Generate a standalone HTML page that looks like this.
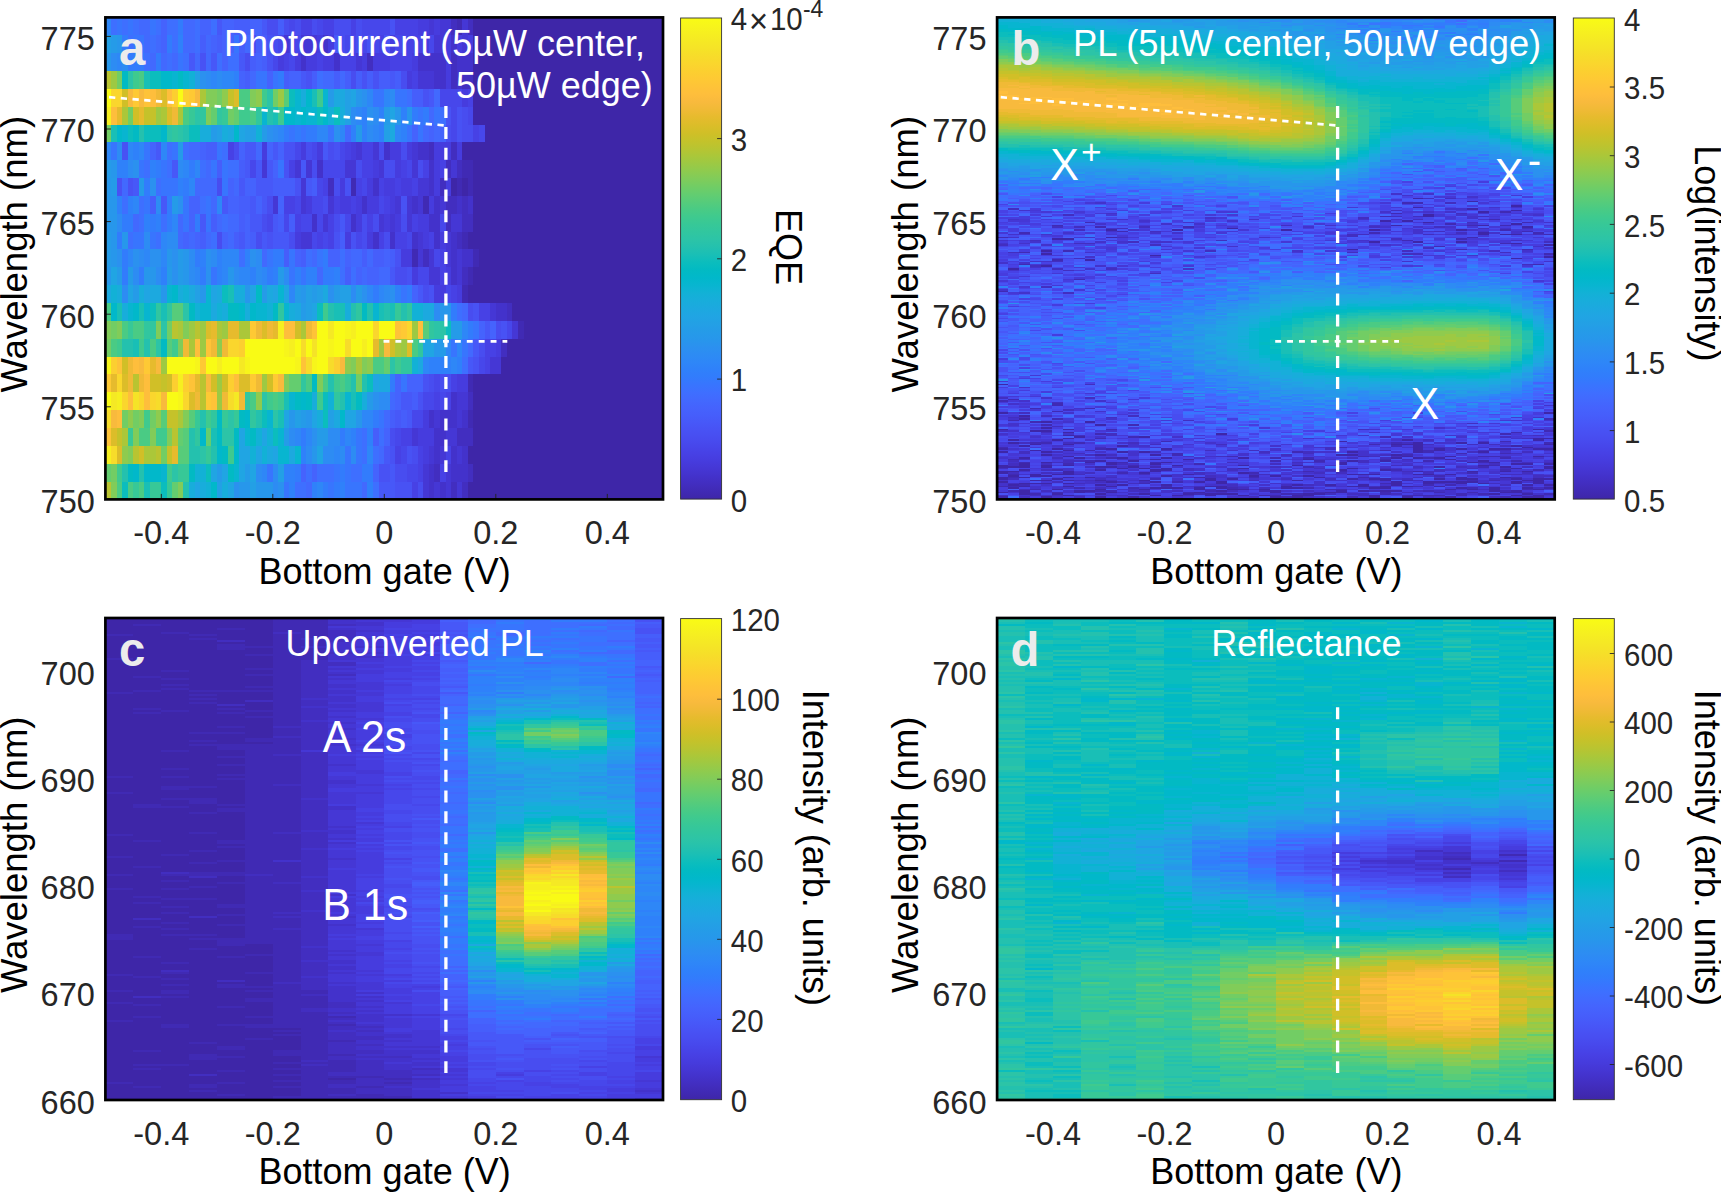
<!DOCTYPE html><html><head><meta charset="utf-8"><title>Figure</title><style>html,body{margin:0;padding:0;background:#fff}svg{display:block}text{font-family:"Liberation Sans", sans-serif}</style></head><body><svg width="1721" height="1192" viewBox="0 0 1721 1192"><rect width="1721" height="1192" fill="#fff"/><defs><linearGradient id="pg" x1="0" y1="1" x2="0" y2="0"><stop offset="0.0000" stop-color="#3e26a8"/><stop offset="0.0159" stop-color="#402ab4"/><stop offset="0.0317" stop-color="#422ec0"/><stop offset="0.0476" stop-color="#4332cb"/><stop offset="0.0635" stop-color="#4537d5"/><stop offset="0.0794" stop-color="#463cde"/><stop offset="0.0952" stop-color="#4741e5"/><stop offset="0.1111" stop-color="#4747eb"/><stop offset="0.1270" stop-color="#484df0"/><stop offset="0.1429" stop-color="#4852f4"/><stop offset="0.1587" stop-color="#4758f8"/><stop offset="0.1746" stop-color="#465efb"/><stop offset="0.1905" stop-color="#4563fd"/><stop offset="0.2063" stop-color="#4269fe"/><stop offset="0.2222" stop-color="#3e6fff"/><stop offset="0.2381" stop-color="#3875fe"/><stop offset="0.2540" stop-color="#327cfc"/><stop offset="0.2698" stop-color="#2f81fa"/><stop offset="0.2857" stop-color="#2e87f7"/><stop offset="0.3016" stop-color="#2d8cf3"/><stop offset="0.3175" stop-color="#2b91ef"/><stop offset="0.3333" stop-color="#2797eb"/><stop offset="0.3492" stop-color="#259be8"/><stop offset="0.3651" stop-color="#23a0e5"/><stop offset="0.3810" stop-color="#20a5e3"/><stop offset="0.3968" stop-color="#1ca9df"/><stop offset="0.4127" stop-color="#18addb"/><stop offset="0.4286" stop-color="#12b1d6"/><stop offset="0.4444" stop-color="#08b5d0"/><stop offset="0.4603" stop-color="#01b8ca"/><stop offset="0.4762" stop-color="#02bac3"/><stop offset="0.4921" stop-color="#0bbdbd"/><stop offset="0.5079" stop-color="#19bfb6"/><stop offset="0.5238" stop-color="#24c1ae"/><stop offset="0.5397" stop-color="#2cc4a7"/><stop offset="0.5556" stop-color="#31c69f"/><stop offset="0.5714" stop-color="#37c897"/><stop offset="0.5873" stop-color="#3fca8e"/><stop offset="0.6032" stop-color="#4acb84"/><stop offset="0.6190" stop-color="#57cc7a"/><stop offset="0.6349" stop-color="#64cd6f"/><stop offset="0.6508" stop-color="#72cd64"/><stop offset="0.6667" stop-color="#81cc59"/><stop offset="0.6825" stop-color="#8fcb4e"/><stop offset="0.6984" stop-color="#9dc943"/><stop offset="0.7143" stop-color="#abc739"/><stop offset="0.7302" stop-color="#b9c431"/><stop offset="0.7460" stop-color="#c5c22a"/><stop offset="0.7619" stop-color="#d1bf27"/><stop offset="0.7778" stop-color="#dcbd29"/><stop offset="0.7937" stop-color="#e6bb2d"/><stop offset="0.8095" stop-color="#f0ba36"/><stop offset="0.8254" stop-color="#f8ba3d"/><stop offset="0.8413" stop-color="#febe3c"/><stop offset="0.8571" stop-color="#fec338"/><stop offset="0.8730" stop-color="#fec934"/><stop offset="0.8889" stop-color="#fccf30"/><stop offset="0.9048" stop-color="#fad62d"/><stop offset="0.9206" stop-color="#f7dc2a"/><stop offset="0.9365" stop-color="#f5e327"/><stop offset="0.9524" stop-color="#f5e924"/><stop offset="0.9683" stop-color="#f6ef20"/><stop offset="0.9841" stop-color="#f7f51b"/><stop offset="1.0000" stop-color="#f9fb15"/></linearGradient></defs><svg x="105.40" y="17.40" width="557.60" height="482.00" viewBox="0 0 100 27" preserveAspectRatio="none" shape-rendering="crispEdges" fill="none" stroke-width="1"><rect width="100" height="27" fill="#3e26a8"/><path stroke="#402ab4" d="M63 .5h1M64 8.5h2M44 9.5h1M63 9.5h1M65 9.5h1M57 10.5h1M64 12.5h1M55 13.5h1M66 13.5h1M65 14.5h1M64 15.5h1M74 17.5h1M65 20.5h1M65 22.5h1"/><path stroke="#422ec0" d="M62 .5h1M65 .5h1M47 2.5h1M62 2.5h1M62 3.5h1M64 3.5h2M58 7.5h1M62 7.5h1M61 8.5h1M63 8.5h1M40 9.5h1M60 9.5h1M61 10.5h2M64 10.5h1M61 11.5h1M64 11.5h2M63 12.5h1M57 13.5h1M64 14.5h1M72 16.5h1M71 18.5h1M65 21.5h1M63 23.5h3M59 25.5h1M65 25.5h1M62 26.5h1M64 26.5h1"/><path stroke="#4332cb" d="M39 1.5h1M62 1.5h1M35 2.5h1M41 2.5h1M56 2.5h5M63 2.5h3M59 3.5h2M63 3.5h1M50 7.5h1M56 7.5h2M38 8.5h1M58 8.5h1M48 9.5h1M58 9.5h1M46 10.5h1M55 10.5h1M59 10.5h1M63 10.5h1M65 10.5h1M37 11.5h1M44 11.5h1M58 11.5h2M48 12.5h1M51 12.5h1M55 12.5h1M59 12.5h1M62 12.5h1M62 13.5h1M64 13.5h2M62 14.5h1M70 16.5h2M62 21.5h1M58 22.5h1M60 22.5h3M64 22.5h1M59 23.5h2M59 24.5h1M62 24.5h1M64 24.5h1M58 25.5h1M62 25.5h3M58 26.5h1M60 26.5h1"/><path stroke="#4537d5" d="M58 .5h1M60 .5h2M64 .5h1M32 1.5h1M35 1.5h3M59 1.5h2M64 1.5h1M45 2.5h1M56 3.5h3M45 7.5h1M48 7.5h1M55 7.5h1M28 8.5h1M34 8.5h1M36 8.5h1M43 8.5h2M49 8.5h1M55 8.5h1M62 8.5h1M35 9.5h1M56 9.5h2M30 10.5h1M35 10.5h1M40 10.5h1M52 10.5h1M54 10.5h1M56 10.5h1M60 10.5h1M39 11.5h1M49 11.5h1M51 11.5h1M54 11.5h1M62 11.5h2M35 12.5h2M56 12.5h1M61 12.5h1M56 13.5h1M58 13.5h1M61 13.5h1M63 13.5h1M58 14.5h2M63 14.5h1M69 16.5h1M73 17.5h1M69 19.5h2M63 21.5h2M59 22.5h1M63 22.5h1M55 23.5h1M61 23.5h2M58 24.5h1M60 24.5h1M63 24.5h1M57 25.5h1M61 25.5h1M57 26.5h1M59 26.5h1M61 26.5h1M63 26.5h1"/><path stroke="#463cde" d="M56 .5h2M59 .5h1M33 1.5h1M38 1.5h1M40 1.5h1M51 1.5h1M57 1.5h1M61 1.5h1M63 1.5h1M65 1.5h1M31 2.5h1M34 2.5h1M36 2.5h2M39 2.5h2M46 2.5h1M48 2.5h3M55 2.5h1M61 2.5h1M54 3.5h1M61 3.5h1M64 4.5h1M28 7.5h1M35 7.5h1M38 7.5h1M44 7.5h1M51 7.5h2M54 7.5h1M59 7.5h3M63 7.5h1M48 8.5h1M52 8.5h1M59 8.5h1M42 9.5h1M47 9.5h1M50 9.5h2M53 9.5h2M59 9.5h1M61 9.5h1M36 10.5h1M42 10.5h2M45 10.5h1M47 10.5h2M51 10.5h1M58 10.5h1M45 11.5h1M50 11.5h1M52 11.5h1M56 11.5h2M34 12.5h1M43 12.5h1M47 12.5h1M57 12.5h1M60 12.5h1M53 13.5h2M55 14.5h1M61 14.5h1M59 15.5h2M63 15.5h1M70 18.5h1M63 20.5h2M57 22.5h1M56 23.5h3M57 24.5h1"/><path stroke="#4741e5" d="M35 .5h2M39 .5h2M44 .5h1M52 .5h4M49 1.5h1M54 1.5h3M32 2.5h1M38 2.5h1M42 2.5h3M51 2.5h4M55 3.5h1M65 4.5h1M66 6.5h1M22 7.5h1M43 7.5h1M46 7.5h2M33 8.5h1M46 8.5h2M53 8.5h1M57 8.5h1M60 8.5h1M39 9.5h1M45 9.5h1M49 9.5h1M52 9.5h1M55 9.5h1M32 10.5h2M41 10.5h1M44 10.5h1M50 10.5h1M34 11.5h1M40 11.5h1M47 11.5h1M55 11.5h1M38 12.5h1M40 12.5h1M49 12.5h1M52 12.5h2M58 12.5h1M60 13.5h1M60 14.5h1M62 15.5h1M67 16.5h2M68 18.5h2M68 19.5h1M62 20.5h1M59 21.5h1M61 21.5h1M53 23.5h2M52 24.5h1M56 24.5h1M61 24.5h1M56 25.5h1M60 25.5h1M55 26.5h1"/><path stroke="#4747eb" d="M33 .5h1M38 .5h1M46 .5h5M31 1.5h1M34 1.5h1M43 1.5h2M46 1.5h1M48 1.5h1M52 1.5h2M58 1.5h1M30 2.5h1M33 2.5h1M60 4.5h4M62 5.5h1M65 5.5h1M62 6.5h1M67 6.5h1M34 7.5h1M37 7.5h1M42 7.5h1M26 8.5h1M39 8.5h4M54 8.5h1M38 9.5h1M46 9.5h1M34 10.5h1M37 10.5h2M49 10.5h1M29 11.5h1M32 11.5h1M35 11.5h2M38 11.5h1M43 11.5h1M60 11.5h1M37 12.5h1M39 12.5h1M45 12.5h1M54 12.5h1M59 13.5h1M56 14.5h2M61 15.5h1M72 17.5h1M67 19.5h1M59 20.5h1M57 21.5h2M60 21.5h1M55 22.5h2M52 23.5h1M53 24.5h1M54 25.5h2"/><path stroke="#484df0" d="M29 .5h2M32 .5h1M34 .5h1M37 .5h1M41 .5h3M45 .5h1M26 1.5h1M30 1.5h1M42 1.5h1M45 1.5h1M25 2.5h1M44 3.5h1M53 3.5h1M64 5.5h1M61 6.5h1M64 6.5h2M23 7.5h1M36 7.5h1M40 7.5h1M49 7.5h1M53 7.5h1M37 8.5h1M45 8.5h1M50 8.5h2M56 8.5h1M20 9.5h1M41 9.5h1M29 10.5h1M39 10.5h1M28 11.5h1M41 11.5h1M46 11.5h1M48 11.5h1M53 11.5h1M20 12.5h1M27 12.5h1M33 12.5h1M46 12.5h1M50 12.5h1M52 14.5h2M57 15.5h1M65 16.5h1M70 17.5h1M67 18.5h1M58 20.5h1M60 20.5h2M51 23.5h1M55 24.5h1M52 25.5h2M56 26.5h1"/><path stroke="#4852f4" d="M51 .5h1M29 1.5h1M47 1.5h1M50 1.5h1M17 2.5h1M29 2.5h1M36 3.5h1M46 3.5h1M48 3.5h1M57 4.5h1M61 5.5h1M63 5.5h1M63 6.5h1M3 7.5h1M32 7.5h2M41 7.5h1M32 8.5h1M2 9.5h1M4 9.5h1M34 9.5h1M43 9.5h1M53 10.5h1M29 12.5h1M41 12.5h1M44 12.5h1M52 13.5h1M54 14.5h1M58 15.5h1M66 16.5h1M71 17.5h1M66 19.5h1M57 20.5h1M56 21.5h1M51 24.5h1M54 24.5h1M49 25.5h2M52 26.5h3"/><path stroke="#4758f8" d="M20 .5h1M28 .5h1M41 1.5h1M15 2.5h1M19 2.5h1M24 2.5h1M35 3.5h1M51 3.5h1M58 4.5h1M9 7.5h1M25 7.5h2M30 7.5h1M39 7.5h1M12 8.5h1M25 8.5h1M27 8.5h1M29 8.5h1M35 8.5h1M5 9.5h1M24 9.5h1M27 9.5h3M36 9.5h1M10 10.5h1M21 10.5h1M26 10.5h1M28 10.5h1M17 11.5h1M26 11.5h2M30 11.5h1M42 11.5h1M24 12.5h1M28 12.5h1M30 12.5h3M51 14.5h1M56 15.5h1M68 17.5h1M66 18.5h1M65 19.5h1M53 21.5h2M52 22.5h1M54 22.5h1M50 24.5h1M51 25.5h1M49 26.5h3"/><path stroke="#465efb" d="M23 .5h3M31 .5h1M17 1.5h1M20 1.5h1M24 1.5h1M27 1.5h2M26 2.5h1M28 2.5h1M25 3.5h1M32 3.5h1M37 3.5h1M41 3.5h1M43 3.5h1M45 3.5h1M47 3.5h1M49 3.5h2M52 3.5h1M55 4.5h2M18 7.5h2M20 8.5h1M24 8.5h1M30 9.5h4M37 9.5h1M8 10.5h1M24 10.5h2M19 11.5h1M24 11.5h1M31 11.5h1M33 11.5h1M17 12.5h1M23 12.5h1M26 12.5h1M42 12.5h1M32 13.5h1M35 13.5h1M46 13.5h1M48 13.5h2M51 13.5h1M43 14.5h1M55 21.5h1M51 22.5h1M53 22.5h1M48 23.5h1"/><path stroke="#4563fd" d="M10 .5h1M17 .5h2M21 .5h2M26 .5h2M10 1.5h1M19 1.5h1M21 1.5h2M21 2.5h1M27 2.5h1M24 3.5h1M29 3.5h1M33 3.5h2M55 6.5h1M58 6.5h1M60 6.5h1M8 7.5h1M17 7.5h1M24 7.5h1M29 7.5h1M31 7.5h1M30 8.5h1M22 9.5h1M25 9.5h2M15 10.5h2M22 10.5h2M27 10.5h1M31 10.5h1M15 11.5h1M25 11.5h1M14 12.5h1M16 12.5h1M21 12.5h1M25 12.5h1M34 13.5h1M40 13.5h2M43 13.5h1M50 13.5h1M45 14.5h1M47 14.5h2M55 15.5h1M67 17.5h1M69 17.5h1M52 20.5h1M54 20.5h3M52 21.5h1M50 23.5h1M35 25.5h1M37 25.5h1M48 25.5h1"/><path stroke="#4269fe" d="M6 .5h2M14 .5h2M7 1.5h1M9 1.5h1M14 1.5h2M18 1.5h1M25 1.5h1M8 2.5h1M10 2.5h1M12 2.5h1M16 2.5h1M18 2.5h1M26 3.5h1M39 3.5h2M42 3.5h1M59 4.5h1M58 5.5h1M43 6.5h1M57 6.5h1M59 6.5h1M15 7.5h2M27 7.5h1M18 8.5h1M3 9.5h1M16 9.5h4M23 9.5h1M19 10.5h1M5 11.5h1M13 11.5h1M20 11.5h1M22 11.5h2M13 12.5h1M15 12.5h1M18 12.5h1M22 12.5h1M28 13.5h1M37 13.5h1M44 13.5h2M47 13.5h1M38 14.5h1M46 14.5h1M49 14.5h2M64 16.5h1M65 18.5h1M51 21.5h1M50 22.5h1M49 24.5h1M36 26.5h1M46 26.5h1"/><path stroke="#3e6fff" d="M1 .5h1M3 .5h1M5 .5h1M9 .5h1M11 .5h2M16 .5h1M19 .5h1M4 1.5h1M8 1.5h1M12 1.5h1M16 1.5h1M7 2.5h1M11 2.5h1M14 2.5h1M20 2.5h1M22 2.5h2M38 3.5h1M54 4.5h1M60 5.5h1M11 7.5h1M14 7.5h1M21 7.5h1M7 8.5h1M11 8.5h1M17 8.5h1M22 8.5h2M9 9.5h1M3 10.5h1M6 10.5h1M17 10.5h1M6 11.5h1M10 11.5h1M21 11.5h1M4 12.5h1M9 12.5h1M19 12.5h1M24 13.5h1M36 13.5h1M42 13.5h1M42 14.5h1M44 14.5h1M63 16.5h1M64 19.5h1M46 23.5h1M49 23.5h1M46 24.5h1M48 24.5h1M36 25.5h1M38 25.5h3M44 25.5h2M34 26.5h2M48 26.5h1"/><path stroke="#3875fe" d="M2 .5h1M4 .5h1M8 .5h1M5 1.5h2M23 1.5h1M13 2.5h1M27 3.5h2M30 3.5h1M48 4.5h2M52 4.5h2M56 5.5h1M59 5.5h1M33 6.5h1M35 6.5h1M40 6.5h1M54 6.5h1M56 6.5h1M1 7.5h1M7 7.5h1M12 7.5h1M20 7.5h1M6 8.5h1M10 8.5h1M19 8.5h1M21 8.5h1M31 8.5h1M10 9.5h3M21 9.5h1M7 10.5h1M14 10.5h1M18 10.5h1M14 11.5h1M18 11.5h1M5 12.5h2M8 12.5h1M29 13.5h1M33 13.5h1M38 13.5h1M19 14.5h1M33 14.5h1M35 14.5h1M53 15.5h1M66 17.5h1M62 18.5h1M64 18.5h1M53 20.5h1M49 22.5h1M45 23.5h1M43 24.5h1M45 24.5h1M29 25.5h1M41 25.5h1M43 25.5h1M32 26.5h1M40 26.5h1M43 26.5h3"/><path stroke="#327cfc" d="M13 .5h1M3 1.5h1M11 1.5h1M4 2.5h3M9 2.5h1M31 3.5h1M55 5.5h1M57 5.5h1M32 6.5h1M34 6.5h1M36 6.5h2M9 8.5h1M15 8.5h1M7 9.5h1M14 9.5h1M11 10.5h1M3 11.5h2M8 11.5h1M11 11.5h1M16 11.5h1M2 12.5h1M3 13.5h1M16 13.5h1M30 13.5h2M39 13.5h1M3 14.5h1M6 14.5h1M17 14.5h1M29 14.5h1M39 14.5h2M48 15.5h1M54 15.5h1M62 16.5h1M65 17.5h1M51 20.5h1M48 22.5h1M35 23.5h1M42 23.5h1M34 25.5h1M42 25.5h1M46 25.5h2M39 26.5h1M41 26.5h1"/><path stroke="#2f81fa" d="M13 1.5h1M23 3.5h1M46 5.5h1M49 5.5h1M53 5.5h1M44 6.5h1M46 6.5h1M49 6.5h1M53 6.5h1M5 7.5h1M2 8.5h2M8 8.5h1M13 9.5h1M2 10.5h1M4 10.5h1M7 11.5h1M9 11.5h1M17 13.5h1M20 13.5h1M25 13.5h1M10 14.5h1M20 14.5h1M26 14.5h1M30 14.5h1M34 14.5h1M36 14.5h2M41 14.5h1M52 15.5h1M58 19.5h4M63 19.5h1M44 23.5h1M47 23.5h1M35 24.5h1M32 25.5h2M33 26.5h1M37 26.5h1M42 26.5h1M47 26.5h1"/><path stroke="#2e87f7" d="M0 .5h1M2 2.5h1M19 3.5h1M21 3.5h2M47 4.5h1M50 4.5h1M45 5.5h1M31 6.5h1M38 6.5h2M42 6.5h1M48 6.5h1M52 6.5h1M0 7.5h1M4 7.5h1M6 7.5h1M10 7.5h1M14 8.5h1M16 8.5h1M15 9.5h1M5 10.5h1M20 10.5h1M12 11.5h1M10 12.5h1M4 13.5h1M7 13.5h1M10 13.5h1M21 13.5h3M16 14.5h1M21 14.5h1M24 14.5h2M28 14.5h1M33 15.5h1M47 15.5h1M49 15.5h1M64 17.5h1M61 18.5h1M63 18.5h1M57 19.5h1M62 19.5h1M46 22.5h2M34 23.5h1M36 23.5h1M43 23.5h1M41 24.5h1M47 24.5h1M28 25.5h1M38 26.5h1"/><path stroke="#2d8cf3" d="M1 2.5h1M3 2.5h1M18 3.5h1M20 3.5h1M51 4.5h1M44 5.5h1M48 5.5h1M30 6.5h1M47 6.5h1M2 7.5h1M4 8.5h1M13 8.5h1M9 10.5h1M2 11.5h1M7 12.5h1M11 12.5h2M6 13.5h1M15 13.5h1M19 13.5h1M27 13.5h1M5 14.5h1M9 14.5h1M15 14.5h1M23 14.5h1M27 14.5h1M32 14.5h1M3 15.5h1M44 15.5h1M50 15.5h1M59 16.5h1M49 21.5h2M33 23.5h1M40 23.5h2M36 24.5h1M39 24.5h2M42 24.5h1M44 24.5h1M27 25.5h1M30 25.5h1M30 26.5h1"/><path stroke="#2b91ef" d="M17 3.5h1M46 4.5h1M47 5.5h1M29 6.5h1M41 6.5h1M5 8.5h1M8 9.5h1M13 10.5h1M2 13.5h1M5 13.5h1M8 13.5h2M12 13.5h1M18 13.5h1M26 13.5h1M12 14.5h1M18 14.5h1M40 15.5h1M46 15.5h1M51 15.5h1M48 21.5h1M37 23.5h1M23 26.5h1M31 26.5h1"/><path stroke="#2797eb" d="M2 1.5h1M0 2.5h1M45 4.5h1M52 5.5h1M54 5.5h1M1 8.5h1M0 9.5h1M0 10.5h2M0 11.5h2M1 12.5h1M3 12.5h1M1 13.5h1M11 13.5h1M14 13.5h1M0 14.5h1M7 14.5h2M14 14.5h1M22 14.5h1M10 15.5h1M17 15.5h1M25 15.5h1M35 15.5h1M60 16.5h2M59 18.5h1M33 22.5h1M36 22.5h1M45 22.5h1M37 24.5h1M24 26.5h2M27 26.5h3"/><path stroke="#259be8" d="M1 1.5h1M40 4.5h1M50 5.5h1M19 6.5h1M28 6.5h1M45 6.5h1M13 7.5h1M0 8.5h1M1 9.5h1M6 9.5h1M12 10.5h1M0 12.5h1M0 13.5h1M13 13.5h1M2 14.5h1M4 14.5h1M11 14.5h1M13 14.5h1M31 14.5h1M5 15.5h1M28 15.5h1M34 15.5h1M37 15.5h1M41 15.5h1M45 15.5h1M35 16.5h1M62 17.5h2M60 18.5h1M47 21.5h1M35 22.5h1M32 23.5h1M38 23.5h2M20 25.5h1M25 25.5h1"/><path stroke="#23a0e5" d="M0 1.5h1M16 3.5h1M43 4.5h1M43 5.5h1M20 6.5h1M25 6.5h2M50 6.5h1M16 15.5h1M36 15.5h1M38 15.5h1M42 15.5h2M36 16.5h1M34 22.5h1M40 22.5h1M31 25.5h1M20 26.5h1M26 26.5h1"/><path stroke="#20a5e3" d="M44 4.5h1M51 5.5h1M24 6.5h1M1 14.5h1M4 15.5h1M7 15.5h1M19 15.5h1M26 15.5h1M30 15.5h1M32 15.5h1M37 16.5h1M57 18.5h2M48 20.5h1M32 22.5h1M37 22.5h1M43 22.5h2M24 23.5h1M28 23.5h1M24 24.5h2M27 24.5h1M30 24.5h1M38 24.5h1M19 25.5h1M21 25.5h1M24 25.5h1M26 25.5h1M16 26.5h1M22 26.5h1"/><path stroke="#1ca9df" d="M41 4.5h2M22 6.5h1M51 6.5h1M0 15.5h1M8 15.5h2M15 15.5h1M20 15.5h1M29 15.5h1M39 15.5h1M19 16.5h1M34 16.5h1M57 16.5h2M56 19.5h1M49 20.5h2M41 22.5h1M29 24.5h1M33 24.5h1"/><path stroke="#18addb" d="M35 4.5h1M42 5.5h1M17 6.5h2M21 6.5h1M2 15.5h1M6 15.5h1M13 15.5h1M23 15.5h2M3 16.5h1M21 16.5h1M25 16.5h1M33 16.5h1M43 16.5h1M37 21.5h1M46 21.5h1M38 22.5h1M15 26.5h1M17 26.5h1M21 26.5h1"/><path stroke="#12b1d6" d="M15 3.5h1M40 5.5h1M27 6.5h1M1 15.5h1M14 15.5h1M16 16.5h1M20 16.5h1M29 16.5h1M55 16.5h2M55 19.5h1M40 21.5h1M27 23.5h1M29 23.5h1M26 24.5h1M28 24.5h1M16 25.5h2M18 26.5h1"/><path stroke="#08b5d0" d="M12 3.5h1M14 3.5h1M34 4.5h1M39 4.5h1M28 5.5h1M34 5.5h1M36 5.5h2M3 6.5h1M11 15.5h1M18 15.5h1M31 15.5h1M4 16.5h1M7 16.5h1M17 16.5h2M27 16.5h2M32 16.5h1M48 16.5h1M33 21.5h1M43 21.5h1M29 22.5h1M25 23.5h1M31 23.5h1M31 24.5h2M34 24.5h1M10 25.5h1M23 25.5h1"/><path stroke="#01b8ca" d="M10 3.5h2M36 4.5h1M32 5.5h2M35 5.5h1M39 5.5h1M2 6.5h1M10 6.5h1M23 6.5h1M12 15.5h1M1 16.5h1M5 16.5h1M24 16.5h1M26 16.5h1M35 21.5h1M25 22.5h1M42 22.5h1M17 23.5h1M20 24.5h1M23 24.5h1M5 25.5h1M7 25.5h3M19 26.5h1"/><path stroke="#02bac3" d="M3 3.5h1M13 3.5h1M5 6.5h1M27 15.5h1M15 16.5h1M22 16.5h2M30 16.5h1M46 16.5h1M10 18.5h1M37 20.5h1M34 21.5h1M36 21.5h1M45 21.5h1M20 22.5h1M24 22.5h1M20 23.5h1M23 23.5h1M26 23.5h1M21 24.5h1M4 25.5h1M15 25.5h1M22 25.5h1"/><path stroke="#0bbdbd" d="M8 3.5h2M33 4.5h1M38 5.5h1M41 5.5h1M4 6.5h1M7 6.5h3M15 6.5h2M21 15.5h1M8 16.5h1M38 16.5h1M61 17.5h1M47 20.5h1M39 21.5h1M28 22.5h1M39 22.5h1M30 23.5h1M18 25.5h1M3 26.5h1M10 26.5h1"/><path stroke="#19bfb6" d="M7 3.5h1M37 4.5h1M30 5.5h1M1 6.5h1M22 15.5h1M2 16.5h1M6 16.5h1M10 16.5h1M41 16.5h2M49 16.5h1M51 16.5h1M5 18.5h1M32 21.5h1M44 21.5h1M31 22.5h1M19 23.5h1M7 26.5h1"/><path stroke="#24c1ae" d="M29 5.5h1M6 6.5h1M14 6.5h1M40 16.5h1M44 16.5h1M47 16.5h1M50 16.5h1M53 16.5h1M3 18.5h2M7 18.5h1M40 20.5h1M44 20.5h1M46 20.5h1M42 21.5h1M17 22.5h1M27 22.5h1M15 23.5h1M15 24.5h2M19 24.5h1M3 25.5h1M6 25.5h1M14 26.5h1"/><path stroke="#2cc4a7" d="M4 3.5h1M29 4.5h1M16 5.5h1M11 6.5h1M13 6.5h1M14 16.5h1M10 17.5h1M59 17.5h2M9 18.5h1M51 19.5h1M28 21.5h1M22 22.5h1M30 22.5h1M21 23.5h2M17 24.5h1M12 25.5h1"/><path stroke="#31c69f" d="M17 5.5h1M20 5.5h1M27 5.5h1M12 6.5h1M9 16.5h1M11 16.5h1M31 16.5h1M45 16.5h1M54 16.5h1M7 17.5h2M58 17.5h1M56 18.5h1M53 19.5h2M35 20.5h1M25 21.5h1M41 21.5h1M19 22.5h1M26 22.5h1M16 23.5h1"/><path stroke="#37c897" d="M15 5.5h1M21 5.5h1M52 16.5h1M4 17.5h1M43 20.5h1M16 22.5h1M21 22.5h1M23 22.5h1M4 23.5h1M18 24.5h1M13 25.5h2M5 26.5h1M8 26.5h2M11 26.5h1"/><path stroke="#3fca8e" d="M5 3.5h1M28 4.5h1M38 4.5h1M24 5.5h2M31 5.5h1M39 16.5h1M2 18.5h1M6 18.5h1M12 18.5h1M52 19.5h1M41 20.5h1M29 21.5h1M31 21.5h1M38 21.5h1M7 22.5h1M18 22.5h1M9 23.5h2M22 24.5h1M2 25.5h1M11 25.5h1"/><path stroke="#4acb84" d="M6 3.5h1M24 4.5h2M14 5.5h1M26 5.5h1M0 16.5h1M3 17.5h1M5 17.5h2M1 18.5h1M8 18.5h1M55 18.5h1M48 19.5h2M36 20.5h1M39 20.5h1M42 20.5h1M26 21.5h1M30 21.5h1M6 23.5h2M2 26.5h1M4 26.5h1M6 26.5h1"/><path stroke="#57cc7a" d="M32 4.5h1M12 16.5h2M57 17.5h1M11 18.5h1M10 22.5h1M15 22.5h1M14 23.5h1M13 24.5h2"/><path stroke="#64cd6f" d="M19 5.5h1M23 5.5h1M50 19.5h1M33 20.5h2M13 23.5h1M18 23.5h1M0 25.5h1M12 26.5h1"/><path stroke="#72cd64" d="M2 3.5h1M20 4.5h1M30 4.5h1M4 5.5h1M22 5.5h1M0 6.5h1M1 17.5h1M11 17.5h1M0 18.5h1M45 20.5h1M3 22.5h1M5 22.5h1M8 22.5h1M10 24.5h1M1 25.5h1"/><path stroke="#81cc59" d="M18 4.5h2M26 4.5h1M18 5.5h1M0 17.5h1M2 17.5h1M9 17.5h1M14 17.5h1M13 18.5h1M44 19.5h1M46 19.5h1M32 20.5h1M38 20.5h1M6 22.5h1M14 22.5h1M5 23.5h1M8 23.5h1M11 23.5h1M4 24.5h1M1 26.5h1M13 26.5h1"/><path stroke="#8fcb4e" d="M21 4.5h1M27 4.5h1M20 18.5h1M43 19.5h1M47 19.5h1M27 21.5h1M4 22.5h1M9 22.5h1M3 24.5h1"/><path stroke="#9dc943" d="M1 3.5h1M31 4.5h1M9 5.5h1M15 17.5h1M17 17.5h1M21 17.5h1M55 17.5h1M17 18.5h1M49 18.5h1M53 18.5h1M10 19.5h1M20 20.5h1M28 20.5h1M20 21.5h1"/><path stroke="#abc739" d="M17 4.5h1M3 5.5h1M10 5.5h1M13 5.5h1M13 17.5h1M20 17.5h1M24 17.5h2M35 17.5h1M15 18.5h1M52 18.5h1M45 19.5h1M13 22.5h1M3 23.5h1M7 24.5h2"/><path stroke="#b9c431" d="M0 3.5h1M12 17.5h1M16 17.5h1M5 20.5h1M17 20.5h1M17 21.5h1M12 23.5h1M5 24.5h1M9 24.5h1M0 26.5h1"/><path stroke="#c5c22a" d="M22 4.5h1M7 5.5h2M10 20.5h1M11 22.5h2M2 23.5h1M11 24.5h1"/><path stroke="#d1bf27" d="M3 4.5h1M5 5.5h1M34 17.5h1M51 18.5h1M3 19.5h1M8 20.5h2M11 20.5h1M19 20.5h1M21 20.5h1M29 20.5h1M6 24.5h1"/><path stroke="#dcbd29" d="M10 4.5h1M23 4.5h1M11 5.5h1M18 17.5h1M28 17.5h1M54 18.5h1M3 20.5h1M24 20.5h2M15 21.5h1M1 23.5h1M2 24.5h1"/><path stroke="#e6bb2d" d="M2 5.5h1M6 5.5h1M19 17.5h1M22 17.5h2M30 17.5h1M48 18.5h1M8 19.5h1M1 20.5h1M16 20.5h1M12 24.5h1"/><path stroke="#f0ba36" d="M9 4.5h1M12 5.5h1M27 17.5h1M29 17.5h1M36 17.5h1M14 18.5h1M19 18.5h1M21 18.5h1M4 19.5h1M4 20.5h1M6 20.5h1M27 20.5h1M16 21.5h1M21 21.5h1M24 21.5h1"/><path stroke="#f8ba3d" d="M4 4.5h1M6 4.5h1M16 4.5h1M50 18.5h1M6 19.5h1M9 19.5h1M42 19.5h1M18 20.5h1M31 20.5h1M10 21.5h1M1 22.5h1"/><path stroke="#febe3c" d="M8 4.5h1M11 4.5h1M1 5.5h1M32 17.5h2M56 17.5h1M16 18.5h1M5 19.5h1M7 20.5h1M23 20.5h1M4 21.5h1M7 21.5h1M2 22.5h1"/><path stroke="#fec338" d="M7 4.5h1M37 17.5h1M52 17.5h1M18 18.5h1M2 19.5h1M35 19.5h1M15 20.5h1M19 21.5h1M0 23.5h1"/><path stroke="#fec934" d="M5 4.5h1M15 4.5h1M26 17.5h1M53 17.5h1M7 19.5h1M17 19.5h1M0 20.5h1M26 20.5h1M30 20.5h1M18 21.5h1"/><path stroke="#fccf30" d="M12 4.5h1M14 4.5h1M24 18.5h1M1 19.5h1M41 19.5h1M12 20.5h1M14 20.5h1M22 20.5h1"/><path stroke="#fad62d" d="M1 4.5h2M48 17.5h1M54 17.5h1M22 18.5h2M2 20.5h1M3 21.5h1M6 21.5h1M8 21.5h1M14 21.5h1"/><path stroke="#f7dc2a" d="M35 18.5h1M43 18.5h1M36 19.5h1M40 19.5h1M9 21.5h1M22 21.5h1M0 22.5h1M1 24.5h1"/><path stroke="#f5e327" d="M37 18.5h1M5 21.5h1"/><path stroke="#f5e924" d="M40 17.5h1M24 19.5h1M1 21.5h1M23 21.5h1"/><path stroke="#f6ef20" d="M0 5.5h1M31 17.5h1M44 17.5h1M33 18.5h1M46 18.5h1M20 19.5h1M13 20.5h1M2 21.5h1M0 24.5h1"/><path stroke="#f7f51b" d="M43 17.5h1M32 18.5h1M40 18.5h1M0 19.5h1M16 19.5h1M25 19.5h1M34 19.5h1M37 19.5h1M13 21.5h1"/><path stroke="#f9fb15" d="M0 4.5h1M13 4.5h1M38 17.5h2M41 17.5h2M45 17.5h3M49 17.5h3M25 18.5h7M34 18.5h1M36 18.5h1M38 18.5h2M41 18.5h2M44 18.5h2M47 18.5h1M11 19.5h5M18 19.5h2M21 19.5h3M26 19.5h8M38 19.5h2M0 21.5h1M11 21.5h2"/></svg><path d="M161.3 499.4v-5.5" stroke="#262626" stroke-width="1"/><text x="161.3" y="544.0" font-size="32.50" fill="#262626" text-anchor="middle">-0.4</text><path d="M272.8 499.4v-5.5" stroke="#262626" stroke-width="1"/><text x="272.8" y="544.0" font-size="32.50" fill="#262626" text-anchor="middle">-0.2</text><path d="M384.3 499.4v-5.5" stroke="#262626" stroke-width="1"/><text x="384.3" y="544.0" font-size="32.50" fill="#262626" text-anchor="middle">0</text><path d="M495.8 499.4v-5.5" stroke="#262626" stroke-width="1"/><text x="495.8" y="544.0" font-size="32.50" fill="#262626" text-anchor="middle">0.2</text><path d="M607.3 499.4v-5.5" stroke="#262626" stroke-width="1"/><text x="607.3" y="544.0" font-size="32.50" fill="#262626" text-anchor="middle">0.4</text><path d="M105.4 499.4h5.5" stroke="#262626" stroke-width="1"/><text x="94.8" y="512.8" font-size="32.50" fill="#262626" text-anchor="end">750</text><path d="M105.4 406.8h5.5" stroke="#262626" stroke-width="1"/><text x="94.8" y="420.2" font-size="32.50" fill="#262626" text-anchor="end">755</text><path d="M105.4 314.2h5.5" stroke="#262626" stroke-width="1"/><text x="94.8" y="327.6" font-size="32.50" fill="#262626" text-anchor="end">760</text><path d="M105.4 221.6h5.5" stroke="#262626" stroke-width="1"/><text x="94.8" y="235.0" font-size="32.50" fill="#262626" text-anchor="end">765</text><path d="M105.4 129.0h5.5" stroke="#262626" stroke-width="1"/><text x="94.8" y="142.4" font-size="32.50" fill="#262626" text-anchor="end">770</text><path d="M105.4 36.4h5.5" stroke="#262626" stroke-width="1"/><text x="94.8" y="49.8" font-size="32.50" fill="#262626" text-anchor="end">775</text><rect x="105.40" y="17.40" width="557.60" height="482.00" fill="none" stroke="#000" stroke-width="2.7"/><text transform="translate(384.6 583.8) scale(0.987 1)" font-size="36.50" fill="#000" text-anchor="middle">Bottom gate (V)</text><text transform="translate(26.5 254.2) rotate(-90) scale(1.000 1)" font-size="36.50" fill="#000" text-anchor="middle">Wavelength (nm)</text><rect x="680.6" y="18.0" width="41.0" height="481.1" fill="url(#pg)" stroke="#333" stroke-width="0.9"/><text transform="translate(730.8 511.5) scale(0.935 1)" font-size="31.50" fill="#262626" text-anchor="start">0</text><text transform="translate(730.8 391.2) scale(0.935 1)" font-size="31.50" fill="#262626" text-anchor="start">1</text><path d="M721.6 379.1h-4.5" stroke="#262626" stroke-width="0.9"/><text transform="translate(730.8 271.0) scale(0.935 1)" font-size="31.50" fill="#262626" text-anchor="start">2</text><path d="M721.6 258.8h-4.5" stroke="#262626" stroke-width="0.9"/><text transform="translate(730.8 150.8) scale(0.935 1)" font-size="31.50" fill="#262626" text-anchor="start">3</text><path d="M721.6 138.6h-4.5" stroke="#262626" stroke-width="0.9"/><text transform="translate(775.5 247.0) rotate(90) scale(0.987 1)" font-size="36.50" fill="#000" text-anchor="middle">EQE</text><text transform="translate(730.8 30.2) scale(0.935 1)" font-size="31.50" fill="#262626">4<tspan x="19.47" dy="3.2" font-size="35">×</tspan><tspan x="41.93" dy="-3.2" font-size="31.50">10</tspan><tspan x="77.22" dy="-13.7" font-size="24.5">-4</tspan></text><path d="M445.9 106.1V472.0" stroke="#fff" stroke-width="3.3" stroke-dasharray="12 8.83" fill="none"/><path d="M443.7 125.3L106.4 97.0" stroke="#fff" stroke-width="2.7" stroke-dasharray="6.3 5.47" fill="none"/><path d="M383.5 341.3H507.3" stroke="#fff" stroke-width="2.7" stroke-dasharray="5.9 6" fill="none"/><text x="119.0" y="65.4" font-size="47.20" fill="#ececec" text-anchor="start" font-weight="bold">a</text><text transform="translate(224.0 55.6) scale(0.987 1)" font-size="36.50" fill="#fff" text-anchor="start">Photocurrent (5µW center,</text><text transform="translate(455.9 98.4) scale(0.987 1)" font-size="36.50" fill="#fff" text-anchor="start">50µW edge)</text><svg x="997.10" y="17.40" width="557.60" height="482.00" viewBox="0 0 51 321" preserveAspectRatio="none" shape-rendering="crispEdges" fill="none" stroke-width="1"><rect width="51" height="321" fill="#4563fd"/><path stroke="#3e26a8" d="M38 120.5h1M43 122.5h1M47 125.5h1M38 126.5h1M43 127.5h1M47 128.5h1M44 129.5h1M39 131.5h1M39 132.5h1M35 135.5h1M37 135.5h1M39 136.5h1M47 137.5h1M36 138.5h1M44 138.5h1M48 139.5h1M21 140.5h1M10 141.5h1M16 141.5h1M26 141.5h1M34 141.5h1M42 141.5h1M44 143.5h1M44 144.5h1M46 144.5h2M10 146.5h1M5 147.5h2M34 149.5h1M38 149.5h1M42 149.5h1M47 150.5h1M50 151.5h1M32 154.5h1M4 155.5h1M4 157.5h1M14 158.5h1M50 159.5h1M47 160.5h1M8 161.5h1M4 165.5h1M1 167.5h1M0 244.5h1M0 263.5h1M50 263.5h1M2 265.5h1M2 267.5h1M4 269.5h1M8 269.5h1M9 271.5h1M4 273.5h1M0 274.5h1M6 274.5h1M49 274.5h1M3 275.5h2M6 276.5h1M20 277.5h1M6 278.5h1M7 279.5h1M13 279.5h1M6 280.5h1M49 280.5h2M1 281.5h1M5 281.5h1M37 281.5h1M49 281.5h1M31 282.5h1M1 283.5h1M38 283.5h1M42 283.5h1M44 283.5h1M3 284.5h1M6 284.5h1M36 284.5h3M50 284.5h1M2 285.5h1M11 285.5h1M38 285.5h1M47 285.5h1M38 286.5h1M48 286.5h1M0 287.5h1M5 287.5h1M10 287.5h1M15 287.5h1M38 287.5h1M40 287.5h1M42 287.5h1M45 287.5h2M49 287.5h2M3 288.5h1M6 288.5h1M38 288.5h1M40 288.5h1M0 289.5h1M4 289.5h1M11 289.5h1M13 289.5h1M32 289.5h1M38 289.5h1M44 289.5h1M4 291.5h1M9 291.5h1M14 291.5h1M31 291.5h2M36 291.5h1M6 292.5h1M37 292.5h1M41 292.5h1M49 292.5h1M2 293.5h1M7 293.5h1M11 293.5h1M15 293.5h1M22 293.5h1M36 293.5h1M38 293.5h1M40 293.5h1M14 294.5h1M17 294.5h1M28 294.5h1M41 294.5h1M9 295.5h1M12 295.5h1M32 295.5h1M35 295.5h1M44 295.5h1M4 296.5h1M8 296.5h1M10 296.5h1M15 296.5h1M31 296.5h1M43 296.5h1M45 296.5h1M2 297.5h1M10 297.5h1M14 297.5h1M31 297.5h1M47 297.5h2M50 297.5h1M0 298.5h1M2 298.5h1M4 298.5h1M6 298.5h1M16 298.5h1M22 298.5h1M27 298.5h1M44 298.5h1M0 299.5h3M4 299.5h1M9 299.5h2M12 299.5h1M40 299.5h1M46 299.5h1M50 299.5h1M11 300.5h1M13 300.5h1M15 300.5h1M22 300.5h1M32 300.5h1M47 300.5h1M50 300.5h1M2 301.5h1M9 301.5h1M14 301.5h2M31 301.5h1M35 301.5h1M0 302.5h2M6 302.5h1M14 302.5h1M38 302.5h1M43 302.5h1M46 302.5h1M48 302.5h1M0 303.5h1M6 303.5h1M13 303.5h1M22 303.5h1M3 304.5h1M5 304.5h2M17 304.5h1M32 304.5h3M38 304.5h2M41 304.5h1M1 305.5h1M3 305.5h2M15 305.5h1M23 305.5h1M25 305.5h1M28 305.5h1M0 306.5h1M2 306.5h1M6 306.5h1M8 306.5h1M18 306.5h1M29 306.5h1M42 306.5h1M46 306.5h1M0 307.5h1M5 307.5h1M19 307.5h1M21 307.5h1M32 307.5h1M34 307.5h2M40 307.5h1M42 307.5h2M47 307.5h1M49 307.5h2M3 308.5h2M6 308.5h1M9 308.5h1M13 308.5h1M19 308.5h1M27 308.5h1M35 308.5h1M48 308.5h2M0 309.5h1M10 309.5h1M14 309.5h1M18 309.5h1M20 309.5h1M36 309.5h1M39 309.5h5M47 309.5h1M49 309.5h1M2 310.5h3M6 310.5h1M20 310.5h1M36 310.5h1M39 310.5h1M42 310.5h1M44 310.5h1M47 310.5h1M49 310.5h1M1 311.5h1M9 311.5h1M11 311.5h1M15 311.5h1M27 311.5h1M30 311.5h1M33 311.5h1M36 311.5h1M48 311.5h1M50 311.5h1M2 312.5h1M6 312.5h1M10 312.5h1M19 312.5h2M26 312.5h1M32 312.5h2M35 312.5h1M37 312.5h1M40 312.5h1M1 313.5h1M14 313.5h3M18 313.5h1M20 313.5h1M26 313.5h2M34 313.5h2M42 313.5h1M45 313.5h1M48 313.5h1M50 313.5h1M5 314.5h1M9 314.5h1M13 314.5h1M18 314.5h1M21 314.5h2M24 314.5h1M41 314.5h1M43 314.5h1M45 314.5h1M49 314.5h1M2 315.5h1M7 315.5h2M20 315.5h1M25 315.5h1M31 315.5h1M33 315.5h1M35 315.5h2M45 315.5h1M47 315.5h1M0 316.5h1M2 316.5h1M7 316.5h1M10 316.5h1M18 316.5h1M25 316.5h1M30 316.5h2M46 316.5h2M2 317.5h1M5 317.5h1M9 317.5h1M13 317.5h1M17 317.5h1M19 317.5h3M28 317.5h2M45 317.5h1M48 317.5h1M6 318.5h1M14 318.5h1M16 318.5h1M19 318.5h1M22 318.5h1M24 318.5h1M27 318.5h2M34 318.5h1M47 318.5h1M49 318.5h1M0 319.5h1M4 319.5h1M9 319.5h1M12 319.5h1M25 319.5h1M27 319.5h1M34 319.5h1M37 319.5h1M41 319.5h1M48 319.5h2M0 320.5h1M6 320.5h1M12 320.5h1M16 320.5h1M18 320.5h1M24 320.5h1M28 320.5h1M31 320.5h1M33 320.5h1M36 320.5h1M40 320.5h1M47 320.5h1M49 320.5h2"/><path stroke="#402ab4" d="M37 123.5h2M46 129.5h1M36 130.5h1M35 132.5h1M45 134.5h1M8 136.5h1M48 136.5h1M41 137.5h1M5 138.5h1M43 138.5h1M46 138.5h1M9 139.5h1M17 139.5h1M46 141.5h1M11 142.5h1M48 142.5h1M2 143.5h1M34 143.5h1M49 143.5h1M50 144.5h1M0 146.5h1M43 146.5h1M42 147.5h1M37 148.5h1M46 150.5h1M40 152.5h1M42 154.5h1M48 154.5h1M6 155.5h1M2 156.5h1M50 157.5h1M5 161.5h1M2 164.5h1M49 164.5h1M7 174.5h1M0 182.5h1M1 254.5h1M0 255.5h1M5 257.5h1M5 258.5h1M3 260.5h1M8 260.5h1M5 262.5h1M5 267.5h1M50 267.5h1M1 268.5h1M3 269.5h1M4 271.5h1M12 271.5h1M10 274.5h1M50 275.5h1M47 276.5h1M9 277.5h1M46 277.5h1M12 279.5h1M35 279.5h1M9 280.5h1M15 282.5h1M46 282.5h1M3 283.5h2M7 283.5h1M36 283.5h1M50 283.5h1M34 284.5h1M36 285.5h1M0 286.5h1M31 286.5h1M9 287.5h1M8 288.5h1M35 288.5h1M39 288.5h1M27 289.5h1M39 289.5h1M16 290.5h1M42 290.5h1M46 290.5h1M16 291.5h1M37 291.5h1M21 292.5h1M33 292.5h1M44 292.5h2M10 293.5h1M25 293.5h1M28 293.5h1M39 293.5h1M46 293.5h1M1 294.5h1M35 294.5h1M8 295.5h1M25 295.5h1M29 295.5h1M39 295.5h1M47 295.5h1M2 296.5h1M11 296.5h1M14 296.5h1M44 296.5h1M6 297.5h1M18 297.5h1M12 298.5h1M45 298.5h1M14 299.5h1M28 299.5h1M44 299.5h1M5 301.5h1M36 301.5h1M46 301.5h1M49 301.5h1M28 302.5h1M31 302.5h1M11 303.5h1M23 303.5h1M43 303.5h1M1 304.5h1M40 305.5h1M1 306.5h1M23 306.5h1M33 306.5h1M47 306.5h1M14 307.5h1M37 308.5h1M43 308.5h1M45 308.5h1M16 309.5h1M13 310.5h1M35 310.5h1M2 311.5h1M39 311.5h1M41 311.5h1M0 312.5h2M15 312.5h1M38 312.5h1M7 313.5h1M12 313.5h1M21 313.5h1M28 313.5h1M43 313.5h1M3 314.5h1M30 314.5h2M48 314.5h1M1 315.5h1M9 315.5h2M19 315.5h1M24 315.5h1M34 315.5h1M39 315.5h1M46 315.5h1M5 316.5h1M17 316.5h1M29 316.5h1M35 316.5h1M40 316.5h1M43 316.5h1M3 317.5h1M18 317.5h1M26 317.5h2M35 317.5h1M42 317.5h1M44 317.5h1M50 317.5h1M25 318.5h1M37 318.5h4M42 318.5h1M26 319.5h1M32 319.5h1M46 319.5h1M23 320.5h1M26 320.5h1"/><path stroke="#422ec0" d="M39 120.5h1M41 120.5h1M41 123.5h1M1 127.5h1M36 128.5h1M42 130.5h1M6 131.5h1M36 132.5h1M38 132.5h1M44 132.5h1M33 133.5h1M38 134.5h1M47 134.5h1M43 136.5h1M26 138.5h1M5 139.5h1M7 139.5h1M13 139.5h1M34 139.5h1M40 139.5h1M11 140.5h1M44 140.5h1M48 140.5h1M7 141.5h1M14 142.5h1M40 142.5h1M42 143.5h1M32 144.5h2M39 144.5h1M49 144.5h1M32 145.5h1M11 146.5h1M36 147.5h1M3 148.5h1M20 148.5h1M47 148.5h1M12 149.5h1M50 149.5h1M7 150.5h2M0 151.5h1M14 151.5h1M39 153.5h1M19 155.5h1M37 155.5h1M45 155.5h1M1 156.5h1M32 156.5h1M46 156.5h1M37 157.5h2M7 160.5h1M5 162.5h1M48 164.5h1M3 165.5h1M5 167.5h1M10 167.5h1M6 168.5h1M14 170.5h1M4 179.5h1M6 183.5h1M8 244.5h1M0 253.5h1M8 253.5h1M5 256.5h1M6 261.5h1M2 263.5h1M4 265.5h1M12 265.5h1M1 266.5h2M10 266.5h1M17 268.5h1M43 270.5h1M5 272.5h1M33 274.5h1M0 275.5h1M4 276.5h1M10 277.5h1M7 278.5h1M10 278.5h1M49 278.5h1M46 279.5h1M48 280.5h1M39 281.5h1M2 283.5h1M6 283.5h1M12 283.5h1M37 283.5h1M14 284.5h1M20 284.5h1M39 284.5h1M43 284.5h1M45 284.5h1M46 285.5h1M9 286.5h1M30 286.5h1M40 286.5h1M30 287.5h1M47 287.5h1M15 288.5h1M19 288.5h1M23 288.5h1M44 288.5h3M50 288.5h1M2 289.5h1M5 289.5h1M14 289.5h1M24 289.5h1M28 289.5h1M43 289.5h1M48 289.5h1M2 290.5h1M7 290.5h1M28 290.5h1M47 290.5h1M8 291.5h1M10 291.5h1M26 291.5h1M35 291.5h1M20 292.5h1M34 292.5h1M36 292.5h1M46 292.5h1M5 293.5h1M32 293.5h1M35 293.5h1M2 294.5h1M37 294.5h1M1 295.5h1M6 295.5h2M33 295.5h1M42 295.5h1M5 296.5h2M21 296.5h1M27 296.5h1M29 296.5h1M33 296.5h1M48 296.5h1M50 296.5h1M1 297.5h1M4 297.5h1M11 297.5h1M25 297.5h1M45 297.5h1M1 298.5h1M36 298.5h2M8 299.5h1M25 299.5h1M38 299.5h1M42 299.5h1M48 299.5h1M0 300.5h1M9 300.5h1M17 300.5h1M21 300.5h1M29 300.5h1M35 300.5h1M43 300.5h1M46 300.5h1M4 301.5h1M17 301.5h1M21 301.5h1M30 301.5h1M40 301.5h1M37 302.5h1M39 302.5h2M1 303.5h1M4 303.5h1M8 303.5h1M18 303.5h1M29 303.5h1M31 303.5h1M39 303.5h1M48 303.5h1M7 304.5h1M13 304.5h1M18 304.5h1M23 304.5h2M46 304.5h2M19 305.5h1M49 305.5h2M10 306.5h1M19 306.5h1M38 306.5h1M49 306.5h1M1 307.5h1M9 307.5h1M26 307.5h1M30 307.5h1M37 307.5h1M45 307.5h2M7 308.5h2M10 308.5h1M23 308.5h1M38 308.5h1M5 309.5h1M9 309.5h1M11 309.5h1M13 309.5h1M1 310.5h1M7 310.5h1M12 310.5h1M40 310.5h1M45 310.5h1M21 311.5h1M26 311.5h1M28 311.5h1M46 311.5h1M18 312.5h1M21 312.5h1M30 312.5h1M34 312.5h1M9 313.5h1M22 313.5h1M24 313.5h1M49 313.5h1M2 314.5h1M12 314.5h1M19 314.5h1M44 314.5h1M4 315.5h1M12 315.5h2M16 315.5h1M21 315.5h1M28 315.5h1M38 315.5h1M40 315.5h1M8 316.5h1M20 316.5h1M37 316.5h1M48 316.5h1M12 317.5h1M30 317.5h1M32 317.5h2M36 317.5h1M0 318.5h1M3 318.5h1M5 318.5h1M11 318.5h1M17 318.5h1M33 318.5h1M2 319.5h1M7 319.5h1M23 319.5h1M28 319.5h1M39 319.5h1M45 319.5h1M7 320.5h1M14 320.5h1M17 320.5h1M19 320.5h1M21 320.5h2M44 320.5h1"/><path stroke="#4332cb" d="M36 117.5h1M39 117.5h1M37 118.5h1M43 119.5h1M9 123.5h1M45 126.5h1M47 126.5h1M41 127.5h2M2 128.5h1M35 129.5h1M39 129.5h1M41 129.5h1M10 130.5h1M44 130.5h1M42 131.5h1M49 131.5h1M43 132.5h1M19 133.5h1M43 133.5h1M1 134.5h1M11 134.5h1M23 134.5h1M33 134.5h1M36 134.5h1M44 134.5h1M13 135.5h1M21 135.5h1M17 136.5h1M50 136.5h1M9 137.5h1M15 137.5h1M18 137.5h1M43 137.5h1M30 138.5h1M34 138.5h1M28 139.5h1M35 139.5h1M38 139.5h1M41 139.5h1M10 140.5h1M39 140.5h1M46 140.5h1M12 141.5h1M35 141.5h1M38 141.5h1M43 141.5h1M10 142.5h1M38 142.5h2M44 142.5h1M47 142.5h1M6 143.5h1M14 143.5h1M16 143.5h1M38 143.5h1M45 143.5h1M47 143.5h1M1 144.5h2M4 144.5h1M41 144.5h2M1 146.5h1M8 146.5h1M24 146.5h1M16 147.5h1M0 148.5h1M33 148.5h1M3 149.5h1M9 149.5h1M11 149.5h1M14 149.5h2M0 150.5h1M2 150.5h1M4 151.5h1M35 151.5h1M21 152.5h1M49 152.5h1M50 153.5h1M27 155.5h1M48 155.5h1M8 156.5h1M43 158.5h1M8 159.5h1M3 162.5h2M37 162.5h1M50 162.5h1M0 163.5h1M2 163.5h1M4 164.5h1M9 165.5h1M3 166.5h1M10 166.5h1M8 167.5h1M17 167.5h1M1 168.5h1M0 181.5h1M2 183.5h1M2 246.5h1M4 253.5h1M2 255.5h1M9 255.5h1M1 257.5h1M50 258.5h1M7 260.5h1M9 262.5h1M6 263.5h1M49 266.5h1M1 267.5h1M10 267.5h1M47 268.5h1M50 268.5h1M6 269.5h1M1 270.5h1M1 271.5h1M43 272.5h1M40 273.5h1M34 274.5h1M50 274.5h1M1 275.5h1M10 275.5h1M34 276.5h1M0 277.5h1M6 277.5h1M33 278.5h1M41 278.5h1M48 278.5h1M3 279.5h1M9 279.5h1M16 279.5h1M37 279.5h1M42 279.5h1M28 280.5h1M47 280.5h1M8 281.5h1M36 281.5h1M41 281.5h1M4 282.5h1M39 282.5h1M44 282.5h1M11 283.5h1M19 283.5h1M35 283.5h1M40 283.5h2M12 284.5h1M5 285.5h1M12 285.5h2M25 285.5h1M48 285.5h1M14 286.5h1M29 286.5h1M35 286.5h1M37 286.5h1M39 286.5h1M41 286.5h1M44 286.5h1M49 286.5h2M1 287.5h1M6 287.5h1M25 287.5h1M41 287.5h1M48 287.5h1M21 288.5h1M25 288.5h1M41 288.5h1M9 289.5h1M12 289.5h1M29 289.5h2M33 289.5h1M36 289.5h1M46 289.5h1M6 290.5h1M12 290.5h1M22 290.5h1M24 290.5h1M33 290.5h1M37 290.5h1M50 290.5h1M5 291.5h1M12 291.5h1M22 291.5h1M33 291.5h2M17 292.5h1M19 292.5h1M26 292.5h1M50 292.5h1M0 293.5h1M9 293.5h1M18 293.5h1M43 293.5h1M49 293.5h1M6 294.5h1M11 294.5h3M21 294.5h1M27 294.5h1M29 294.5h2M40 294.5h1M31 295.5h1M37 295.5h1M50 295.5h1M1 296.5h1M16 296.5h1M28 296.5h1M36 296.5h1M38 296.5h1M8 297.5h1M12 297.5h1M27 297.5h1M37 297.5h1M10 298.5h1M14 298.5h1M30 298.5h1M11 299.5h1M16 299.5h1M20 299.5h1M26 299.5h1M29 299.5h1M35 299.5h1M43 299.5h1M6 300.5h1M18 300.5h1M36 300.5h1M38 300.5h1M6 301.5h1M12 301.5h1M18 301.5h1M26 301.5h1M41 301.5h1M2 302.5h1M11 302.5h1M24 302.5h1M27 302.5h1M29 302.5h2M36 302.5h1M45 302.5h1M47 302.5h1M5 303.5h1M7 303.5h1M19 303.5h1M28 303.5h1M34 303.5h1M37 303.5h1M42 303.5h1M45 303.5h1M2 304.5h1M16 304.5h1M26 304.5h1M48 304.5h2M10 305.5h1M16 305.5h1M20 305.5h1M27 305.5h1M39 305.5h1M43 305.5h1M9 306.5h1M14 306.5h1M17 306.5h1M20 306.5h2M26 306.5h1M34 306.5h1M40 306.5h1M16 307.5h1M23 307.5h1M33 307.5h1M36 307.5h1M48 307.5h1M0 308.5h1M12 308.5h1M16 308.5h1M30 308.5h2M34 308.5h1M42 308.5h1M44 308.5h1M46 308.5h1M8 309.5h1M29 309.5h1M44 309.5h1M48 309.5h1M0 310.5h1M8 310.5h1M25 310.5h1M29 310.5h1M37 310.5h1M41 310.5h1M0 311.5h1M4 311.5h1M10 311.5h1M19 311.5h2M24 311.5h1M29 311.5h1M35 311.5h1M3 312.5h1M17 312.5h1M22 312.5h1M31 312.5h1M44 312.5h1M48 312.5h1M50 312.5h1M3 313.5h1M5 313.5h2M13 313.5h1M33 313.5h1M46 313.5h1M11 314.5h1M23 314.5h1M42 314.5h1M50 314.5h1M6 315.5h1M15 315.5h1M26 315.5h1M41 315.5h1M1 316.5h1M6 316.5h1M11 316.5h1M13 316.5h1M15 316.5h1M19 316.5h1M41 316.5h1M23 317.5h1M25 317.5h1M38 317.5h1M41 317.5h1M43 317.5h1M49 317.5h1M2 318.5h1M4 318.5h1M7 318.5h1M9 318.5h2M44 318.5h1M48 318.5h1M50 318.5h1M5 319.5h1M11 319.5h1M13 319.5h1M16 319.5h1M21 319.5h2M29 319.5h1M40 319.5h1M47 319.5h1M5 320.5h1M9 320.5h1M37 320.5h1M39 320.5h1M42 320.5h1"/><path stroke="#4537d5" d="M41 117.5h1M47 118.5h1M40 119.5h2M36 121.5h1M45 122.5h1M8 123.5h1M35 123.5h1M44 123.5h1M16 125.5h1M32 126.5h1M36 126.5h1M39 126.5h1M49 127.5h1M3 128.5h1M42 128.5h1M4 129.5h1M7 129.5h1M20 129.5h2M37 129.5h2M9 130.5h1M47 130.5h3M10 131.5h1M19 131.5h1M21 131.5h1M40 131.5h1M43 131.5h1M48 131.5h1M4 132.5h1M27 132.5h1M40 132.5h2M45 132.5h1M20 133.5h1M41 133.5h1M2 134.5h1M10 134.5h1M1 135.5h2M19 135.5h1M49 135.5h1M13 136.5h1M38 136.5h1M29 137.5h1M39 137.5h1M13 138.5h1M20 138.5h1M35 138.5h1M42 138.5h1M50 138.5h1M18 139.5h1M21 139.5h1M43 139.5h1M45 139.5h1M17 140.5h1M37 140.5h1M41 140.5h1M13 141.5h1M22 141.5h1M41 141.5h1M44 141.5h1M47 141.5h2M15 142.5h1M21 142.5h1M36 142.5h1M50 142.5h1M0 143.5h1M8 143.5h1M20 143.5h1M30 143.5h1M10 144.5h1M40 144.5h1M48 144.5h1M5 145.5h1M11 145.5h1M31 145.5h1M44 145.5h1M7 146.5h1M12 146.5h1M49 146.5h1M40 147.5h1M43 147.5h2M2 148.5h1M10 148.5h1M30 148.5h1M32 148.5h1M36 148.5h1M46 148.5h1M48 148.5h1M17 149.5h1M26 149.5h1M32 149.5h2M43 149.5h1M45 149.5h2M11 150.5h1M31 150.5h1M39 150.5h1M36 151.5h1M38 151.5h1M47 151.5h1M15 152.5h1M44 152.5h1M10 153.5h1M18 153.5h1M4 154.5h1M10 154.5h1M15 154.5h1M17 155.5h1M30 155.5h1M40 155.5h1M4 156.5h1M27 156.5h1M48 156.5h1M5 158.5h1M39 158.5h2M46 158.5h1M50 158.5h1M14 159.5h1M18 159.5h1M37 159.5h1M5 160.5h1M3 164.5h1M11 165.5h1M17 165.5h1M37 165.5h1M48 165.5h1M7 166.5h1M7 168.5h1M5 170.5h1M2 172.5h1M7 173.5h1M6 174.5h1M0 175.5h1M49 175.5h1M5 178.5h1M2 179.5h1M7 181.5h1M1 183.5h1M3 238.5h1M0 242.5h1M8 250.5h1M1 252.5h1M3 252.5h1M12 254.5h1M1 255.5h1M0 256.5h1M10 256.5h1M2 257.5h1M2 259.5h1M9 259.5h1M3 261.5h1M7 261.5h1M1 263.5h1M12 263.5h1M11 264.5h1M0 265.5h2M7 265.5h1M13 266.5h1M47 266.5h1M6 267.5h1M6 268.5h1M15 268.5h1M46 268.5h1M5 269.5h1M2 270.5h1M5 270.5h1M45 270.5h1M0 271.5h1M1 272.5h1M3 273.5h1M12 273.5h1M24 273.5h1M50 273.5h1M37 274.5h1M9 275.5h1M2 276.5h1M38 276.5h1M43 276.5h3M49 276.5h1M4 277.5h1M36 277.5h1M38 277.5h1M47 277.5h1M50 277.5h1M0 278.5h1M3 278.5h1M11 278.5h1M18 278.5h1M20 278.5h1M31 278.5h1M36 278.5h1M42 278.5h1M50 278.5h1M47 279.5h1M11 280.5h1M18 280.5h1M36 280.5h1M2 281.5h3M16 281.5h1M21 281.5h1M38 281.5h1M18 282.5h1M41 282.5h1M0 283.5h1M8 283.5h1M14 283.5h1M32 283.5h1M34 283.5h1M46 283.5h1M1 284.5h1M4 284.5h1M17 284.5h1M26 284.5h1M35 284.5h1M49 284.5h1M0 285.5h2M6 285.5h1M9 285.5h1M16 285.5h1M20 285.5h1M22 285.5h1M28 285.5h1M33 285.5h1M39 285.5h1M49 285.5h2M3 286.5h1M5 286.5h1M13 286.5h1M16 286.5h1M28 286.5h1M32 286.5h1M2 287.5h1M39 287.5h1M43 287.5h1M10 288.5h1M33 288.5h2M6 289.5h1M41 289.5h1M1 290.5h1M4 290.5h1M15 290.5h1M32 290.5h1M40 290.5h1M44 290.5h1M1 291.5h1M6 291.5h2M28 291.5h1M38 291.5h1M42 291.5h1M46 291.5h2M0 292.5h1M5 292.5h1M9 292.5h2M29 292.5h1M40 292.5h1M43 292.5h1M1 293.5h1M8 293.5h1M27 293.5h1M30 293.5h2M42 293.5h1M44 293.5h1M47 293.5h1M5 294.5h1M26 294.5h1M34 294.5h1M43 294.5h1M17 295.5h1M36 295.5h1M43 295.5h1M46 295.5h1M22 296.5h1M34 296.5h1M39 296.5h1M47 296.5h1M49 296.5h1M17 297.5h1M22 297.5h1M41 297.5h1M44 297.5h1M5 298.5h1M11 298.5h1M13 298.5h1M21 298.5h1M42 298.5h1M19 299.5h1M23 299.5h2M39 299.5h1M3 300.5h3M12 300.5h1M27 300.5h2M33 300.5h1M42 300.5h1M44 300.5h1M22 301.5h1M25 301.5h1M28 301.5h2M37 301.5h1M42 301.5h1M45 301.5h1M47 301.5h2M50 301.5h1M7 302.5h1M20 302.5h2M32 302.5h1M44 302.5h1M10 303.5h1M12 303.5h1M17 303.5h1M26 303.5h2M11 304.5h2M19 304.5h2M25 304.5h1M29 304.5h3M37 304.5h1M40 304.5h1M29 305.5h1M33 305.5h1M41 305.5h1M44 305.5h1M7 306.5h1M13 306.5h1M22 306.5h1M24 306.5h1M30 306.5h2M44 306.5h1M4 307.5h1M8 307.5h1M10 307.5h3M20 307.5h1M24 307.5h2M28 307.5h1M18 308.5h1M20 308.5h1M33 308.5h1M4 309.5h1M7 309.5h1M17 309.5h1M24 309.5h1M32 309.5h1M35 309.5h1M46 309.5h1M9 310.5h2M19 310.5h1M21 310.5h1M23 310.5h1M26 310.5h1M32 310.5h1M46 310.5h1M50 310.5h1M6 311.5h2M14 311.5h1M31 311.5h1M42 311.5h1M4 312.5h2M9 312.5h1M23 312.5h1M28 312.5h1M45 312.5h1M8 313.5h1M10 313.5h1M17 313.5h1M25 313.5h1M29 313.5h1M37 313.5h1M39 313.5h1M41 313.5h1M44 313.5h1M14 314.5h1M32 314.5h1M34 314.5h1M46 314.5h1M0 315.5h1M22 315.5h1M27 315.5h1M29 315.5h2M43 315.5h2M48 315.5h1M3 316.5h2M9 316.5h1M28 316.5h1M32 316.5h1M10 317.5h1M14 317.5h1M16 317.5h1M40 317.5h1M46 317.5h2M21 318.5h1M32 318.5h1M17 319.5h1M30 319.5h1M33 319.5h1M50 319.5h1M1 320.5h1M25 320.5h1M34 320.5h1M38 320.5h1M48 320.5h1"/><path stroke="#463cde" d="M44 109.5h1M41 112.5h1M48 119.5h1M42 120.5h2M40 121.5h1M40 122.5h1M13 123.5h1M37 124.5h1M39 124.5h1M47 124.5h1M40 125.5h1M43 125.5h1M9 126.5h1M3 127.5h1M10 127.5h1M45 127.5h1M11 128.5h1M17 128.5h1M3 129.5h1M14 129.5h2M40 129.5h1M45 129.5h1M47 129.5h1M7 130.5h1M14 130.5h1M30 130.5h1M35 130.5h1M37 130.5h1M39 130.5h1M46 130.5h1M3 131.5h1M8 131.5h1M13 131.5h1M45 131.5h2M2 132.5h1M8 132.5h1M12 132.5h1M0 133.5h3M7 133.5h1M37 133.5h2M45 133.5h1M4 134.5h1M13 134.5h1M19 134.5h1M41 134.5h1M48 134.5h1M16 135.5h1M32 135.5h1M36 135.5h1M40 135.5h1M45 135.5h1M0 136.5h1M2 136.5h1M5 136.5h1M32 136.5h1M35 136.5h2M46 136.5h1M49 136.5h1M2 137.5h2M35 137.5h1M8 138.5h1M11 138.5h1M16 138.5h1M18 138.5h1M32 138.5h1M47 138.5h1M0 139.5h1M39 139.5h1M46 139.5h1M1 140.5h1M13 140.5h1M24 140.5h1M28 140.5h1M30 140.5h1M1 141.5h1M18 141.5h1M31 141.5h2M37 141.5h1M45 141.5h1M49 141.5h2M1 142.5h1M18 142.5h1M20 142.5h1M27 142.5h1M30 142.5h1M37 142.5h1M10 143.5h1M12 143.5h1M35 143.5h1M41 143.5h1M6 144.5h2M30 144.5h1M37 144.5h1M4 145.5h1M15 145.5h1M19 146.5h1M25 146.5h1M35 146.5h1M41 146.5h1M9 147.5h1M11 147.5h1M31 147.5h1M50 147.5h1M1 148.5h1M5 148.5h1M11 148.5h1M18 148.5h1M40 148.5h1M42 148.5h2M45 148.5h1M50 148.5h1M0 149.5h1M2 149.5h1M5 149.5h1M37 149.5h1M6 150.5h1M17 150.5h1M34 150.5h1M37 150.5h1M43 150.5h1M8 151.5h1M34 151.5h1M43 151.5h1M45 151.5h1M48 151.5h2M9 152.5h2M33 152.5h1M3 153.5h1M7 153.5h1M9 153.5h1M16 153.5h1M24 153.5h1M30 153.5h1M33 153.5h1M2 154.5h1M8 154.5h1M25 154.5h1M41 154.5h1M2 155.5h1M10 155.5h1M32 155.5h1M44 155.5h1M9 156.5h1M41 156.5h1M1 157.5h1M11 157.5h1M1 158.5h1M4 158.5h1M34 158.5h1M42 158.5h1M31 159.5h1M34 159.5h1M38 159.5h1M40 159.5h1M40 160.5h1M48 160.5h1M0 161.5h1M1 162.5h1M13 162.5h1M14 163.5h1M1 164.5h1M13 165.5h1M38 165.5h1M46 165.5h1M1 166.5h1M14 166.5h1M35 166.5h1M11 167.5h1M9 168.5h1M14 169.5h1M0 170.5h1M0 171.5h1M7 171.5h1M9 171.5h1M8 172.5h1M1 173.5h1M8 173.5h1M6 175.5h1M9 176.5h1M4 177.5h1M1 184.5h1M8 190.5h1M5 191.5h1M1 192.5h1M5 211.5h1M0 227.5h1M2 240.5h1M4 242.5h1M0 246.5h1M2 248.5h1M4 249.5h1M1 250.5h1M0 252.5h1M13 253.5h1M50 256.5h1M3 257.5h1M2 258.5h1M0 259.5h1M4 259.5h1M10 260.5h1M49 260.5h1M2 261.5h1M12 261.5h1M50 261.5h1M4 263.5h1M38 263.5h1M49 263.5h1M49 264.5h1M8 265.5h1M0 266.5h1M7 266.5h2M15 266.5h1M0 267.5h1M21 267.5h1M48 267.5h1M9 268.5h1M35 268.5h1M48 268.5h1M10 269.5h1M7 270.5h1M42 270.5h1M48 270.5h1M50 270.5h1M3 271.5h1M23 271.5h1M50 271.5h1M0 272.5h1M35 272.5h1M38 272.5h1M44 272.5h1M5 273.5h1M7 273.5h1M41 273.5h1M48 273.5h1M4 274.5h1M7 274.5h1M20 274.5h1M48 274.5h1M7 275.5h1M29 275.5h1M50 276.5h1M1 277.5h2M15 277.5h1M14 278.5h2M21 278.5h1M47 278.5h1M1 279.5h1M4 279.5h1M8 279.5h1M45 279.5h1M48 279.5h2M3 280.5h1M12 280.5h1M17 280.5h1M22 280.5h1M29 280.5h1M37 280.5h1M44 280.5h1M12 281.5h1M15 281.5h1M42 281.5h1M3 282.5h1M5 282.5h2M30 282.5h1M36 282.5h1M38 282.5h1M48 282.5h1M20 283.5h1M23 283.5h1M0 284.5h1M4 285.5h1M10 285.5h1M34 285.5h1M37 285.5h1M40 285.5h1M44 285.5h2M7 286.5h1M11 286.5h2M17 286.5h1M21 286.5h1M43 286.5h1M4 287.5h1M22 287.5h1M28 287.5h1M35 287.5h1M0 288.5h2M4 288.5h1M32 288.5h1M48 288.5h1M7 289.5h1M31 289.5h1M40 289.5h1M50 289.5h1M10 290.5h1M14 290.5h1M19 290.5h1M35 290.5h1M45 290.5h1M48 290.5h1M2 291.5h1M40 291.5h1M49 291.5h1M1 292.5h2M12 292.5h1M28 292.5h1M32 292.5h1M38 292.5h2M48 292.5h1M12 293.5h1M16 293.5h1M19 293.5h1M29 293.5h1M45 293.5h1M48 293.5h1M0 294.5h1M7 294.5h1M47 294.5h1M0 295.5h1M5 295.5h1M19 295.5h1M27 295.5h1M34 295.5h1M45 295.5h1M48 295.5h1M37 296.5h1M41 296.5h1M7 297.5h1M15 297.5h1M20 297.5h1M36 297.5h1M39 297.5h2M42 297.5h1M7 298.5h1M38 298.5h1M43 298.5h1M49 298.5h1M13 299.5h1M32 299.5h1M25 300.5h1M41 300.5h1M3 301.5h1M8 301.5h1M32 301.5h1M38 301.5h1M44 301.5h1M13 302.5h1M15 302.5h2M25 302.5h1M33 302.5h1M49 302.5h1M3 303.5h1M14 303.5h1M36 303.5h1M46 303.5h2M15 304.5h1M22 304.5h1M28 304.5h1M50 304.5h1M8 305.5h2M12 305.5h2M24 305.5h1M31 305.5h1M37 305.5h2M45 305.5h1M47 305.5h2M5 306.5h1M16 306.5h1M36 306.5h2M43 306.5h1M48 306.5h1M50 306.5h1M6 307.5h2M18 307.5h1M41 307.5h1M44 307.5h1M17 308.5h1M22 308.5h1M26 308.5h1M32 308.5h1M41 308.5h1M47 308.5h1M2 309.5h1M12 309.5h1M19 309.5h1M34 309.5h1M38 309.5h1M45 309.5h1M50 309.5h1M18 310.5h1M27 310.5h1M31 310.5h1M3 311.5h1M16 311.5h1M22 311.5h1M38 311.5h1M40 311.5h1M49 311.5h1M27 312.5h1M36 312.5h1M39 312.5h1M43 312.5h1M0 313.5h1M4 313.5h1M31 313.5h1M38 313.5h1M0 314.5h1M7 314.5h1M16 314.5h1M35 314.5h1M39 314.5h2M37 315.5h1M42 315.5h1M12 316.5h1M14 316.5h1M21 316.5h3M38 316.5h2M42 316.5h1M44 316.5h1M11 317.5h1M24 317.5h1M31 317.5h1M8 318.5h1M23 318.5h1M36 318.5h1M43 318.5h1M45 318.5h1M3 319.5h1M6 319.5h1M10 319.5h1M15 319.5h1M42 319.5h1M2 320.5h1M8 320.5h1M29 320.5h1M41 320.5h1M43 320.5h1"/><path stroke="#4741e5" d="M37 109.5h1M41 111.5h1M40 113.5h1M42 116.5h1M38 117.5h1M43 117.5h1M45 117.5h1M44 118.5h2M5 119.5h1M37 119.5h1M44 119.5h1M7 121.5h1M43 121.5h2M6 122.5h1M34 123.5h1M0 124.5h1M10 124.5h1M15 124.5h1M12 125.5h1M20 125.5h1M35 125.5h1M38 125.5h1M50 125.5h1M35 126.5h1M41 126.5h1M44 126.5h1M49 126.5h1M15 127.5h2M35 127.5h1M37 127.5h1M39 127.5h1M44 127.5h1M47 127.5h1M0 128.5h1M6 128.5h1M37 128.5h1M39 128.5h1M43 128.5h1M46 128.5h1M0 129.5h1M5 129.5h1M49 129.5h1M27 130.5h1M40 130.5h1M43 130.5h1M0 131.5h1M5 131.5h1M17 131.5h1M36 131.5h2M23 132.5h1M37 132.5h1M6 133.5h1M12 133.5h1M48 133.5h1M31 134.5h1M46 134.5h1M49 134.5h1M6 135.5h1M14 135.5h1M47 135.5h1M10 136.5h1M16 136.5h1M18 136.5h1M41 136.5h1M0 137.5h2M6 137.5h1M10 137.5h1M20 137.5h1M26 137.5h1M40 137.5h1M42 137.5h1M44 137.5h1M46 137.5h1M3 138.5h2M14 138.5h1M28 138.5h1M37 138.5h1M6 139.5h1M20 139.5h1M33 139.5h1M50 139.5h1M0 140.5h1M6 140.5h1M18 140.5h1M20 140.5h1M32 140.5h1M35 140.5h1M40 140.5h1M9 141.5h1M6 142.5h1M33 142.5h1M42 142.5h1M7 143.5h1M28 143.5h2M32 143.5h1M37 143.5h1M11 144.5h2M19 144.5h1M26 144.5h2M34 144.5h1M43 144.5h1M16 145.5h1M29 145.5h1M5 146.5h1M18 146.5h1M36 146.5h1M38 146.5h1M40 146.5h1M42 146.5h1M23 147.5h1M27 147.5h1M38 147.5h1M45 147.5h1M47 147.5h1M13 148.5h1M34 148.5h2M44 148.5h1M7 149.5h1M16 149.5h1M22 149.5h1M31 149.5h1M48 149.5h2M9 150.5h1M14 150.5h1M29 150.5h1M42 150.5h1M1 151.5h2M6 151.5h2M10 151.5h1M18 151.5h1M20 151.5h1M41 151.5h1M0 152.5h1M35 152.5h1M37 152.5h1M39 152.5h1M29 153.5h1M49 153.5h1M7 154.5h1M12 154.5h1M36 154.5h1M43 154.5h2M47 154.5h1M49 154.5h2M12 155.5h1M39 155.5h1M0 156.5h1M15 156.5h2M0 157.5h1M44 157.5h2M49 157.5h1M9 158.5h1M17 158.5h1M19 158.5h1M32 158.5h1M0 159.5h2M19 159.5h1M35 159.5h1M41 159.5h1M48 159.5h2M3 160.5h1M6 160.5h1M2 161.5h1M35 161.5h1M0 162.5h1M4 163.5h1M12 164.5h1M1 165.5h1M6 165.5h1M4 166.5h1M3 167.5h1M50 167.5h1M2 168.5h1M10 168.5h1M12 168.5h1M0 169.5h2M48 169.5h1M13 170.5h1M46 170.5h1M6 171.5h1M1 172.5h1M10 172.5h1M11 175.5h1M50 175.5h1M2 176.5h1M15 176.5h1M1 177.5h1M50 177.5h1M8 178.5h1M2 180.5h1M5 181.5h1M50 182.5h1M11 184.5h1M2 187.5h1M5 187.5h1M0 197.5h1M2 233.5h1M3 240.5h1M8 243.5h1M1 245.5h1M5 246.5h1M12 248.5h1M9 249.5h1M10 250.5h1M3 251.5h1M2 252.5h1M9 252.5h1M7 255.5h1M49 255.5h1M2 256.5h1M49 257.5h1M1 259.5h1M6 259.5h1M10 259.5h1M49 259.5h1M4 260.5h1M0 262.5h1M11 263.5h1M32 263.5h1M1 264.5h1M4 264.5h1M14 264.5h1M5 265.5h1M48 265.5h1M48 266.5h1M9 267.5h1M2 268.5h1M18 269.5h1M49 269.5h1M8 270.5h1M15 270.5h2M41 270.5h1M5 271.5h1M7 271.5h1M14 271.5h1M46 271.5h1M49 271.5h1M2 272.5h1M4 272.5h1M6 272.5h3M42 272.5h1M45 272.5h1M48 272.5h1M13 273.5h2M43 273.5h1M49 273.5h1M1 274.5h1M3 274.5h1M8 274.5h1M17 274.5h1M36 274.5h1M42 274.5h1M45 274.5h1M15 275.5h1M28 275.5h1M40 275.5h1M43 275.5h1M48 275.5h1M1 276.5h1M9 276.5h1M26 276.5h1M30 276.5h1M8 277.5h1M16 277.5h1M23 277.5h1M32 277.5h1M44 277.5h1M1 278.5h2M5 278.5h1M8 278.5h2M16 278.5h1M39 279.5h1M2 280.5h1M4 280.5h1M8 280.5h1M10 280.5h1M20 280.5h1M40 280.5h3M6 281.5h1M14 281.5h1M17 281.5h1M35 281.5h1M50 281.5h1M12 282.5h1M14 282.5h1M19 282.5h2M25 282.5h1M33 282.5h1M35 282.5h1M37 282.5h1M49 282.5h1M13 283.5h1M18 283.5h1M21 283.5h1M24 283.5h1M48 283.5h1M7 284.5h2M19 284.5h1M30 284.5h1M44 284.5h1M46 284.5h1M8 285.5h1M17 285.5h1M32 285.5h1M1 286.5h1M4 286.5h1M8 286.5h1M10 286.5h1M36 286.5h1M8 287.5h1M16 287.5h1M18 287.5h2M21 287.5h1M31 287.5h1M33 287.5h1M36 287.5h2M2 288.5h1M16 288.5h2M26 288.5h2M31 288.5h1M43 288.5h1M49 288.5h1M8 289.5h1M19 289.5h1M47 289.5h1M5 290.5h1M9 290.5h1M20 290.5h1M23 290.5h1M3 291.5h1M19 291.5h1M21 291.5h1M24 291.5h1M41 291.5h1M43 291.5h3M48 291.5h1M50 291.5h1M4 292.5h1M16 292.5h1M30 292.5h1M6 293.5h1M14 293.5h1M17 293.5h1M21 293.5h1M24 293.5h1M4 294.5h1M9 294.5h1M16 294.5h1M39 294.5h1M42 294.5h1M44 294.5h2M48 294.5h3M3 295.5h1M10 295.5h1M15 295.5h2M21 295.5h2M41 295.5h1M49 295.5h1M3 296.5h1M17 296.5h1M23 296.5h1M25 296.5h1M30 296.5h1M21 297.5h1M23 297.5h1M29 297.5h2M33 297.5h1M3 298.5h1M8 298.5h1M18 298.5h3M50 298.5h1M31 299.5h1M33 299.5h1M45 299.5h1M47 299.5h1M49 299.5h1M2 300.5h1M10 300.5h1M14 300.5h1M24 300.5h1M31 300.5h1M37 300.5h1M39 300.5h1M45 300.5h1M0 301.5h1M11 301.5h1M8 302.5h1M22 302.5h2M2 303.5h1M9 303.5h1M21 303.5h1M32 303.5h1M41 303.5h1M4 304.5h1M9 304.5h1M35 304.5h2M42 304.5h2M0 305.5h1M11 305.5h1M14 305.5h1M17 305.5h1M22 305.5h1M26 305.5h1M36 305.5h1M11 306.5h2M25 306.5h1M28 306.5h1M45 306.5h1M13 307.5h1M29 307.5h1M1 308.5h2M5 308.5h1M11 308.5h1M21 308.5h1M28 308.5h1M40 308.5h1M1 309.5h1M33 310.5h1M8 311.5h1M12 311.5h1M18 311.5h1M23 311.5h1M45 311.5h1M42 312.5h1M46 312.5h1M49 312.5h1M2 313.5h1M32 313.5h1M4 314.5h1M8 314.5h1M29 314.5h1M11 315.5h1M17 315.5h2M23 315.5h1M49 315.5h1M24 316.5h1M26 316.5h1M33 316.5h1M36 316.5h1M1 317.5h1M6 317.5h1M15 317.5h1M22 317.5h1M34 317.5h1M37 317.5h1M39 317.5h1M12 318.5h1M15 318.5h1M46 318.5h1M14 319.5h1M31 319.5h1M38 319.5h1M4 320.5h1M11 320.5h1"/><path stroke="#4747eb" d="M43 111.5h1M39 113.5h1M46 113.5h1M38 114.5h1M41 115.5h1M37 116.5h1M42 117.5h1M10 118.5h1M41 118.5h1M43 118.5h1M38 119.5h1M8 121.5h1M12 121.5h1M35 121.5h1M45 121.5h1M47 121.5h1M9 122.5h1M7 123.5h1M10 123.5h1M33 123.5h1M45 123.5h1M47 123.5h1M44 124.5h2M5 125.5h1M7 126.5h1M16 126.5h1M46 126.5h1M34 127.5h1M35 128.5h1M41 128.5h1M44 128.5h2M49 128.5h1M6 129.5h1M8 129.5h1M12 129.5h1M48 129.5h1M1 131.5h1M7 131.5h1M20 131.5h1M24 131.5h2M41 131.5h1M47 132.5h1M49 132.5h1M3 133.5h1M10 133.5h1M13 133.5h1M15 133.5h1M24 133.5h1M26 133.5h1M39 133.5h1M42 133.5h1M46 133.5h1M5 134.5h1M12 134.5h1M20 134.5h1M25 134.5h1M28 134.5h1M32 134.5h1M37 134.5h1M39 134.5h2M42 134.5h1M3 135.5h1M7 135.5h2M11 135.5h2M20 135.5h1M31 135.5h1M33 135.5h1M42 135.5h2M4 136.5h1M9 136.5h1M11 136.5h1M21 136.5h1M37 136.5h1M40 136.5h1M12 137.5h2M22 137.5h1M25 137.5h1M30 137.5h1M48 137.5h2M9 138.5h2M19 138.5h1M21 138.5h1M31 138.5h1M41 138.5h1M2 139.5h2M16 139.5h1M23 139.5h1M5 140.5h1M7 140.5h1M14 140.5h2M33 140.5h1M38 140.5h1M45 140.5h1M49 140.5h1M19 142.5h1M28 142.5h1M31 142.5h1M34 142.5h2M41 142.5h1M49 142.5h1M5 143.5h1M11 143.5h1M13 143.5h1M18 143.5h1M33 143.5h1M39 143.5h1M43 143.5h1M3 144.5h1M16 144.5h1M18 144.5h1M35 144.5h2M1 145.5h1M12 145.5h2M18 145.5h2M41 145.5h2M47 145.5h2M15 146.5h2M27 146.5h1M31 146.5h1M34 146.5h1M48 146.5h1M12 147.5h1M30 147.5h1M37 147.5h1M46 147.5h1M49 147.5h1M6 148.5h1M14 148.5h1M29 148.5h1M38 148.5h1M23 149.5h1M36 149.5h1M44 149.5h1M13 150.5h1M23 150.5h1M32 150.5h1M44 150.5h1M12 151.5h1M19 151.5h1M40 151.5h1M1 152.5h1M5 152.5h2M11 152.5h1M13 152.5h1M23 152.5h1M43 152.5h1M47 152.5h1M26 153.5h2M31 153.5h2M34 153.5h1M41 153.5h2M46 153.5h1M19 154.5h1M24 154.5h1M40 154.5h1M8 155.5h2M21 155.5h1M31 155.5h1M41 155.5h1M5 156.5h1M11 156.5h1M18 156.5h1M42 156.5h1M9 157.5h1M12 157.5h3M16 157.5h1M24 157.5h1M29 157.5h1M34 157.5h1M46 157.5h1M48 157.5h1M0 158.5h1M3 158.5h1M6 158.5h1M20 158.5h1M36 158.5h1M10 159.5h1M43 159.5h1M0 160.5h1M8 160.5h1M13 160.5h1M17 161.5h1M23 161.5h1M42 161.5h1M48 161.5h1M49 162.5h1M1 163.5h1M11 163.5h2M49 163.5h1M17 164.5h1M19 164.5h1M40 164.5h1M12 165.5h1M33 165.5h1M5 166.5h2M8 166.5h1M2 167.5h1M12 167.5h1M15 167.5h1M19 167.5h1M5 168.5h1M5 169.5h1M50 169.5h1M3 170.5h2M7 170.5h1M49 170.5h1M1 171.5h1M12 171.5h2M50 171.5h1M50 172.5h1M0 173.5h1M6 173.5h1M11 173.5h1M1 175.5h1M16 175.5h1M0 176.5h2M3 176.5h1M5 176.5h1M49 176.5h1M3 177.5h1M11 177.5h1M0 178.5h1M0 180.5h1M5 180.5h1M8 180.5h1M11 180.5h1M9 181.5h1M2 182.5h1M8 182.5h1M5 183.5h1M0 184.5h1M10 185.5h1M3 187.5h1M9 187.5h1M0 189.5h1M7 190.5h1M9 193.5h1M0 200.5h1M3 208.5h1M0 221.5h1M2 226.5h1M2 227.5h1M5 230.5h1M0 238.5h1M2 239.5h1M5 241.5h1M11 241.5h1M5 243.5h1M10 248.5h1M1 249.5h1M7 250.5h1M9 250.5h1M1 253.5h1M7 253.5h1M0 254.5h1M5 254.5h1M8 254.5h1M3 256.5h2M1 258.5h1M3 258.5h2M8 259.5h1M19 259.5h1M6 260.5h1M13 260.5h1M0 261.5h1M5 261.5h1M17 261.5h1M6 262.5h1M11 262.5h1M50 262.5h1M9 263.5h1M10 264.5h1M20 264.5h1M45 264.5h1M48 264.5h1M49 265.5h1M4 266.5h1M37 266.5h2M11 267.5h1M4 268.5h2M11 268.5h1M14 268.5h1M21 268.5h1M1 269.5h1M9 269.5h1M14 269.5h1M6 270.5h1M19 270.5h1M34 270.5h1M40 270.5h1M10 271.5h2M17 271.5h1M42 271.5h1M47 271.5h1M36 272.5h1M10 273.5h1M18 273.5h1M15 274.5h1M6 275.5h1M12 275.5h2M33 275.5h1M37 275.5h1M39 275.5h1M41 275.5h2M8 276.5h1M40 276.5h1M37 277.5h1M4 278.5h1M32 278.5h1M38 278.5h1M45 278.5h1M2 279.5h1M11 279.5h1M19 279.5h3M26 279.5h1M31 279.5h1M34 279.5h1M44 279.5h1M50 279.5h1M0 280.5h1M5 280.5h1M7 280.5h1M13 280.5h1M15 280.5h2M30 280.5h1M38 280.5h1M45 280.5h1M0 281.5h1M9 281.5h1M11 281.5h1M19 281.5h2M22 281.5h1M44 281.5h1M46 281.5h1M7 282.5h1M9 282.5h1M42 282.5h1M5 283.5h1M30 283.5h1M33 283.5h1M47 283.5h1M10 284.5h1M23 284.5h1M29 284.5h1M32 284.5h1M40 284.5h1M48 284.5h1M7 285.5h1M31 285.5h1M42 285.5h2M18 286.5h1M22 286.5h1M33 286.5h1M45 286.5h2M27 287.5h1M29 287.5h1M12 288.5h1M18 288.5h1M20 288.5h1M28 288.5h1M37 288.5h1M42 288.5h1M3 289.5h1M10 289.5h1M17 289.5h1M20 289.5h1M25 289.5h1M37 289.5h1M0 290.5h1M3 290.5h1M13 290.5h1M27 290.5h1M30 290.5h1M34 290.5h1M38 290.5h2M49 290.5h1M11 291.5h1M15 291.5h1M18 291.5h1M25 291.5h1M30 291.5h1M3 292.5h1M11 292.5h1M47 292.5h1M4 293.5h1M20 293.5h1M23 293.5h1M33 293.5h1M41 293.5h1M50 293.5h1M3 294.5h1M15 294.5h1M18 294.5h2M22 294.5h1M33 294.5h1M38 294.5h1M46 294.5h1M4 295.5h1M11 295.5h1M14 295.5h1M20 295.5h1M30 295.5h1M40 295.5h1M9 296.5h1M0 297.5h1M3 297.5h1M5 297.5h1M16 297.5h1M24 297.5h1M26 297.5h1M35 297.5h1M38 297.5h1M46 297.5h1M17 298.5h1M23 298.5h2M28 298.5h2M34 298.5h1M47 298.5h2M3 299.5h1M17 299.5h2M27 299.5h1M34 299.5h1M36 299.5h1M8 300.5h1M20 300.5h1M49 300.5h1M20 301.5h1M39 301.5h1M3 302.5h2M9 302.5h2M17 302.5h1M41 302.5h2M35 303.5h1M44 303.5h1M8 304.5h1M14 304.5h1M27 304.5h1M5 305.5h3M30 305.5h1M35 305.5h1M46 305.5h1M32 306.5h1M22 307.5h1M24 308.5h1M50 308.5h1M6 309.5h1M26 309.5h1M28 309.5h1M33 309.5h1M37 309.5h1M11 310.5h1M14 310.5h1M17 310.5h1M34 310.5h1M38 310.5h1M25 311.5h1M37 311.5h1M7 312.5h2M14 312.5h1M16 312.5h1M25 312.5h1M29 312.5h1M47 312.5h1M23 313.5h1M20 314.5h1M28 314.5h1M36 314.5h2M3 315.5h1M16 316.5h1M45 316.5h1M49 316.5h1M4 317.5h1M13 318.5h1M26 318.5h1M31 318.5h1M35 318.5h1M41 318.5h1M8 319.5h1M19 319.5h1M43 319.5h1M13 320.5h1M30 320.5h1M35 320.5h1M45 320.5h1"/><path stroke="#484df0" d="M42 110.5h1M42 112.5h1M42 113.5h1M45 113.5h1M35 114.5h1M37 114.5h1M37 115.5h1M39 116.5h1M43 116.5h1M4 117.5h1M44 117.5h1M8 119.5h1M45 119.5h1M36 120.5h1M44 120.5h1M5 121.5h1M41 121.5h2M46 121.5h1M8 122.5h1M15 122.5h1M36 122.5h2M42 122.5h1M44 122.5h1M1 123.5h2M11 123.5h1M15 123.5h1M42 123.5h1M6 124.5h4M33 124.5h3M40 124.5h1M4 125.5h1M48 125.5h1M5 126.5h1M14 126.5h1M34 126.5h1M36 127.5h1M38 127.5h1M48 127.5h1M7 128.5h1M9 128.5h1M15 128.5h1M19 128.5h2M31 128.5h2M50 128.5h1M1 129.5h1M9 129.5h2M16 129.5h1M18 129.5h1M31 129.5h1M42 129.5h1M50 129.5h1M0 130.5h1M3 130.5h1M8 130.5h1M15 130.5h1M24 130.5h1M34 130.5h1M45 130.5h1M50 130.5h1M12 131.5h1M18 131.5h1M30 131.5h2M33 131.5h1M16 132.5h1M21 132.5h1M33 132.5h2M46 132.5h1M14 133.5h1M17 133.5h2M23 133.5h1M29 133.5h1M32 133.5h1M44 133.5h1M47 133.5h1M0 134.5h1M21 134.5h1M43 134.5h1M0 135.5h1M4 135.5h1M38 135.5h2M44 135.5h1M48 135.5h1M1 136.5h1M12 136.5h1M26 136.5h1M23 137.5h1M27 137.5h1M38 137.5h1M7 138.5h1M15 138.5h1M48 138.5h1M12 139.5h1M15 139.5h1M22 139.5h1M26 139.5h2M36 139.5h2M47 139.5h1M4 140.5h1M19 140.5h1M31 140.5h1M34 140.5h1M4 141.5h1M8 141.5h1M15 141.5h1M23 141.5h1M25 141.5h1M29 141.5h2M40 141.5h1M4 142.5h1M17 142.5h1M29 142.5h1M43 142.5h1M9 143.5h1M15 143.5h1M22 143.5h2M50 143.5h1M5 144.5h1M14 144.5h1M31 144.5h1M38 144.5h1M9 145.5h1M20 145.5h1M24 145.5h1M34 145.5h1M37 145.5h1M43 145.5h1M45 145.5h1M49 145.5h1M4 146.5h1M14 146.5h1M20 146.5h1M37 146.5h1M39 146.5h1M50 146.5h1M3 147.5h1M48 147.5h1M19 148.5h1M22 148.5h1M28 148.5h1M39 148.5h1M49 148.5h1M1 149.5h1M8 149.5h1M35 149.5h1M41 149.5h1M47 149.5h1M1 150.5h1M19 150.5h1M21 150.5h1M40 150.5h1M49 150.5h1M15 151.5h1M27 151.5h1M37 151.5h1M46 151.5h1M3 152.5h2M7 152.5h1M16 152.5h1M27 152.5h1M29 152.5h1M32 152.5h1M8 153.5h1M28 153.5h1M37 153.5h1M6 154.5h1M21 154.5h1M31 154.5h1M34 154.5h1M0 155.5h1M5 155.5h1M18 155.5h1M22 155.5h1M50 155.5h1M10 156.5h1M13 156.5h1M35 156.5h1M38 156.5h1M2 157.5h1M22 157.5h1M39 157.5h1M41 157.5h1M11 158.5h1M21 158.5h1M45 158.5h1M49 158.5h1M13 159.5h1M17 159.5h1M22 159.5h1M1 160.5h1M18 160.5h1M25 160.5h1M44 160.5h1M6 161.5h1M12 161.5h4M31 161.5h1M36 161.5h1M39 161.5h1M44 161.5h1M9 162.5h1M15 162.5h1M22 162.5h1M46 162.5h1M48 162.5h1M5 163.5h2M47 163.5h1M14 164.5h1M30 164.5h1M35 164.5h1M45 164.5h1M40 165.5h1M16 166.5h1M20 166.5h1M42 166.5h1M48 166.5h1M50 166.5h1M0 168.5h1M4 168.5h1M16 168.5h1M2 169.5h2M16 169.5h1M1 170.5h1M17 170.5h1M50 170.5h1M2 171.5h1M8 171.5h1M9 173.5h2M18 173.5h1M49 173.5h1M2 174.5h1M8 174.5h1M10 174.5h2M4 175.5h1M8 175.5h1M6 176.5h1M7 177.5h1M3 178.5h1M11 178.5h1M1 179.5h1M3 180.5h1M0 183.5h1M9 183.5h1M11 183.5h1M50 183.5h1M3 184.5h1M6 185.5h1M3 186.5h1M8 186.5h1M0 188.5h1M2 189.5h1M2 192.5h1M4 194.5h1M0 196.5h1M4 196.5h2M5 200.5h1M7 208.5h1M0 223.5h1M0 228.5h1M0 229.5h1M2 231.5h1M7 235.5h1M2 236.5h1M4 237.5h1M1 240.5h1M6 241.5h1M3 242.5h1M6 242.5h1M11 244.5h1M5 245.5h2M10 246.5h1M14 246.5h1M10 247.5h1M1 248.5h1M9 248.5h1M5 250.5h1M5 251.5h2M8 251.5h1M50 251.5h1M11 252.5h1M4 254.5h1M15 254.5h1M4 255.5h1M8 255.5h1M10 255.5h1M1 256.5h1M12 256.5h1M0 257.5h1M7 257.5h1M11 257.5h1M17 257.5h1M6 258.5h1M5 259.5h1M50 259.5h1M1 260.5h1M5 260.5h1M15 260.5h1M20 260.5h1M34 260.5h1M10 261.5h1M18 262.5h1M42 262.5h1M5 263.5h1M8 263.5h1M48 263.5h1M0 264.5h1M12 264.5h1M15 264.5h2M11 265.5h1M16 265.5h1M32 265.5h1M3 266.5h1M16 266.5h1M16 267.5h2M46 267.5h1M0 268.5h1M7 268.5h1M10 268.5h1M31 268.5h1M45 268.5h1M13 269.5h1M16 269.5h1M19 269.5h1M23 269.5h1M32 269.5h1M36 269.5h1M50 269.5h1M4 270.5h1M14 270.5h1M37 270.5h1M44 270.5h1M46 270.5h1M49 270.5h1M2 271.5h1M16 271.5h1M22 271.5h1M9 272.5h1M13 272.5h1M32 272.5h2M40 272.5h1M1 273.5h1M34 273.5h1M36 273.5h1M38 273.5h1M2 274.5h1M5 274.5h1M11 274.5h2M31 274.5h1M35 274.5h1M40 274.5h1M5 275.5h1M11 275.5h1M24 275.5h1M47 275.5h1M0 276.5h1M5 276.5h1M32 276.5h2M35 276.5h2M39 276.5h1M41 276.5h1M3 277.5h1M13 277.5h1M28 277.5h1M42 277.5h1M12 278.5h1M19 278.5h1M26 278.5h1M39 278.5h1M46 278.5h1M0 279.5h1M10 279.5h1M23 279.5h1M40 279.5h1M1 280.5h1M21 280.5h1M27 280.5h1M31 280.5h1M43 280.5h1M46 280.5h1M7 281.5h1M27 281.5h2M0 282.5h3M10 282.5h1M16 282.5h2M27 282.5h1M50 282.5h1M17 283.5h1M31 283.5h1M45 283.5h1M49 283.5h1M5 284.5h1M11 284.5h1M15 284.5h1M24 284.5h1M28 284.5h1M41 284.5h1M3 285.5h1M15 285.5h1M23 285.5h1M26 285.5h1M35 285.5h1M6 286.5h1M20 286.5h1M26 286.5h1M13 287.5h1M17 287.5h1M24 287.5h1M34 287.5h1M44 287.5h1M9 288.5h1M36 288.5h1M47 288.5h1M1 289.5h1M22 289.5h1M26 289.5h1M42 289.5h1M36 290.5h1M0 291.5h1M13 291.5h1M23 291.5h1M27 291.5h1M39 291.5h1M22 292.5h2M31 292.5h1M13 293.5h1M37 293.5h1M8 294.5h1M10 294.5h1M20 294.5h1M36 294.5h1M2 295.5h1M13 295.5h1M0 296.5h1M19 296.5h1M26 296.5h1M32 296.5h1M46 296.5h1M13 297.5h1M33 298.5h1M39 298.5h1M7 299.5h1M15 299.5h1M21 299.5h1M41 299.5h1M1 301.5h1M7 301.5h1M10 301.5h1M13 301.5h1M16 301.5h1M23 301.5h2M33 301.5h1M50 302.5h1M24 303.5h1M38 303.5h1M40 303.5h1M0 304.5h1M44 304.5h1M2 305.5h1M18 305.5h1M21 305.5h1M32 305.5h1M42 305.5h1M3 306.5h1M41 306.5h1M2 307.5h1M27 307.5h1M38 307.5h2M29 308.5h1M39 308.5h1M15 309.5h1M27 309.5h1M30 309.5h2M5 310.5h1M16 310.5h1M28 310.5h1M17 311.5h1M32 311.5h1M34 311.5h1M11 312.5h3M24 312.5h1M41 312.5h1M30 313.5h1M47 313.5h1M6 314.5h1M33 314.5h1M38 314.5h1M47 314.5h1M5 315.5h1M32 315.5h1M27 316.5h1M50 316.5h1M1 318.5h1M20 318.5h1M29 318.5h1M24 319.5h1M35 319.5h1M15 320.5h1M20 320.5h1M32 320.5h1"/><path stroke="#4852f4" d="M37 104.5h1M45 105.5h1M36 109.5h1M39 109.5h1M36 110.5h1M37 111.5h1M44 111.5h1M36 113.5h1M43 114.5h2M45 115.5h2M44 116.5h1M46 117.5h1M38 118.5h1M42 118.5h1M9 119.5h1M21 119.5h1M35 119.5h1M46 119.5h1M7 120.5h1M11 120.5h1M37 120.5h1M34 121.5h1M2 122.5h1M34 122.5h1M39 122.5h1M41 122.5h1M48 122.5h1M3 123.5h3M17 123.5h1M21 123.5h2M40 123.5h1M46 123.5h1M12 124.5h1M18 124.5h1M20 124.5h1M38 124.5h1M42 124.5h1M0 125.5h3M10 125.5h1M13 125.5h1M19 125.5h1M25 125.5h1M34 125.5h1M41 125.5h1M6 126.5h1M10 126.5h1M12 126.5h2M17 126.5h1M23 126.5h1M27 126.5h1M33 126.5h1M42 126.5h1M48 126.5h1M7 127.5h1M9 127.5h1M11 127.5h1M26 127.5h1M40 127.5h1M50 127.5h1M21 128.5h1M2 129.5h1M25 129.5h1M36 129.5h1M4 130.5h1M18 130.5h1M31 130.5h1M33 130.5h1M38 130.5h1M27 131.5h1M29 131.5h1M34 131.5h1M38 131.5h1M44 131.5h1M47 131.5h1M6 132.5h1M15 132.5h1M24 132.5h1M31 132.5h1M9 133.5h1M36 133.5h1M14 134.5h1M34 134.5h2M5 135.5h1M18 135.5h1M23 135.5h1M25 135.5h1M46 135.5h1M50 135.5h1M3 136.5h1M27 136.5h1M34 136.5h1M4 137.5h2M7 137.5h1M19 137.5h1M32 137.5h2M50 137.5h1M0 138.5h2M23 138.5h1M25 138.5h1M27 138.5h1M38 138.5h3M8 139.5h1M11 139.5h1M30 139.5h1M22 140.5h2M27 140.5h1M42 140.5h2M47 140.5h1M0 141.5h1M2 141.5h1M5 141.5h1M11 141.5h1M19 141.5h1M27 141.5h1M33 141.5h1M2 142.5h1M5 142.5h1M22 142.5h1M1 143.5h1M17 143.5h1M25 143.5h1M36 143.5h1M40 143.5h1M46 143.5h1M48 143.5h1M0 144.5h1M9 144.5h1M13 144.5h1M15 144.5h1M21 144.5h1M45 144.5h1M0 145.5h1M3 145.5h1M6 145.5h1M10 145.5h1M22 145.5h1M25 145.5h1M39 145.5h2M22 146.5h1M28 146.5h1M30 146.5h1M33 146.5h1M0 147.5h1M4 147.5h1M10 147.5h1M19 147.5h1M24 147.5h1M32 147.5h1M8 148.5h1M23 148.5h1M31 148.5h1M41 148.5h1M25 149.5h1M40 149.5h1M4 150.5h2M16 150.5h1M48 150.5h1M50 150.5h1M13 151.5h1M21 151.5h2M28 151.5h1M32 151.5h1M2 152.5h1M30 152.5h1M34 152.5h1M0 153.5h1M11 153.5h1M15 153.5h1M17 153.5h1M21 153.5h1M23 153.5h1M35 153.5h2M44 153.5h1M1 154.5h1M3 154.5h1M16 154.5h1M23 154.5h1M38 154.5h2M46 154.5h1M3 155.5h1M16 155.5h1M23 155.5h1M35 155.5h2M38 155.5h1M49 155.5h1M7 156.5h1M14 156.5h1M23 156.5h1M37 156.5h1M45 156.5h1M49 156.5h2M5 157.5h1M7 157.5h2M36 157.5h1M47 157.5h1M7 158.5h1M18 158.5h1M27 158.5h1M38 158.5h1M48 158.5h1M3 159.5h2M12 159.5h1M25 159.5h1M4 160.5h1M10 160.5h1M36 160.5h1M38 160.5h1M42 160.5h1M50 160.5h1M10 161.5h1M38 161.5h1M40 161.5h1M47 161.5h1M50 161.5h1M6 162.5h1M8 162.5h1M10 162.5h1M26 162.5h1M42 162.5h1M9 163.5h1M20 163.5h1M0 164.5h1M5 164.5h1M7 164.5h1M9 164.5h1M20 164.5h1M34 164.5h1M0 165.5h1M21 165.5h1M36 165.5h1M42 165.5h1M2 166.5h1M15 166.5h1M4 167.5h1M6 167.5h1M9 167.5h1M46 167.5h1M3 168.5h1M15 168.5h1M40 168.5h1M44 168.5h1M50 168.5h1M4 169.5h1M6 169.5h1M8 169.5h1M17 169.5h1M49 169.5h1M6 170.5h1M8 170.5h1M16 170.5h1M3 172.5h1M6 172.5h2M2 173.5h1M5 173.5h1M50 173.5h1M0 174.5h1M4 174.5h1M15 174.5h1M50 174.5h1M0 177.5h1M2 177.5h1M5 177.5h1M4 178.5h1M13 178.5h1M17 178.5h1M6 179.5h1M10 179.5h1M2 181.5h1M11 181.5h1M3 183.5h1M2 184.5h1M6 184.5h1M6 186.5h1M7 187.5h1M13 187.5h1M4 188.5h1M8 188.5h1M11 188.5h1M10 189.5h1M3 190.5h2M4 191.5h1M8 193.5h1M1 195.5h1M1 197.5h1M4 198.5h1M0 202.5h1M3 204.5h1M7 204.5h1M0 206.5h1M4 207.5h1M4 216.5h1M1 220.5h1M4 220.5h1M2 221.5h1M1 224.5h1M3 224.5h1M1 229.5h1M4 229.5h1M8 230.5h1M5 231.5h1M0 233.5h1M5 233.5h1M0 234.5h1M4 234.5h1M0 235.5h1M1 236.5h1M6 236.5h1M6 238.5h1M0 239.5h1M3 241.5h1M10 241.5h1M11 242.5h1M4 243.5h1M10 245.5h2M0 247.5h3M7 247.5h2M3 249.5h1M7 249.5h1M0 250.5h1M2 250.5h1M17 250.5h1M13 251.5h1M6 252.5h2M5 253.5h1M17 254.5h1M5 255.5h1M8 256.5h1M15 256.5h1M6 257.5h1M46 257.5h1M50 257.5h1M7 258.5h1M10 258.5h1M13 258.5h2M16 258.5h1M12 259.5h1M20 259.5h1M47 259.5h1M2 260.5h1M4 261.5h1M11 261.5h1M15 261.5h2M8 262.5h1M16 262.5h1M16 263.5h1M19 264.5h1M46 264.5h1M50 264.5h1M9 265.5h1M38 265.5h1M9 266.5h1M11 266.5h1M28 266.5h1M3 267.5h2M13 267.5h1M18 267.5h1M41 268.5h1M49 268.5h1M0 269.5h1M2 269.5h1M33 269.5h1M35 269.5h1M41 269.5h1M48 269.5h1M0 270.5h1M3 270.5h1M9 270.5h1M20 270.5h1M38 270.5h1M6 271.5h1M26 271.5h1M35 271.5h1M40 271.5h1M45 271.5h1M3 272.5h1M10 272.5h1M15 272.5h1M18 272.5h1M26 272.5h1M41 272.5h1M2 273.5h1M15 273.5h1M20 273.5h1M22 273.5h1M25 273.5h1M39 273.5h1M47 273.5h1M18 274.5h2M27 274.5h1M16 275.5h1M18 275.5h1M20 275.5h1M25 275.5h2M31 275.5h1M34 275.5h1M45 275.5h1M3 276.5h1M11 276.5h1M22 276.5h1M27 276.5h1M37 276.5h1M7 277.5h1M11 277.5h1M17 277.5h1M21 277.5h1M43 277.5h1M48 277.5h2M44 278.5h1M27 279.5h1M25 280.5h1M34 280.5h1M39 280.5h1M10 281.5h1M13 281.5h1M23 281.5h1M30 281.5h1M40 281.5h1M25 283.5h1M29 283.5h1M39 283.5h1M2 284.5h1M9 284.5h1M21 284.5h2M25 284.5h1M27 284.5h1M33 284.5h1M14 285.5h1M18 285.5h2M2 286.5h1M15 286.5h1M27 286.5h1M34 286.5h1M42 286.5h1M47 286.5h1M26 287.5h1M5 288.5h1M7 288.5h1M22 288.5h1M30 288.5h1M15 289.5h2M18 289.5h1M45 289.5h1M49 289.5h1M8 290.5h1M17 290.5h1M41 290.5h1M43 290.5h1M8 292.5h1M25 292.5h1M26 293.5h1M34 293.5h1M24 294.5h1M31 294.5h2M18 295.5h1M38 295.5h1M20 296.5h1M32 297.5h1M25 298.5h1M31 298.5h2M35 298.5h1M40 298.5h2M46 298.5h1M37 299.5h1M1 300.5h1M7 300.5h1M16 300.5h1M34 300.5h1M19 301.5h1M27 301.5h1M5 302.5h1M12 302.5h1M19 302.5h1M26 302.5h1M34 302.5h2M20 303.5h1M30 303.5h1M49 303.5h2M10 304.5h1M45 304.5h1M31 307.5h1M25 308.5h1M3 309.5h1M24 310.5h1M30 310.5h1M48 310.5h1M13 311.5h1M43 311.5h1M47 311.5h1M11 313.5h1M40 313.5h1M17 314.5h1M26 314.5h1M0 317.5h1M7 317.5h2M18 318.5h1M20 319.5h1"/><path stroke="#4758f8" d="M42 100.5h1M39 101.5h1M38 102.5h1M40 102.5h1M44 104.5h1M42 106.5h1M41 107.5h2M36 108.5h1M41 108.5h1M43 108.5h2M37 110.5h1M40 111.5h1M45 111.5h1M48 111.5h1M39 112.5h1M47 114.5h1M12 115.5h1M36 115.5h1M43 115.5h1M40 116.5h1M45 116.5h1M0 117.5h1M37 117.5h1M47 117.5h2M7 118.5h1M17 118.5h1M36 118.5h1M40 118.5h1M32 119.5h1M39 119.5h1M42 119.5h1M49 119.5h1M13 120.5h1M15 120.5h1M50 120.5h1M2 121.5h1M4 121.5h1M6 121.5h1M9 121.5h3M17 121.5h1M37 121.5h3M50 121.5h1M5 122.5h1M13 122.5h1M18 122.5h2M35 122.5h1M38 122.5h1M47 122.5h1M6 123.5h1M12 123.5h1M32 123.5h1M36 123.5h1M39 123.5h1M49 123.5h1M2 124.5h1M22 124.5h1M46 124.5h1M3 125.5h1M14 125.5h1M39 125.5h1M42 125.5h1M45 125.5h1M49 125.5h1M4 126.5h1M20 126.5h1M25 126.5h1M37 126.5h1M43 126.5h1M4 127.5h1M22 127.5h2M25 127.5h1M46 127.5h1M1 128.5h1M8 128.5h1M14 128.5h1M23 128.5h1M28 128.5h1M34 128.5h1M48 128.5h1M13 129.5h1M26 129.5h1M30 129.5h1M32 129.5h1M1 130.5h1M5 130.5h1M16 130.5h1M23 130.5h1M26 130.5h1M41 130.5h1M15 131.5h1M26 131.5h1M50 131.5h1M5 132.5h1M14 132.5h1M17 132.5h2M42 132.5h1M48 132.5h1M35 133.5h1M40 133.5h1M49 133.5h2M3 134.5h1M6 134.5h4M26 134.5h2M29 134.5h1M24 135.5h1M27 135.5h1M25 136.5h1M33 136.5h1M45 136.5h1M47 136.5h1M8 137.5h1M14 137.5h1M21 137.5h1M24 137.5h1M31 137.5h1M34 137.5h1M6 138.5h1M12 138.5h1M22 138.5h1M33 138.5h1M4 139.5h1M10 139.5h1M24 139.5h1M29 139.5h1M44 139.5h1M8 140.5h2M36 140.5h1M14 141.5h1M28 141.5h1M36 141.5h1M39 141.5h1M3 142.5h1M7 142.5h1M13 142.5h1M23 142.5h1M26 142.5h1M32 142.5h1M46 142.5h1M26 143.5h1M2 145.5h1M7 145.5h1M17 145.5h1M26 145.5h1M36 145.5h1M38 145.5h1M9 146.5h1M21 146.5h1M23 146.5h1M32 146.5h1M45 146.5h2M13 147.5h1M15 147.5h1M20 147.5h1M25 147.5h1M29 147.5h1M33 147.5h3M9 148.5h1M24 148.5h1M4 149.5h1M10 149.5h1M18 149.5h1M28 149.5h2M3 150.5h1M30 150.5h1M36 150.5h1M9 151.5h1M33 151.5h1M18 152.5h1M24 152.5h1M38 152.5h1M50 152.5h1M1 153.5h1M22 153.5h1M47 153.5h1M5 154.5h1M9 154.5h1M17 154.5h1M22 154.5h1M28 154.5h2M35 154.5h1M33 155.5h2M43 155.5h1M46 155.5h1M26 156.5h1M28 156.5h1M39 156.5h1M18 157.5h2M21 157.5h1M27 157.5h1M30 157.5h1M42 157.5h1M12 158.5h1M24 158.5h1M44 158.5h1M47 158.5h1M5 159.5h1M20 159.5h1M26 159.5h2M45 159.5h1M47 159.5h1M9 160.5h1M14 160.5h1M29 160.5h1M34 160.5h1M3 161.5h1M7 161.5h1M11 161.5h1M19 161.5h2M33 161.5h1M49 161.5h1M2 162.5h1M7 162.5h1M14 162.5h1M18 162.5h1M21 162.5h1M23 162.5h1M27 162.5h1M36 162.5h1M8 163.5h1M21 163.5h1M33 163.5h1M44 163.5h1M6 164.5h1M11 164.5h1M13 164.5h1M16 164.5h1M18 164.5h1M22 164.5h1M31 164.5h1M37 164.5h1M50 164.5h1M10 165.5h1M14 165.5h1M16 165.5h1M19 165.5h1M45 165.5h1M50 165.5h1M9 166.5h1M11 166.5h2M34 166.5h1M7 167.5h1M35 167.5h1M18 168.5h1M11 169.5h1M23 169.5h1M45 169.5h2M2 170.5h1M9 170.5h1M4 171.5h1M49 171.5h1M5 172.5h1M13 172.5h1M15 172.5h1M17 172.5h1M48 172.5h2M12 173.5h1M3 175.5h1M5 175.5h1M9 175.5h1M4 176.5h1M11 176.5h1M17 177.5h1M1 178.5h1M10 178.5h1M15 178.5h1M8 179.5h1M11 179.5h2M6 180.5h1M50 180.5h1M3 181.5h2M12 181.5h1M16 181.5h1M7 182.5h1M12 182.5h1M10 183.5h1M10 184.5h1M12 184.5h1M11 185.5h1M0 186.5h2M10 186.5h1M1 187.5h1M4 187.5h1M11 187.5h1M3 188.5h1M7 188.5h1M1 189.5h1M9 189.5h1M0 190.5h1M6 190.5h1M1 191.5h1M3 192.5h1M5 192.5h1M11 192.5h1M7 193.5h1M0 194.5h2M7 194.5h1M8 196.5h1M6 197.5h1M0 199.5h1M6 199.5h1M1 200.5h1M1 201.5h1M2 203.5h1M1 205.5h1M3 206.5h1M6 207.5h1M0 209.5h1M1 210.5h1M4 210.5h1M1 216.5h1M5 216.5h1M2 218.5h1M5 218.5h1M1 222.5h1M3 225.5h2M8 226.5h1M2 228.5h1M7 229.5h1M4 230.5h1M6 232.5h1M3 233.5h1M3 235.5h1M1 238.5h1M7 239.5h1M6 240.5h1M9 240.5h1M1 241.5h1M7 241.5h1M1 243.5h1M10 243.5h1M1 244.5h1M7 244.5h1M7 245.5h1M3 246.5h2M8 246.5h1M15 246.5h1M17 246.5h1M16 247.5h1M0 248.5h1M5 248.5h1M8 248.5h1M11 248.5h1M0 249.5h1M12 249.5h2M3 250.5h1M6 250.5h1M11 250.5h1M0 251.5h1M2 251.5h1M3 253.5h1M9 253.5h1M12 253.5h1M14 253.5h1M16 253.5h2M50 253.5h1M6 254.5h1M10 254.5h1M12 255.5h1M16 255.5h1M6 256.5h2M9 256.5h1M49 256.5h1M14 257.5h1M20 257.5h1M8 258.5h1M15 258.5h1M22 258.5h1M3 259.5h1M7 259.5h1M0 260.5h1M11 260.5h1M18 260.5h1M1 261.5h1M8 261.5h2M14 261.5h1M46 261.5h1M7 262.5h1M48 262.5h1M7 263.5h1M13 263.5h1M22 263.5h1M28 263.5h1M31 263.5h1M46 263.5h1M2 264.5h1M7 264.5h3M23 264.5h1M44 264.5h1M47 264.5h1M3 265.5h1M18 265.5h1M20 265.5h1M41 265.5h2M45 265.5h1M50 265.5h1M5 266.5h1M18 266.5h2M39 266.5h1M41 266.5h1M45 266.5h1M50 266.5h1M12 267.5h1M39 267.5h1M42 267.5h1M33 268.5h1M44 268.5h1M7 269.5h1M12 269.5h1M22 269.5h1M31 269.5h1M38 269.5h2M42 269.5h2M10 270.5h1M13 270.5h1M25 270.5h1M33 270.5h1M36 270.5h1M39 270.5h1M8 271.5h1M31 271.5h2M44 271.5h1M11 272.5h1M14 272.5h1M16 272.5h1M23 272.5h1M28 272.5h1M34 272.5h1M39 272.5h1M28 273.5h1M32 273.5h1M42 273.5h1M46 273.5h1M44 274.5h1M47 274.5h1M2 275.5h1M49 275.5h1M13 276.5h3M18 276.5h2M21 276.5h1M42 276.5h1M46 276.5h1M25 277.5h1M41 277.5h1M45 277.5h1M23 278.5h1M27 278.5h1M30 278.5h1M43 278.5h1M18 279.5h1M22 279.5h1M24 280.5h1M25 281.5h2M47 281.5h2M8 282.5h1M11 282.5h1M21 282.5h1M24 282.5h1M29 282.5h1M43 282.5h1M47 282.5h1M28 283.5h1M43 283.5h1M13 284.5h1M31 284.5h1M24 285.5h1M30 285.5h1M19 286.5h1M24 286.5h1M20 287.5h1M32 287.5h1M14 288.5h1M24 288.5h1M34 289.5h2M11 290.5h1M18 290.5h1M29 290.5h1M20 291.5h1M7 292.5h1M13 292.5h3M24 292.5h1M27 292.5h1M35 292.5h1M3 293.5h1M23 294.5h1M23 295.5h2M26 295.5h1M28 295.5h1M12 296.5h1M24 296.5h1M9 297.5h1M34 297.5h1M49 297.5h1M9 298.5h1M15 298.5h1M26 298.5h1M5 299.5h1M22 299.5h1M30 300.5h1M48 300.5h1M43 301.5h1M16 303.5h1M33 303.5h1M34 305.5h1M4 306.5h1M15 306.5h1M14 308.5h1M36 308.5h1M22 310.5h1M5 311.5h1M36 313.5h1M10 314.5h1M27 314.5h1M14 315.5h1M18 319.5h1M36 319.5h1M3 320.5h1M10 320.5h1"/><path stroke="#465efb" d="M40 98.5h1M40 99.5h1M44 100.5h1M42 101.5h1M43 103.5h1M39 105.5h1M37 106.5h1M43 106.5h1M40 107.5h1M42 108.5h1M45 108.5h1M35 109.5h1M42 109.5h1M45 112.5h1M35 113.5h1M49 113.5h1M40 114.5h1M45 114.5h2M40 115.5h1M42 115.5h1M44 115.5h1M33 116.5h2M36 116.5h1M46 116.5h1M5 117.5h1M9 117.5h1M35 117.5h1M3 118.5h1M11 118.5h2M35 118.5h1M39 118.5h1M50 118.5h1M4 119.5h1M10 119.5h1M13 119.5h1M33 119.5h1M36 119.5h1M1 120.5h1M6 120.5h1M10 120.5h1M16 120.5h1M21 120.5h1M47 120.5h1M19 121.5h1M26 121.5h1M31 121.5h2M48 121.5h2M0 122.5h1M7 122.5h1M12 122.5h1M22 122.5h1M24 122.5h1M49 122.5h1M16 123.5h1M20 123.5h1M25 123.5h1M28 123.5h1M3 124.5h1M11 124.5h1M30 124.5h1M33 125.5h1M37 125.5h1M44 125.5h1M46 125.5h1M18 126.5h1M22 126.5h1M24 126.5h1M26 126.5h1M29 126.5h1M5 127.5h1M13 127.5h1M27 127.5h1M30 127.5h1M10 128.5h1M12 128.5h1M18 128.5h1M33 128.5h1M29 129.5h1M34 129.5h1M43 129.5h1M6 130.5h1M17 130.5h1M4 131.5h1M16 131.5h1M32 131.5h1M3 132.5h1M7 132.5h1M13 132.5h1M19 132.5h1M22 132.5h1M8 133.5h1M11 133.5h1M27 133.5h2M16 134.5h1M24 134.5h1M30 134.5h1M50 134.5h1M9 135.5h1M14 136.5h1M22 136.5h1M28 136.5h2M16 137.5h2M36 137.5h2M45 137.5h1M24 138.5h1M45 138.5h1M49 138.5h1M1 139.5h1M14 139.5h1M32 139.5h1M2 140.5h1M26 140.5h1M29 140.5h1M3 141.5h1M12 142.5h1M16 142.5h1M24 142.5h1M3 143.5h1M21 143.5h1M24 143.5h1M24 144.5h1M14 145.5h1M21 145.5h1M23 145.5h1M33 145.5h1M35 145.5h1M46 145.5h1M50 145.5h1M6 146.5h1M17 146.5h1M29 146.5h1M44 146.5h1M47 146.5h1M1 147.5h2M14 147.5h1M17 147.5h1M21 147.5h2M7 148.5h1M15 148.5h1M17 148.5h1M26 148.5h2M13 149.5h1M27 149.5h1M39 149.5h1M12 150.5h1M15 150.5h1M25 150.5h1M33 150.5h1M35 150.5h1M11 151.5h1M16 151.5h2M30 151.5h1M12 152.5h1M20 152.5h1M22 152.5h1M41 152.5h1M4 153.5h1M12 153.5h2M19 153.5h1M45 153.5h1M0 154.5h1M45 154.5h1M1 155.5h1M13 155.5h3M25 155.5h1M17 156.5h1M36 156.5h1M43 156.5h1M10 157.5h1M32 157.5h1M8 158.5h1M13 158.5h1M15 158.5h1M22 158.5h1M26 158.5h1M31 158.5h1M2 159.5h1M6 159.5h2M16 159.5h1M21 159.5h1M29 159.5h1M36 159.5h1M39 159.5h1M11 160.5h1M16 160.5h1M19 160.5h1M28 160.5h1M39 160.5h1M43 160.5h1M1 161.5h1M4 161.5h1M9 161.5h1M21 161.5h1M34 161.5h1M41 161.5h1M46 161.5h1M19 162.5h1M39 162.5h3M44 162.5h1M36 163.5h1M40 163.5h1M46 163.5h1M48 163.5h1M50 163.5h1M8 164.5h1M10 164.5h1M15 164.5h1M21 164.5h1M36 164.5h1M44 164.5h1M5 165.5h1M8 165.5h1M15 165.5h1M13 166.5h1M18 166.5h1M33 166.5h1M49 166.5h1M14 167.5h1M16 167.5h1M47 167.5h1M49 167.5h1M8 168.5h1M13 168.5h1M41 168.5h1M49 168.5h1M7 169.5h1M10 169.5h1M18 169.5h1M27 169.5h1M15 170.5h1M48 170.5h1M3 171.5h1M11 171.5h1M19 171.5h1M48 171.5h1M0 172.5h1M4 172.5h1M9 172.5h1M11 172.5h1M19 172.5h1M47 172.5h1M14 173.5h1M16 173.5h1M48 173.5h1M3 174.5h1M5 174.5h1M9 174.5h1M2 175.5h1M10 175.5h1M12 175.5h1M20 175.5h1M8 177.5h2M15 177.5h1M2 178.5h1M6 178.5h1M10 180.5h1M1 181.5h1M10 181.5h1M9 182.5h1M13 182.5h1M49 182.5h1M7 183.5h1M16 183.5h1M4 184.5h2M9 184.5h1M1 185.5h1M5 185.5h1M7 185.5h3M13 185.5h1M15 185.5h2M18 185.5h1M50 186.5h1M0 187.5h1M6 187.5h1M10 187.5h1M9 188.5h1M3 189.5h2M2 190.5h1M5 190.5h1M9 190.5h1M8 191.5h1M0 192.5h1M8 192.5h1M3 193.5h1M5 193.5h1M6 194.5h1M11 194.5h1M0 195.5h1M3 195.5h2M7 195.5h1M2 197.5h1M4 197.5h1M2 198.5h1M4 199.5h1M2 200.5h1M4 200.5h1M0 201.5h1M3 201.5h2M8 201.5h1M3 202.5h1M9 202.5h1M4 203.5h1M8 204.5h1M1 206.5h1M5 206.5h1M1 207.5h1M1 208.5h1M3 210.5h1M0 213.5h1M1 214.5h1M5 215.5h1M0 222.5h1M2 223.5h1M5 223.5h1M0 225.5h2M10 227.5h1M1 228.5h1M3 231.5h1M10 231.5h1M9 232.5h1M12 233.5h1M1 234.5h1M5 234.5h1M0 236.5h1M3 236.5h1M8 236.5h1M7 237.5h1M9 237.5h1M7 238.5h1M5 240.5h1M7 240.5h1M10 240.5h1M9 241.5h1M12 241.5h1M1 242.5h1M12 242.5h1M5 244.5h2M3 245.5h1M8 245.5h2M12 245.5h1M6 246.5h1M3 248.5h1M2 249.5h1M11 249.5h1M14 250.5h1M1 251.5h1M7 251.5h1M5 252.5h1M2 253.5h1M15 253.5h1M7 254.5h1M15 255.5h1M17 255.5h1M50 255.5h1M13 256.5h1M16 256.5h1M47 256.5h2M10 257.5h1M12 257.5h2M38 258.5h1M42 258.5h1M47 258.5h3M13 259.5h1M15 259.5h1M12 260.5h1M17 260.5h1M36 260.5h1M50 260.5h1M20 261.5h1M22 261.5h1M34 261.5h1M44 261.5h1M47 261.5h1M2 262.5h1M4 262.5h1M12 262.5h1M36 262.5h1M40 262.5h1M49 262.5h1M15 263.5h1M36 263.5h1M43 263.5h1M5 264.5h1M13 264.5h1M31 264.5h1M43 264.5h1M15 265.5h1M33 265.5h1M6 266.5h1M14 266.5h1M21 266.5h1M26 266.5h1M34 266.5h1M40 266.5h1M7 267.5h1M24 267.5h1M29 267.5h1M32 267.5h2M36 267.5h1M8 268.5h1M16 268.5h1M18 268.5h2M27 268.5h1M29 268.5h1M39 268.5h1M11 269.5h1M17 269.5h1M28 269.5h1M47 269.5h1M11 270.5h1M18 270.5h1M47 270.5h1M21 271.5h1M28 271.5h1M43 271.5h1M48 271.5h1M30 272.5h1M37 272.5h1M46 272.5h1M49 272.5h1M6 273.5h1M8 273.5h2M21 273.5h1M37 273.5h1M44 273.5h2M9 274.5h1M14 274.5h1M25 274.5h1M32 274.5h1M41 274.5h1M43 274.5h1M46 274.5h1M8 275.5h1M32 275.5h1M35 275.5h1M10 276.5h1M17 276.5h1M24 276.5h2M29 276.5h1M48 276.5h1M12 277.5h1M14 277.5h1M31 277.5h1M13 278.5h1M35 278.5h1M40 278.5h1M5 279.5h1M14 279.5h1M25 279.5h1M29 279.5h1M32 279.5h2M14 280.5h1M35 280.5h1M29 281.5h1M31 281.5h1M34 281.5h1M43 281.5h1M13 282.5h1M40 282.5h1M45 282.5h1M15 283.5h2M26 283.5h1M18 284.5h1M47 284.5h1M21 285.5h1M29 285.5h1M41 285.5h1M23 286.5h1M25 286.5h1M7 287.5h1M23 287.5h1M29 288.5h1M21 289.5h1M23 289.5h1M21 290.5h1M29 291.5h1M42 292.5h1M25 294.5h1M13 296.5h1M40 296.5h1M42 296.5h1M28 297.5h1M43 297.5h1M6 299.5h1M23 300.5h1M34 301.5h1M15 303.5h1M21 304.5h1M27 306.5h1M35 306.5h1M39 306.5h1M15 307.5h1M23 309.5h1M25 309.5h1M15 310.5h1M43 310.5h1M19 313.5h1M1 314.5h1M25 314.5h1M50 315.5h1M34 316.5h1M30 318.5h1M44 319.5h1M27 320.5h1M46 320.5h1"/><path stroke="#4269fe" d="M42 2.5h1M43 96.5h1M45 97.5h1M39 99.5h1M43 99.5h1M37 100.5h2M40 101.5h1M41 102.5h2M44 102.5h1M40 103.5h1M39 104.5h2M42 104.5h1M46 104.5h1M38 105.5h1M43 105.5h2M35 106.5h2M40 106.5h1M44 106.5h2M38 108.5h1M46 108.5h1M43 109.5h1M40 110.5h1M43 110.5h2M42 111.5h1M43 112.5h1M46 112.5h1M0 113.5h1M2 113.5h2M10 113.5h1M37 113.5h2M41 113.5h1M4 114.5h1M6 114.5h1M9 114.5h1M17 114.5h1M50 114.5h1M8 115.5h1M50 115.5h1M0 116.5h1M9 116.5h1M11 116.5h1M15 116.5h1M48 116.5h1M10 117.5h2M13 117.5h1M15 117.5h1M18 117.5h1M24 117.5h1M1 118.5h1M6 118.5h1M8 118.5h1M32 118.5h1M1 119.5h1M12 119.5h1M17 119.5h2M25 119.5h1M5 120.5h1M17 120.5h1M48 120.5h1M18 121.5h1M20 121.5h1M1 122.5h1M3 122.5h1M10 122.5h1M23 122.5h1M26 123.5h1M43 123.5h1M17 124.5h1M23 124.5h1M27 124.5h1M31 124.5h1M36 124.5h1M43 124.5h1M49 124.5h1M6 125.5h3M11 125.5h1M17 125.5h1M22 125.5h1M1 126.5h2M11 126.5h1M40 126.5h1M2 127.5h1M6 127.5h1M19 127.5h1M4 128.5h1M16 128.5h1M27 128.5h1M38 128.5h1M17 129.5h1M11 130.5h1M22 130.5h1M2 131.5h1M11 131.5h1M14 131.5h1M0 132.5h1M4 133.5h1M30 133.5h1M15 134.5h1M28 135.5h1M34 135.5h1M41 135.5h1M7 136.5h1M20 136.5h1M23 136.5h1M30 136.5h2M42 136.5h1M17 138.5h1M31 139.5h1M49 139.5h1M6 141.5h1M17 141.5h1M8 142.5h1M25 142.5h1M19 143.5h1M27 143.5h1M22 144.5h1M28 144.5h1M30 145.5h1M3 146.5h1M7 147.5h2M26 147.5h1M41 147.5h1M12 148.5h1M25 148.5h1M19 149.5h1M30 149.5h1M20 150.5h1M27 150.5h2M45 150.5h1M26 151.5h1M42 151.5h1M26 152.5h1M36 152.5h1M42 152.5h1M45 152.5h1M48 152.5h1M5 153.5h1M38 153.5h1M48 153.5h1M30 154.5h1M11 155.5h1M47 155.5h1M3 156.5h1M20 156.5h1M22 156.5h1M30 156.5h1M6 157.5h1M25 157.5h2M33 157.5h1M35 157.5h1M23 158.5h1M28 158.5h1M33 158.5h1M35 158.5h1M44 159.5h1M12 160.5h1M20 160.5h1M31 160.5h1M18 161.5h1M26 161.5h1M17 162.5h1M45 162.5h1M15 163.5h1M18 163.5h1M26 163.5h1M30 163.5h1M34 163.5h1M41 163.5h1M43 163.5h1M45 163.5h1M27 164.5h1M32 164.5h1M41 164.5h1M47 164.5h1M18 165.5h1M20 165.5h1M24 165.5h3M28 165.5h2M47 165.5h1M19 166.5h1M24 166.5h1M32 166.5h1M37 166.5h1M47 166.5h1M26 167.5h1M34 167.5h1M38 167.5h1M41 167.5h1M22 168.5h1M46 168.5h3M21 169.5h2M25 169.5h1M30 169.5h1M37 169.5h1M39 169.5h1M12 170.5h1M23 170.5h1M39 170.5h1M47 170.5h1M14 171.5h1M17 171.5h1M43 171.5h1M46 171.5h1M33 172.5h1M37 172.5h1M44 172.5h1M1 174.5h1M13 174.5h1M20 174.5h1M24 174.5h1M49 174.5h1M13 175.5h1M15 175.5h1M18 175.5h1M7 176.5h2M13 176.5h1M16 176.5h1M6 177.5h1M13 177.5h1M20 177.5h1M9 178.5h1M13 179.5h1M48 179.5h1M14 180.5h1M16 180.5h1M8 181.5h1M14 181.5h1M19 181.5h1M11 182.5h1M16 182.5h2M4 183.5h1M0 185.5h1M3 185.5h2M12 185.5h1M14 185.5h1M13 186.5h1M12 187.5h1M17 187.5h1M2 188.5h1M15 191.5h1M9 192.5h1M1 193.5h1M4 193.5h1M10 193.5h2M5 195.5h1M10 195.5h1M7 196.5h1M11 196.5h1M12 197.5h1M0 198.5h1M3 200.5h1M10 200.5h1M2 201.5h1M6 201.5h1M1 202.5h1M10 202.5h1M12 202.5h1M7 203.5h1M0 204.5h1M4 204.5h1M6 204.5h1M9 204.5h1M5 205.5h1M12 205.5h1M9 206.5h2M12 206.5h1M2 208.5h1M4 208.5h1M9 208.5h1M1 209.5h1M3 209.5h2M5 210.5h1M2 212.5h1M7 213.5h1M3 214.5h1M0 215.5h1M0 216.5h1M3 216.5h1M8 216.5h1M3 217.5h1M9 218.5h1M2 219.5h1M5 219.5h2M3 220.5h1M7 220.5h1M9 220.5h1M5 221.5h1M3 222.5h3M9 222.5h1M6 223.5h1M8 223.5h1M10 223.5h1M2 224.5h1M7 224.5h1M9 224.5h1M5 225.5h1M7 225.5h1M3 226.5h1M11 226.5h1M6 227.5h1M4 228.5h1M6 228.5h1M8 228.5h2M15 229.5h1M1 230.5h2M0 231.5h1M12 231.5h1M1 232.5h1M3 232.5h1M5 232.5h1M10 232.5h1M13 232.5h1M4 233.5h1M6 233.5h1M6 234.5h3M10 234.5h1M5 235.5h1M8 235.5h1M15 235.5h1M12 236.5h1M1 237.5h2M6 237.5h1M15 237.5h1M9 238.5h1M8 239.5h1M10 239.5h1M12 239.5h1M0 240.5h1M4 240.5h1M14 241.5h2M10 242.5h1M13 242.5h1M2 244.5h1M9 244.5h1M15 244.5h2M7 246.5h1M5 247.5h1M11 247.5h1M13 247.5h1M4 248.5h1M6 248.5h2M15 248.5h1M20 248.5h1M49 249.5h1M18 250.5h1M14 251.5h1M19 252.5h1M20 253.5h1M9 254.5h1M14 254.5h1M47 254.5h1M18 255.5h1M22 255.5h1M34 255.5h1M11 256.5h1M21 256.5h1M41 256.5h1M43 256.5h1M18 257.5h1M22 257.5h1M35 257.5h1M42 257.5h1M19 258.5h1M33 258.5h1M16 259.5h1M34 259.5h2M9 260.5h1M14 260.5h1M25 260.5h1M42 260.5h1M46 260.5h1M48 260.5h1M13 261.5h1M43 261.5h1M15 262.5h1M17 262.5h1M27 262.5h1M44 262.5h1M46 262.5h1M3 263.5h1M21 263.5h1M47 263.5h1M27 264.5h1M32 264.5h1M40 264.5h1M17 265.5h1M21 265.5h1M25 265.5h1M44 265.5h1M17 266.5h1M20 266.5h1M29 266.5h1M32 266.5h1M43 266.5h1M19 267.5h1M31 267.5h1M34 267.5h1M43 267.5h1M20 268.5h1M30 268.5h1M37 268.5h1M40 268.5h1M21 269.5h1M25 269.5h1M12 270.5h1M21 270.5h1M27 270.5h1M33 271.5h1M36 271.5h2M17 272.5h1M19 272.5h1M27 272.5h1M29 272.5h1M31 273.5h1M21 274.5h2M30 274.5h1M38 274.5h1M14 275.5h1M19 275.5h1M38 275.5h1M24 277.5h1M33 277.5h1M22 278.5h1M24 278.5h1M37 278.5h1M38 279.5h1M32 282.5h1M12 287.5h1M11 288.5h1M25 290.5h1M18 292.5h1M35 296.5h1M26 300.5h1M15 314.5h1"/><path stroke="#3e6fff" d="M42 4.5h1M33 5.5h1M43 93.5h1M38 96.5h1M38 97.5h1M41 97.5h1M43 97.5h1M41 100.5h1M43 100.5h1M41 101.5h1M44 101.5h1M43 102.5h1M35 103.5h1M41 103.5h1M44 103.5h1M43 104.5h1M37 105.5h1M39 106.5h1M34 107.5h1M44 107.5h2M35 108.5h1M39 108.5h1M50 108.5h1M38 109.5h1M48 109.5h1M46 110.5h2M9 111.5h1M36 111.5h1M38 111.5h1M3 112.5h1M8 112.5h1M12 112.5h1M34 112.5h1M37 112.5h1M48 112.5h1M5 113.5h3M44 113.5h1M47 113.5h1M50 113.5h1M12 114.5h1M18 114.5h1M31 114.5h1M6 115.5h1M9 115.5h1M33 115.5h1M35 115.5h1M48 115.5h1M3 116.5h1M14 116.5h1M19 116.5h1M38 116.5h1M47 116.5h1M2 117.5h1M6 117.5h2M17 117.5h1M22 117.5h1M14 118.5h1M24 118.5h1M48 118.5h1M0 119.5h1M16 119.5h1M47 119.5h1M32 120.5h1M1 121.5h1M15 121.5h1M23 121.5h1M25 121.5h1M25 122.5h1M30 122.5h1M32 122.5h1M46 122.5h1M29 123.5h1M4 124.5h1M21 124.5h1M29 124.5h1M32 124.5h1M48 124.5h1M15 125.5h1M30 125.5h1M28 126.5h1M30 126.5h1M14 127.5h1M20 127.5h1M33 127.5h1M13 128.5h1M24 128.5h3M27 129.5h2M12 130.5h2M19 130.5h1M25 130.5h1M32 130.5h1M23 131.5h1M5 133.5h1M21 133.5h1M22 134.5h1M17 135.5h1M19 136.5h1M28 137.5h1M29 138.5h1M3 140.5h1M12 140.5h1M0 142.5h1M20 144.5h1M27 145.5h2M21 148.5h1M18 150.5h1M22 150.5h1M41 150.5h1M3 151.5h1M23 151.5h1M25 151.5h1M29 151.5h1M14 152.5h1M25 152.5h1M25 153.5h1M40 153.5h1M27 154.5h1M25 156.5h1M34 156.5h1M40 156.5h1M47 156.5h1M10 158.5h1M16 158.5h1M41 158.5h1M23 159.5h1M28 159.5h1M42 159.5h1M46 159.5h1M21 160.5h1M23 160.5h2M37 160.5h1M46 160.5h1M49 160.5h1M22 161.5h1M24 161.5h1M27 161.5h1M32 161.5h1M12 162.5h1M3 163.5h1M10 163.5h1M13 163.5h1M22 163.5h1M37 163.5h1M23 164.5h1M25 164.5h1M33 164.5h1M46 164.5h1M23 165.5h1M30 165.5h1M32 165.5h1M39 165.5h1M49 165.5h1M21 166.5h1M27 166.5h2M31 166.5h1M40 166.5h1M44 166.5h1M46 166.5h1M13 167.5h1M24 167.5h2M29 167.5h1M37 167.5h1M23 168.5h1M28 168.5h2M34 168.5h2M43 169.5h2M47 169.5h1M11 170.5h1M22 170.5h1M34 170.5h1M36 170.5h1M42 170.5h1M10 171.5h1M16 171.5h1M38 171.5h1M40 171.5h1M45 171.5h1M12 172.5h1M14 172.5h1M16 172.5h1M22 172.5h3M35 172.5h1M4 173.5h1M34 173.5h2M43 173.5h1M47 173.5h1M12 174.5h1M23 174.5h1M21 175.5h1M47 175.5h2M14 176.5h1M17 176.5h3M48 177.5h2M19 178.5h1M16 179.5h3M22 179.5h1M49 179.5h1M12 180.5h2M17 180.5h1M20 180.5h1M47 180.5h3M6 181.5h1M13 181.5h1M20 181.5h1M6 182.5h1M49 183.5h1M19 184.5h1M2 185.5h1M5 186.5h1M9 186.5h1M16 186.5h1M18 187.5h1M5 188.5h1M12 188.5h1M5 189.5h1M7 189.5h1M11 189.5h1M13 189.5h1M16 189.5h1M12 190.5h1M16 190.5h1M2 191.5h1M10 191.5h2M16 192.5h1M15 193.5h1M3 194.5h1M1 196.5h1M14 196.5h1M5 198.5h1M8 198.5h1M10 198.5h2M2 199.5h1M5 199.5h1M9 200.5h1M13 201.5h1M5 202.5h2M11 202.5h1M13 202.5h1M0 203.5h1M11 203.5h1M13 203.5h2M5 204.5h1M7 205.5h1M11 205.5h1M7 206.5h1M2 207.5h1M8 207.5h2M6 208.5h1M6 210.5h1M11 210.5h1M1 211.5h1M3 211.5h1M8 211.5h2M0 212.5h1M5 212.5h1M13 212.5h1M1 213.5h2M6 213.5h1M0 214.5h1M6 214.5h1M3 215.5h1M6 216.5h1M1 218.5h1M10 219.5h1M0 220.5h1M1 221.5h1M8 221.5h1M12 222.5h1M3 223.5h1M9 223.5h1M0 224.5h1M8 224.5h1M10 224.5h1M8 225.5h1M0 226.5h2M4 227.5h1M5 228.5h1M2 229.5h1M8 229.5h1M10 229.5h1M4 231.5h1M7 231.5h1M0 232.5h1M8 232.5h1M11 233.5h1M11 234.5h1M1 235.5h1M10 235.5h2M7 236.5h1M13 236.5h2M5 237.5h1M10 237.5h1M14 237.5h1M17 237.5h1M3 239.5h1M5 242.5h1M8 242.5h1M14 242.5h1M0 243.5h1M2 243.5h1M12 243.5h2M15 243.5h1M3 244.5h2M13 245.5h1M16 245.5h1M50 245.5h1M1 246.5h1M12 246.5h1M16 246.5h1M9 247.5h1M14 247.5h1M17 247.5h1M50 247.5h1M13 248.5h2M6 249.5h1M10 249.5h1M50 249.5h1M19 250.5h1M48 250.5h1M4 251.5h1M9 251.5h2M21 251.5h1M8 252.5h1M10 252.5h1M21 252.5h1M23 252.5h1M49 252.5h2M10 253.5h1M19 253.5h1M48 253.5h1M16 254.5h1M18 254.5h1M20 254.5h1M45 254.5h1M49 254.5h2M11 255.5h1M14 255.5h1M36 255.5h1M47 255.5h1M20 256.5h1M44 256.5h2M9 257.5h1M16 257.5h1M19 257.5h1M21 257.5h1M23 257.5h1M32 257.5h1M37 257.5h1M39 257.5h1M44 257.5h1M47 257.5h1M0 258.5h1M20 258.5h1M24 258.5h1M32 258.5h1M39 258.5h1M24 259.5h1M39 259.5h2M48 259.5h1M16 260.5h1M29 260.5h1M32 260.5h1M43 260.5h1M25 261.5h1M35 261.5h1M40 261.5h1M42 261.5h1M1 262.5h1M23 262.5h1M32 262.5h1M38 262.5h1M47 262.5h1M10 263.5h1M20 263.5h1M23 263.5h1M27 263.5h1M30 263.5h1M40 263.5h1M17 264.5h1M25 264.5h2M30 264.5h1M35 264.5h1M38 264.5h1M41 264.5h2M6 265.5h1M14 265.5h1M22 265.5h1M26 265.5h1M29 265.5h1M46 265.5h1M46 266.5h1M14 267.5h1M28 267.5h1M44 267.5h1M43 268.5h1M15 269.5h1M24 269.5h1M30 269.5h1M34 269.5h1M23 270.5h1M31 270.5h1M19 271.5h1M24 271.5h1M30 271.5h1M34 271.5h1M25 272.5h1M17 273.5h1M35 273.5h1M23 274.5h1M28 274.5h1M39 274.5h1M12 276.5h1M26 277.5h1M25 278.5h1M17 279.5h1M24 279.5h1M43 279.5h1M23 280.5h1M22 283.5h1M27 285.5h1M3 287.5h1M11 287.5h1M26 290.5h1M31 290.5h1M30 299.5h1M3 307.5h1M17 307.5h1M22 309.5h1M44 311.5h1M1 319.5h1"/><path stroke="#3875fe" d="M40 .5h2M35 1.5h1M37 1.5h2M40 1.5h1M42 1.5h2M41 2.5h1M35 3.5h1M41 3.5h1M34 4.5h2M37 5.5h2M40 6.5h1M40 89.5h1M44 91.5h1M40 92.5h1M42 94.5h1M40 95.5h1M43 95.5h1M39 96.5h1M44 96.5h1M39 97.5h1M40 100.5h1M35 101.5h1M45 101.5h1M39 102.5h1M47 102.5h1M42 103.5h1M47 103.5h1M36 104.5h1M38 104.5h1M41 104.5h1M36 105.5h1M46 105.5h1M2 107.5h1M36 107.5h2M43 107.5h1M49 108.5h1M0 109.5h1M40 109.5h1M47 109.5h1M1 110.5h3M5 110.5h1M41 110.5h1M45 110.5h1M4 111.5h2M33 111.5h2M39 111.5h1M1 112.5h2M4 112.5h1M11 112.5h1M18 112.5h2M49 112.5h1M1 113.5h1M11 113.5h1M20 113.5h1M34 113.5h1M2 114.5h1M7 114.5h2M11 114.5h1M15 114.5h2M33 114.5h1M41 114.5h1M49 114.5h1M2 115.5h1M4 115.5h2M7 115.5h1M14 115.5h2M17 115.5h1M32 115.5h1M6 116.5h2M35 116.5h1M1 117.5h1M14 117.5h1M16 117.5h1M19 117.5h1M21 117.5h1M26 117.5h1M32 117.5h2M40 117.5h1M0 118.5h1M4 118.5h1M20 118.5h1M26 118.5h1M34 118.5h1M14 119.5h1M31 119.5h1M0 120.5h1M4 120.5h1M9 120.5h1M18 120.5h1M20 120.5h1M23 120.5h1M27 120.5h1M30 120.5h1M34 120.5h1M49 120.5h1M0 121.5h1M13 121.5h2M16 121.5h1M22 121.5h1M24 121.5h1M27 121.5h1M33 121.5h1M4 122.5h1M11 122.5h1M16 122.5h1M20 122.5h2M27 122.5h1M29 122.5h1M33 122.5h1M50 122.5h1M14 123.5h1M23 123.5h1M30 123.5h2M50 123.5h1M28 124.5h1M9 125.5h1M31 125.5h1M15 126.5h1M19 126.5h1M28 127.5h1M32 127.5h1M11 129.5h1M19 129.5h1M22 129.5h1M24 129.5h1M28 132.5h1M15 135.5h1M26 135.5h1M30 135.5h1M24 136.5h1M50 140.5h1M24 141.5h1M4 143.5h1M8 145.5h1M20 149.5h1M24 149.5h1M10 150.5h1M26 150.5h1M24 151.5h1M39 151.5h1M11 154.5h1M26 155.5h1M19 156.5h1M31 156.5h1M17 157.5h1M23 157.5h1M2 158.5h1M30 158.5h1M24 159.5h1M33 159.5h1M22 160.5h1M30 161.5h1M43 161.5h1M25 162.5h1M29 162.5h1M35 162.5h1M38 162.5h1M38 164.5h1M43 164.5h1M7 165.5h1M23 166.5h1M29 166.5h1M36 166.5h1M39 166.5h1M27 167.5h2M39 167.5h1M43 167.5h2M19 168.5h1M21 168.5h1M25 168.5h1M31 168.5h2M38 168.5h1M42 168.5h2M45 168.5h1M9 169.5h1M33 169.5h1M41 169.5h1M20 170.5h1M24 170.5h1M31 170.5h1M37 170.5h2M20 171.5h1M31 171.5h1M36 171.5h1M20 172.5h1M27 172.5h1M31 172.5h1M41 172.5h1M46 172.5h1M19 173.5h1M23 173.5h1M38 173.5h1M41 173.5h2M44 173.5h1M17 174.5h1M19 174.5h1M21 174.5h2M33 174.5h1M42 174.5h3M33 175.5h1M36 175.5h1M23 176.5h1M7 178.5h1M20 178.5h1M5 179.5h1M14 179.5h1M19 179.5h1M1 180.5h1M9 180.5h1M18 181.5h1M22 181.5h1M10 182.5h1M14 182.5h2M8 183.5h1M16 184.5h1M18 184.5h1M49 184.5h1M17 185.5h1M20 185.5h1M4 186.5h1M11 186.5h2M15 186.5h1M17 186.5h1M49 186.5h1M16 187.5h1M1 188.5h1M13 188.5h2M19 188.5h1M21 188.5h1M15 189.5h1M50 189.5h1M11 190.5h1M19 190.5h1M0 191.5h1M13 191.5h1M18 191.5h1M4 192.5h1M10 192.5h1M12 193.5h1M14 193.5h1M5 194.5h1M10 194.5h1M15 194.5h1M19 194.5h1M11 195.5h1M6 196.5h1M10 196.5h1M12 196.5h1M15 196.5h1M6 198.5h1M14 198.5h1M1 199.5h1M9 199.5h1M11 199.5h1M13 199.5h1M15 199.5h1M5 201.5h1M7 201.5h1M12 201.5h1M2 202.5h1M4 202.5h1M8 203.5h1M13 204.5h1M2 205.5h1M4 205.5h1M6 206.5h1M11 206.5h1M13 206.5h1M10 207.5h1M5 208.5h1M13 208.5h1M5 209.5h6M13 209.5h1M10 210.5h1M2 211.5h1M6 211.5h1M1 212.5h1M3 212.5h1M12 213.5h1M5 214.5h1M1 215.5h1M4 215.5h1M10 215.5h1M2 216.5h1M7 216.5h1M10 216.5h1M4 217.5h1M7 217.5h1M13 217.5h1M0 218.5h1M3 218.5h1M10 218.5h1M3 219.5h1M2 220.5h1M3 221.5h1M2 222.5h1M10 222.5h1M1 223.5h1M6 224.5h1M11 224.5h2M6 225.5h1M11 225.5h1M9 226.5h1M5 227.5h1M10 228.5h2M14 228.5h1M11 229.5h1M9 230.5h1M12 230.5h1M8 231.5h1M11 231.5h1M3 234.5h1M2 235.5h1M13 235.5h1M4 236.5h1M10 236.5h1M11 237.5h2M2 238.5h1M13 238.5h2M16 238.5h1M14 239.5h1M2 241.5h1M18 241.5h1M11 243.5h1M16 243.5h1M18 243.5h1M49 244.5h1M2 245.5h1M18 245.5h2M21 246.5h1M49 246.5h2M19 247.5h1M16 248.5h1M18 248.5h1M48 248.5h2M16 250.5h1M23 250.5h1M11 251.5h1M48 251.5h1M14 252.5h1M48 252.5h1M47 253.5h1M2 254.5h1M21 254.5h1M37 254.5h1M13 255.5h1M20 255.5h1M24 255.5h1M14 256.5h1M17 256.5h1M8 257.5h1M12 258.5h1M21 258.5h1M30 258.5h1M36 258.5h1M44 258.5h3M11 259.5h1M14 259.5h1M17 259.5h1M21 259.5h1M23 259.5h1M28 259.5h1M32 259.5h1M45 259.5h1M24 260.5h1M26 260.5h1M28 261.5h3M37 261.5h1M41 261.5h1M48 261.5h1M22 262.5h1M26 262.5h1M30 262.5h1M33 262.5h3M39 262.5h1M14 263.5h1M17 263.5h2M29 263.5h1M34 264.5h1M37 264.5h1M30 265.5h1M37 265.5h1M23 266.5h2M27 266.5h1M35 266.5h1M22 267.5h1M27 267.5h1M38 267.5h1M12 268.5h1M22 268.5h1M24 268.5h1M26 268.5h1M42 268.5h1M37 269.5h1M40 269.5h1M28 270.5h2M18 271.5h1M25 271.5h1M23 273.5h1M29 273.5h1M24 274.5h1M36 275.5h1M29 277.5h1M17 278.5h1M28 279.5h1M41 279.5h1M26 280.5h1M32 280.5h1M9 283.5h1M17 291.5h1M19 297.5h1"/><path stroke="#327cfc" d="M34 .5h1M36 .5h1M38 .5h1M42 .5h1M36 1.5h1M41 1.5h1M36 3.5h1M32 4.5h1M36 4.5h1M39 4.5h3M44 4.5h1M35 5.5h2M40 5.5h1M35 6.5h1M37 6.5h1M34 7.5h1M37 7.5h1M36 9.5h1M41 10.5h1M43 11.5h1M39 13.5h1M42 90.5h1M38 92.5h2M37 95.5h1M41 96.5h1M40 97.5h1M38 98.5h1M41 98.5h1M44 98.5h1M36 99.5h1M44 99.5h1M47 99.5h1M36 100.5h1M45 100.5h1M36 102.5h2M45 103.5h1M48 103.5h1M35 104.5h1M35 105.5h1M40 105.5h1M42 105.5h1M48 105.5h1M4 106.5h1M38 106.5h1M41 106.5h1M12 107.5h1M35 107.5h1M48 107.5h1M50 107.5h1M34 108.5h1M1 109.5h1M5 109.5h3M14 109.5h1M33 109.5h1M49 109.5h1M6 110.5h1M16 110.5h1M11 111.5h1M15 111.5h2M32 111.5h1M0 112.5h1M5 112.5h1M9 112.5h2M16 112.5h1M33 112.5h1M40 112.5h1M47 112.5h1M50 112.5h1M14 113.5h1M48 113.5h1M1 114.5h1M34 114.5h1M1 115.5h1M3 115.5h1M11 115.5h1M19 115.5h1M23 115.5h1M39 115.5h1M1 116.5h2M5 116.5h1M12 116.5h2M16 116.5h1M26 116.5h1M29 116.5h1M49 116.5h1M27 117.5h1M29 117.5h1M34 117.5h1M5 118.5h1M13 118.5h1M16 118.5h1M19 118.5h1M30 118.5h2M49 118.5h1M7 119.5h1M11 119.5h1M3 120.5h1M31 120.5h1M33 120.5h1M21 121.5h1M29 121.5h2M31 122.5h1M27 123.5h1M48 123.5h1M18 125.5h1M26 125.5h1M29 125.5h1M31 126.5h1M12 127.5h1M29 127.5h1M33 129.5h1M21 130.5h1M8 152.5h1M14 153.5h1M13 154.5h1M26 154.5h1M29 155.5h1M33 156.5h1M28 157.5h1M31 157.5h1M37 158.5h1M30 162.5h2M28 163.5h1M31 163.5h1M2 165.5h1M43 165.5h1M30 166.5h1M23 167.5h1M32 167.5h1M40 167.5h1M19 169.5h1M28 169.5h1M32 169.5h1M34 169.5h1M19 170.5h1M27 170.5h1M35 170.5h1M44 170.5h1M18 171.5h1M22 171.5h2M25 171.5h1M29 171.5h1M32 171.5h2M42 171.5h1M47 171.5h1M18 172.5h1M21 172.5h1M29 172.5h1M34 172.5h1M38 172.5h3M42 172.5h2M25 173.5h2M28 173.5h1M37 173.5h1M40 173.5h1M18 174.5h1M28 174.5h2M34 174.5h1M39 174.5h2M17 175.5h1M24 175.5h1M34 175.5h1M38 175.5h2M41 175.5h2M45 175.5h1M12 176.5h1M20 176.5h1M37 176.5h2M40 176.5h2M46 176.5h1M21 177.5h2M39 177.5h1M46 177.5h1M12 178.5h1M21 178.5h1M49 178.5h1M3 179.5h1M7 179.5h1M15 179.5h1M21 179.5h1M23 180.5h1M4 182.5h1M18 182.5h1M12 183.5h2M17 183.5h2M20 183.5h2M14 184.5h2M17 184.5h1M20 184.5h2M2 186.5h1M7 186.5h1M14 186.5h1M22 187.5h1M18 188.5h1M18 189.5h2M18 190.5h1M49 190.5h2M6 191.5h1M14 191.5h1M17 192.5h1M50 192.5h1M13 193.5h1M16 193.5h1M8 194.5h1M13 194.5h2M17 194.5h1M6 195.5h1M16 196.5h1M10 197.5h1M12 198.5h1M3 199.5h1M7 199.5h1M6 200.5h1M11 200.5h1M13 200.5h1M9 201.5h1M11 201.5h1M14 202.5h2M3 203.5h1M9 203.5h1M12 203.5h1M15 203.5h1M2 204.5h1M10 204.5h1M14 204.5h2M9 205.5h1M8 206.5h1M10 208.5h2M14 209.5h1M7 210.5h1M9 210.5h1M12 210.5h1M15 211.5h1M8 212.5h1M14 212.5h2M11 213.5h1M4 214.5h1M9 214.5h2M12 214.5h1M11 215.5h1M1 217.5h2M6 217.5h1M8 218.5h1M13 218.5h1M7 219.5h1M6 221.5h1M6 222.5h1M7 223.5h1M12 223.5h1M9 225.5h1M12 226.5h2M3 227.5h1M7 227.5h3M14 227.5h2M12 228.5h2M5 229.5h1M0 230.5h1M10 230.5h2M2 232.5h1M7 232.5h1M16 232.5h1M9 233.5h1M13 233.5h1M12 234.5h1M4 235.5h1M14 235.5h1M16 235.5h1M9 236.5h1M17 236.5h1M50 237.5h1M4 238.5h1M11 238.5h1M15 238.5h1M9 239.5h1M50 239.5h1M14 240.5h1M17 241.5h1M15 242.5h2M18 242.5h1M14 243.5h1M19 243.5h1M13 244.5h1M17 244.5h1M50 244.5h1M17 245.5h1M48 245.5h1M11 246.5h1M18 246.5h1M22 246.5h1M18 247.5h1M19 248.5h1M21 248.5h1M14 249.5h1M19 249.5h2M22 249.5h1M21 250.5h1M46 250.5h1M17 251.5h1M20 251.5h1M22 251.5h1M47 251.5h1M47 252.5h1M21 253.5h1M45 253.5h2M26 254.5h1M39 254.5h1M48 254.5h1M21 255.5h1M31 255.5h1M35 255.5h1M32 256.5h1M40 256.5h1M46 256.5h1M4 257.5h1M29 257.5h1M34 257.5h1M36 257.5h1M41 257.5h1M25 258.5h1M31 258.5h1M40 258.5h1M22 259.5h1M27 259.5h1M36 259.5h3M42 259.5h1M21 260.5h1M23 260.5h1M35 260.5h1M38 260.5h1M41 260.5h1M44 260.5h2M18 261.5h1M27 261.5h1M45 261.5h1M19 262.5h1M21 262.5h1M24 262.5h2M24 263.5h1M26 263.5h1M39 264.5h1M19 265.5h1M24 265.5h1M27 265.5h2M40 265.5h1M43 265.5h1M22 266.5h1M25 266.5h1M31 266.5h1M36 266.5h1M25 267.5h1M35 267.5h1M3 268.5h1M26 269.5h1M29 269.5h1M46 269.5h1M20 271.5h1M29 271.5h1M27 273.5h1M13 274.5h1M29 278.5h1M34 278.5h1M22 282.5h1M40 300.5h1"/><path stroke="#2f81fa" d="M31 .5h1M33 .5h1M35 .5h1M43 .5h2M45 1.5h2M44 2.5h1M46 2.5h2M34 3.5h1M37 3.5h1M40 3.5h1M43 3.5h2M37 4.5h2M43 4.5h1M42 5.5h1M44 5.5h1M33 6.5h1M38 6.5h2M42 6.5h1M44 6.5h1M40 7.5h1M43 7.5h1M33 8.5h1M38 8.5h1M43 8.5h1M32 9.5h1M34 9.5h1M33 10.5h1M40 10.5h1M42 11.5h1M38 12.5h1M41 12.5h1M37 13.5h1M37 14.5h1M34 15.5h1M37 90.5h1M40 90.5h1M38 93.5h1M40 93.5h2M44 93.5h1M36 94.5h1M40 94.5h2M41 95.5h1M45 95.5h1M36 97.5h1M44 97.5h1M37 98.5h1M38 99.5h1M42 99.5h1M45 99.5h1M35 100.5h1M39 100.5h1M46 100.5h1M36 101.5h1M43 101.5h1M47 101.5h1M35 102.5h1M45 102.5h1M37 103.5h3M3 106.5h1M34 106.5h1M46 106.5h2M33 107.5h1M49 107.5h1M0 108.5h4M6 108.5h1M47 108.5h1M17 109.5h1M34 109.5h1M45 109.5h1M19 110.5h1M35 110.5h1M49 110.5h2M1 111.5h1M12 111.5h1M14 111.5h1M35 111.5h1M46 111.5h1M13 112.5h1M20 112.5h1M24 112.5h1M32 112.5h1M8 113.5h2M12 113.5h2M15 113.5h3M21 113.5h2M5 114.5h1M21 114.5h1M29 114.5h1M10 115.5h1M13 115.5h1M16 115.5h1M20 115.5h1M22 115.5h1M24 115.5h1M28 115.5h1M38 115.5h1M24 116.5h2M30 116.5h2M8 117.5h1M20 117.5h1M25 117.5h1M50 117.5h1M21 118.5h1M28 118.5h1M46 118.5h1M6 119.5h1M22 119.5h3M28 119.5h2M22 120.5h1M25 120.5h2M28 120.5h1M35 120.5h1M28 121.5h1M16 124.5h1M26 124.5h1M50 124.5h1M27 125.5h1M5 128.5h1M29 130.5h1M29 135.5h1M26 146.5h1M5 151.5h1M31 151.5h1M19 152.5h1M20 154.5h1M37 154.5h1M43 157.5h1M29 158.5h1M45 160.5h1M17 163.5h1M24 164.5h1M29 164.5h1M17 166.5h1M25 166.5h2M33 167.5h1M48 167.5h1M17 168.5h1M24 168.5h1M26 168.5h2M30 168.5h1M36 169.5h1M25 170.5h1M28 170.5h3M40 170.5h1M45 170.5h1M21 171.5h1M24 171.5h1M27 171.5h2M34 171.5h1M37 171.5h1M25 172.5h2M29 173.5h1M36 173.5h1M25 174.5h1M31 174.5h1M35 174.5h2M38 174.5h1M41 174.5h1M45 174.5h4M22 175.5h1M30 175.5h1M35 175.5h1M43 175.5h1M46 175.5h1M25 176.5h1M36 176.5h1M44 176.5h1M14 177.5h1M16 177.5h1M23 177.5h1M32 177.5h1M34 177.5h1M45 177.5h1M26 178.5h1M34 178.5h1M39 178.5h1M44 178.5h1M0 179.5h1M33 179.5h1M19 180.5h1M22 180.5h1M46 180.5h1M47 181.5h3M19 182.5h2M14 183.5h1M19 183.5h1M22 183.5h2M48 183.5h1M7 184.5h1M48 184.5h1M19 185.5h1M48 185.5h1M19 186.5h1M22 186.5h1M8 187.5h1M20 187.5h1M10 188.5h1M16 188.5h1M49 189.5h1M14 190.5h1M17 190.5h1M12 191.5h1M16 191.5h1M50 191.5h1M14 192.5h1M19 192.5h1M0 193.5h1M17 193.5h1M12 194.5h1M16 194.5h1M12 195.5h1M15 195.5h1M17 195.5h2M18 196.5h1M11 197.5h1M15 197.5h2M7 198.5h1M9 198.5h1M13 198.5h1M10 199.5h1M7 200.5h1M8 202.5h1M12 204.5h1M3 205.5h1M10 205.5h1M14 205.5h1M4 206.5h1M7 207.5h1M13 207.5h1M8 208.5h1M15 208.5h1M2 209.5h1M12 209.5h1M8 210.5h1M7 211.5h1M12 211.5h1M7 212.5h1M11 212.5h1M4 213.5h1M9 213.5h1M13 213.5h1M8 214.5h1M13 214.5h1M7 215.5h3M14 215.5h1M11 216.5h1M5 217.5h1M9 217.5h2M12 217.5h1M6 218.5h2M11 218.5h1M14 218.5h1M1 219.5h1M8 219.5h2M12 219.5h2M15 219.5h1M11 220.5h4M15 221.5h1M11 222.5h1M15 222.5h1M11 223.5h1M13 223.5h1M2 225.5h1M12 225.5h2M15 226.5h1M3 228.5h1M7 228.5h1M13 229.5h1M7 230.5h1M14 230.5h1M16 230.5h1M6 231.5h1M13 231.5h1M15 231.5h1M14 232.5h1M16 233.5h1M9 234.5h1M13 234.5h5M15 236.5h1M18 236.5h1M13 237.5h1M18 237.5h1M49 237.5h1M8 238.5h1M19 238.5h2M18 239.5h1M8 240.5h1M12 240.5h1M15 240.5h1M19 240.5h1M50 240.5h1M16 241.5h1M20 241.5h1M50 241.5h1M2 242.5h1M49 242.5h2M6 243.5h1M20 245.5h1M48 246.5h1M15 247.5h1M48 247.5h1M23 249.5h1M48 249.5h1M4 250.5h1M40 251.5h1M46 251.5h1M26 252.5h1M36 252.5h2M45 252.5h1M23 253.5h1M25 253.5h1M37 253.5h1M22 254.5h2M31 254.5h1M38 254.5h1M42 254.5h1M44 254.5h1M28 255.5h1M30 255.5h1M33 255.5h1M37 255.5h1M39 255.5h1M41 255.5h2M24 256.5h2M27 256.5h1M34 256.5h2M39 256.5h1M25 257.5h1M28 257.5h1M33 257.5h1M23 258.5h1M26 258.5h1M34 258.5h1M41 258.5h1M43 258.5h1M26 259.5h1M43 259.5h1M19 260.5h1M22 260.5h1M27 260.5h2M33 260.5h1M39 260.5h2M36 261.5h1M43 262.5h1M25 263.5h1M39 263.5h1M42 263.5h1M45 263.5h1M22 264.5h1M23 265.5h1M47 265.5h1M15 267.5h1M20 267.5h1M45 267.5h1M49 267.5h1M32 268.5h1M44 269.5h1M26 270.5h1M27 271.5h1"/><path stroke="#2e87f7" d="M32 .5h1M39 1.5h1M44 1.5h1M31 2.5h1M35 2.5h2M43 2.5h1M45 2.5h1M31 3.5h3M39 3.5h1M48 3.5h1M43 5.5h1M32 6.5h1M36 6.5h1M31 7.5h1M36 7.5h1M38 7.5h1M39 8.5h1M33 9.5h1M37 9.5h1M39 10.5h1M43 10.5h1M31 11.5h1M35 11.5h3M39 11.5h1M44 11.5h1M34 12.5h1M39 12.5h1M43 13.5h1M40 14.5h1M43 14.5h1M38 19.5h1M43 88.5h1M41 89.5h1M39 90.5h1M41 90.5h1M39 91.5h2M42 91.5h1M41 92.5h1M43 92.5h1M39 93.5h1M42 93.5h1M44 94.5h1M38 95.5h1M42 95.5h1M36 96.5h2M45 96.5h1M47 97.5h1M42 98.5h2M35 99.5h1M41 99.5h1M47 100.5h1M34 101.5h1M37 101.5h2M46 101.5h1M34 102.5h1M46 102.5h1M7 104.5h1M0 105.5h1M5 105.5h1M34 105.5h1M47 105.5h1M50 105.5h1M6 106.5h1M48 106.5h1M50 106.5h1M1 107.5h1M6 107.5h1M9 107.5h1M15 107.5h1M47 107.5h1M14 108.5h1M37 108.5h1M3 109.5h1M8 109.5h1M11 109.5h3M31 109.5h1M46 109.5h1M50 109.5h1M11 110.5h1M15 110.5h1M17 110.5h1M33 110.5h2M3 111.5h1M6 111.5h2M10 111.5h1M13 111.5h1M18 111.5h1M20 111.5h1M31 111.5h1M49 111.5h1M14 112.5h2M17 112.5h1M30 112.5h1M19 113.5h1M23 113.5h1M30 113.5h2M33 113.5h1M19 114.5h2M22 114.5h1M25 114.5h1M32 114.5h1M0 115.5h1M21 115.5h1M27 115.5h1M29 115.5h1M31 115.5h1M20 116.5h3M27 116.5h1M30 117.5h1M2 118.5h1M15 118.5h1M18 118.5h1M22 118.5h1M25 118.5h1M27 119.5h1M34 119.5h1M14 120.5h1M29 120.5h1M1 124.5h1M23 125.5h1M50 132.5h1M25 139.5h1M15 159.5h1M28 162.5h1M28 164.5h1M38 166.5h1M43 166.5h1M21 167.5h1M37 168.5h1M26 169.5h1M31 169.5h1M26 170.5h1M26 171.5h1M30 171.5h1M35 171.5h1M39 171.5h1M44 171.5h1M28 172.5h1M32 172.5h1M21 173.5h1M27 173.5h1M32 173.5h2M39 173.5h1M32 174.5h1M25 175.5h1M31 175.5h1M40 175.5h1M44 175.5h1M24 176.5h1M32 176.5h4M42 176.5h1M25 177.5h1M31 177.5h1M35 177.5h1M42 177.5h1M44 177.5h1M47 177.5h1M14 178.5h1M36 178.5h1M46 178.5h1M37 179.5h1M42 179.5h2M21 180.5h1M50 181.5h1M21 182.5h2M47 182.5h2M19 187.5h1M48 187.5h1M50 187.5h1M17 188.5h1M12 189.5h1M20 189.5h1M13 190.5h1M7 191.5h1M9 191.5h1M17 191.5h1M13 192.5h1M18 192.5h1M18 193.5h1M50 193.5h1M50 194.5h1M8 195.5h1M13 195.5h1M16 195.5h1M50 195.5h1M17 196.5h1M8 197.5h1M18 197.5h1M50 197.5h1M12 199.5h1M50 199.5h1M14 200.5h2M17 200.5h1M10 201.5h1M14 201.5h1M16 201.5h1M16 202.5h1M5 203.5h1M10 203.5h1M17 204.5h1M6 205.5h1M14 206.5h1M11 207.5h1M12 208.5h1M14 208.5h1M17 208.5h1M15 209.5h1M2 210.5h1M15 210.5h1M14 211.5h1M4 212.5h1M9 212.5h2M12 212.5h1M16 212.5h1M11 214.5h1M2 215.5h1M6 215.5h1M12 215.5h2M13 216.5h1M8 217.5h1M14 217.5h2M12 218.5h1M4 219.5h1M5 220.5h1M8 220.5h1M14 221.5h1M8 222.5h1M13 222.5h2M16 222.5h1M4 223.5h1M13 224.5h1M16 224.5h1M14 225.5h1M16 225.5h2M10 226.5h1M14 226.5h1M1 227.5h1M15 228.5h3M12 229.5h1M16 229.5h2M13 230.5h1M17 231.5h1M11 232.5h1M15 232.5h1M17 232.5h1M14 233.5h1M50 233.5h1M9 235.5h1M17 235.5h1M50 235.5h1M5 236.5h1M16 236.5h1M12 238.5h1M17 238.5h2M21 238.5h1M50 238.5h1M13 239.5h1M16 239.5h1M18 240.5h1M20 240.5h1M49 240.5h1M19 241.5h1M49 241.5h1M17 242.5h1M20 242.5h1M20 243.5h1M22 243.5h1M48 243.5h1M10 244.5h1M14 244.5h1M18 244.5h2M23 244.5h1M48 244.5h1M15 245.5h1M49 245.5h1M12 247.5h1M20 247.5h1M22 247.5h1M17 248.5h1M23 248.5h1M15 249.5h1M18 249.5h1M47 249.5h1M22 250.5h1M36 250.5h1M47 250.5h1M23 251.5h1M27 251.5h1M32 251.5h1M45 251.5h1M40 252.5h1M44 252.5h1M46 252.5h1M18 253.5h1M27 253.5h1M33 253.5h1M35 253.5h1M40 253.5h1M43 253.5h2M25 254.5h1M27 254.5h1M33 254.5h1M41 254.5h1M43 254.5h1M46 254.5h1M23 255.5h1M26 255.5h1M32 255.5h1M43 255.5h1M45 255.5h1M31 256.5h1M37 256.5h1M24 257.5h1M26 257.5h2M45 257.5h1M35 258.5h1M30 259.5h1M33 259.5h1M47 260.5h1M26 261.5h1M31 261.5h1M38 261.5h1M20 262.5h1M29 262.5h1M41 262.5h1M30 266.5h1M37 267.5h1M30 279.5h1"/><path stroke="#2d8cf3" d="M29 .5h1M37 .5h1M39 .5h1M47 .5h2M32 1.5h3M25 2.5h2M29 2.5h2M37 2.5h1M39 2.5h2M50 2.5h1M24 3.5h1M30 3.5h1M38 3.5h1M42 3.5h1M45 3.5h1M50 3.5h1M31 4.5h1M45 4.5h2M26 5.5h1M29 5.5h1M31 5.5h2M39 5.5h1M41 5.5h1M45 5.5h1M32 7.5h1M41 7.5h1M44 7.5h1M34 8.5h1M36 8.5h2M40 8.5h2M45 8.5h1M38 9.5h2M42 9.5h1M44 9.5h1M46 9.5h1M36 10.5h1M42 10.5h1M32 11.5h3M40 11.5h1M36 12.5h1M42 12.5h3M31 13.5h1M38 13.5h1M40 13.5h1M42 13.5h1M36 14.5h1M35 15.5h1M39 15.5h1M37 16.5h2M42 16.5h1M33 17.5h2M36 17.5h1M38 17.5h1M42 19.5h2M38 21.5h1M39 22.5h1M37 88.5h1M40 88.5h1M37 89.5h1M39 89.5h1M38 90.5h1M41 91.5h1M37 92.5h1M42 92.5h1M39 94.5h1M43 94.5h1M45 94.5h1M35 95.5h2M39 95.5h1M40 96.5h1M42 96.5h1M46 96.5h1M42 97.5h1M36 98.5h1M45 98.5h3M46 99.5h1M48 99.5h1M34 100.5h1M48 101.5h1M1 102.5h1M48 102.5h1M34 103.5h1M50 103.5h1M2 104.5h1M34 104.5h1M8 105.5h1M1 106.5h2M5 106.5h1M8 106.5h1M12 106.5h1M17 106.5h1M49 106.5h1M3 107.5h1M5 107.5h1M8 107.5h1M10 107.5h2M14 107.5h1M17 107.5h1M19 107.5h1M8 108.5h1M10 108.5h1M32 108.5h2M2 109.5h1M9 109.5h1M19 109.5h2M32 109.5h1M0 110.5h1M7 110.5h4M12 110.5h1M14 110.5h1M22 110.5h1M31 110.5h2M2 111.5h1M8 111.5h1M19 111.5h1M22 111.5h1M6 112.5h1M21 112.5h1M28 112.5h1M31 112.5h1M18 113.5h1M24 113.5h1M29 113.5h1M32 113.5h1M3 114.5h1M10 114.5h1M24 114.5h1M28 114.5h1M30 114.5h1M25 115.5h1M30 115.5h1M10 116.5h1M17 116.5h1M23 116.5h1M28 116.5h1M32 116.5h1M12 117.5h1M28 117.5h1M31 117.5h1M49 117.5h1M29 118.5h1M30 119.5h1M19 120.5h1M24 120.5h1M26 122.5h1M29 132.5h1M32 159.5h1M17 160.5h1M25 163.5h1M36 168.5h1M40 169.5h1M32 170.5h1M30 172.5h1M36 172.5h1M22 173.5h1M45 173.5h1M14 174.5h1M26 174.5h2M37 174.5h1M23 175.5h1M29 175.5h1M32 175.5h1M21 176.5h1M26 176.5h1M30 176.5h1M39 176.5h1M47 176.5h1M19 177.5h1M24 177.5h1M27 177.5h2M33 177.5h1M36 177.5h1M38 177.5h1M41 177.5h1M43 177.5h1M24 178.5h1M29 178.5h1M35 178.5h1M38 178.5h1M41 178.5h2M45 178.5h1M47 178.5h2M20 179.5h1M23 179.5h1M25 179.5h1M30 179.5h1M34 179.5h1M41 179.5h1M45 179.5h1M47 179.5h1M18 180.5h1M38 180.5h1M45 180.5h1M17 181.5h1M25 182.5h1M28 182.5h1M46 182.5h1M46 183.5h2M22 184.5h1M47 184.5h1M22 185.5h1M18 186.5h1M20 186.5h2M23 186.5h1M48 186.5h1M21 187.5h1M23 187.5h1M49 187.5h1M22 188.5h1M17 189.5h1M21 189.5h1M15 190.5h1M19 191.5h1M21 191.5h1M15 192.5h1M20 192.5h1M19 193.5h1M49 193.5h1M18 194.5h1M9 195.5h1M19 195.5h1M50 196.5h1M14 197.5h1M20 197.5h1M15 198.5h1M17 198.5h3M14 199.5h1M16 200.5h1M15 201.5h1M18 201.5h1M17 202.5h1M16 203.5h1M13 205.5h1M16 205.5h2M15 206.5h1M17 206.5h1M15 207.5h1M11 209.5h1M16 209.5h1M13 210.5h1M10 211.5h2M17 212.5h1M17 213.5h1M16 215.5h1M12 216.5h1M15 216.5h1M11 217.5h1M11 219.5h1M10 220.5h1M15 220.5h1M11 221.5h1M17 221.5h1M17 222.5h1M15 223.5h2M5 224.5h1M15 224.5h1M10 225.5h1M13 227.5h1M14 229.5h1M18 229.5h1M16 231.5h1M10 233.5h1M15 233.5h1M17 233.5h1M2 234.5h1M20 234.5h1M50 234.5h1M18 235.5h1M20 235.5h1M49 236.5h2M19 239.5h1M49 239.5h1M16 240.5h1M21 240.5h1M21 242.5h1M48 242.5h1M21 243.5h1M20 244.5h1M21 245.5h2M20 246.5h1M47 247.5h1M22 248.5h1M24 248.5h2M47 248.5h1M24 249.5h1M33 249.5h1M35 249.5h1M46 249.5h1M20 250.5h1M25 250.5h1M18 251.5h1M24 251.5h1M28 251.5h2M33 251.5h1M36 251.5h1M41 251.5h1M17 252.5h1M22 252.5h1M29 252.5h1M33 252.5h2M39 252.5h1M43 252.5h1M24 253.5h1M34 253.5h1M36 253.5h1M38 253.5h1M42 253.5h1M24 254.5h1M29 254.5h1M32 254.5h1M34 254.5h2M25 255.5h1M29 255.5h1M38 255.5h1M40 255.5h1M46 255.5h1M28 256.5h1M33 256.5h1M36 256.5h1M42 256.5h1M30 257.5h1M38 257.5h1M27 258.5h1M29 258.5h1M37 258.5h1M25 259.5h1M31 259.5h1M30 260.5h1M28 262.5h1M34 263.5h1M23 267.5h1M22 272.5h1M27 277.5h1"/><path stroke="#2b91ef" d="M18 .5h1M22 .5h1M26 .5h3M30 .5h1M45 .5h2M49 .5h1M17 1.5h1M19 1.5h1M23 1.5h2M26 1.5h3M30 1.5h2M47 1.5h2M22 2.5h1M28 2.5h1M32 2.5h2M38 2.5h1M26 3.5h1M28 3.5h2M46 3.5h2M49 3.5h1M27 4.5h2M30 4.5h1M33 4.5h1M34 5.5h1M30 6.5h2M34 6.5h1M41 6.5h1M43 6.5h1M45 6.5h1M48 6.5h1M30 7.5h1M35 7.5h1M42 7.5h1M45 7.5h2M28 8.5h1M30 8.5h3M42 8.5h1M46 8.5h2M30 9.5h1M40 9.5h2M43 9.5h1M45 9.5h1M32 10.5h1M35 10.5h1M44 10.5h3M29 11.5h1M45 11.5h2M33 12.5h1M35 12.5h1M40 12.5h1M45 12.5h2M32 13.5h1M41 13.5h1M33 14.5h1M41 14.5h2M44 14.5h1M38 15.5h1M40 15.5h1M44 15.5h1M35 16.5h2M35 17.5h1M37 17.5h1M39 17.5h2M44 17.5h1M39 18.5h1M36 20.5h1M40 20.5h1M41 21.5h1M43 21.5h1M35 22.5h1M37 23.5h2M38 24.5h2M39 26.5h1M41 26.5h1M38 86.5h2M41 88.5h1M43 89.5h2M43 91.5h1M45 91.5h1M36 92.5h1M44 92.5h3M37 93.5h1M45 93.5h1M35 94.5h1M37 94.5h2M46 94.5h1M46 95.5h2M35 97.5h1M46 97.5h1M35 98.5h1M48 98.5h1M37 99.5h1M0 101.5h1M3 101.5h1M49 101.5h2M9 102.5h1M49 102.5h1M2 103.5h1M8 103.5h1M10 103.5h1M13 103.5h1M33 103.5h1M49 103.5h1M0 104.5h2M5 104.5h1M33 104.5h1M45 104.5h1M49 104.5h2M1 105.5h1M4 105.5h1M6 105.5h2M9 105.5h1M12 105.5h1M33 105.5h1M49 105.5h1M7 106.5h1M14 106.5h1M0 107.5h1M4 107.5h1M13 107.5h1M32 107.5h1M5 108.5h1M9 108.5h1M11 108.5h3M15 108.5h1M17 108.5h1M19 108.5h1M4 109.5h1M10 109.5h1M15 109.5h1M18 109.5h1M21 109.5h2M4 110.5h1M18 110.5h1M23 110.5h1M30 110.5h1M17 111.5h1M23 111.5h1M7 112.5h1M23 112.5h1M27 112.5h1M29 112.5h1M23 114.5h1M26 114.5h1M26 115.5h1M18 116.5h1M23 118.5h1M27 118.5h1M28 122.5h1M24 163.5h1M24 169.5h1M35 169.5h1M20 173.5h1M30 173.5h2M30 174.5h1M26 175.5h3M22 176.5h1M27 176.5h3M45 176.5h1M26 177.5h1M29 177.5h2M37 177.5h1M22 178.5h2M25 178.5h1M31 178.5h2M37 178.5h1M40 178.5h1M43 178.5h1M27 179.5h3M36 179.5h1M32 180.5h1M34 180.5h1M39 180.5h1M41 180.5h2M44 180.5h1M23 181.5h5M42 181.5h3M23 182.5h1M26 182.5h2M36 182.5h1M24 183.5h2M23 184.5h2M46 184.5h1M21 185.5h1M20 188.5h1M23 188.5h1M48 188.5h1M50 188.5h1M22 189.5h2M1 190.5h1M22 190.5h1M20 191.5h1M49 191.5h1M21 192.5h1M21 193.5h1M20 194.5h1M20 195.5h1M16 198.5h1M50 198.5h1M16 199.5h3M20 199.5h1M12 200.5h1M17 201.5h1M19 201.5h1M18 202.5h1M18 203.5h2M16 204.5h1M16 206.5h1M17 207.5h1M16 208.5h1M14 210.5h1M16 210.5h1M13 211.5h1M18 211.5h1M5 213.5h1M8 213.5h1M14 213.5h2M14 214.5h2M17 214.5h1M16 216.5h1M17 217.5h1M15 218.5h1M16 220.5h1M12 221.5h1M16 221.5h1M14 223.5h1M17 223.5h1M19 223.5h1M14 224.5h1M16 226.5h1M11 227.5h1M16 227.5h2M18 228.5h2M50 229.5h1M17 230.5h2M14 231.5h1M19 231.5h1M18 232.5h1M50 232.5h1M18 233.5h2M18 234.5h1M12 235.5h1M49 235.5h1M21 236.5h1M16 237.5h1M19 237.5h1M21 237.5h1M20 239.5h3M23 240.5h1M0 241.5h1M21 241.5h1M19 242.5h1M22 242.5h1M24 243.5h1M21 244.5h1M24 244.5h1M23 245.5h2M23 246.5h1M47 246.5h1M23 247.5h1M25 247.5h1M26 248.5h1M21 249.5h1M36 249.5h1M41 249.5h1M43 249.5h1M32 250.5h2M26 251.5h1M34 251.5h2M44 251.5h1M24 252.5h1M28 252.5h1M35 252.5h1M38 252.5h1M22 253.5h1M26 253.5h1M28 253.5h1M30 253.5h1M28 254.5h1M30 254.5h1M27 255.5h1M44 255.5h1M22 256.5h2M26 256.5h1M29 256.5h2M31 257.5h1M40 257.5h1M43 257.5h1M29 259.5h1M41 259.5h1M29 264.5h1M36 268.5h1"/><path stroke="#2797eb" d="M10 .5h1M14 .5h2M20 .5h2M23 .5h1M25 .5h1M22 1.5h1M49 1.5h2M12 2.5h1M16 2.5h1M21 2.5h1M23 2.5h2M27 2.5h1M34 2.5h1M48 2.5h2M26 4.5h1M29 4.5h1M47 4.5h2M24 5.5h1M27 5.5h1M30 5.5h1M47 5.5h3M26 6.5h1M28 6.5h2M47 6.5h1M28 7.5h2M33 7.5h1M39 7.5h1M48 7.5h1M25 8.5h1M35 8.5h1M44 8.5h1M27 9.5h2M31 9.5h1M35 9.5h1M27 10.5h1M30 10.5h1M34 10.5h1M37 10.5h2M27 11.5h1M30 11.5h1M38 11.5h1M31 12.5h2M37 12.5h1M33 13.5h4M44 13.5h1M30 14.5h2M34 14.5h2M38 14.5h2M32 15.5h1M41 15.5h3M31 16.5h3M39 16.5h3M43 16.5h2M32 17.5h1M41 17.5h3M45 17.5h1M36 18.5h3M41 18.5h4M34 19.5h2M39 19.5h2M44 19.5h1M34 20.5h2M37 20.5h1M39 20.5h1M41 20.5h2M44 20.5h1M34 21.5h3M39 21.5h2M42 21.5h1M33 22.5h1M38 22.5h1M40 22.5h2M43 22.5h1M34 23.5h1M36 23.5h1M36 24.5h2M41 24.5h1M39 25.5h1M42 25.5h1M42 26.5h1M44 26.5h1M35 27.5h2M39 27.5h1M42 27.5h1M37 29.5h3M42 29.5h1M41 84.5h1M41 85.5h1M44 85.5h1M37 86.5h1M38 87.5h1M40 87.5h5M36 88.5h1M38 88.5h2M44 88.5h1M36 89.5h1M38 89.5h1M42 89.5h1M45 89.5h1M36 90.5h1M43 90.5h1M46 90.5h1M35 91.5h4M46 91.5h1M35 92.5h1M35 93.5h2M46 93.5h2M47 94.5h2M44 95.5h1M48 95.5h1M34 96.5h2M47 96.5h2M34 97.5h1M49 98.5h1M34 99.5h1M50 99.5h1M0 100.5h1M33 100.5h1M48 100.5h2M2 101.5h1M7 101.5h1M9 101.5h1M0 102.5h1M2 102.5h2M5 102.5h1M7 102.5h2M10 102.5h1M1 103.5h1M4 103.5h1M12 103.5h1M3 104.5h2M6 104.5h1M8 104.5h1M10 104.5h2M13 104.5h1M32 104.5h1M48 104.5h1M2 105.5h1M10 105.5h2M13 105.5h3M20 105.5h1M31 105.5h1M0 106.5h1M9 106.5h2M15 106.5h2M20 106.5h1M30 106.5h1M32 106.5h2M7 107.5h1M16 107.5h1M22 107.5h1M31 107.5h1M4 108.5h1M7 108.5h1M18 108.5h1M20 108.5h1M22 108.5h1M30 108.5h2M16 109.5h1M24 109.5h3M30 109.5h1M13 110.5h1M21 110.5h1M24 110.5h6M21 111.5h1M24 111.5h7M22 112.5h1M25 113.5h2M27 114.5h1M18 115.5h1M23 117.5h1M26 119.5h1M31 176.5h1M43 176.5h1M40 177.5h1M27 178.5h1M30 178.5h1M33 178.5h1M24 179.5h1M31 179.5h2M38 179.5h2M44 179.5h1M46 179.5h1M24 180.5h1M29 180.5h1M33 180.5h1M36 180.5h2M40 180.5h1M43 180.5h1M21 181.5h1M36 181.5h2M40 181.5h1M45 181.5h1M24 182.5h1M42 182.5h2M45 182.5h1M26 183.5h1M32 183.5h2M36 183.5h1M38 183.5h1M23 185.5h2M24 186.5h1M47 186.5h1M47 187.5h1M25 188.5h1M47 188.5h1M49 188.5h1M20 190.5h2M48 190.5h1M22 191.5h1M48 191.5h1M48 192.5h2M20 193.5h1M22 193.5h1M21 195.5h1M19 196.5h1M21 196.5h1M49 196.5h1M17 197.5h1M19 197.5h1M19 199.5h1M18 200.5h1M20 200.5h1M50 200.5h1M50 201.5h1M19 202.5h1M50 203.5h1M18 204.5h1M15 205.5h1M12 207.5h1M14 207.5h1M16 207.5h1M18 208.5h1M18 209.5h1M17 211.5h1M16 213.5h1M15 215.5h1M17 215.5h1M9 216.5h1M14 216.5h1M16 217.5h1M18 217.5h1M16 218.5h1M14 219.5h1M17 220.5h1M13 221.5h1M18 221.5h1M17 224.5h2M18 225.5h1M17 226.5h1M20 227.5h1M19 229.5h1M50 231.5h1M19 232.5h1M21 232.5h1M21 233.5h1M49 233.5h1M49 234.5h1M19 236.5h2M20 237.5h1M23 239.5h1M22 240.5h1M48 240.5h1M13 241.5h1M22 241.5h1M48 241.5h1M23 242.5h2M47 242.5h1M23 243.5h1M22 244.5h1M25 245.5h1M47 245.5h1M25 246.5h1M46 246.5h1M24 247.5h1M27 247.5h1M27 248.5h4M33 248.5h1M36 248.5h1M41 248.5h1M45 248.5h1M17 249.5h1M25 249.5h4M30 249.5h1M32 249.5h1M34 249.5h1M38 249.5h3M44 249.5h1M24 250.5h1M29 250.5h3M37 250.5h2M25 251.5h1M30 251.5h2M37 251.5h1M42 251.5h1M25 252.5h1M27 252.5h1M31 252.5h2M41 252.5h2M31 253.5h2M41 253.5h1M36 254.5h1M40 254.5h1M38 256.5h1"/><path stroke="#259be8" d="M11 .5h2M19 .5h1M24 .5h1M50 .5h1M11 1.5h2M14 1.5h1M16 1.5h1M25 1.5h1M29 1.5h1M13 2.5h1M17 2.5h1M20 2.5h1M16 3.5h1M18 3.5h1M20 3.5h4M27 3.5h1M17 4.5h2M20 4.5h6M49 4.5h2M17 5.5h1M20 5.5h1M22 5.5h1M25 5.5h1M28 5.5h1M18 6.5h1M22 6.5h2M25 6.5h1M49 6.5h2M22 7.5h1M47 7.5h1M49 7.5h2M23 8.5h1M26 8.5h1M29 8.5h1M48 8.5h1M50 8.5h1M26 9.5h1M29 9.5h1M47 9.5h1M26 10.5h1M31 10.5h1M47 10.5h2M26 11.5h1M28 11.5h1M41 11.5h1M47 11.5h1M27 12.5h4M29 13.5h2M45 13.5h3M28 14.5h2M32 14.5h1M46 14.5h1M30 15.5h1M36 15.5h2M45 15.5h1M46 17.5h1M31 18.5h5M40 18.5h1M45 18.5h1M33 19.5h1M36 19.5h2M41 19.5h1M32 20.5h2M43 20.5h1M33 21.5h1M37 21.5h1M44 21.5h1M34 22.5h1M36 22.5h2M42 22.5h1M44 22.5h1M35 23.5h1M39 23.5h5M45 23.5h1M32 24.5h1M35 24.5h1M40 24.5h1M42 24.5h1M44 24.5h1M34 25.5h3M38 25.5h1M40 25.5h1M43 25.5h1M35 26.5h2M38 26.5h1M37 27.5h1M40 27.5h2M43 27.5h1M35 28.5h1M38 28.5h3M43 28.5h1M40 29.5h2M34 30.5h1M36 30.5h2M39 30.5h1M41 30.5h1M36 31.5h1M38 31.5h2M37 33.5h1M41 82.5h1M40 83.5h1M42 83.5h1M44 83.5h1M38 84.5h1M40 84.5h1M42 84.5h1M38 85.5h1M40 85.5h1M43 85.5h1M36 86.5h1M40 86.5h1M42 86.5h2M45 86.5h1M36 87.5h2M39 87.5h1M45 87.5h1M42 88.5h1M45 88.5h1M44 90.5h2M47 92.5h1M48 93.5h1M48 97.5h1M34 98.5h1M2 99.5h1M49 99.5h1M1 100.5h2M4 100.5h2M8 100.5h1M50 100.5h1M1 101.5h1M4 101.5h1M6 101.5h1M8 101.5h1M10 101.5h1M13 101.5h1M33 101.5h1M4 102.5h1M6 102.5h1M11 102.5h3M50 102.5h1M0 103.5h1M5 103.5h2M9 103.5h1M11 103.5h1M14 103.5h1M9 104.5h1M14 104.5h1M19 104.5h2M47 104.5h1M18 105.5h1M22 105.5h1M32 105.5h1M11 106.5h1M13 106.5h1M18 106.5h2M22 106.5h1M31 106.5h1M18 107.5h1M20 107.5h1M23 107.5h2M16 108.5h1M21 108.5h1M25 108.5h1M27 108.5h3M28 109.5h2M20 110.5h1M25 112.5h2M27 113.5h2M28 178.5h1M35 179.5h1M40 179.5h1M25 180.5h2M28 180.5h1M30 180.5h2M35 180.5h1M29 181.5h7M39 181.5h1M41 181.5h1M30 182.5h2M35 182.5h1M38 182.5h1M41 182.5h1M27 183.5h1M29 183.5h3M37 183.5h1M40 183.5h2M25 184.5h1M27 184.5h1M33 184.5h1M38 184.5h1M44 184.5h2M47 185.5h1M24 187.5h1M24 188.5h1M47 189.5h2M23 190.5h2M22 192.5h2M48 193.5h1M21 194.5h2M49 194.5h1M49 195.5h1M20 196.5h1M13 197.5h1M49 197.5h1M21 199.5h1M20 201.5h1M50 202.5h1M17 203.5h1M19 204.5h2M18 205.5h2M19 206.5h1M50 206.5h1M18 207.5h1M19 208.5h1M17 209.5h1M19 209.5h1M17 210.5h3M18 212.5h1M18 213.5h1M16 214.5h1M18 214.5h1M17 216.5h2M17 218.5h3M17 219.5h3M18 220.5h2M18 222.5h2M19 224.5h1M15 225.5h1M18 226.5h3M18 227.5h1M50 227.5h1M21 228.5h1M15 230.5h1M19 230.5h1M50 230.5h1M20 231.5h1M20 232.5h1M20 233.5h1M19 234.5h1M21 234.5h1M19 235.5h1M22 235.5h1M22 236.5h1M22 237.5h1M48 237.5h1M24 238.5h1M48 238.5h2M17 239.5h1M17 240.5h1M23 241.5h2M47 241.5h1M25 243.5h1M47 243.5h1M26 244.5h1M47 244.5h1M46 245.5h1M24 246.5h1M27 246.5h2M32 246.5h1M35 246.5h1M40 246.5h1M21 247.5h1M26 247.5h1M28 247.5h1M32 247.5h1M38 247.5h1M45 247.5h2M32 248.5h1M34 248.5h2M37 248.5h2M42 248.5h2M46 248.5h1M29 249.5h1M31 249.5h1M45 249.5h1M26 250.5h3M34 250.5h1M40 250.5h1M43 250.5h3M50 250.5h1M38 251.5h2M43 251.5h1M29 253.5h1M39 253.5h1M28 258.5h1"/><path stroke="#23a0e5" d="M7 .5h3M13 .5h1M16 .5h1M9 1.5h1M13 1.5h1M15 1.5h1M18 1.5h1M20 1.5h2M11 2.5h1M14 2.5h1M18 2.5h2M11 3.5h1M13 3.5h3M17 3.5h1M19 3.5h1M25 3.5h1M12 4.5h1M14 4.5h3M19 4.5h1M18 5.5h1M21 5.5h1M23 5.5h1M46 5.5h1M50 5.5h1M19 6.5h1M21 6.5h1M24 6.5h1M27 6.5h1M46 6.5h1M19 7.5h1M21 7.5h1M23 7.5h5M22 8.5h1M24 8.5h1M49 8.5h1M23 9.5h3M48 9.5h3M28 10.5h2M24 11.5h2M48 11.5h2M26 12.5h1M47 12.5h2M26 13.5h3M27 14.5h1M45 14.5h1M47 14.5h1M29 15.5h1M33 15.5h1M30 16.5h1M34 16.5h1M45 16.5h1M29 17.5h3M30 18.5h1M46 18.5h1M30 19.5h3M45 19.5h2M30 20.5h2M38 20.5h1M45 20.5h1M32 21.5h1M45 21.5h2M45 22.5h2M31 23.5h3M44 23.5h1M45 24.5h1M32 25.5h2M37 25.5h1M41 25.5h1M44 25.5h1M32 26.5h3M37 26.5h1M40 26.5h1M43 26.5h1M33 27.5h1M38 27.5h1M44 27.5h1M32 28.5h1M34 28.5h1M36 28.5h1M41 28.5h1M34 29.5h3M43 29.5h2M33 30.5h1M35 30.5h1M38 30.5h1M40 30.5h1M43 30.5h2M35 31.5h1M37 31.5h1M40 31.5h4M33 32.5h1M35 32.5h1M37 32.5h5M43 32.5h2M36 33.5h1M39 33.5h1M41 33.5h1M43 33.5h1M38 34.5h3M38 81.5h1M41 81.5h1M40 82.5h1M42 82.5h2M36 83.5h2M39 83.5h1M41 83.5h1M36 84.5h2M39 84.5h1M43 84.5h2M37 85.5h1M39 85.5h1M42 85.5h1M45 85.5h1M41 86.5h1M44 86.5h1M35 88.5h1M46 88.5h1M46 89.5h1M35 90.5h1M47 90.5h1M47 91.5h1M49 94.5h1M49 96.5h2M0 97.5h1M49 97.5h2M0 98.5h1M2 98.5h1M4 98.5h2M33 98.5h1M50 98.5h1M0 99.5h2M6 99.5h3M6 100.5h2M9 100.5h5M5 101.5h1M11 101.5h2M14 101.5h1M15 102.5h1M32 102.5h2M3 103.5h1M7 103.5h1M15 103.5h2M19 103.5h1M31 103.5h2M12 104.5h1M15 104.5h3M21 104.5h1M3 105.5h1M16 105.5h2M30 105.5h1M23 106.5h3M27 106.5h1M29 106.5h1M21 107.5h1M25 107.5h2M29 107.5h2M23 108.5h2M26 108.5h1M23 109.5h1M27 109.5h1M26 179.5h1M27 180.5h1M28 181.5h1M38 181.5h1M32 182.5h3M37 182.5h1M39 182.5h2M28 183.5h1M34 183.5h2M39 183.5h1M42 183.5h1M44 183.5h2M26 184.5h1M29 184.5h3M36 184.5h1M42 184.5h2M25 185.5h2M28 185.5h3M35 185.5h1M43 185.5h4M25 186.5h4M46 186.5h1M25 187.5h2M29 187.5h1M26 188.5h1M24 189.5h2M25 190.5h1M47 190.5h1M24 191.5h1M24 192.5h1M23 193.5h2M23 194.5h1M22 195.5h2M22 196.5h1M22 198.5h1M49 198.5h1M19 200.5h1M21 200.5h1M21 201.5h1M20 202.5h1M20 203.5h2M50 204.5h1M50 205.5h1M18 206.5h1M20 206.5h1M19 207.5h1M50 207.5h1M20 209.5h1M20 210.5h1M16 211.5h1M20 211.5h1M19 212.5h1M18 215.5h2M19 216.5h1M19 217.5h2M16 219.5h1M20 221.5h1M20 222.5h1M18 223.5h1M20 224.5h1M19 225.5h2M50 225.5h1M50 226.5h1M19 227.5h1M21 227.5h1M20 228.5h1M50 228.5h1M21 229.5h1M21 230.5h1M49 230.5h1M18 231.5h1M21 231.5h1M22 232.5h1M49 232.5h1M22 233.5h1M22 234.5h1M21 235.5h1M24 236.5h1M48 236.5h1M23 237.5h1M22 238.5h2M48 239.5h1M24 240.5h2M47 240.5h1M26 241.5h1M25 242.5h1M26 243.5h2M25 244.5h1M46 244.5h1M26 245.5h2M30 245.5h1M35 245.5h1M37 245.5h1M45 245.5h1M19 246.5h1M26 246.5h1M30 246.5h1M34 246.5h1M38 246.5h2M41 246.5h2M44 246.5h2M29 247.5h3M33 247.5h5M40 247.5h1M43 247.5h2M31 248.5h1M39 248.5h2M44 248.5h1M37 249.5h1M42 249.5h1M35 250.5h1M39 250.5h1M42 250.5h1M30 252.5h1"/><path stroke="#20a5e3" d="M6 .5h1M17 .5h1M7 1.5h2M10 1.5h1M8 2.5h3M15 2.5h1M10 3.5h1M12 3.5h1M10 4.5h2M13 5.5h4M19 5.5h1M15 6.5h3M20 6.5h1M16 7.5h1M18 7.5h1M21 8.5h1M27 8.5h1M19 9.5h1M21 9.5h2M23 10.5h3M49 10.5h2M50 11.5h1M24 12.5h2M24 13.5h2M48 13.5h1M25 14.5h2M27 15.5h1M31 15.5h1M46 15.5h1M27 16.5h2M46 16.5h2M27 17.5h2M47 17.5h1M29 18.5h1M29 19.5h1M29 20.5h1M46 20.5h1M30 21.5h2M30 22.5h1M32 22.5h1M30 23.5h1M46 23.5h1M31 24.5h1M33 24.5h2M43 24.5h1M46 24.5h1M31 25.5h1M45 25.5h2M45 26.5h1M32 27.5h1M34 27.5h1M45 27.5h1M33 28.5h1M37 28.5h1M42 28.5h1M44 28.5h2M32 29.5h2M42 30.5h1M32 31.5h3M44 31.5h1M34 32.5h1M36 32.5h1M42 32.5h1M33 33.5h1M35 33.5h1M40 33.5h1M42 33.5h1M44 33.5h1M33 34.5h1M35 34.5h3M41 34.5h2M35 35.5h5M42 35.5h1M39 80.5h2M39 81.5h2M42 81.5h2M37 82.5h3M44 82.5h1M38 83.5h1M43 83.5h1M45 84.5h1M35 86.5h1M46 86.5h1M35 87.5h1M46 87.5h1M35 89.5h1M47 89.5h1M48 92.5h1M34 93.5h1M34 94.5h1M34 95.5h1M49 95.5h2M0 96.5h1M1 97.5h3M5 97.5h1M7 97.5h1M9 97.5h1M33 97.5h1M1 98.5h1M3 98.5h1M6 98.5h3M10 98.5h2M3 99.5h3M9 99.5h2M12 99.5h2M33 99.5h1M3 100.5h1M14 100.5h1M16 100.5h2M17 101.5h1M32 101.5h1M14 102.5h1M16 102.5h5M17 103.5h2M20 103.5h3M18 104.5h1M22 104.5h3M30 104.5h2M19 105.5h1M21 105.5h1M23 105.5h7M21 106.5h1M26 106.5h1M28 106.5h1M27 107.5h2M46 181.5h1M29 182.5h1M44 182.5h1M43 183.5h1M28 184.5h1M32 184.5h1M34 184.5h2M40 184.5h2M27 185.5h1M31 185.5h4M36 185.5h3M41 185.5h1M29 186.5h6M37 186.5h1M44 186.5h1M27 187.5h2M46 187.5h1M27 188.5h2M46 188.5h1M26 189.5h1M23 191.5h1M47 191.5h1M25 192.5h1M24 195.5h1M48 195.5h1M23 196.5h1M48 196.5h1M21 197.5h3M20 198.5h2M49 199.5h1M22 200.5h1M49 200.5h1M22 201.5h1M49 201.5h1M21 202.5h1M21 204.5h1M20 205.5h2M20 207.5h2M20 208.5h1M50 208.5h1M50 209.5h1M19 211.5h1M20 212.5h1M19 213.5h1M19 214.5h2M20 215.5h1M20 216.5h1M20 219.5h1M19 221.5h1M50 222.5h1M20 223.5h1M50 223.5h1M50 224.5h1M21 225.5h1M21 226.5h1M20 229.5h1M22 229.5h1M20 230.5h1M22 230.5h1M22 231.5h2M49 231.5h1M23 233.5h1M48 234.5h1M23 235.5h1M23 236.5h1M24 237.5h1M24 239.5h1M47 239.5h1M25 241.5h1M27 242.5h1M29 243.5h1M32 243.5h1M46 243.5h1M27 244.5h5M34 244.5h1M36 244.5h2M42 244.5h1M45 244.5h1M28 245.5h2M31 245.5h2M34 245.5h1M36 245.5h1M38 245.5h6M29 246.5h1M31 246.5h1M33 246.5h1M36 246.5h2M43 246.5h1M39 247.5h1M41 247.5h2M41 250.5h1"/><path stroke="#1ca9df" d="M3 .5h3M5 1.5h2M6 2.5h2M7 3.5h3M7 4.5h3M13 4.5h1M9 5.5h4M11 6.5h4M13 7.5h3M17 7.5h1M20 7.5h1M16 8.5h5M17 9.5h1M20 9.5h1M18 10.5h1M20 10.5h3M21 11.5h3M22 12.5h2M49 12.5h2M22 13.5h2M49 13.5h2M24 14.5h1M48 14.5h3M25 15.5h2M28 15.5h1M47 15.5h2M26 16.5h1M29 16.5h1M48 16.5h1M26 17.5h1M48 17.5h1M27 18.5h2M47 18.5h2M28 19.5h1M47 19.5h1M28 20.5h1M47 20.5h1M29 21.5h1M47 21.5h1M31 22.5h1M47 22.5h1M29 23.5h1M47 23.5h1M29 24.5h2M29 25.5h2M30 26.5h2M30 27.5h2M46 27.5h1M30 28.5h2M31 29.5h1M45 29.5h2M31 30.5h2M45 30.5h1M45 31.5h1M32 32.5h1M45 32.5h1M31 33.5h2M34 33.5h1M38 33.5h1M32 34.5h1M34 34.5h1M43 34.5h2M33 35.5h2M40 35.5h2M43 35.5h2M34 36.5h10M36 37.5h6M43 37.5h1M41 38.5h1M38 78.5h2M37 79.5h2M40 79.5h2M43 79.5h1M36 80.5h3M41 80.5h3M36 81.5h2M44 81.5h1M36 82.5h1M45 83.5h1M35 84.5h1M36 85.5h1M46 85.5h1M47 88.5h1M34 91.5h1M48 91.5h1M34 92.5h1M49 93.5h2M0 94.5h1M50 94.5h1M0 95.5h3M4 95.5h1M33 95.5h1M1 96.5h10M33 96.5h1M4 97.5h1M6 97.5h1M8 97.5h1M10 97.5h2M13 97.5h1M9 98.5h1M12 98.5h4M11 99.5h1M14 99.5h5M15 100.5h1M18 100.5h3M32 100.5h1M15 101.5h2M18 101.5h4M31 101.5h1M21 102.5h2M24 102.5h1M31 102.5h1M23 103.5h3M28 103.5h1M30 103.5h1M25 104.5h5M37 184.5h1M39 184.5h1M39 185.5h2M42 185.5h1M35 186.5h2M38 186.5h6M45 186.5h1M30 187.5h9M40 187.5h1M45 187.5h1M29 188.5h3M33 188.5h1M45 188.5h1M27 189.5h3M46 189.5h1M26 190.5h2M46 190.5h1M25 191.5h2M26 192.5h1M47 192.5h1M25 193.5h1M47 193.5h1M24 194.5h1M48 194.5h1M24 196.5h1M24 197.5h1M48 197.5h1M23 198.5h2M22 199.5h2M23 200.5h1M22 202.5h1M49 202.5h1M22 203.5h1M49 203.5h1M22 204.5h1M22 205.5h1M21 206.5h1M21 208.5h1M21 209.5h1M21 210.5h1M21 211.5h1M50 211.5h1M21 212.5h1M50 212.5h1M20 213.5h2M21 214.5h1M50 214.5h1M50 215.5h1M50 216.5h1M21 217.5h1M50 217.5h1M20 218.5h2M50 218.5h1M21 219.5h1M50 219.5h1M20 220.5h2M50 220.5h1M50 221.5h1M21 222.5h1M21 223.5h1M21 224.5h1M22 226.5h1M49 227.5h1M22 228.5h1M49 228.5h1M49 229.5h1M23 232.5h1M24 233.5h1M48 233.5h1M23 234.5h2M24 235.5h1M48 235.5h1M25 236.5h1M25 237.5h1M47 237.5h1M25 238.5h2M47 238.5h1M25 239.5h2M26 240.5h2M27 241.5h3M46 241.5h1M26 242.5h1M28 242.5h4M45 242.5h2M28 243.5h1M31 243.5h1M33 243.5h6M41 243.5h1M43 243.5h1M45 243.5h1M32 244.5h2M35 244.5h1M38 244.5h4M43 244.5h2M33 245.5h1M44 245.5h1"/><path stroke="#18addb" d="M1 .5h2M1 1.5h4M4 2.5h2M4 3.5h3M6 4.5h1M7 5.5h2M9 6.5h2M9 7.5h4M11 8.5h1M13 8.5h3M12 9.5h1M14 9.5h3M18 9.5h1M15 10.5h3M19 10.5h1M17 11.5h4M19 12.5h3M21 13.5h1M21 14.5h3M22 15.5h3M49 15.5h2M23 16.5h3M49 16.5h2M25 17.5h1M49 17.5h1M25 18.5h2M49 18.5h1M26 19.5h2M48 19.5h1M26 20.5h2M48 20.5h1M27 21.5h2M48 21.5h1M27 22.5h3M27 23.5h2M48 23.5h1M28 24.5h1M47 24.5h1M47 25.5h1M28 26.5h2M46 26.5h2M29 27.5h1M46 28.5h1M30 29.5h1M47 29.5h1M30 30.5h1M46 30.5h1M30 31.5h2M31 32.5h1M45 33.5h1M31 34.5h1M45 34.5h1M31 35.5h2M31 36.5h3M44 36.5h1M31 37.5h5M42 37.5h1M44 37.5h1M31 38.5h4M36 38.5h5M42 38.5h2M33 39.5h1M35 39.5h10M36 40.5h2M39 40.5h2M33 41.5h1M38 77.5h4M37 78.5h1M40 78.5h5M36 79.5h1M39 79.5h1M42 79.5h1M44 79.5h1M44 80.5h1M45 81.5h1M35 82.5h1M45 82.5h1M35 83.5h1M46 84.5h1M35 85.5h1M47 87.5h1M48 89.5h1M34 90.5h1M48 90.5h1M49 91.5h1M49 92.5h2M0 93.5h1M1 94.5h4M8 94.5h1M10 94.5h1M33 94.5h1M3 95.5h1M5 95.5h7M11 96.5h4M12 97.5h1M14 97.5h1M16 97.5h2M32 97.5h1M16 98.5h4M32 98.5h1M19 99.5h3M32 99.5h1M21 100.5h2M31 100.5h1M22 101.5h2M30 101.5h1M23 102.5h1M25 102.5h1M27 102.5h4M26 103.5h2M29 103.5h1M39 187.5h1M41 187.5h4M32 188.5h1M34 188.5h11M30 189.5h4M35 189.5h2M45 189.5h1M28 190.5h4M27 191.5h4M27 192.5h1M26 193.5h1M25 194.5h2M47 194.5h1M25 195.5h1M25 196.5h1M25 197.5h1M48 198.5h1M24 199.5h1M48 199.5h1M23 201.5h1M23 202.5h1M23 203.5h1M49 204.5h1M49 205.5h1M22 206.5h1M22 207.5h1M22 208.5h1M22 209.5h1M22 210.5h1M50 210.5h1M22 211.5h1M22 213.5h1M50 213.5h1M21 215.5h1M21 216.5h1M22 217.5h1M22 219.5h1M22 220.5h1M21 221.5h2M22 223.5h1M22 224.5h1M22 225.5h1M49 225.5h1M49 226.5h1M22 227.5h1M23 228.5h1M23 229.5h1M23 230.5h2M24 231.5h1M24 232.5h1M48 232.5h1M25 235.5h2M26 236.5h1M26 237.5h2M27 238.5h1M46 238.5h1M27 239.5h3M46 239.5h1M28 240.5h4M33 240.5h1M46 240.5h1M30 241.5h4M45 241.5h1M32 242.5h13M30 243.5h1M39 243.5h2M42 243.5h1M44 243.5h1"/><path stroke="#12b1d6" d="M0 .5h1M0 1.5h1M0 2.5h4M2 3.5h2M3 4.5h3M3 5.5h4M5 6.5h4M7 7.5h1M7 8.5h1M9 8.5h2M12 8.5h1M8 9.5h4M13 9.5h1M11 10.5h4M13 11.5h4M14 12.5h1M16 12.5h3M16 13.5h1M18 13.5h3M18 14.5h3M19 15.5h3M22 16.5h1M23 17.5h2M50 17.5h1M23 18.5h2M23 19.5h3M49 19.5h2M49 20.5h2M26 21.5h1M49 21.5h2M26 22.5h1M48 22.5h2M27 24.5h1M48 24.5h1M27 25.5h2M48 25.5h1M27 26.5h1M48 26.5h1M28 27.5h1M47 27.5h1M29 28.5h1M47 28.5h1M29 29.5h1M29 30.5h1M29 31.5h1M46 31.5h1M30 32.5h1M46 32.5h1M30 33.5h1M46 33.5h1M30 34.5h1M30 35.5h1M45 35.5h1M45 36.5h1M45 37.5h1M35 38.5h1M44 38.5h1M31 39.5h2M34 39.5h1M32 40.5h4M38 40.5h1M41 40.5h3M32 41.5h1M34 41.5h11M33 42.5h1M35 42.5h8M42 43.5h1M40 44.5h1M38 75.5h2M41 75.5h1M37 76.5h6M44 76.5h1M36 77.5h2M42 77.5h3M36 78.5h1M35 80.5h1M45 80.5h1M35 81.5h1M46 83.5h1M47 85.5h1M47 86.5h1M34 88.5h1M48 88.5h1M34 89.5h1M49 90.5h1M0 91.5h2M50 91.5h1M0 92.5h6M1 93.5h7M9 93.5h1M33 93.5h1M5 94.5h3M9 94.5h1M11 94.5h2M12 95.5h2M17 95.5h1M15 96.5h3M32 96.5h1M15 97.5h1M18 97.5h2M20 98.5h2M31 98.5h1M22 99.5h2M31 99.5h1M23 100.5h3M30 100.5h1M24 101.5h6M26 102.5h1M34 189.5h1M37 189.5h8M32 190.5h6M43 190.5h1M45 190.5h1M31 191.5h1M33 191.5h2M46 191.5h1M28 192.5h2M46 192.5h1M27 193.5h1M27 194.5h1M26 195.5h1M47 195.5h1M26 196.5h1M47 196.5h1M25 198.5h1M24 200.5h1M48 200.5h1M24 201.5h1M24 202.5h1M23 204.5h1M23 205.5h1M23 206.5h1M49 206.5h1M49 207.5h1M23 208.5h1M22 212.5h1M22 214.5h1M22 215.5h1M22 216.5h1M22 218.5h1M23 221.5h1M22 222.5h2M49 222.5h1M23 223.5h1M49 223.5h1M23 224.5h1M49 224.5h1M23 225.5h1M23 226.5h1M23 227.5h2M24 228.5h1M24 229.5h2M25 230.5h1M25 231.5h1M48 231.5h1M25 232.5h1M25 233.5h2M25 234.5h2M47 235.5h1M27 236.5h1M47 236.5h1M28 237.5h1M46 237.5h1M28 238.5h3M30 239.5h4M32 240.5h1M34 240.5h3M40 240.5h2M45 240.5h1M34 241.5h11"/><path stroke="#08b5d0" d="M0 3.5h2M0 4.5h3M1 5.5h2M1 6.5h2M4 6.5h1M4 7.5h3M8 7.5h1M4 8.5h3M8 8.5h1M6 9.5h2M7 10.5h4M9 11.5h4M9 12.5h1M12 12.5h2M15 12.5h1M12 13.5h4M17 13.5h1M15 14.5h3M17 15.5h2M18 16.5h4M20 17.5h3M21 18.5h2M50 18.5h1M22 19.5h1M24 20.5h2M24 21.5h2M24 22.5h2M50 22.5h1M25 23.5h2M49 23.5h2M26 24.5h1M49 24.5h1M25 25.5h2M26 27.5h2M48 27.5h1M27 28.5h2M48 28.5h1M27 29.5h2M28 30.5h1M47 30.5h1M28 31.5h1M47 31.5h1M29 32.5h1M47 32.5h1M29 33.5h1M29 34.5h1M46 34.5h1M30 36.5h1M46 36.5h1M30 37.5h1M30 38.5h1M45 38.5h1M45 39.5h1M31 40.5h1M44 40.5h1M31 41.5h1M32 42.5h1M34 42.5h1M43 42.5h2M32 43.5h10M43 43.5h2M33 44.5h7M41 44.5h4M33 45.5h1M35 45.5h8M36 46.5h1M38 46.5h4M38 47.5h2M41 47.5h1M39 72.5h1M37 73.5h1M39 73.5h4M36 74.5h8M36 75.5h2M40 75.5h1M42 75.5h3M36 76.5h1M43 76.5h1M35 77.5h1M35 78.5h1M45 78.5h1M35 79.5h1M45 79.5h1M46 81.5h1M46 82.5h1M47 83.5h1M47 84.5h1M34 86.5h1M34 87.5h1M48 87.5h1M0 89.5h1M49 89.5h1M0 90.5h3M50 90.5h1M2 91.5h5M8 91.5h1M33 91.5h1M7 92.5h3M11 92.5h1M33 92.5h1M8 93.5h1M10 93.5h3M13 94.5h4M32 94.5h1M14 95.5h3M19 95.5h1M32 95.5h1M18 96.5h4M20 97.5h2M31 97.5h1M22 98.5h1M24 99.5h1M30 99.5h1M26 100.5h4M38 190.5h5M44 190.5h1M32 191.5h1M35 191.5h3M39 191.5h1M41 191.5h1M43 191.5h3M30 192.5h6M45 192.5h1M28 193.5h4M46 193.5h1M28 194.5h2M46 194.5h1M27 195.5h2M27 196.5h1M26 197.5h1M47 197.5h1M26 198.5h1M25 199.5h2M25 200.5h1M25 201.5h1M48 201.5h1M24 203.5h1M24 204.5h1M24 205.5h1M24 206.5h1M23 207.5h1M49 208.5h1M23 209.5h1M49 209.5h1M23 210.5h1M23 211.5h1M49 211.5h1M23 212.5h1M23 213.5h1M23 214.5h1M23 215.5h1M23 216.5h1M23 217.5h1M23 218.5h1M23 219.5h1M49 219.5h1M23 220.5h1M49 220.5h1M49 221.5h1M24 225.5h1M24 226.5h1M25 228.5h1M48 228.5h1M48 229.5h1M48 230.5h1M26 231.5h1M26 232.5h1M47 233.5h1M27 234.5h1M47 234.5h1M27 235.5h1M29 236.5h1M46 236.5h1M29 237.5h2M31 238.5h3M35 238.5h2M45 238.5h1M34 239.5h5M40 239.5h3M45 239.5h1M37 240.5h3M42 240.5h3"/><path stroke="#01b8ca" d="M0 5.5h1M0 6.5h1M3 6.5h1M0 7.5h4M1 8.5h3M4 9.5h2M3 10.5h1M5 10.5h2M5 11.5h1M7 11.5h2M7 12.5h2M10 12.5h2M8 13.5h4M10 14.5h5M10 15.5h1M12 15.5h5M12 16.5h1M14 16.5h4M15 17.5h5M18 18.5h3M17 19.5h1M19 19.5h3M20 20.5h4M21 21.5h3M21 22.5h3M22 23.5h3M23 24.5h3M50 24.5h1M49 25.5h2M24 26.5h3M49 26.5h2M25 27.5h1M49 27.5h1M26 28.5h1M26 29.5h1M48 29.5h1M26 30.5h2M48 30.5h1M27 31.5h1M27 32.5h2M28 33.5h1M47 33.5h1M28 34.5h1M28 35.5h2M46 35.5h1M29 36.5h1M46 37.5h1M30 39.5h1M30 40.5h1M45 40.5h1M30 41.5h1M45 41.5h1M30 42.5h2M31 43.5h1M32 44.5h1M32 45.5h1M34 45.5h1M43 45.5h2M32 46.5h4M37 46.5h1M42 46.5h3M33 47.5h5M40 47.5h1M42 47.5h3M35 48.5h9M36 49.5h6M37 50.5h1M39 50.5h1M36 70.5h1M38 70.5h3M43 70.5h1M37 71.5h4M42 71.5h2M36 72.5h3M40 72.5h5M36 73.5h1M38 73.5h1M43 73.5h2M44 74.5h1M35 76.5h1M45 77.5h1M46 80.5h1M34 84.5h1M34 85.5h1M48 85.5h1M48 86.5h1M49 88.5h2M1 89.5h1M3 89.5h2M33 89.5h1M50 89.5h1M3 90.5h6M33 90.5h1M7 91.5h1M9 91.5h2M6 92.5h1M10 92.5h1M12 92.5h4M13 93.5h4M32 93.5h1M17 94.5h2M20 94.5h1M18 95.5h1M20 95.5h2M31 96.5h1M22 97.5h2M23 98.5h3M30 98.5h1M25 99.5h5M38 191.5h1M40 191.5h1M42 191.5h1M36 192.5h9M32 193.5h6M44 193.5h2M30 194.5h2M29 195.5h2M46 195.5h1M28 196.5h1M27 197.5h1M27 198.5h1M47 198.5h1M26 200.5h1M26 201.5h1M25 202.5h1M48 202.5h1M25 203.5h1M48 203.5h1M25 204.5h1M25 205.5h1M24 207.5h1M24 208.5h1M24 209.5h1M24 210.5h1M49 210.5h1M24 211.5h1M24 212.5h1M49 212.5h1M24 213.5h1M49 213.5h1M24 214.5h1M49 214.5h1M24 215.5h1M49 215.5h1M49 216.5h1M49 217.5h1M24 218.5h1M49 218.5h1M24 219.5h1M24 220.5h1M24 221.5h1M24 222.5h1M24 223.5h1M24 224.5h2M25 225.5h1M25 226.5h1M25 227.5h1M48 227.5h1M26 229.5h1M26 230.5h1M27 231.5h1M27 232.5h1M47 232.5h1M27 233.5h1M28 234.5h1M28 235.5h2M31 235.5h1M28 236.5h1M30 236.5h3M31 237.5h3M35 237.5h2M45 237.5h1M34 238.5h1M37 238.5h3M41 238.5h4M39 239.5h1M43 239.5h2"/><path stroke="#02bac3" d="M0 8.5h1M0 9.5h4M2 10.5h1M4 10.5h1M1 11.5h4M6 11.5h1M4 12.5h3M2 13.5h1M5 13.5h3M6 14.5h4M9 15.5h1M11 15.5h1M10 16.5h2M13 16.5h1M11 17.5h4M11 18.5h7M16 19.5h1M18 19.5h1M17 20.5h3M18 21.5h1M20 21.5h1M18 22.5h3M19 23.5h3M21 24.5h2M21 25.5h4M23 26.5h1M23 27.5h2M50 27.5h1M24 28.5h2M49 28.5h1M25 29.5h1M49 29.5h1M25 30.5h1M26 31.5h1M48 31.5h1M48 32.5h1M27 33.5h1M47 34.5h1M27 35.5h1M47 35.5h1M28 36.5h1M29 37.5h1M29 38.5h1M46 38.5h1M29 39.5h1M45 42.5h1M30 43.5h1M45 43.5h1M31 44.5h1M31 45.5h1M31 46.5h1M32 47.5h1M33 48.5h2M44 48.5h1M33 49.5h3M42 49.5h3M33 50.5h1M35 50.5h2M38 50.5h1M40 50.5h5M34 51.5h10M35 52.5h9M37 53.5h2M40 53.5h3M37 54.5h1M39 54.5h1M37 55.5h1M39 55.5h2M38 56.5h1M40 56.5h1M41 57.5h2M41 61.5h1M38 62.5h2M43 62.5h1M37 63.5h1M38 64.5h2M37 65.5h3M38 66.5h2M41 66.5h1M36 67.5h8M36 68.5h8M35 69.5h10M37 70.5h1M41 70.5h2M44 70.5h1M36 71.5h1M41 71.5h1M44 71.5h1M35 72.5h1M35 74.5h1M45 74.5h1M35 75.5h1M45 75.5h1M45 76.5h1M46 78.5h1M46 79.5h1M34 81.5h1M47 81.5h1M34 82.5h1M47 82.5h1M34 83.5h1M48 84.5h1M0 87.5h1M49 87.5h1M0 88.5h4M5 88.5h1M33 88.5h1M2 89.5h1M5 89.5h3M9 90.5h2M11 91.5h4M16 92.5h2M17 93.5h2M20 93.5h1M19 94.5h1M21 94.5h1M31 95.5h1M22 96.5h1M30 96.5h1M24 97.5h2M30 97.5h1M26 98.5h4M38 193.5h6M32 194.5h8M42 194.5h1M45 194.5h1M31 195.5h2M45 195.5h1M29 196.5h3M46 196.5h1M28 197.5h2M28 198.5h1M27 199.5h2M47 199.5h1M26 202.5h1M26 203.5h1M26 204.5h1M48 204.5h1M48 205.5h1M25 206.5h1M25 207.5h1M25 208.5h1M25 209.5h1M25 210.5h1M25 211.5h1M25 212.5h1M25 213.5h1M24 216.5h1M24 217.5h1M25 218.5h1M25 221.5h1M25 222.5h1M25 223.5h1M48 225.5h1M48 226.5h1M26 227.5h1M26 228.5h1M47 231.5h1M28 232.5h1M28 233.5h2M29 234.5h3M46 234.5h1M30 235.5h1M46 235.5h1M33 236.5h5M42 236.5h1M45 236.5h1M34 237.5h1M37 237.5h8M40 238.5h1"/><path stroke="#0bbdbd" d="M0 10.5h2M0 11.5h1M0 12.5h4M3 13.5h2M2 14.5h4M4 15.5h5M5 16.5h5M6 17.5h5M8 18.5h3M10 19.5h6M11 20.5h6M11 21.5h7M19 21.5h1M14 22.5h4M17 23.5h2M19 24.5h2M20 25.5h1M20 26.5h3M22 27.5h1M23 28.5h1M50 28.5h1M23 29.5h2M50 29.5h1M24 30.5h1M49 30.5h2M25 31.5h1M25 32.5h2M26 33.5h1M48 33.5h1M26 34.5h2M27 36.5h1M47 36.5h1M27 37.5h2M47 37.5h1M28 38.5h1M28 39.5h1M46 39.5h1M29 40.5h1M46 40.5h1M29 41.5h1M46 41.5h1M30 44.5h1M45 44.5h1M45 45.5h1M45 46.5h1M31 47.5h1M45 47.5h1M32 48.5h1M32 49.5h1M34 50.5h1M33 51.5h1M44 51.5h1M34 52.5h1M44 52.5h1M35 53.5h2M39 53.5h1M43 53.5h2M35 54.5h2M38 54.5h1M40 54.5h5M35 55.5h2M38 55.5h1M41 55.5h3M35 56.5h3M39 56.5h1M41 56.5h4M35 57.5h6M43 57.5h2M36 58.5h7M44 58.5h1M35 59.5h9M36 60.5h7M35 61.5h6M42 61.5h2M35 62.5h3M40 62.5h3M36 63.5h1M38 63.5h6M36 64.5h2M40 64.5h4M36 65.5h1M40 65.5h4M35 66.5h3M40 66.5h1M42 66.5h3M35 67.5h1M44 67.5h1M35 68.5h1M44 68.5h1M35 70.5h1M35 71.5h1M35 73.5h1M45 73.5h1M34 76.5h1M46 77.5h1M34 78.5h1M34 79.5h1M34 80.5h1M47 80.5h1M48 83.5h1M49 85.5h1M33 86.5h1M49 86.5h2M1 87.5h5M33 87.5h1M50 87.5h1M4 88.5h1M6 88.5h2M9 88.5h1M8 89.5h4M11 90.5h3M15 91.5h1M32 91.5h1M18 92.5h2M32 92.5h1M19 93.5h1M31 93.5h1M22 94.5h1M31 94.5h1M22 95.5h2M23 96.5h2M26 96.5h4M26 97.5h4M40 194.5h2M43 194.5h2M33 195.5h6M40 195.5h1M42 195.5h2M32 196.5h2M30 197.5h2M46 197.5h1M29 198.5h2M46 198.5h1M29 199.5h1M27 200.5h1M47 200.5h1M27 201.5h1M47 201.5h1M27 202.5h1M27 203.5h1M26 205.5h1M26 206.5h1M48 206.5h1M26 207.5h1M48 207.5h1M25 214.5h1M25 215.5h1M25 216.5h1M25 217.5h1M25 219.5h1M25 220.5h1M26 224.5h1M48 224.5h1M26 225.5h1M26 226.5h1M27 227.5h1M27 228.5h1M27 229.5h1M47 229.5h1M27 230.5h2M47 230.5h1M28 231.5h2M30 232.5h1M30 233.5h2M46 233.5h1M32 234.5h4M32 235.5h7M40 235.5h6M38 236.5h4M43 236.5h2"/><path stroke="#19bfb6" d="M0 13.5h2M0 14.5h2M1 15.5h3M1 16.5h1M4 16.5h1M5 17.5h1M5 18.5h3M6 19.5h4M9 20.5h2M10 21.5h1M11 22.5h3M13 23.5h4M14 24.5h5M15 25.5h5M17 26.5h3M19 27.5h3M21 28.5h2M21 29.5h2M22 30.5h2M24 31.5h1M49 31.5h2M24 32.5h1M49 32.5h1M25 33.5h1M25 34.5h1M48 34.5h1M26 35.5h1M48 35.5h1M26 36.5h1M27 38.5h1M47 38.5h1M27 39.5h1M47 39.5h1M28 40.5h1M29 42.5h1M46 42.5h1M29 43.5h1M46 43.5h1M30 45.5h1M30 46.5h1M31 48.5h1M45 48.5h1M45 49.5h1M32 50.5h1M32 51.5h1M33 52.5h1M33 53.5h2M33 54.5h2M33 55.5h2M44 55.5h1M34 56.5h1M34 57.5h1M35 58.5h1M43 58.5h1M34 59.5h1M44 59.5h1M35 60.5h1M43 60.5h2M34 61.5h1M44 61.5h1M34 62.5h1M44 62.5h1M35 63.5h1M44 63.5h1M35 64.5h1M44 64.5h1M35 65.5h1M44 65.5h1M45 69.5h1M45 70.5h1M45 71.5h1M34 72.5h1M45 72.5h1M34 74.5h1M46 74.5h1M34 75.5h1M46 75.5h1M46 76.5h1M34 77.5h1M47 79.5h1M48 81.5h1M48 82.5h1M33 84.5h1M49 84.5h2M2 85.5h1M33 85.5h1M50 85.5h1M0 86.5h7M6 87.5h4M8 88.5h1M10 88.5h3M12 89.5h3M32 89.5h1M14 90.5h3M32 90.5h1M16 91.5h4M20 92.5h1M31 92.5h1M21 93.5h2M23 94.5h1M25 94.5h1M30 94.5h1M24 95.5h3M28 95.5h3M25 96.5h1M39 195.5h1M41 195.5h1M44 195.5h1M34 196.5h6M41 196.5h5M32 197.5h2M35 197.5h1M45 197.5h1M31 198.5h2M30 199.5h2M46 199.5h1M28 200.5h2M28 201.5h2M28 202.5h1M47 202.5h1M27 204.5h1M27 205.5h1M26 208.5h1M48 208.5h1M26 209.5h1M26 210.5h1M26 211.5h1M26 212.5h1M26 216.5h1M26 217.5h1M26 218.5h1M26 219.5h1M26 220.5h1M26 221.5h1M48 221.5h1M26 222.5h1M48 222.5h1M26 223.5h1M48 223.5h1M27 224.5h1M27 225.5h1M27 226.5h1M28 228.5h1M28 229.5h2M29 230.5h2M30 231.5h2M46 231.5h1M29 232.5h1M31 232.5h2M46 232.5h1M32 233.5h5M45 233.5h1M36 234.5h3M40 234.5h3M44 234.5h2M39 235.5h1"/><path stroke="#24c1ae" d="M0 15.5h1M0 16.5h1M2 16.5h2M3 17.5h2M2 18.5h3M4 19.5h2M6 20.5h3M5 21.5h1M7 21.5h3M9 22.5h2M10 23.5h3M10 24.5h1M12 24.5h2M12 25.5h3M14 26.5h3M17 27.5h2M18 28.5h3M20 29.5h1M20 30.5h2M22 31.5h2M22 32.5h2M50 32.5h1M23 33.5h2M49 33.5h1M24 34.5h1M49 34.5h1M25 35.5h1M25 36.5h1M48 36.5h1M26 37.5h1M48 37.5h1M26 38.5h1M27 40.5h1M47 40.5h1M28 41.5h1M47 41.5h1M28 42.5h1M46 44.5h1M46 45.5h1M46 46.5h1M30 47.5h1M46 47.5h1M30 48.5h1M31 49.5h1M31 50.5h1M45 50.5h1M45 51.5h1M32 52.5h1M45 52.5h1M32 53.5h1M45 53.5h1M45 55.5h1M33 56.5h1M45 56.5h1M33 57.5h1M33 58.5h2M45 58.5h1M33 60.5h2M34 63.5h1M34 64.5h1M34 65.5h1M45 65.5h1M34 66.5h1M45 66.5h1M34 67.5h1M45 67.5h1M34 68.5h1M45 68.5h1M34 69.5h1M34 70.5h1M34 71.5h1M34 73.5h1M46 73.5h1M47 77.5h1M47 78.5h1M33 81.5h1M33 82.5h1M33 83.5h1M49 83.5h1M0 84.5h2M0 85.5h2M3 85.5h3M7 86.5h3M10 87.5h3M32 87.5h1M13 88.5h2M32 88.5h1M15 89.5h2M17 90.5h4M20 91.5h1M31 91.5h1M21 92.5h2M30 92.5h1M23 93.5h1M30 93.5h1M24 94.5h1M26 94.5h4M27 95.5h1M40 196.5h1M34 197.5h1M36 197.5h9M33 198.5h4M45 198.5h1M32 199.5h1M30 200.5h1M46 200.5h1M30 201.5h1M28 203.5h1M47 203.5h1M28 204.5h1M47 204.5h1M28 205.5h1M27 206.5h1M27 207.5h1M27 208.5h1M27 209.5h1M48 209.5h1M48 210.5h1M48 211.5h1M48 212.5h1M26 213.5h1M48 213.5h1M26 214.5h1M48 214.5h1M26 215.5h1M48 217.5h1M48 218.5h1M48 219.5h1M48 220.5h1M27 222.5h1M27 223.5h1M28 226.5h1M28 227.5h1M47 227.5h1M29 228.5h1M47 228.5h1M30 229.5h1M31 230.5h1M46 230.5h1M32 231.5h1M33 232.5h1M35 232.5h1M45 232.5h1M37 233.5h1M40 233.5h5M39 234.5h1M43 234.5h1"/><path stroke="#2cc4a7" d="M0 17.5h3M0 18.5h2M1 19.5h3M2 20.5h4M4 21.5h1M6 21.5h1M5 22.5h4M8 23.5h2M7 24.5h3M11 24.5h1M10 25.5h2M11 26.5h3M13 27.5h4M14 28.5h4M17 29.5h3M18 30.5h2M19 31.5h3M21 32.5h1M22 33.5h1M50 33.5h1M23 34.5h1M50 34.5h1M24 35.5h1M49 35.5h1M25 37.5h1M25 38.5h1M48 38.5h1M26 39.5h1M27 41.5h1M47 42.5h1M28 43.5h1M47 43.5h1M29 44.5h1M29 45.5h1M46 48.5h1M46 49.5h1M31 51.5h1M32 54.5h1M45 54.5h1M32 55.5h1M45 57.5h1M33 59.5h1M45 59.5h1M45 60.5h1M33 61.5h1M45 61.5h1M45 62.5h1M45 63.5h1M45 64.5h1M33 65.5h1M46 69.5h1M46 70.5h1M46 71.5h1M46 72.5h1M47 76.5h1M33 77.5h1M33 78.5h1M33 79.5h1M48 79.5h1M33 80.5h1M48 80.5h1M49 82.5h1M0 83.5h1M2 83.5h2M50 83.5h1M2 84.5h5M6 85.5h6M32 85.5h1M10 86.5h3M32 86.5h1M13 87.5h3M15 88.5h3M17 89.5h4M31 90.5h1M21 91.5h2M23 92.5h2M26 92.5h1M24 93.5h6M37 198.5h2M40 198.5h5M33 199.5h4M31 200.5h2M31 201.5h1M46 201.5h1M29 202.5h2M29 203.5h2M29 204.5h1M29 205.5h1M47 205.5h1M28 206.5h1M27 210.5h1M27 211.5h1M27 212.5h1M27 213.5h1M27 214.5h1M48 215.5h1M27 216.5h1M48 216.5h1M27 217.5h1M27 218.5h1M27 219.5h1M27 220.5h1M27 221.5h1M28 225.5h1M47 225.5h1M29 226.5h1M47 226.5h1M29 227.5h2M30 228.5h1M31 229.5h1M46 229.5h1M32 230.5h2M33 231.5h3M45 231.5h1M34 232.5h1M36 232.5h7M38 233.5h2"/><path stroke="#31c69f" d="M0 19.5h1M0 20.5h2M1 21.5h3M3 22.5h2M5 23.5h3M6 24.5h1M7 25.5h3M9 26.5h2M10 27.5h3M11 28.5h3M14 29.5h3M15 30.5h3M17 31.5h2M18 32.5h3M21 33.5h1M21 34.5h2M23 35.5h1M50 35.5h1M23 36.5h2M49 36.5h1M24 37.5h1M48 39.5h1M26 40.5h1M26 41.5h1M27 42.5h1M27 43.5h1M28 44.5h1M47 44.5h1M28 45.5h1M47 45.5h1M29 46.5h1M47 46.5h1M29 47.5h1M30 49.5h1M30 50.5h1M46 50.5h1M46 51.5h1M31 52.5h1M31 53.5h1M31 54.5h1M32 56.5h1M32 57.5h1M32 58.5h1M32 59.5h1M32 61.5h1M33 62.5h1M33 63.5h1M33 64.5h1M33 66.5h1M46 66.5h1M33 67.5h1M46 67.5h1M33 68.5h1M46 68.5h1M33 69.5h1M33 70.5h1M33 71.5h1M33 72.5h1M33 73.5h1M33 74.5h1M47 74.5h1M33 75.5h1M47 75.5h1M33 76.5h1M48 78.5h1M49 81.5h1M0 82.5h2M50 82.5h1M1 83.5h1M4 83.5h3M32 83.5h1M7 84.5h3M32 84.5h1M12 85.5h2M13 86.5h3M16 87.5h2M18 88.5h3M31 88.5h1M21 89.5h1M31 89.5h1M21 90.5h2M30 90.5h1M23 91.5h2M30 91.5h1M25 92.5h1M27 92.5h3M39 198.5h1M37 199.5h9M33 200.5h5M45 200.5h1M32 201.5h2M31 202.5h1M46 202.5h1M31 203.5h1M30 204.5h1M29 206.5h1M47 206.5h1M28 207.5h2M47 207.5h1M28 208.5h1M28 209.5h1M28 210.5h1M28 211.5h1M28 214.5h1M27 215.5h1M28 216.5h1M28 217.5h1M28 218.5h1M28 219.5h1M28 220.5h1M28 221.5h1M28 222.5h1M28 223.5h2M47 223.5h1M28 224.5h2M47 224.5h1M29 225.5h1M30 226.5h1M31 228.5h2M46 228.5h1M32 229.5h2M34 230.5h3M45 230.5h1M36 231.5h9M43 232.5h2"/><path stroke="#37c897" d="M0 21.5h1M1 22.5h2M2 23.5h3M4 24.5h2M6 25.5h1M7 26.5h2M7 27.5h3M10 28.5h1M12 29.5h2M13 30.5h2M15 31.5h2M17 32.5h1M20 33.5h1M20 34.5h1M22 35.5h1M22 36.5h1M50 36.5h1M23 37.5h1M49 37.5h1M24 38.5h1M49 38.5h1M24 39.5h2M25 40.5h1M48 40.5h1M48 41.5h1M26 42.5h1M48 42.5h1M27 44.5h1M28 46.5h1M47 47.5h1M29 48.5h1M30 51.5h1M30 52.5h1M46 52.5h1M46 53.5h1M46 54.5h1M31 55.5h1M46 55.5h1M31 56.5h1M46 56.5h1M31 57.5h1M46 57.5h1M46 58.5h1M46 59.5h1M32 60.5h1M46 60.5h1M46 61.5h1M32 62.5h1M46 62.5h1M46 63.5h1M46 64.5h1M46 65.5h1M47 72.5h1M47 73.5h1M48 77.5h1M49 79.5h1M49 80.5h1M0 81.5h4M32 81.5h1M50 81.5h1M2 82.5h6M32 82.5h1M7 83.5h3M10 84.5h3M16 86.5h2M31 86.5h1M18 87.5h2M31 87.5h1M21 88.5h1M22 89.5h1M30 89.5h1M23 90.5h2M25 91.5h5M38 200.5h7M34 201.5h3M39 201.5h1M45 201.5h1M32 202.5h3M45 202.5h1M32 203.5h1M46 203.5h1M31 204.5h1M46 204.5h1M30 205.5h2M30 206.5h1M29 208.5h1M47 208.5h1M29 209.5h1M47 209.5h1M29 210.5h1M47 210.5h1M29 211.5h1M28 212.5h1M28 213.5h1M28 215.5h1M29 219.5h1M29 220.5h1M29 221.5h1M29 222.5h1M47 222.5h1M30 223.5h1M30 224.5h1M30 225.5h2M31 226.5h2M31 227.5h2M46 227.5h1M33 228.5h1M35 228.5h1M34 229.5h4M45 229.5h1M37 230.5h8"/><path stroke="#3fca8e" d="M0 22.5h1M0 23.5h2M3 24.5h1M4 25.5h2M5 26.5h2M6 27.5h1M8 28.5h2M10 29.5h2M10 30.5h3M13 31.5h2M14 32.5h1M16 32.5h1M17 33.5h3M17 34.5h3M20 35.5h2M21 36.5h1M22 37.5h1M50 37.5h1M23 38.5h1M50 38.5h1M49 39.5h1M24 40.5h1M25 41.5h1M26 43.5h1M48 43.5h1M27 45.5h1M28 47.5h1M47 48.5h1M29 49.5h1M47 49.5h1M47 50.5h1M47 51.5h1M30 53.5h1M31 58.5h1M31 59.5h1M32 63.5h1M32 64.5h1M32 66.5h1M32 67.5h1M47 68.5h1M47 69.5h1M47 70.5h1M32 71.5h1M47 71.5h1M32 73.5h1M48 75.5h1M32 76.5h1M48 76.5h1M32 77.5h1M32 78.5h1M49 78.5h1M32 79.5h1M0 80.5h3M4 80.5h1M32 80.5h1M50 80.5h1M4 81.5h4M8 82.5h3M10 83.5h3M13 84.5h2M31 84.5h1M14 85.5h4M31 85.5h1M18 86.5h1M20 87.5h2M30 87.5h1M22 88.5h1M30 88.5h1M23 89.5h2M25 90.5h5M37 201.5h2M40 201.5h5M35 202.5h2M41 202.5h1M33 203.5h1M45 203.5h1M32 204.5h1M32 205.5h1M46 205.5h1M31 206.5h1M30 207.5h1M30 208.5h1M30 209.5h1M30 210.5h1M47 211.5h1M29 212.5h1M47 212.5h1M29 213.5h1M47 213.5h1M29 214.5h1M29 215.5h1M29 216.5h1M29 217.5h1M29 218.5h1M30 219.5h1M47 219.5h1M30 220.5h1M47 220.5h1M47 221.5h1M30 222.5h1M31 224.5h1M32 225.5h1M46 225.5h1M33 226.5h1M46 226.5h1M33 227.5h3M34 228.5h1M36 228.5h2M42 228.5h1M45 228.5h1M38 229.5h7"/><path stroke="#4acb84" d="M0 24.5h3M1 25.5h3M3 26.5h2M5 27.5h1M6 28.5h2M7 29.5h3M9 30.5h1M11 31.5h2M11 32.5h1M13 32.5h1M15 32.5h1M13 33.5h1M15 33.5h2M16 34.5h1M17 35.5h3M19 36.5h2M21 37.5h1M22 38.5h1M23 39.5h1M50 39.5h1M23 40.5h1M49 40.5h1M24 41.5h1M49 41.5h1M25 42.5h1M26 44.5h1M48 44.5h1M48 45.5h1M27 46.5h1M48 46.5h1M48 47.5h1M28 48.5h1M29 50.5h1M29 51.5h1M47 52.5h1M47 53.5h1M30 54.5h1M30 55.5h1M30 56.5h1M31 60.5h1M31 61.5h1M47 64.5h1M32 65.5h1M47 66.5h1M47 67.5h1M32 68.5h1M32 69.5h1M32 70.5h1M32 72.5h1M48 73.5h1M32 74.5h1M48 74.5h1M32 75.5h1M49 77.5h1M50 78.5h1M0 79.5h4M50 79.5h1M3 80.5h1M5 80.5h2M8 81.5h3M11 82.5h2M31 82.5h1M13 83.5h2M31 83.5h1M15 84.5h3M18 85.5h3M19 86.5h2M30 86.5h1M22 87.5h1M23 88.5h2M29 88.5h1M25 89.5h5M37 202.5h4M42 202.5h3M34 203.5h4M39 203.5h1M44 203.5h1M33 204.5h4M45 204.5h1M33 205.5h2M32 206.5h1M46 206.5h1M31 207.5h2M46 207.5h1M31 208.5h1M30 211.5h1M30 212.5h1M30 213.5h1M30 214.5h1M47 214.5h1M47 215.5h1M30 216.5h1M47 216.5h1M30 217.5h1M47 217.5h1M30 218.5h1M47 218.5h1M31 220.5h1M30 221.5h2M31 222.5h1M31 223.5h2M46 223.5h1M32 224.5h1M46 224.5h1M33 225.5h1M45 225.5h1M34 226.5h2M37 226.5h1M45 226.5h1M36 227.5h3M40 227.5h1M42 227.5h2M45 227.5h1M38 228.5h4M43 228.5h2"/><path stroke="#57cc7a" d="M0 25.5h1M1 26.5h2M2 27.5h3M4 28.5h2M5 29.5h2M7 30.5h2M9 31.5h2M10 32.5h1M12 32.5h1M11 33.5h2M14 33.5h1M13 34.5h3M15 35.5h2M18 36.5h1M19 37.5h2M20 38.5h2M21 39.5h2M22 40.5h1M50 40.5h1M23 41.5h1M50 41.5h1M24 42.5h1M49 42.5h1M25 43.5h1M49 43.5h1M26 45.5h1M26 46.5h1M27 47.5h1M28 49.5h1M28 50.5h1M29 53.5h1M47 54.5h1M47 55.5h1M47 56.5h1M30 57.5h1M47 57.5h1M30 58.5h1M47 58.5h1M30 59.5h1M47 59.5h1M47 60.5h1M47 61.5h1M31 62.5h1M47 62.5h1M31 63.5h1M47 63.5h1M31 64.5h1M31 65.5h1M47 65.5h1M48 71.5h1M48 72.5h1M50 77.5h1M0 78.5h3M4 79.5h3M31 79.5h1M7 80.5h4M31 80.5h1M11 81.5h2M31 81.5h1M13 82.5h1M15 83.5h3M18 84.5h2M21 85.5h1M30 85.5h1M21 86.5h2M23 87.5h2M28 87.5h2M25 88.5h4M38 203.5h1M40 203.5h4M37 204.5h4M42 204.5h3M35 205.5h2M45 205.5h1M33 206.5h3M33 207.5h1M32 208.5h1M46 208.5h1M31 209.5h1M31 210.5h2M31 211.5h1M31 212.5h1M31 213.5h1M31 214.5h1M30 215.5h2M31 216.5h1M31 218.5h1M31 219.5h1M32 222.5h1M46 222.5h1M33 223.5h1M33 224.5h1M45 224.5h1M34 225.5h4M36 226.5h1M38 226.5h1M40 226.5h2M43 226.5h2M39 227.5h1M41 227.5h1M44 227.5h1"/><path stroke="#64cd6f" d="M0 26.5h1M0 27.5h2M3 28.5h1M4 29.5h1M5 30.5h2M7 31.5h2M9 32.5h1M10 33.5h1M12 34.5h1M13 35.5h2M16 36.5h2M17 37.5h2M19 38.5h1M22 41.5h1M23 42.5h1M50 42.5h1M24 43.5h1M50 43.5h1M24 44.5h2M49 44.5h1M25 45.5h1M49 45.5h1M26 47.5h1M27 48.5h1M48 48.5h1M48 49.5h1M48 50.5h1M28 51.5h1M48 51.5h1M29 52.5h1M29 54.5h1M31 66.5h1M31 67.5h1M31 68.5h1M31 69.5h1M48 69.5h1M31 70.5h1M48 70.5h1M31 71.5h1M31 73.5h1M31 74.5h1M31 75.5h1M49 75.5h1M31 76.5h1M49 76.5h2M0 77.5h3M31 77.5h1M3 78.5h4M31 78.5h1M7 79.5h2M11 80.5h1M13 81.5h2M14 82.5h3M18 83.5h3M30 83.5h1M20 84.5h1M30 84.5h1M22 85.5h1M29 85.5h1M23 86.5h1M29 86.5h1M25 87.5h3M41 204.5h1M37 205.5h8M36 206.5h2M42 206.5h1M45 206.5h1M34 207.5h1M36 207.5h1M45 207.5h1M33 208.5h1M32 209.5h1M46 209.5h1M46 210.5h1M32 211.5h1M46 211.5h1M32 212.5h1M46 213.5h1M32 214.5h1M32 215.5h1M32 216.5h1M31 217.5h2M32 218.5h1M32 219.5h1M46 219.5h1M32 220.5h1M46 220.5h1M32 221.5h1M46 221.5h1M33 222.5h1M35 222.5h1M34 223.5h2M45 223.5h1M34 224.5h3M42 224.5h1M44 224.5h1M38 225.5h7M39 226.5h1M42 226.5h1"/><path stroke="#72cd64" d="M1 28.5h2M1 29.5h3M3 30.5h2M5 31.5h2M7 32.5h2M8 33.5h2M9 34.5h3M13 36.5h3M16 37.5h1M17 38.5h2M19 39.5h2M20 40.5h2M21 41.5h1M23 43.5h1M50 44.5h1M24 45.5h1M50 45.5h1M25 46.5h1M49 46.5h1M27 49.5h1M27 50.5h1M27 51.5h1M28 52.5h1M48 52.5h1M28 53.5h1M48 53.5h1M28 54.5h1M29 55.5h1M29 56.5h1M29 57.5h1M29 58.5h1M30 60.5h1M30 61.5h1M30 62.5h1M48 64.5h1M48 65.5h1M48 66.5h1M48 67.5h1M48 68.5h1M31 72.5h1M49 72.5h1M49 73.5h1M49 74.5h2M50 75.5h1M0 76.5h2M3 77.5h5M7 78.5h4M9 79.5h4M30 79.5h1M12 80.5h2M30 80.5h1M15 81.5h2M30 81.5h1M17 82.5h3M30 82.5h1M21 83.5h1M21 84.5h2M29 84.5h1M23 85.5h3M28 85.5h1M24 86.5h5M38 206.5h4M43 206.5h2M35 207.5h1M37 207.5h1M40 207.5h1M44 207.5h1M34 208.5h2M45 208.5h1M33 209.5h2M33 210.5h2M33 211.5h1M33 212.5h1M46 212.5h1M32 213.5h2M33 214.5h1M46 214.5h1M33 215.5h1M46 215.5h1M46 216.5h1M46 217.5h1M33 218.5h1M46 218.5h1M33 219.5h1M33 220.5h1M33 221.5h1M35 221.5h1M34 222.5h1M36 222.5h1M45 222.5h1M36 223.5h1M38 223.5h2M41 223.5h4M37 224.5h1M39 224.5h3M43 224.5h1"/><path stroke="#81cc59" d="M0 28.5h1M0 29.5h1M4 31.5h1M5 32.5h2M6 33.5h2M8 34.5h1M10 35.5h3M11 36.5h2M13 37.5h3M15 38.5h2M16 39.5h1M18 39.5h1M19 40.5h1M20 41.5h1M21 42.5h2M22 43.5h1M23 44.5h1M24 46.5h1M50 46.5h1M25 47.5h1M49 47.5h2M26 48.5h1M49 48.5h1M26 49.5h1M49 49.5h1M26 50.5h1M48 54.5h1M28 55.5h1M48 55.5h1M48 56.5h1M48 57.5h1M48 58.5h1M29 59.5h1M48 59.5h1M48 60.5h1M48 61.5h1M48 62.5h1M30 63.5h1M48 63.5h1M30 64.5h1M30 65.5h1M30 66.5h1M30 67.5h1M30 68.5h1M30 71.5h1M49 71.5h1M0 74.5h1M0 75.5h4M2 76.5h4M8 77.5h1M30 77.5h1M11 78.5h1M30 78.5h1M13 79.5h1M14 80.5h3M17 81.5h3M20 82.5h2M22 83.5h1M28 83.5h2M23 84.5h2M27 84.5h2M26 85.5h2M38 207.5h2M41 207.5h3M36 208.5h9M35 209.5h3M45 209.5h1M35 210.5h1M45 210.5h1M34 211.5h2M45 211.5h1M34 212.5h2M34 213.5h1M33 216.5h1M33 217.5h2M34 218.5h1M45 218.5h1M34 219.5h2M45 219.5h1M34 220.5h3M45 220.5h1M34 221.5h1M36 221.5h1M45 221.5h1M37 222.5h2M40 222.5h5M37 223.5h1M40 223.5h1M38 224.5h1"/><path stroke="#8fcb4e" d="M0 30.5h3M2 31.5h2M4 32.5h1M5 33.5h1M6 34.5h2M8 35.5h2M10 36.5h1M11 37.5h2M13 38.5h2M15 39.5h1M17 39.5h1M17 40.5h2M18 41.5h2M20 42.5h1M21 43.5h1M22 44.5h1M23 45.5h1M23 46.5h1M24 47.5h1M24 48.5h2M50 48.5h1M25 49.5h1M49 50.5h1M26 51.5h1M49 51.5h1M27 52.5h1M49 52.5h1M27 53.5h1M27 54.5h1M28 56.5h1M28 57.5h1M29 60.5h1M49 68.5h1M30 69.5h1M49 69.5h1M30 70.5h1M49 70.5h1M50 71.5h1M30 72.5h1M50 72.5h1M30 73.5h1M50 73.5h1M1 74.5h2M30 74.5h1M4 75.5h3M30 75.5h1M6 76.5h4M30 76.5h1M9 77.5h3M12 78.5h2M14 79.5h4M17 80.5h4M29 80.5h1M20 81.5h2M29 81.5h1M22 82.5h2M28 82.5h2M23 83.5h5M25 84.5h2M38 209.5h7M36 210.5h9M36 211.5h5M42 211.5h1M36 212.5h2M42 212.5h1M44 212.5h2M35 213.5h2M45 213.5h1M34 214.5h2M45 214.5h1M34 215.5h2M45 215.5h1M34 216.5h3M45 216.5h1M35 217.5h3M45 217.5h1M35 218.5h2M38 218.5h1M36 219.5h2M41 219.5h1M43 219.5h1M37 220.5h6M37 221.5h3M41 221.5h4M39 222.5h1"/><path stroke="#9dc943" d="M0 31.5h2M2 32.5h2M2 33.5h1M4 33.5h1M4 34.5h2M6 35.5h2M8 36.5h2M8 37.5h3M10 38.5h3M10 39.5h1M13 39.5h2M15 40.5h2M15 41.5h2M16 42.5h1M18 42.5h2M19 43.5h2M21 44.5h1M21 45.5h2M22 46.5h1M23 47.5h1M23 48.5h1M24 49.5h1M50 49.5h1M25 50.5h1M50 50.5h1M50 51.5h1M26 52.5h1M50 52.5h1M26 53.5h1M49 53.5h1M26 54.5h1M49 54.5h1M27 55.5h1M49 55.5h1M27 56.5h1M49 56.5h1M27 57.5h1M28 58.5h1M29 61.5h1M29 62.5h1M49 62.5h1M29 63.5h1M29 64.5h1M49 65.5h1M49 66.5h1M49 67.5h1M50 68.5h1M50 69.5h1M50 70.5h1M0 72.5h1M0 73.5h4M3 74.5h4M7 75.5h3M10 76.5h4M12 77.5h4M14 78.5h4M29 78.5h1M18 79.5h3M29 79.5h1M21 80.5h1M28 80.5h1M22 81.5h1M26 81.5h3M24 82.5h1M26 82.5h2M41 211.5h1M43 211.5h2M38 212.5h4M43 212.5h1M37 213.5h8M36 214.5h9M36 215.5h5M42 215.5h1M37 216.5h8M38 217.5h2M41 217.5h4M37 218.5h1M39 218.5h6M38 219.5h3M42 219.5h1M44 219.5h1M43 220.5h2M40 221.5h1"/><path stroke="#abc739" d="M0 32.5h2M0 33.5h2M3 33.5h1M1 34.5h3M2 35.5h1M4 35.5h2M5 36.5h3M7 37.5h1M9 38.5h1M9 39.5h1M11 39.5h2M11 40.5h4M14 41.5h1M17 41.5h1M17 42.5h1M17 43.5h2M19 44.5h2M19 45.5h2M21 46.5h1M22 47.5h1M23 49.5h1M24 50.5h1M24 51.5h2M25 52.5h1M25 53.5h1M50 53.5h1M50 54.5h1M26 55.5h1M50 55.5h1M50 56.5h1M49 57.5h1M27 58.5h1M49 58.5h1M27 59.5h2M49 59.5h1M28 60.5h1M49 60.5h1M28 61.5h1M49 61.5h1M49 63.5h2M49 64.5h2M29 65.5h1M29 66.5h1M29 67.5h1M50 67.5h1M29 69.5h1M0 71.5h2M29 71.5h1M1 72.5h3M5 72.5h1M4 73.5h4M29 73.5h1M7 74.5h3M29 74.5h1M10 75.5h2M29 75.5h1M14 76.5h1M29 76.5h1M16 77.5h2M29 77.5h1M18 78.5h3M28 78.5h1M21 79.5h1M28 79.5h1M22 80.5h1M24 80.5h4M23 81.5h3M25 82.5h1M41 215.5h1M43 215.5h2M40 217.5h1"/><path stroke="#b9c431" d="M0 34.5h1M0 35.5h2M3 35.5h1M2 36.5h3M4 37.5h3M5 38.5h4M7 39.5h2M8 40.5h3M11 41.5h3M12 42.5h4M14 43.5h3M16 44.5h3M17 45.5h2M19 46.5h2M19 47.5h1M21 47.5h1M21 48.5h2M22 49.5h1M22 50.5h2M23 51.5h1M24 52.5h1M25 54.5h1M26 56.5h1M50 57.5h1M26 58.5h1M50 58.5h1M50 59.5h1M27 60.5h1M50 60.5h1M27 61.5h1M50 61.5h1M28 62.5h1M50 62.5h1M28 63.5h1M28 65.5h1M50 65.5h1M28 66.5h1M50 66.5h1M28 68.5h2M28 69.5h1M0 70.5h2M29 70.5h1M2 71.5h3M28 71.5h1M4 72.5h1M6 72.5h2M28 72.5h2M8 73.5h2M28 73.5h1M10 74.5h2M12 75.5h4M28 75.5h1M15 76.5h2M18 76.5h1M28 76.5h1M18 77.5h3M22 77.5h1M27 77.5h2M21 78.5h2M27 78.5h1M22 79.5h6M23 80.5h1"/><path stroke="#c5c22a" d="M0 36.5h2M0 37.5h4M2 38.5h3M4 39.5h3M5 40.5h3M8 41.5h3M10 42.5h2M10 43.5h1M12 43.5h2M13 44.5h3M14 45.5h3M16 46.5h3M18 47.5h1M20 47.5h1M19 48.5h2M20 49.5h2M21 50.5h1M22 51.5h1M23 52.5h1M23 53.5h2M24 54.5h1M25 55.5h1M25 56.5h1M26 57.5h1M26 59.5h1M26 60.5h1M27 62.5h1M28 64.5h1M27 65.5h1M28 67.5h1M0 69.5h4M2 70.5h2M5 70.5h2M28 70.5h1M5 71.5h4M8 72.5h3M10 73.5h4M27 73.5h1M12 74.5h4M27 74.5h2M16 75.5h6M27 75.5h1M17 76.5h1M19 76.5h3M26 76.5h2M21 77.5h1M23 77.5h1M25 77.5h2M23 78.5h4"/><path stroke="#d1bf27" d="M0 38.5h2M0 39.5h4M1 40.5h1M3 40.5h2M5 41.5h3M5 42.5h5M8 43.5h2M11 43.5h1M9 44.5h4M11 45.5h3M12 46.5h4M15 47.5h3M17 48.5h2M18 49.5h2M19 50.5h2M20 51.5h2M21 52.5h2M22 53.5h1M22 54.5h2M23 55.5h2M24 56.5h1M25 57.5h1M25 58.5h1M25 60.5h1M26 61.5h1M26 62.5h1M26 63.5h2M26 64.5h2M0 66.5h1M26 66.5h2M0 67.5h2M27 67.5h1M0 68.5h4M27 68.5h1M4 69.5h4M27 69.5h1M4 70.5h1M7 70.5h3M26 70.5h2M9 71.5h4M27 71.5h1M11 72.5h4M26 72.5h2M14 73.5h3M26 73.5h1M16 74.5h5M26 74.5h1M22 75.5h2M25 75.5h2M22 76.5h4M24 77.5h1"/><path stroke="#dcbd29" d="M0 40.5h1M2 40.5h1M1 41.5h4M2 42.5h3M5 43.5h3M5 44.5h4M7 45.5h4M8 46.5h4M12 47.5h3M14 48.5h3M15 49.5h3M17 50.5h2M18 51.5h2M20 52.5h1M20 53.5h2M22 55.5h1M23 56.5h1M23 57.5h2M24 58.5h1M24 59.5h2M24 60.5h1M25 61.5h1M25 63.5h1M0 65.5h2M26 65.5h1M1 66.5h3M2 67.5h5M26 67.5h1M4 68.5h6M26 68.5h1M8 69.5h2M11 69.5h1M26 69.5h1M10 70.5h4M24 70.5h1M13 71.5h5M26 71.5h1M15 72.5h3M19 72.5h3M24 72.5h1M17 73.5h6M25 73.5h1M21 74.5h3M25 74.5h1M24 75.5h1"/><path stroke="#e6bb2d" d="M0 41.5h1M0 42.5h2M2 43.5h3M3 44.5h2M4 45.5h3M6 46.5h2M9 47.5h3M11 48.5h3M9 49.5h1M13 49.5h2M15 50.5h2M13 51.5h1M16 51.5h2M17 52.5h1M19 52.5h1M17 53.5h3M19 54.5h3M20 55.5h2M21 56.5h2M22 57.5h1M23 58.5h1M23 59.5h1M23 61.5h2M24 62.5h2M0 63.5h1M24 63.5h1M0 64.5h3M23 64.5h3M2 65.5h4M25 65.5h1M4 66.5h5M25 66.5h1M7 67.5h6M24 67.5h2M10 68.5h3M24 68.5h2M10 69.5h1M12 69.5h5M24 69.5h2M14 70.5h6M23 70.5h1M25 70.5h1M18 71.5h8M18 72.5h1M22 72.5h2M25 72.5h1M23 73.5h2M24 74.5h1"/><path stroke="#f0ba36" d="M0 43.5h2M0 44.5h3M0 45.5h1M2 45.5h2M0 46.5h2M3 46.5h3M2 47.5h1M5 47.5h4M5 48.5h6M7 49.5h1M10 49.5h3M9 50.5h6M12 51.5h1M14 51.5h2M10 52.5h1M14 52.5h3M18 52.5h1M14 53.5h3M16 54.5h3M18 55.5h2M18 56.5h3M19 57.5h3M20 58.5h3M19 59.5h4M21 60.5h3M0 61.5h3M5 61.5h1M21 61.5h2M0 62.5h7M20 62.5h1M22 62.5h2M1 63.5h9M22 63.5h2M3 64.5h8M19 64.5h1M21 64.5h1M6 65.5h5M19 65.5h6M9 66.5h6M19 66.5h1M23 66.5h2M13 67.5h5M19 67.5h5M13 68.5h11M17 69.5h7M20 70.5h3"/><path stroke="#f8ba3d" d="M1 45.5h1M2 46.5h1M0 47.5h2M3 47.5h2M0 48.5h5M1 49.5h6M8 49.5h1M1 50.5h8M0 51.5h12M2 52.5h8M11 52.5h3M2 53.5h1M5 53.5h9M4 54.5h1M7 54.5h3M11 54.5h5M0 55.5h2M3 55.5h1M6 55.5h2M9 55.5h2M12 55.5h6M0 56.5h3M9 56.5h9M0 57.5h2M4 57.5h3M9 57.5h1M12 57.5h1M15 57.5h4M0 58.5h5M6 58.5h2M12 58.5h1M16 58.5h4M0 59.5h12M14 59.5h5M0 60.5h16M17 60.5h4M3 61.5h2M6 61.5h4M11 61.5h1M13 61.5h1M16 61.5h1M18 61.5h3M7 62.5h8M16 62.5h4M21 62.5h1M10 63.5h12M11 64.5h4M16 64.5h3M20 64.5h1M22 64.5h1M11 65.5h8M15 66.5h4M20 66.5h3M18 67.5h1"/><path stroke="#febe3c" d="M0 49.5h1M0 50.5h1M0 52.5h2M0 53.5h2M3 53.5h2M0 54.5h4M5 54.5h2M10 54.5h1M2 55.5h1M4 55.5h2M8 55.5h1M11 55.5h1M3 56.5h6M2 57.5h2M7 57.5h2M10 57.5h2M13 57.5h2M5 58.5h1M8 58.5h4M13 58.5h3M12 59.5h2M16 60.5h1M10 61.5h1M12 61.5h1M14 61.5h2M17 61.5h1M15 62.5h1M15 64.5h1"/></svg><text x="1053.0" y="544.0" font-size="32.50" fill="#262626" text-anchor="middle">-0.4</text><text x="1164.5" y="544.0" font-size="32.50" fill="#262626" text-anchor="middle">-0.2</text><text x="1276.0" y="544.0" font-size="32.50" fill="#262626" text-anchor="middle">0</text><text x="1387.5" y="544.0" font-size="32.50" fill="#262626" text-anchor="middle">0.2</text><text x="1499.0" y="544.0" font-size="32.50" fill="#262626" text-anchor="middle">0.4</text><text x="986.5" y="512.8" font-size="32.50" fill="#262626" text-anchor="end">750</text><text x="986.5" y="420.2" font-size="32.50" fill="#262626" text-anchor="end">755</text><text x="986.5" y="327.6" font-size="32.50" fill="#262626" text-anchor="end">760</text><text x="986.5" y="235.0" font-size="32.50" fill="#262626" text-anchor="end">765</text><text x="986.5" y="142.4" font-size="32.50" fill="#262626" text-anchor="end">770</text><text x="986.5" y="49.8" font-size="32.50" fill="#262626" text-anchor="end">775</text><rect x="997.10" y="17.40" width="557.60" height="482.00" fill="none" stroke="#000" stroke-width="2.7"/><text transform="translate(1276.3 583.8) scale(0.987 1)" font-size="36.50" fill="#000" text-anchor="middle">Bottom gate (V)</text><text transform="translate(918.2 254.2) rotate(-90) scale(1.000 1)" font-size="36.50" fill="#000" text-anchor="middle">Wavelength (nm)</text><rect x="1573.3" y="18.0" width="41.0" height="481.1" fill="url(#pg)" stroke="#333" stroke-width="0.9"/><text transform="translate(1624.1 511.5) scale(0.935 1)" font-size="31.50" fill="#262626" text-anchor="start">0.5</text><text transform="translate(1624.1 442.8) scale(0.935 1)" font-size="31.50" fill="#262626" text-anchor="start">1</text><path d="M1614.3 430.6h-4.5" stroke="#262626" stroke-width="0.9"/><text transform="translate(1624.1 374.1) scale(0.935 1)" font-size="31.50" fill="#262626" text-anchor="start">1.5</text><path d="M1614.3 361.9h-4.5" stroke="#262626" stroke-width="0.9"/><text transform="translate(1624.1 305.4) scale(0.935 1)" font-size="31.50" fill="#262626" text-anchor="start">2</text><path d="M1614.3 293.2h-4.5" stroke="#262626" stroke-width="0.9"/><text transform="translate(1624.1 236.6) scale(0.935 1)" font-size="31.50" fill="#262626" text-anchor="start">2.5</text><path d="M1614.3 224.4h-4.5" stroke="#262626" stroke-width="0.9"/><text transform="translate(1624.1 167.9) scale(0.935 1)" font-size="31.50" fill="#262626" text-anchor="start">3</text><path d="M1614.3 155.7h-4.5" stroke="#262626" stroke-width="0.9"/><text transform="translate(1624.1 99.2) scale(0.935 1)" font-size="31.50" fill="#262626" text-anchor="start">3.5</text><path d="M1614.3 87.0h-4.5" stroke="#262626" stroke-width="0.9"/><text transform="translate(1624.1 30.5) scale(0.935 1)" font-size="31.50" fill="#262626" text-anchor="start">4</text><text transform="translate(1694.8 253.4) rotate(90) scale(0.987 1)" font-size="36.50" fill="#000" text-anchor="middle">Log(intensity)</text><path d="M1337.6 106.1V472.0" stroke="#fff" stroke-width="3.3" stroke-dasharray="12 8.83" fill="none"/><path d="M1335.4 125.3L998.1 97.0" stroke="#fff" stroke-width="2.7" stroke-dasharray="6.3 5.47" fill="none"/><path d="M1275.2 341.3H1399.0" stroke="#fff" stroke-width="2.7" stroke-dasharray="5.9 6" fill="none"/><text x="1011.5" y="65.0" font-size="47.20" fill="#ececec" text-anchor="start" font-weight="bold">b</text><text transform="translate(1073.0 55.8) scale(0.995 1)" font-size="36.50" fill="#fff" text-anchor="start">PL (5µW center, 50µW edge)</text><text transform="translate(1050.3 179.7) scale(0.980 1)" font-size="43.80" fill="#fff">X<tspan x="31.33" dy="-15.3" font-size="36">+</tspan></text><text transform="translate(1494.8 190.4) scale(0.980 1)" font-size="43.80" fill="#fff">X<tspan x="33.67" dy="-16.1" font-size="41">-</tspan></text><text transform="translate(1410.6 419.3) scale(0.980 1)" font-size="43.80" fill="#fff" text-anchor="start">X</text><svg x="105.40" y="618.00" width="557.60" height="482.00" viewBox="0 0 20 241" preserveAspectRatio="none" shape-rendering="crispEdges" fill="none" stroke-width="1"><rect width="20" height="241" fill="#3e26a8"/><path stroke="#402ab4" d="M6 .5h2M6 1.5h2M6 2.5h2M1 3.5h1M6 3.5h2M6 4.5h2M4 5.5h1M6 5.5h2M6 6.5h2M2 7.5h1M7 7.5h1M0 8.5h1M3 8.5h1M6 8.5h2M6 9.5h2M3 10.5h1M6 10.5h1M6 11.5h2M6 12.5h2M4 13.5h1M6 13.5h2M4 14.5h3M4 15.5h1M6 15.5h2M6 16.5h2M6 17.5h2M5 18.5h3M6 19.5h2M0 20.5h1M6 20.5h2M6 21.5h1M6 22.5h1M6 23.5h1M6 24.5h1M5 25.5h2M2 26.5h1M6 26.5h1M6 27.5h1M5 28.5h2M1 29.5h1M6 29.5h1M2 30.5h1M6 30.5h1M6 31.5h1M6 32.5h1M2 33.5h1M6 33.5h1M5 34.5h2M2 35.5h1M6 35.5h1M1 36.5h1M3 36.5h4M0 37.5h1M6 37.5h1M3 38.5h1M6 38.5h1M6 39.5h1M3 40.5h1M6 40.5h1M6 41.5h1M3 42.5h1M6 42.5h1M6 43.5h1M6 44.5h1M1 45.5h1M4 45.5h1M6 45.5h1M2 46.5h1M5 46.5h2M1 47.5h1M4 47.5h1M6 47.5h1M6 48.5h1M5 49.5h2M6 50.5h1M6 51.5h1M6 52.5h1M6 53.5h1M4 54.5h1M6 55.5h1M6 56.5h1M3 57.5h2M6 57.5h1M6 58.5h1M5 60.5h2M3 61.5h1M5 61.5h2M6 62.5h1M3 63.5h4M4 64.5h3M4 65.5h3M2 66.5h1M5 66.5h2M5 67.5h2M5 68.5h1M4 69.5h3M5 70.5h2M5 71.5h2M5 72.5h2M4 73.5h3M5 74.5h2M2 75.5h1M5 75.5h2M5 76.5h2M5 77.5h2M4 78.5h3M0 79.5h1M2 79.5h1M5 79.5h2M4 80.5h3M5 81.5h2M5 82.5h2M5 83.5h1M2 84.5h2M5 84.5h2M2 85.5h1M5 85.5h2M5 86.5h2M0 87.5h1M5 87.5h2M5 88.5h2M5 89.5h2M2 90.5h2M5 90.5h2M3 91.5h1M5 91.5h2M3 92.5h1M5 92.5h2M1 93.5h1M4 93.5h3M1 94.5h2M5 94.5h2M4 95.5h3M4 96.5h3M3 97.5h1M5 97.5h2M5 98.5h2M5 99.5h2M5 100.5h2M5 101.5h2M5 102.5h2M5 103.5h2M5 104.5h2M5 105.5h2M5 106.5h2M3 107.5h1M5 107.5h1M0 108.5h1M5 108.5h2M5 109.5h2M5 110.5h2M1 111.5h1M4 111.5h3M4 112.5h3M5 113.5h2M4 114.5h3M5 115.5h2M3 116.5h1M5 116.5h2M5 117.5h2M2 118.5h1M5 118.5h2M0 119.5h1M5 119.5h2M5 120.5h2M4 121.5h2M3 122.5h1M5 122.5h2M5 123.5h2M1 124.5h1M5 124.5h2M5 125.5h2M5 126.5h2M3 127.5h4M0 128.5h1M2 128.5h3M6 128.5h1M5 129.5h2M5 130.5h2M2 131.5h1M5 131.5h2M4 132.5h2M5 133.5h2M3 134.5h1M5 134.5h2M0 135.5h1M2 135.5h1M5 135.5h2M5 136.5h2M5 137.5h2M5 138.5h2M1 139.5h1M5 139.5h2M2 140.5h2M5 140.5h2M5 141.5h2M1 142.5h1M5 142.5h2M4 143.5h3M2 144.5h1M4 144.5h3M5 145.5h2M5 146.5h2M2 147.5h1M5 147.5h1M4 148.5h3M5 149.5h1M5 150.5h2M5 151.5h2M2 152.5h1M5 152.5h2M4 153.5h3M1 154.5h1M5 154.5h2M2 155.5h1M5 155.5h1M5 156.5h2M5 157.5h2M0 158.5h1M2 158.5h2M5 158.5h2M0 159.5h1M5 159.5h2M0 160.5h1M3 160.5h4M4 161.5h3M4 162.5h3M4 163.5h1M6 163.5h1M6 164.5h1M3 165.5h1M6 165.5h1M6 166.5h1M6 167.5h1M5 168.5h2M1 169.5h1M4 169.5h1M6 169.5h1M6 170.5h1M6 171.5h1M2 172.5h1M6 172.5h1M6 173.5h1M6 174.5h1M6 175.5h1M6 176.5h1M2 177.5h1M5 177.5h2M0 178.5h1M6 178.5h1M1 179.5h1M6 179.5h1M2 180.5h1M6 180.5h1M6 181.5h1M2 183.5h1M4 183.5h1M6 183.5h1M4 184.5h3M6 185.5h1M0 186.5h1M2 186.5h1M5 186.5h3M2 187.5h1M6 187.5h2M6 188.5h1M2 189.5h1M6 189.5h2M5 190.5h3M5 191.5h3M0 192.5h1M6 192.5h2M1 193.5h1M6 193.5h2M4 194.5h1M6 194.5h2M6 195.5h1M6 196.5h1M6 197.5h2M6 198.5h2M1 199.5h1M5 199.5h4M6 200.5h2M0 201.5h1M6 201.5h2M6 202.5h2M2 203.5h1M4 203.5h5M2 204.5h1M5 204.5h3M7 205.5h1M6 206.5h2M7 207.5h1M6 208.5h2M7 209.5h1M5 210.5h1M7 210.5h1M7 211.5h2M3 212.5h1M7 212.5h1M7 213.5h1M4 214.5h1M7 214.5h1M4 215.5h1M7 215.5h1M1 216.5h1M6 216.5h2M6 217.5h2M3 218.5h1M6 218.5h3M3 219.5h2M7 219.5h1M3 220.5h1M7 220.5h1M8 221.5h1M6 222.5h3M1 223.5h2M8 223.5h1M7 224.5h2M1 225.5h1M6 225.5h3M4 226.5h1M7 226.5h2M7 227.5h1M6 228.5h2M7 229.5h3M7 230.5h1M10 230.5h1M6 231.5h3M0 232.5h1M4 232.5h1M7 232.5h2M10 232.5h1M3 233.5h1M7 233.5h1M1 234.5h1M3 234.5h1M6 234.5h2M9 234.5h1M7 235.5h2M3 236.5h1M7 236.5h2M7 237.5h2M4 238.5h1M7 238.5h1M9 238.5h1M6 239.5h5M6 240.5h4"/><path stroke="#422ec0" d="M8 3.5h1M8 6.5h1M6 7.5h1M8 7.5h1M8 8.5h1M8 9.5h1M7 10.5h2M4 11.5h1M8 11.5h1M7 14.5h1M8 17.5h1M7 21.5h1M7 22.5h2M7 23.5h2M7 24.5h1M7 25.5h1M7 26.5h1M7 27.5h1M7 28.5h2M7 29.5h1M7 30.5h1M7 31.5h1M7 32.5h1M7 33.5h1M7 34.5h1M7 35.5h1M7 36.5h1M7 37.5h1M7 38.5h1M7 39.5h1M5 41.5h1M7 41.5h1M7 42.5h1M4 43.5h1M7 43.5h1M7 45.5h1M7 46.5h1M7 47.5h1M7 48.5h1M7 49.5h1M7 50.5h1M7 52.5h1M7 53.5h1M6 54.5h2M7 55.5h1M7 56.5h1M7 57.5h1M7 58.5h1M6 59.5h2M7 60.5h1M7 61.5h1M7 62.5h1M7 63.5h1M7 64.5h1M7 65.5h1M7 67.5h1M6 68.5h2M7 69.5h1M7 70.5h1M7 71.5h1M7 72.5h1M7 73.5h1M7 74.5h1M7 75.5h1M7 76.5h1M7 77.5h1M7 78.5h1M7 79.5h1M7 80.5h1M7 81.5h1M7 82.5h1M6 83.5h2M7 84.5h1M7 85.5h1M7 86.5h1M7 87.5h1M7 88.5h1M7 89.5h1M7 91.5h1M7 92.5h1M7 93.5h1M7 94.5h1M7 95.5h1M7 96.5h1M7 97.5h1M7 98.5h1M7 99.5h1M7 100.5h1M7 101.5h1M7 102.5h1M7 103.5h1M7 104.5h1M7 105.5h1M6 107.5h2M7 108.5h1M7 109.5h1M7 110.5h1M7 111.5h1M7 112.5h1M7 113.5h1M7 114.5h1M7 116.5h1M7 117.5h1M7 118.5h1M7 119.5h1M7 120.5h1M7 121.5h1M7 122.5h1M7 123.5h1M7 124.5h1M7 125.5h1M7 126.5h1M2 127.5h1M7 127.5h1M5 128.5h1M7 128.5h1M3 129.5h1M7 130.5h1M7 131.5h1M6 132.5h2M7 133.5h1M7 134.5h1M7 135.5h1M7 137.5h1M7 138.5h1M7 139.5h1M7 140.5h1M7 141.5h1M7 142.5h1M7 143.5h1M7 144.5h1M7 145.5h1M6 147.5h2M7 148.5h1M3 149.5h1M6 149.5h2M1 150.5h1M7 150.5h1M7 151.5h1M7 152.5h1M7 153.5h1M7 154.5h1M6 155.5h2M7 156.5h1M7 157.5h1M7 158.5h1M7 159.5h1M7 160.5h1M7 161.5h1M7 162.5h1M7 163.5h1M7 165.5h1M7 166.5h1M7 167.5h1M7 168.5h1M7 169.5h1M7 170.5h1M7 172.5h1M7 173.5h1M7 174.5h1M7 175.5h1M2 176.5h1M7 176.5h1M7 177.5h1M7 178.5h1M7 180.5h1M4 181.5h1M7 181.5h1M6 182.5h2M7 183.5h1M7 184.5h1M7 185.5h1M7 188.5h1M1 189.5h1M8 192.5h1M8 193.5h1M8 194.5h1M7 195.5h1M7 196.5h1M8 197.5h1M8 200.5h1M8 202.5h1M8 204.5h2M8 205.5h1M9 206.5h1M8 207.5h1M8 208.5h1M8 209.5h2M8 210.5h2M8 212.5h1M8 213.5h2M8 214.5h1M8 215.5h1M8 216.5h2M8 217.5h2M8 219.5h3M8 220.5h1M7 221.5h1M9 221.5h1M9 222.5h1M7 223.5h1M9 223.5h1M9 224.5h1M9 225.5h1M11 225.5h1M9 226.5h2M8 227.5h3M3 228.5h1M8 228.5h4M10 229.5h1M9 230.5h1M11 230.5h1M9 231.5h2M9 232.5h1M8 233.5h3M8 234.5h1M9 235.5h2M9 236.5h2M9 237.5h2M8 238.5h1M10 238.5h1M10 240.5h2"/><path stroke="#4332cb" d="M8 .5h1M8 1.5h1M8 2.5h2M9 3.5h1M8 5.5h1M9 6.5h1M9 10.5h1M8 12.5h1M8 13.5h1M8 14.5h2M8 15.5h1M8 16.5h1M9 17.5h1M8 18.5h1M8 19.5h2M8 20.5h1M8 25.5h1M8 27.5h1M8 30.5h1M8 33.5h1M8 34.5h1M8 36.5h1M8 37.5h1M8 39.5h1M7 40.5h2M8 41.5h1M8 43.5h1M7 44.5h2M8 46.5h1M8 49.5h1M7 51.5h1M8 52.5h1M8 55.5h1M8 60.5h1M8 63.5h1M8 73.5h1M8 81.5h1M8 82.5h1M7 90.5h1M8 94.5h1M8 95.5h1M8 104.5h1M7 106.5h2M8 107.5h1M8 110.5h1M8 112.5h1M7 115.5h1M8 120.5h1M6 121.5h1M7 129.5h1M7 136.5h1M8 138.5h1M7 146.5h1M8 149.5h1M8 153.5h1M7 164.5h1M8 166.5h1M8 168.5h1M7 171.5h2M8 172.5h1M8 174.5h1M8 175.5h1M8 177.5h1M7 179.5h1M8 182.5h1M8 184.5h1M8 185.5h1M8 186.5h1M8 187.5h2M8 188.5h1M8 189.5h2M8 190.5h1M8 191.5h2M9 194.5h1M8 195.5h1M8 196.5h2M8 198.5h3M9 199.5h1M9 200.5h1M8 201.5h2M9 203.5h1M9 205.5h1M8 206.5h1M9 207.5h1M9 208.5h2M10 209.5h1M9 211.5h2M9 212.5h1M9 214.5h3M9 215.5h1M10 216.5h2M10 217.5h2M9 218.5h2M9 220.5h3M10 221.5h1M11 222.5h1M10 223.5h2M10 224.5h1M10 225.5h1M11 226.5h1M11 227.5h1M11 231.5h1M11 232.5h1M11 233.5h1M10 234.5h2M11 236.5h1M19 236.5h1M11 237.5h2M11 238.5h1M11 239.5h1"/><path stroke="#4537d5" d="M9 .5h1M9 1.5h2M8 4.5h2M9 5.5h1M9 7.5h1M9 8.5h1M9 9.5h1M9 11.5h1M9 12.5h1M9 13.5h1M9 16.5h1M9 18.5h1M9 20.5h1M8 21.5h2M9 23.5h1M8 24.5h2M8 26.5h2M9 27.5h1M8 29.5h1M8 31.5h1M8 32.5h2M9 33.5h1M9 34.5h1M8 35.5h2M9 37.5h1M8 38.5h2M8 42.5h2M9 43.5h1M9 44.5h1M8 45.5h2M9 46.5h1M8 47.5h1M8 48.5h1M8 50.5h2M8 51.5h1M8 53.5h1M8 54.5h1M8 56.5h1M8 57.5h1M8 58.5h1M8 59.5h1M8 61.5h1M8 62.5h1M9 63.5h1M8 64.5h1M8 65.5h1M7 66.5h3M8 67.5h1M8 69.5h1M8 70.5h1M8 71.5h1M8 72.5h1M8 74.5h1M8 75.5h1M8 76.5h2M9 77.5h1M8 79.5h1M8 80.5h1M8 83.5h2M8 84.5h1M8 87.5h2M8 88.5h1M8 89.5h1M8 90.5h1M8 91.5h1M8 92.5h1M8 96.5h1M8 97.5h1M8 98.5h1M8 99.5h1M8 100.5h1M8 101.5h1M8 102.5h2M8 103.5h1M8 105.5h1M8 108.5h1M8 109.5h1M8 113.5h1M8 114.5h1M8 116.5h1M8 117.5h1M8 118.5h1M8 119.5h1M8 121.5h1M8 122.5h1M8 123.5h1M8 124.5h1M8 126.5h1M8 127.5h1M8 128.5h1M8 129.5h1M8 130.5h1M8 131.5h1M8 132.5h1M8 133.5h1M8 134.5h1M8 135.5h1M8 136.5h1M8 140.5h1M8 141.5h1M8 142.5h1M8 143.5h1M8 144.5h1M8 145.5h1M8 146.5h1M8 148.5h1M8 150.5h1M8 151.5h1M8 152.5h1M8 154.5h1M8 155.5h2M8 156.5h1M8 157.5h1M8 159.5h1M8 161.5h1M8 162.5h1M8 163.5h2M8 164.5h1M8 165.5h1M8 167.5h2M9 168.5h1M8 169.5h1M8 170.5h1M8 173.5h1M8 176.5h2M8 178.5h2M8 179.5h1M8 180.5h1M8 181.5h1M9 182.5h1M8 183.5h2M9 184.5h1M9 185.5h1M9 190.5h1M9 192.5h2M9 193.5h1M9 195.5h1M9 197.5h1M11 198.5h1M10 200.5h1M10 201.5h1M9 202.5h2M10 203.5h1M10 204.5h1M11 206.5h1M10 207.5h2M11 208.5h1M11 209.5h1M10 210.5h2M11 211.5h1M10 212.5h2M10 213.5h2M10 215.5h2M11 218.5h1M11 219.5h1M19 219.5h1M11 221.5h1M10 222.5h1M11 224.5h1M12 225.5h1M12 226.5h1M12 228.5h1M11 229.5h1M12 230.5h1M19 231.5h1M12 233.5h1M11 235.5h1M19 235.5h1M19 237.5h1M12 239.5h1M12 240.5h1M19 240.5h1"/><path stroke="#463cde" d="M10 .5h1M11 1.5h1M10 2.5h2M10 3.5h1M10 4.5h1M10 6.5h2M10 7.5h1M11 8.5h1M10 9.5h2M10 11.5h1M10 12.5h2M10 13.5h2M10 14.5h1M9 15.5h2M10 16.5h2M10 17.5h1M11 18.5h1M10 19.5h1M10 20.5h1M10 21.5h1M9 22.5h2M10 23.5h1M9 25.5h2M10 26.5h1M9 28.5h1M9 29.5h1M9 30.5h2M9 31.5h1M10 33.5h1M9 36.5h1M9 39.5h1M9 40.5h1M9 41.5h1M9 47.5h1M9 48.5h1M9 49.5h1M9 51.5h1M9 53.5h1M9 54.5h1M9 56.5h1M9 57.5h1M9 58.5h1M9 59.5h1M9 60.5h1M9 62.5h1M9 64.5h1M9 67.5h1M8 68.5h1M9 69.5h1M9 71.5h1M9 72.5h1M9 73.5h1M9 74.5h1M9 75.5h1M8 77.5h1M8 78.5h2M9 79.5h1M9 80.5h1M9 81.5h1M9 82.5h1M9 84.5h1M8 85.5h2M8 86.5h2M9 88.5h1M9 89.5h1M9 90.5h1M9 91.5h1M9 92.5h1M8 93.5h2M9 94.5h1M9 97.5h1M9 98.5h1M9 100.5h1M9 103.5h1M9 105.5h1M9 108.5h1M9 110.5h1M8 111.5h2M9 113.5h1M8 115.5h2M9 117.5h1M9 118.5h1M9 119.5h1M9 120.5h1M9 121.5h1M9 122.5h1M9 123.5h1M9 124.5h1M8 125.5h2M9 126.5h1M9 127.5h1M9 129.5h1M9 136.5h1M8 137.5h1M8 139.5h2M9 141.5h1M9 144.5h1M9 145.5h1M9 146.5h1M8 147.5h2M9 152.5h1M9 156.5h1M9 157.5h1M8 158.5h2M8 160.5h1M9 161.5h1M9 162.5h1M9 164.5h1M9 165.5h1M9 166.5h1M9 169.5h1M9 170.5h1M9 171.5h1M9 172.5h1M9 173.5h1M9 174.5h1M9 175.5h1M9 177.5h1M10 178.5h1M9 179.5h1M9 180.5h1M9 181.5h2M11 184.5h1M10 185.5h1M9 186.5h2M10 187.5h1M9 188.5h1M10 189.5h1M10 190.5h1M10 193.5h1M10 194.5h1M10 195.5h1M10 196.5h1M10 197.5h1M10 199.5h1M11 200.5h1M11 201.5h1M11 202.5h1M11 203.5h1M11 204.5h1M10 205.5h2M10 206.5h1M12 213.5h1M19 214.5h1M19 215.5h1M12 219.5h1M12 220.5h1M19 220.5h1M12 221.5h1M19 221.5h1M12 223.5h1M19 223.5h1M12 227.5h1M19 227.5h1M14 228.5h1M19 228.5h1M12 229.5h1M19 229.5h1M19 230.5h1M12 231.5h1M12 232.5h1M19 232.5h1M19 233.5h1M12 234.5h1M19 234.5h1M12 235.5h1M18 235.5h1M12 236.5h1M18 236.5h1M12 238.5h1M18 238.5h2M13 239.5h1M18 239.5h2"/><path stroke="#4741e5" d="M11 .5h1M11 3.5h1M11 4.5h1M10 5.5h2M11 7.5h1M10 8.5h1M10 10.5h2M11 11.5h1M11 14.5h1M11 15.5h1M10 18.5h1M11 19.5h1M11 20.5h1M11 22.5h1M10 24.5h2M11 25.5h1M10 27.5h2M10 28.5h2M10 29.5h1M11 30.5h1M10 32.5h1M10 34.5h1M10 35.5h1M10 36.5h1M10 37.5h1M10 40.5h2M10 43.5h1M10 47.5h1M10 48.5h1M9 52.5h1M9 55.5h1M10 58.5h1M10 59.5h1M9 61.5h1M9 65.5h1M9 68.5h1M9 70.5h1M10 77.5h1M10 78.5h1M10 83.5h1M10 85.5h1M9 95.5h1M9 96.5h1M9 99.5h1M9 101.5h1M9 104.5h2M9 106.5h1M9 107.5h1M9 109.5h1M9 114.5h1M9 116.5h1M10 120.5h1M9 128.5h1M9 130.5h1M9 131.5h1M9 132.5h1M9 133.5h1M9 134.5h1M9 135.5h1M9 137.5h1M9 138.5h1M9 140.5h1M9 143.5h1M9 148.5h1M9 149.5h1M9 150.5h1M9 151.5h1M9 153.5h1M9 154.5h1M9 159.5h1M9 160.5h1M10 161.5h1M10 165.5h1M10 171.5h1M10 173.5h1M10 174.5h1M10 179.5h1M10 183.5h2M10 184.5h1M11 185.5h1M11 187.5h1M10 188.5h2M11 189.5h1M11 190.5h1M10 191.5h2M11 192.5h1M11 194.5h1M11 195.5h1M11 196.5h1M11 197.5h1M11 199.5h1M12 209.5h1M12 210.5h1M19 210.5h1M19 211.5h1M12 212.5h1M19 212.5h1M12 214.5h1M12 215.5h1M19 216.5h1M12 217.5h1M19 217.5h1M12 218.5h1M19 218.5h1M12 222.5h1M19 222.5h1M12 224.5h1M17 224.5h1M19 224.5h1M19 225.5h1M15 226.5h1M14 227.5h1M17 227.5h1M17 228.5h1M18 229.5h1M14 231.5h1M18 231.5h1M13 232.5h1M15 232.5h1M18 232.5h1M15 233.5h2M13 234.5h1M16 234.5h3M13 235.5h1M17 235.5h1M13 236.5h2M17 237.5h2M13 238.5h2M16 238.5h1M15 239.5h3M13 240.5h4M18 240.5h1"/><path stroke="#4747eb" d="M11 17.5h1M11 21.5h1M11 23.5h1M11 26.5h1M11 29.5h1M10 31.5h2M11 34.5h1M11 35.5h1M11 36.5h1M11 37.5h1M10 38.5h1M10 39.5h2M10 41.5h1M11 42.5h1M10 44.5h1M10 45.5h2M10 46.5h1M11 48.5h1M11 49.5h1M10 50.5h1M10 51.5h1M10 55.5h1M10 56.5h1M10 60.5h1M10 64.5h1M10 65.5h1M11 67.5h1M10 68.5h1M10 70.5h2M10 72.5h1M10 73.5h2M10 74.5h1M10 75.5h1M10 76.5h1M11 79.5h1M10 80.5h2M10 82.5h2M10 84.5h1M11 85.5h1M10 86.5h1M10 87.5h1M10 88.5h1M10 89.5h2M10 90.5h1M10 91.5h1M10 92.5h1M11 93.5h1M10 96.5h1M10 97.5h1M10 102.5h1M10 103.5h1M10 107.5h1M10 108.5h1M10 109.5h1M10 110.5h1M9 112.5h2M10 114.5h1M10 115.5h1M10 122.5h1M10 133.5h1M10 134.5h1M9 142.5h1M10 144.5h1M10 149.5h1M10 157.5h1M10 162.5h1M10 163.5h1M10 164.5h1M10 166.5h1M10 168.5h1M10 169.5h1M10 170.5h1M10 172.5h1M11 174.5h1M10 175.5h1M10 176.5h1M10 177.5h2M11 179.5h1M10 180.5h1M11 181.5h1M10 182.5h1M11 193.5h1M12 198.5h1M12 205.5h1M12 208.5h1M19 209.5h1M12 211.5h1M19 213.5h1M15 215.5h1M12 216.5h1M18 217.5h1M17 221.5h1M13 222.5h1M18 222.5h1M13 223.5h1M18 223.5h1M18 224.5h1M13 225.5h1M18 225.5h1M16 226.5h1M18 226.5h2M18 227.5h1M16 228.5h1M18 228.5h1M14 229.5h2M13 230.5h1M15 230.5h2M18 230.5h1M13 231.5h1M15 231.5h1M17 231.5h1M14 232.5h1M16 232.5h2M13 233.5h2M17 233.5h2M14 234.5h2M14 235.5h3M15 236.5h3M13 237.5h3M15 238.5h1M17 238.5h1M14 239.5h1M17 240.5h1"/><path stroke="#484df0" d="M11 32.5h1M11 33.5h1M11 38.5h1M11 41.5h1M10 42.5h1M11 43.5h1M11 44.5h1M11 46.5h1M10 49.5h1M11 50.5h1M11 51.5h1M10 52.5h1M10 53.5h1M10 54.5h1M11 56.5h1M10 57.5h2M10 61.5h1M10 62.5h1M10 63.5h2M11 64.5h1M11 65.5h1M10 66.5h1M10 69.5h1M10 71.5h2M11 74.5h1M11 75.5h1M11 77.5h1M11 78.5h1M10 79.5h1M10 81.5h2M11 83.5h1M11 84.5h1M11 86.5h1M11 87.5h1M11 88.5h1M11 90.5h1M11 91.5h1M11 92.5h1M10 93.5h1M10 94.5h2M10 95.5h2M11 96.5h1M11 97.5h1M10 98.5h1M10 99.5h2M10 100.5h1M10 101.5h2M11 102.5h1M11 104.5h1M10 105.5h1M10 106.5h1M11 107.5h1M11 108.5h1M11 109.5h1M11 114.5h1M11 115.5h1M10 116.5h1M10 118.5h1M10 119.5h2M10 121.5h1M10 123.5h1M10 125.5h1M10 126.5h1M10 127.5h1M10 128.5h1M10 129.5h2M11 130.5h1M10 131.5h1M10 132.5h1M10 135.5h1M10 136.5h1M10 137.5h1M10 140.5h1M10 141.5h1M10 142.5h1M10 143.5h1M10 145.5h2M10 146.5h1M10 148.5h1M10 151.5h1M10 152.5h1M10 153.5h1M10 154.5h1M10 155.5h1M10 156.5h1M10 158.5h1M10 159.5h1M10 160.5h1M11 163.5h1M11 164.5h1M11 166.5h1M10 167.5h1M11 168.5h1M11 169.5h1M11 170.5h1M11 171.5h1M11 173.5h1M11 175.5h1M11 176.5h1M11 178.5h1M11 180.5h1M11 182.5h1M11 186.5h1M12 199.5h1M19 199.5h1M12 201.5h1M19 201.5h1M12 202.5h1M12 203.5h1M19 203.5h1M12 204.5h1M19 204.5h1M19 205.5h1M12 206.5h1M19 206.5h1M12 207.5h1M19 207.5h1M19 208.5h1M18 209.5h1M18 213.5h1M13 215.5h1M18 215.5h1M17 216.5h2M13 218.5h2M18 218.5h1M13 219.5h1M17 219.5h2M13 220.5h1M15 220.5h2M18 220.5h1M15 221.5h2M18 221.5h1M14 222.5h4M14 223.5h2M17 223.5h1M13 224.5h4M15 225.5h1M17 225.5h1M13 226.5h2M17 226.5h1M13 227.5h1M15 227.5h2M13 228.5h1M15 228.5h1M13 229.5h1M16 229.5h2M17 230.5h1M16 231.5h1M16 237.5h1"/><path stroke="#4852f4" d="M19 1.5h1M19 5.5h1M12 6.5h1M19 6.5h1M19 7.5h1M12 8.5h1M12 11.5h1M12 12.5h1M11 47.5h1M11 53.5h1M11 54.5h1M11 55.5h1M11 58.5h1M11 59.5h1M11 60.5h1M11 61.5h1M11 62.5h1M11 66.5h1M10 67.5h1M11 68.5h1M11 69.5h1M11 72.5h1M11 76.5h1M11 98.5h1M11 103.5h1M11 105.5h1M11 106.5h1M11 110.5h1M10 111.5h2M10 113.5h2M11 116.5h1M10 117.5h2M11 118.5h1M11 120.5h1M11 121.5h1M11 123.5h1M10 124.5h2M11 127.5h1M11 128.5h1M10 130.5h1M11 135.5h1M11 137.5h1M10 138.5h1M10 139.5h2M11 146.5h1M10 147.5h1M10 150.5h1M11 152.5h1M11 153.5h1M11 155.5h1M11 157.5h1M11 159.5h1M11 160.5h1M11 161.5h1M11 162.5h1M11 165.5h1M11 167.5h1M11 172.5h1M12 194.5h1M19 195.5h1M12 196.5h1M19 196.5h1M12 197.5h1M19 198.5h1M12 200.5h1M19 202.5h1M16 208.5h1M17 209.5h1M15 210.5h1M18 210.5h1M13 211.5h1M18 211.5h1M18 212.5h1M15 213.5h2M13 214.5h1M15 214.5h1M18 214.5h1M13 216.5h1M15 216.5h1M13 217.5h1M15 217.5h1M17 217.5h1M15 218.5h3M14 219.5h3M17 220.5h1M13 221.5h2M16 223.5h1M14 225.5h1M16 225.5h1M14 230.5h1"/><path stroke="#4758f8" d="M12 .5h1M19 .5h1M12 2.5h1M12 3.5h1M19 3.5h1M12 4.5h1M19 4.5h1M12 5.5h1M12 7.5h1M12 9.5h1M12 10.5h1M19 10.5h1M19 11.5h1M19 13.5h1M19 14.5h1M19 16.5h1M12 21.5h1M19 24.5h1M19 28.5h1M12 34.5h1M12 37.5h1M11 52.5h1M11 100.5h1M11 112.5h1M11 122.5h1M11 125.5h1M11 126.5h1M11 131.5h1M11 134.5h1M11 136.5h1M11 138.5h1M11 140.5h1M11 143.5h1M11 144.5h1M11 148.5h1M11 149.5h1M11 150.5h1M11 156.5h1M11 158.5h1M12 184.5h1M12 189.5h1M19 190.5h1M12 191.5h1M12 193.5h1M19 193.5h1M19 194.5h1M12 195.5h1M19 197.5h1M19 200.5h1M18 202.5h1M18 204.5h1M17 205.5h1M18 206.5h1M13 207.5h1M16 207.5h1M18 207.5h1M13 208.5h2M17 208.5h2M13 209.5h2M16 209.5h1M13 210.5h2M14 211.5h1M13 212.5h5M13 213.5h2M17 213.5h1M14 214.5h1M17 214.5h1M14 215.5h1M16 215.5h2M14 216.5h1M16 216.5h1M14 217.5h1M16 217.5h1M14 220.5h1"/><path stroke="#465efb" d="M12 1.5h1M19 2.5h1M19 8.5h1M19 9.5h1M19 12.5h1M12 13.5h1M12 14.5h1M12 15.5h1M19 15.5h1M12 16.5h1M12 17.5h1M19 17.5h1M12 18.5h1M19 18.5h1M12 19.5h1M19 19.5h1M19 20.5h1M12 22.5h1M12 25.5h1M19 25.5h1M12 26.5h1M19 27.5h1M12 28.5h1M12 29.5h1M19 29.5h1M12 31.5h1M19 31.5h1M12 33.5h1M11 132.5h1M11 133.5h1M11 141.5h1M11 142.5h1M11 147.5h1M11 151.5h1M11 154.5h1M19 181.5h1M19 182.5h1M12 183.5h1M12 186.5h1M19 186.5h1M12 187.5h1M12 188.5h1M19 188.5h1M12 190.5h1M19 191.5h1M12 192.5h1M19 192.5h1M18 198.5h1M17 202.5h1M13 203.5h1M13 204.5h1M13 205.5h1M18 205.5h1M13 206.5h1M17 206.5h1M15 209.5h1M17 210.5h1M15 211.5h3M16 214.5h1"/><path stroke="#4563fd" d="M18 .5h1M18 11.5h1M12 20.5h1M19 21.5h1M19 22.5h1M12 23.5h1M19 23.5h1M12 24.5h1M19 26.5h1M12 27.5h1M12 30.5h1M19 30.5h1M12 32.5h1M19 32.5h1M19 33.5h1M19 34.5h1M12 35.5h1M19 35.5h1M19 36.5h1M19 37.5h1M12 38.5h1M19 42.5h1M12 43.5h1M19 44.5h1M12 47.5h1M19 75.5h1M12 76.5h1M12 77.5h1M12 174.5h1M12 176.5h1M19 176.5h1M19 177.5h1M12 178.5h1M19 178.5h1M12 179.5h1M12 180.5h1M19 180.5h1M12 182.5h1M19 183.5h1M19 184.5h1M12 185.5h1M19 185.5h1M19 187.5h1M19 189.5h1M13 196.5h1M18 197.5h1M18 199.5h1M13 200.5h1M13 201.5h1M16 201.5h3M13 202.5h1M17 203.5h2M14 204.5h1M16 204.5h2M15 205.5h2M14 206.5h3M14 207.5h2M17 207.5h1M15 208.5h1M16 210.5h1"/><path stroke="#4269fe" d="M13 1.5h1M13 2.5h1M18 2.5h1M17 3.5h1M18 4.5h1M18 5.5h1M17 6.5h1M14 7.5h1M14 8.5h1M13 10.5h1M18 16.5h1M17 17.5h2M15 22.5h1M18 29.5h1M12 36.5h1M19 38.5h1M12 39.5h1M12 40.5h1M19 40.5h1M12 41.5h1M19 41.5h1M12 42.5h1M19 43.5h1M19 68.5h1M12 71.5h1M19 73.5h1M12 78.5h1M19 78.5h1M12 79.5h1M19 79.5h1M12 81.5h1M19 85.5h1M19 86.5h1M12 87.5h1M12 92.5h1M19 92.5h1M12 99.5h1M12 103.5h1M12 108.5h1M19 168.5h1M19 170.5h1M19 172.5h1M19 173.5h1M19 175.5h1M19 179.5h1M12 181.5h1M18 193.5h1M16 198.5h1M18 200.5h1M14 201.5h1M15 202.5h2M14 203.5h3M15 204.5h1M14 205.5h1"/><path stroke="#3e6fff" d="M13 .5h1M16 .5h2M15 1.5h1M18 1.5h1M15 2.5h3M13 3.5h1M15 3.5h2M18 3.5h1M13 4.5h1M15 4.5h2M15 5.5h1M13 6.5h4M15 7.5h1M17 7.5h2M15 8.5h1M17 8.5h2M18 9.5h1M16 10.5h1M18 10.5h1M15 11.5h1M17 12.5h2M15 13.5h1M17 13.5h2M16 16.5h1M18 21.5h1M17 22.5h1M17 23.5h1M19 39.5h1M12 44.5h1M12 45.5h1M19 45.5h1M12 46.5h1M19 46.5h1M19 47.5h1M12 49.5h1M19 49.5h1M19 50.5h1M12 58.5h1M12 59.5h1M12 66.5h1M19 67.5h1M12 69.5h1M19 69.5h1M12 70.5h1M19 70.5h1M12 72.5h1M19 72.5h1M12 73.5h1M12 74.5h1M19 74.5h1M12 75.5h1M19 76.5h1M19 80.5h1M12 82.5h1M19 82.5h1M12 83.5h1M19 83.5h1M19 84.5h1M12 85.5h1M12 86.5h1M12 88.5h1M12 89.5h1M12 90.5h1M12 91.5h1M12 93.5h1M19 93.5h1M12 94.5h1M19 94.5h1M12 95.5h1M12 98.5h1M19 98.5h1M12 100.5h1M12 101.5h1M12 102.5h1M19 104.5h1M19 106.5h1M12 115.5h1M12 116.5h1M12 136.5h1M12 159.5h1M12 166.5h1M12 167.5h1M12 169.5h1M12 170.5h1M12 171.5h1M19 171.5h1M12 172.5h1M12 173.5h1M19 174.5h1M12 175.5h1M12 177.5h1M18 189.5h1M18 191.5h1M13 194.5h1M17 195.5h2M17 196.5h2M13 197.5h1M15 197.5h1M17 197.5h1M13 198.5h3M17 198.5h1M13 199.5h1M16 199.5h1M16 200.5h2M15 201.5h1M14 202.5h1"/><path stroke="#3875fe" d="M14 .5h1M14 1.5h1M14 3.5h1M14 4.5h1M13 5.5h2M17 5.5h1M18 6.5h1M13 7.5h1M13 8.5h1M16 8.5h1M14 9.5h1M17 9.5h1M15 10.5h1M17 10.5h1M13 11.5h2M16 11.5h2M13 12.5h3M13 13.5h1M16 13.5h1M13 14.5h2M16 14.5h2M15 15.5h1M17 15.5h2M13 16.5h2M14 17.5h1M16 17.5h1M13 18.5h3M17 18.5h2M13 19.5h1M18 19.5h1M13 20.5h1M16 21.5h1M16 22.5h1M18 23.5h1M13 24.5h1M18 25.5h1M18 26.5h1M18 27.5h1M13 28.5h1M12 48.5h1M19 48.5h1M12 50.5h1M19 52.5h1M12 53.5h1M19 55.5h1M12 56.5h1M19 56.5h1M12 62.5h1M12 64.5h1M19 65.5h1M19 66.5h1M12 68.5h1M19 71.5h1M19 77.5h1M12 80.5h1M19 81.5h1M12 84.5h1M19 87.5h1M19 88.5h1M19 89.5h1M19 90.5h1M19 91.5h1M12 96.5h1M19 96.5h1M12 97.5h1M19 97.5h1M19 99.5h1M19 100.5h1M19 102.5h1M12 104.5h1M12 105.5h1M12 106.5h1M12 107.5h1M19 107.5h1M12 109.5h1M12 110.5h1M19 110.5h1M12 112.5h1M12 119.5h1M12 122.5h1M12 123.5h1M12 130.5h1M12 138.5h1M12 141.5h1M12 149.5h1M12 153.5h1M19 160.5h1M19 162.5h1M12 163.5h1M12 164.5h1M19 166.5h1M12 168.5h1M19 169.5h1M17 190.5h1M13 191.5h1M13 192.5h1M17 192.5h2M13 193.5h2M16 194.5h3M13 195.5h1M15 195.5h1M14 196.5h2M16 197.5h1M14 199.5h2M14 200.5h1"/><path stroke="#327cfc" d="M15 .5h1M16 1.5h2M14 2.5h1M17 4.5h1M16 5.5h1M16 7.5h1M13 9.5h1M15 9.5h2M14 10.5h1M16 12.5h1M14 13.5h1M15 14.5h1M18 14.5h1M13 15.5h2M17 16.5h1M13 17.5h1M15 17.5h1M14 19.5h1M17 19.5h1M15 20.5h2M18 20.5h1M13 22.5h2M18 22.5h1M15 23.5h2M14 24.5h2M18 24.5h1M13 25.5h1M17 25.5h1M15 26.5h1M17 26.5h1M14 28.5h1M17 28.5h1M15 29.5h1M17 32.5h2M13 33.5h1M18 35.5h1M14 37.5h1M12 51.5h1M19 51.5h1M12 52.5h1M19 53.5h1M12 54.5h1M12 55.5h1M12 57.5h1M12 60.5h1M19 61.5h1M12 63.5h1M19 64.5h1M19 95.5h1M19 101.5h1M19 105.5h1M19 109.5h1M12 111.5h1M19 111.5h1M12 113.5h1M19 113.5h1M12 114.5h1M19 114.5h1M19 116.5h1M19 118.5h1M19 123.5h1M12 124.5h1M12 125.5h1M12 129.5h1M12 131.5h1M12 134.5h1M12 135.5h1M12 142.5h1M12 145.5h1M12 146.5h1M12 150.5h1M12 152.5h1M12 154.5h1M12 157.5h1M12 158.5h1M12 160.5h1M12 161.5h1M12 162.5h1M19 163.5h1M19 164.5h1M12 165.5h1M19 167.5h1M18 187.5h1M13 188.5h1M13 189.5h1M13 190.5h1M18 190.5h1M14 191.5h1M14 192.5h1M16 193.5h1M14 195.5h1M16 195.5h1M16 196.5h1M14 197.5h1M17 199.5h1M15 200.5h1"/><path stroke="#2f81fa" d="M16 15.5h1M15 16.5h1M16 18.5h1M15 19.5h1M17 20.5h1M13 21.5h1M15 21.5h1M17 21.5h1M13 23.5h2M16 24.5h2M14 25.5h1M14 26.5h1M13 27.5h1M15 27.5h1M15 28.5h2M18 28.5h1M13 29.5h1M13 30.5h3M17 30.5h2M13 31.5h2M17 31.5h2M13 32.5h1M14 33.5h1M17 33.5h2M13 34.5h1M18 34.5h1M13 35.5h1M13 36.5h1M18 36.5h1M13 38.5h1M18 39.5h1M19 54.5h1M19 58.5h1M19 59.5h1M19 60.5h1M12 61.5h1M19 63.5h1M12 65.5h1M12 67.5h1M19 103.5h1M19 108.5h1M12 117.5h1M12 118.5h1M19 119.5h1M12 120.5h1M12 121.5h1M19 121.5h1M19 122.5h1M12 127.5h1M19 127.5h1M12 128.5h1M19 132.5h1M19 141.5h1M12 143.5h1M19 146.5h1M12 147.5h1M19 149.5h1M19 150.5h1M12 151.5h1M19 151.5h1M19 152.5h1M19 153.5h1M12 155.5h1M19 155.5h1M12 156.5h1M19 156.5h1M19 157.5h1M19 158.5h1M19 161.5h1M19 165.5h1M13 181.5h1M18 182.5h1M13 184.5h1M18 185.5h1M18 186.5h1M17 188.5h2M14 189.5h1M16 192.5h1M15 193.5h1M17 193.5h1M14 194.5h2"/><path stroke="#2e87f7" d="M16 19.5h1M14 20.5h1M14 21.5h1M15 25.5h2M16 26.5h1M14 27.5h1M16 27.5h2M16 29.5h2M15 31.5h1M15 32.5h2M15 33.5h2M14 34.5h1M14 35.5h1M13 37.5h1M18 37.5h1M15 38.5h1M18 38.5h1M14 39.5h1M13 46.5h1M19 57.5h1M19 62.5h1M19 115.5h1M19 120.5h1M19 124.5h1M12 126.5h1M19 126.5h1M19 131.5h1M12 132.5h1M12 133.5h1M19 134.5h1M19 135.5h1M19 136.5h1M12 137.5h1M12 139.5h1M19 139.5h1M12 140.5h1M19 140.5h1M19 142.5h1M19 143.5h1M12 144.5h1M19 144.5h1M19 145.5h1M19 147.5h1M12 148.5h1M19 148.5h1M19 154.5h1M19 159.5h1M13 183.5h1M18 184.5h1M13 185.5h1M17 185.5h1M17 187.5h1M16 190.5h1M15 191.5h1M17 191.5h1"/><path stroke="#2d8cf3" d="M13 26.5h1M14 29.5h1M16 30.5h1M16 31.5h1M15 34.5h1M15 35.5h1M17 35.5h1M16 36.5h1M17 38.5h1M13 39.5h1M18 40.5h1M13 41.5h1M18 41.5h1M13 42.5h1M18 43.5h1M18 45.5h1M13 47.5h1M18 73.5h1M18 74.5h1M18 76.5h1M18 77.5h1M13 78.5h1M18 78.5h1M13 86.5h1M13 92.5h1M19 112.5h1M19 117.5h1M19 125.5h1M19 128.5h1M19 129.5h1M19 130.5h1M19 133.5h1M19 137.5h1M19 138.5h1M13 176.5h1M18 179.5h1M18 183.5h1M13 186.5h3M17 186.5h1M13 187.5h1M14 188.5h2M15 189.5h3M15 190.5h1M16 191.5h1M15 192.5h1"/><path stroke="#2b91ef" d="M14 32.5h1M16 34.5h2M14 36.5h2M17 36.5h1M15 37.5h3M14 38.5h1M15 39.5h1M13 40.5h1M17 41.5h1M18 42.5h1M13 43.5h2M13 44.5h1M18 46.5h1M18 47.5h1M13 48.5h1M13 74.5h1M14 78.5h1M14 79.5h1M17 79.5h1M13 80.5h1M18 80.5h1M13 81.5h1M18 82.5h1M13 83.5h1M14 84.5h1M14 85.5h1M13 87.5h1M17 87.5h1M13 88.5h1M13 89.5h1M18 89.5h1M18 177.5h1M18 178.5h1M13 180.5h1M18 180.5h1M18 181.5h1M17 184.5h1M14 185.5h1M16 186.5h1M15 187.5h2M16 188.5h1M14 190.5h1"/><path stroke="#2797eb" d="M16 35.5h1M16 38.5h1M17 39.5h1M15 40.5h1M17 40.5h1M15 42.5h1M17 42.5h1M16 43.5h2M16 44.5h1M18 44.5h1M13 70.5h1M18 71.5h1M18 72.5h1M13 73.5h1M13 75.5h1M18 75.5h1M13 76.5h1M14 81.5h1M17 81.5h2M13 84.5h1M15 84.5h1M18 84.5h1M13 85.5h1M18 88.5h1M13 91.5h1M13 94.5h1M13 97.5h1M13 107.5h1M18 175.5h1M18 176.5h1M17 177.5h1M13 178.5h1M17 178.5h1M17 180.5h1M17 181.5h1M13 182.5h1M14 183.5h1M14 184.5h1M16 184.5h1M14 187.5h1"/><path stroke="#259be8" d="M16 39.5h1M14 40.5h1M16 41.5h1M14 42.5h1M15 44.5h1M13 45.5h1M15 46.5h1M18 48.5h1M13 67.5h1M18 67.5h1M13 68.5h1M18 69.5h1M18 70.5h1M13 71.5h1M13 72.5h2M17 73.5h1M15 75.5h1M16 77.5h2M13 79.5h1M18 79.5h1M15 80.5h1M17 80.5h1M16 81.5h1M13 82.5h3M17 83.5h1M18 85.5h1M18 86.5h1M14 87.5h1M18 87.5h1M14 88.5h1M17 88.5h1M18 90.5h1M14 93.5h1M13 95.5h1M13 98.5h1M13 99.5h1M13 100.5h1M13 101.5h1M18 172.5h1M13 174.5h1M18 174.5h1M13 177.5h1M14 181.5h1M15 183.5h1M17 183.5h1M15 185.5h2"/><path stroke="#23a0e5" d="M16 40.5h1M14 41.5h2M14 44.5h1M17 44.5h1M17 45.5h1M14 46.5h1M14 47.5h1M13 49.5h1M18 49.5h1M13 51.5h1M18 51.5h1M13 65.5h1M18 66.5h1M18 68.5h1M13 69.5h1M14 73.5h1M15 74.5h1M17 74.5h1M17 75.5h1M14 76.5h2M13 77.5h3M16 78.5h2M14 80.5h1M16 80.5h1M15 81.5h1M17 82.5h1M14 83.5h1M16 83.5h1M18 83.5h1M17 85.5h1M14 86.5h4M15 88.5h1M15 89.5h1M13 90.5h2M17 90.5h1M14 91.5h1M16 91.5h1M18 92.5h1M13 93.5h1M13 96.5h1M18 96.5h1M13 102.5h1M13 105.5h1M13 175.5h1M13 179.5h1M17 179.5h1M14 182.5h1M15 184.5h1"/><path stroke="#20a5e3" d="M16 42.5h1M15 43.5h1M16 45.5h1M17 47.5h1M15 48.5h1M14 49.5h1M13 50.5h1M18 50.5h1M13 56.5h1M13 66.5h1M17 72.5h1M15 73.5h2M14 74.5h1M14 75.5h1M17 76.5h1M15 78.5h1M15 79.5h2M16 82.5h1M15 83.5h1M16 84.5h1M15 85.5h2M15 87.5h1M16 88.5h1M14 89.5h1M15 90.5h1M15 91.5h1M14 92.5h1M16 92.5h2M17 94.5h2M14 96.5h1M18 97.5h1M14 98.5h1M13 103.5h1M13 104.5h1M13 108.5h1M13 167.5h1M13 169.5h1M13 172.5h1M13 173.5h1M14 178.5h1M14 179.5h1M16 181.5h1M15 182.5h3M16 183.5h1"/><path stroke="#1ca9df" d="M14 45.5h1M17 46.5h1M15 47.5h2M17 48.5h1M17 49.5h1M13 52.5h1M13 53.5h1M18 53.5h1M18 55.5h1M13 64.5h1M18 64.5h1M18 65.5h1M14 67.5h1M14 69.5h1M17 69.5h1M14 71.5h4M15 72.5h2M16 74.5h1M16 75.5h1M16 76.5h1M17 84.5h1M16 87.5h1M16 89.5h2M17 91.5h2M16 93.5h3M14 95.5h1M18 95.5h1M15 96.5h1M18 98.5h1M14 99.5h1M14 100.5h1M18 100.5h1M18 101.5h1M13 106.5h1M13 109.5h1M13 110.5h1M13 112.5h1M13 163.5h1M13 170.5h1M18 170.5h1M13 171.5h1M18 173.5h1M14 177.5h1M14 180.5h1"/><path stroke="#18addb" d="M15 45.5h1M16 46.5h1M14 48.5h1M15 49.5h1M18 54.5h1M13 61.5h1M13 62.5h1M18 62.5h1M13 63.5h1M14 68.5h1M17 68.5h1M15 70.5h3M16 90.5h1M15 92.5h1M15 93.5h1M14 94.5h1M17 95.5h1M14 97.5h1M15 98.5h1M17 98.5h1M17 99.5h1M14 101.5h1M14 102.5h1M13 114.5h1M18 165.5h1M13 168.5h1M18 168.5h1M17 176.5h1M15 179.5h1M15 180.5h2M15 181.5h1"/><path stroke="#12b1d6" d="M16 48.5h1M14 50.5h1M18 52.5h1M13 54.5h1M13 59.5h1M13 60.5h1M18 60.5h1M18 61.5h1M18 63.5h1M14 65.5h1M14 66.5h1M16 66.5h1M15 67.5h1M15 68.5h2M15 69.5h1M14 70.5h1M15 94.5h2M15 95.5h2M16 96.5h2M16 97.5h1M16 98.5h1M15 99.5h1M18 99.5h1M18 102.5h1M18 103.5h1M13 111.5h1M13 113.5h1M13 115.5h1M13 116.5h1M13 117.5h1M13 120.5h1M13 124.5h1M13 166.5h1M18 166.5h1M18 167.5h1M18 169.5h1M17 171.5h2M17 174.5h1M17 175.5h1M16 177.5h1M15 178.5h1"/><path stroke="#08b5d0" d="M14 51.5h1M13 58.5h1M17 66.5h1M16 67.5h2M16 69.5h1M15 97.5h1M17 97.5h1M14 103.5h1M14 104.5h1M13 118.5h1M13 119.5h1M13 126.5h1M13 159.5h1M13 160.5h1M13 162.5h1M13 165.5h1M14 175.5h1M14 176.5h1M16 176.5h1M16 178.5h1M16 179.5h1"/><path stroke="#01b8ca" d="M16 49.5h1M15 50.5h1M14 52.5h1M13 55.5h1M18 58.5h1M18 59.5h1M14 63.5h1M15 66.5h1M15 100.5h1M17 100.5h1M15 101.5h1M17 101.5h1M17 103.5h1M18 104.5h1M14 105.5h1M18 106.5h1M13 122.5h1M13 123.5h1M13 152.5h1M13 161.5h1M18 163.5h1M18 164.5h1M17 169.5h1M17 172.5h1M14 173.5h1M17 173.5h1M14 174.5h1M16 175.5h1M15 177.5h1"/><path stroke="#02bac3" d="M17 50.5h1M18 56.5h1M13 57.5h1M18 57.5h1M14 61.5h1M14 64.5h1M17 64.5h1M15 65.5h1M17 65.5h1M16 99.5h1M16 100.5h1M15 102.5h1M14 106.5h1M18 110.5h1M13 121.5h1M13 125.5h1M13 128.5h1M13 131.5h1M13 145.5h1M13 151.5h1M13 155.5h1M13 156.5h1M15 175.5h1"/><path stroke="#0bbdbd" d="M16 50.5h1M17 53.5h1M14 54.5h1M14 55.5h1M16 101.5h1M17 102.5h1M15 104.5h1M18 105.5h1M14 107.5h1M14 108.5h1M18 108.5h1M18 109.5h1M14 110.5h1M14 111.5h1M13 129.5h1M13 130.5h1M13 133.5h1M13 153.5h1M13 154.5h1M18 162.5h1M13 164.5h1M17 167.5h1M14 170.5h1M17 170.5h1M14 172.5h1"/><path stroke="#19bfb6" d="M15 51.5h1M15 52.5h1M17 52.5h1M14 53.5h1M14 56.5h1M14 62.5h1M15 103.5h1M17 104.5h1M15 105.5h1M17 105.5h1M15 106.5h1M17 106.5h1M18 107.5h1M14 109.5h1M13 127.5h1M13 132.5h1M13 134.5h1M13 139.5h1M13 142.5h1M13 157.5h1M13 158.5h1M18 160.5h1M18 161.5h1M16 173.5h1M15 174.5h2M15 176.5h1"/><path stroke="#24c1ae" d="M16 51.5h2M14 57.5h1M16 64.5h1M16 102.5h1M16 103.5h1M17 107.5h1M14 113.5h1M13 138.5h1M13 144.5h1M13 146.5h1M13 150.5h1M17 168.5h1M16 171.5h1M15 173.5h1"/><path stroke="#2cc4a7" d="M14 58.5h1M14 59.5h1M14 60.5h1M17 62.5h1M15 63.5h1M17 63.5h1M15 64.5h1M16 65.5h1M16 105.5h1M18 111.5h1M14 112.5h1M18 116.5h1M13 135.5h1M13 136.5h1M13 140.5h1M13 148.5h1M13 149.5h1M18 158.5h1M18 159.5h1M17 165.5h1M14 169.5h1M15 170.5h1M14 171.5h1M16 172.5h1"/><path stroke="#31c69f" d="M16 52.5h1M15 53.5h1M15 54.5h1M17 55.5h1M16 104.5h1M15 108.5h1M18 112.5h1M18 113.5h1M18 114.5h1M18 115.5h1M13 137.5h1M13 141.5h1M13 143.5h1M13 147.5h1M18 155.5h1M18 156.5h1M18 157.5h1M17 166.5h1M14 168.5h1M16 169.5h1M16 170.5h1M15 171.5h1M15 172.5h1"/><path stroke="#37c897" d="M16 53.5h1M17 54.5h1M17 60.5h1M15 61.5h1M17 61.5h1M16 62.5h1M16 63.5h1M16 108.5h2M17 109.5h1M14 114.5h1M14 115.5h1M18 117.5h1M18 118.5h1M18 119.5h1M18 154.5h1M14 167.5h1M15 169.5h1"/><path stroke="#3fca8e" d="M16 54.5h1M15 56.5h1M15 59.5h1M17 59.5h1M15 62.5h1M16 106.5h1M16 107.5h1M15 109.5h1M17 110.5h1M17 111.5h1M14 116.5h1M18 152.5h1M17 164.5h1M14 166.5h1"/><path stroke="#4acb84" d="M17 56.5h1M17 57.5h1M17 58.5h1M15 60.5h1M16 61.5h1M15 107.5h1M16 109.5h1M15 110.5h1M17 112.5h1M14 117.5h1M18 120.5h1M18 153.5h1M17 159.5h1M17 162.5h1M14 163.5h1M17 163.5h1M16 168.5h1"/><path stroke="#57cc7a" d="M15 55.5h1M16 60.5h1M16 111.5h1M15 112.5h1M17 115.5h1M14 119.5h1M18 121.5h1M18 150.5h1M17 160.5h1M17 161.5h1M14 164.5h1M14 165.5h1M16 166.5h1M15 167.5h2M15 168.5h1"/><path stroke="#64cd6f" d="M16 55.5h1M16 57.5h1M15 111.5h1M15 113.5h1M17 114.5h1M17 116.5h1M14 118.5h1M18 147.5h1M18 151.5h1"/><path stroke="#72cd64" d="M16 56.5h1M15 57.5h1M15 58.5h1M16 59.5h1M16 112.5h1M17 113.5h1M15 114.5h1M14 120.5h1M18 122.5h1M18 124.5h1M18 141.5h1M18 149.5h1M14 160.5h1M14 161.5h1M16 165.5h1M15 166.5h1"/><path stroke="#81cc59" d="M16 58.5h1M16 110.5h1M16 113.5h1M15 115.5h1M15 116.5h1M17 117.5h1M18 123.5h1M18 125.5h1M18 126.5h1M18 127.5h1M18 129.5h1M18 145.5h1M18 148.5h1M17 158.5h1M14 159.5h1M14 162.5h1M16 164.5h1"/><path stroke="#8fcb4e" d="M15 117.5h1M17 118.5h1M17 120.5h1M14 121.5h1M14 122.5h1M18 128.5h1M18 131.5h1M18 132.5h1M18 133.5h1M18 138.5h1M18 139.5h1M18 140.5h1M18 142.5h1M18 143.5h1M18 144.5h1M18 146.5h1M14 158.5h1M15 162.5h1M16 163.5h1M15 165.5h1"/><path stroke="#9dc943" d="M16 114.5h1M14 123.5h1M14 124.5h1M18 130.5h1M18 135.5h1M18 136.5h1M18 137.5h1M17 154.5h1M17 156.5h1M14 157.5h1M17 157.5h1"/><path stroke="#abc739" d="M16 115.5h1M14 125.5h1M16 162.5h1M15 163.5h1M15 164.5h1"/><path stroke="#b9c431" d="M15 118.5h1M17 119.5h1M18 134.5h1M14 151.5h1M17 152.5h1M17 153.5h1M14 155.5h1M17 155.5h1M16 161.5h1"/><path stroke="#c5c22a" d="M16 117.5h1M15 119.5h1M17 121.5h1M14 127.5h1M14 128.5h1M14 130.5h1M14 153.5h1M14 156.5h1M16 159.5h1M15 161.5h1"/><path stroke="#d1bf27" d="M16 116.5h1M17 123.5h1M14 126.5h1M16 160.5h1"/><path stroke="#dcbd29" d="M16 118.5h1M16 119.5h1M16 120.5h1M15 121.5h1M17 122.5h1M17 125.5h1M14 129.5h1M14 131.5h1M17 150.5h1M17 151.5h1M14 152.5h1M14 154.5h1M16 157.5h1M16 158.5h1M15 160.5h1"/><path stroke="#e6bb2d" d="M15 120.5h1M15 122.5h1M17 124.5h1M17 126.5h1M17 127.5h1M14 132.5h1M14 133.5h1M14 137.5h1M14 146.5h1M14 149.5h1M17 149.5h1M14 150.5h1M15 159.5h1"/><path stroke="#f0ba36" d="M16 121.5h1M15 124.5h1M14 135.5h1M14 138.5h1M14 145.5h1M17 145.5h1M17 146.5h1M17 148.5h1M16 156.5h1M15 157.5h1"/><path stroke="#f8ba3d" d="M16 122.5h1M17 131.5h1M17 133.5h1M14 134.5h1M14 136.5h1M14 139.5h1M14 140.5h1M14 141.5h1M14 142.5h1M14 143.5h1M14 147.5h1M17 147.5h1M14 148.5h1M16 155.5h1M15 156.5h1M15 158.5h1"/><path stroke="#febe3c" d="M15 123.5h1M17 128.5h1M17 129.5h1M17 132.5h1M17 140.5h1M17 144.5h1M15 154.5h1M15 155.5h1"/><path stroke="#fec338" d="M16 123.5h1M15 126.5h1M17 130.5h1M17 134.5h1M17 137.5h1M17 138.5h1M17 139.5h1M17 142.5h1M14 144.5h1M16 150.5h1M15 153.5h1M16 154.5h1"/><path stroke="#fec934" d="M15 125.5h2M15 127.5h1M17 135.5h1M17 143.5h1"/><path stroke="#fccf30" d="M16 124.5h1M16 127.5h1M17 136.5h1M17 141.5h1M16 151.5h1M16 152.5h1M16 153.5h1"/><path stroke="#fad62d" d="M15 128.5h1M16 129.5h1M15 130.5h1M15 151.5h1M15 152.5h1"/><path stroke="#f7dc2a" d="M16 126.5h1M15 129.5h1M16 148.5h1M15 149.5h2M15 150.5h1"/><path stroke="#f5e327" d="M16 130.5h1M15 131.5h1M16 145.5h1M16 147.5h1"/><path stroke="#f5e924" d="M16 128.5h1M16 131.5h1M16 132.5h1M16 133.5h1M16 146.5h1M15 147.5h1M15 148.5h1"/><path stroke="#f6ef20" d="M15 133.5h1M15 134.5h1M15 135.5h2M16 137.5h1M15 141.5h1M16 143.5h1M15 144.5h1M15 145.5h1"/><path stroke="#f7f51b" d="M15 132.5h1M16 134.5h1M15 136.5h1M15 138.5h1M15 142.5h2M16 144.5h1"/><path stroke="#f9fb15" d="M16 136.5h1M15 137.5h1M16 138.5h1M15 139.5h2M15 140.5h2M16 141.5h1M15 143.5h1M15 146.5h1"/></svg><text x="161.3" y="1144.6" font-size="32.50" fill="#262626" text-anchor="middle">-0.4</text><text x="272.8" y="1144.6" font-size="32.50" fill="#262626" text-anchor="middle">-0.2</text><text x="384.3" y="1144.6" font-size="32.50" fill="#262626" text-anchor="middle">0</text><text x="495.8" y="1144.6" font-size="32.50" fill="#262626" text-anchor="middle">0.2</text><text x="607.3" y="1144.6" font-size="32.50" fill="#262626" text-anchor="middle">0.4</text><text x="94.8" y="1113.5" font-size="32.50" fill="#262626" text-anchor="end">660</text><text x="94.8" y="1006.4" font-size="32.50" fill="#262626" text-anchor="end">670</text><text x="94.8" y="899.3" font-size="32.50" fill="#262626" text-anchor="end">680</text><text x="94.8" y="792.2" font-size="32.50" fill="#262626" text-anchor="end">690</text><text x="94.8" y="685.1" font-size="32.50" fill="#262626" text-anchor="end">700</text><rect x="105.40" y="618.00" width="557.60" height="482.00" fill="none" stroke="#000" stroke-width="2.7"/><text transform="translate(384.6 1184.4) scale(0.987 1)" font-size="36.50" fill="#000" text-anchor="middle">Bottom gate (V)</text><text transform="translate(26.5 854.8) rotate(-90) scale(1.000 1)" font-size="36.50" fill="#000" text-anchor="middle">Wavelength (nm)</text><rect x="680.6" y="618.6" width="41.0" height="481.1" fill="url(#pg)" stroke="#333" stroke-width="0.9"/><text transform="translate(730.8 1111.6) scale(0.935 1)" font-size="31.50" fill="#262626" text-anchor="start">0</text><text transform="translate(730.8 1031.6) scale(0.935 1)" font-size="31.50" fill="#262626" text-anchor="start">20</text><path d="M721.6 1019.4h-4.5" stroke="#262626" stroke-width="0.9"/><text transform="translate(730.8 951.5) scale(0.935 1)" font-size="31.50" fill="#262626" text-anchor="start">40</text><path d="M721.6 939.3h-4.5" stroke="#262626" stroke-width="0.9"/><text transform="translate(730.8 871.5) scale(0.935 1)" font-size="31.50" fill="#262626" text-anchor="start">60</text><path d="M721.6 859.3h-4.5" stroke="#262626" stroke-width="0.9"/><text transform="translate(730.8 791.4) scale(0.935 1)" font-size="31.50" fill="#262626" text-anchor="start">80</text><path d="M721.6 779.2h-4.5" stroke="#262626" stroke-width="0.9"/><text transform="translate(730.8 711.4) scale(0.935 1)" font-size="31.50" fill="#262626" text-anchor="start">100</text><path d="M721.6 699.2h-4.5" stroke="#262626" stroke-width="0.9"/><text transform="translate(730.8 631.3) scale(0.935 1)" font-size="31.50" fill="#262626" text-anchor="start">120</text><text transform="translate(803.3 847.8) rotate(90) scale(0.987 1)" font-size="36.50" fill="#000" text-anchor="middle">Intensity (arb. units)</text><path d="M445.9 707.2V1073.1" stroke="#fff" stroke-width="3.3" stroke-dasharray="12 8.83" fill="none"/><text x="119.0" y="666.0" font-size="47.20" fill="#ececec" text-anchor="start" font-weight="bold">c</text><text transform="translate(285.6 656.4) scale(0.987 1)" font-size="36.50" fill="#fff" text-anchor="start">Upconverted PL</text><text transform="translate(322.7 751.5) scale(0.980 1)" font-size="43.80" fill="#fff" text-anchor="start">A 2s</text><text transform="translate(322.3 920.3) scale(0.980 1)" font-size="43.80" fill="#fff" text-anchor="start">B 1s</text><svg x="997.10" y="618.00" width="557.60" height="482.00" viewBox="0 0 20 241" preserveAspectRatio="none" shape-rendering="crispEdges" fill="none" stroke-width="1"><rect width="20" height="241" fill="#0bbdbd"/><path stroke="#402ab4" d="M18 118.5h1M16 120.5h1M18 121.5h1M16 125.5h1"/><path stroke="#422ec0" d="M15 116.5h1M16 117.5h1M16 119.5h1M17 122.5h1M18 126.5h1M16 127.5h1M16 129.5h1"/><path stroke="#4332cb" d="M18 116.5h1M16 118.5h1M15 119.5h1M15 120.5h1M13 121.5h2M16 121.5h1M14 122.5h1M16 122.5h1M15 123.5h1M18 123.5h1M16 124.5h1M18 124.5h1M15 125.5h1"/><path stroke="#4537d5" d="M16 114.5h1M16 115.5h1M16 116.5h1M15 117.5h1M18 117.5h1M15 118.5h1M18 119.5h1M14 120.5h1M17 121.5h1M13 122.5h1M15 122.5h1M18 122.5h1M17 123.5h1M13 124.5h3M18 125.5h1M16 126.5h1M18 127.5h1M16 128.5h1M18 128.5h1M18 130.5h1"/><path stroke="#463cde" d="M16 112.5h1M18 114.5h1M14 115.5h2M18 115.5h1M12 117.5h1M14 117.5h1M12 119.5h1M14 119.5h1M13 120.5h1M17 120.5h2M12 121.5h1M14 123.5h1M16 123.5h1M17 124.5h1M12 125.5h1M13 126.5h1M15 126.5h1M17 126.5h1M14 127.5h1M17 127.5h1M15 128.5h1M18 129.5h1"/><path stroke="#4741e5" d="M18 113.5h1M14 114.5h2M14 116.5h1M17 116.5h1M13 117.5h1M17 117.5h1M15 121.5h1M12 123.5h2M19 123.5h1M14 125.5h1M17 125.5h1M14 126.5h1M14 128.5h1M15 130.5h2M15 131.5h2M18 131.5h1M18 134.5h1"/><path stroke="#4747eb" d="M16 109.5h1M16 110.5h1M16 111.5h1M18 111.5h1M15 112.5h1M18 112.5h1M14 113.5h1M16 113.5h1M19 116.5h1M12 118.5h1M14 118.5h1M17 118.5h1M13 119.5h1M17 119.5h1M19 119.5h1M12 120.5h1M19 121.5h1M13 125.5h1M12 126.5h1M13 127.5h1M15 127.5h1M12 128.5h2M13 129.5h1M17 129.5h1M17 130.5h1M18 132.5h1M18 133.5h1"/><path stroke="#484df0" d="M16 108.5h1M14 110.5h1M15 111.5h1M17 112.5h1M12 113.5h1M15 113.5h1M17 113.5h1M13 114.5h1M19 114.5h1M17 115.5h1M12 116.5h1M13 118.5h1M19 118.5h1M11 119.5h1M19 120.5h1M11 122.5h2M19 122.5h1M11 124.5h2M19 126.5h1M12 127.5h1M17 128.5h1M12 129.5h1M14 129.5h2M14 130.5h1M13 131.5h1M17 131.5h1M14 132.5h2"/><path stroke="#4852f4" d="M14 108.5h1M15 110.5h1M18 110.5h1M14 111.5h1M13 112.5h2M12 114.5h1M17 114.5h1M12 115.5h2M13 116.5h1M11 118.5h1M10 119.5h1M11 120.5h1M10 122.5h1M19 124.5h1M11 125.5h1M19 125.5h1M11 127.5h1M19 127.5h1M12 130.5h2M14 131.5h1M16 132.5h1M15 133.5h2M16 134.5h1"/><path stroke="#4758f8" d="M18 107.5h1M15 108.5h1M14 109.5h1M18 109.5h1M13 111.5h1M17 111.5h1M12 112.5h1M13 113.5h1M11 115.5h1M19 115.5h1M11 116.5h1M10 117.5h2M19 117.5h1M10 120.5h1M11 121.5h1M11 123.5h1M10 127.5h1M19 128.5h1M12 131.5h1M13 132.5h1M17 132.5h1M19 132.5h1M12 133.5h3M17 133.5h1M14 134.5h1M18 135.5h1M18 136.5h1"/><path stroke="#465efb" d="M15 107.5h2M18 108.5h1M13 110.5h1M17 110.5h1M12 111.5h1M19 112.5h1M10 113.5h1M11 114.5h1M10 116.5h1M10 118.5h1M10 121.5h1M10 124.5h1M10 125.5h1M11 126.5h1M10 128.5h2M19 129.5h1M19 130.5h1M19 131.5h1M12 132.5h1M19 133.5h1M15 134.5h1M13 135.5h1M15 135.5h2M15 136.5h1M16 137.5h1M18 137.5h1"/><path stroke="#4563fd" d="M14 106.5h1M16 106.5h1M18 106.5h1M17 107.5h1M17 108.5h1M13 109.5h1M15 109.5h1M19 109.5h1M19 111.5h1M11 113.5h1M9 120.5h1M10 123.5h1M11 131.5h1M13 134.5h1M17 134.5h1M17 135.5h1M14 136.5h1M16 136.5h1M15 137.5h1M16 138.5h1M18 138.5h1M18 139.5h1"/><path stroke="#4269fe" d="M16 105.5h1M18 105.5h1M13 106.5h1M14 107.5h1M13 108.5h1M19 108.5h1M12 109.5h1M17 109.5h1M11 110.5h2M19 110.5h1M10 111.5h2M19 113.5h1M9 117.5h1M9 118.5h1M9 121.5h1M9 122.5h1M10 126.5h1M11 129.5h1M11 132.5h1M19 134.5h1M19 135.5h1M17 136.5h1M19 136.5h1M14 137.5h1M16 140.5h1"/><path stroke="#3e6fff" d="M14 103.5h1M16 104.5h1M14 105.5h2M15 106.5h1M17 106.5h1M13 107.5h1M19 107.5h1M10 110.5h1M11 112.5h1M10 114.5h1M9 115.5h1M8 119.5h2M9 123.5h1M9 124.5h1M10 129.5h1M10 130.5h2M10 131.5h1M12 134.5h1M12 135.5h1M14 135.5h1M12 136.5h1M17 137.5h1M13 138.5h3M13 139.5h2M16 139.5h2M18 140.5h1M16 141.5h1M18 141.5h1"/><path stroke="#3875fe" d="M14 102.5h1M15 103.5h2M13 104.5h1M18 104.5h1M13 105.5h1M17 105.5h1M19 106.5h1M10 108.5h3M9 114.5h1M10 115.5h1M9 116.5h1M8 117.5h1M8 121.5h1M9 126.5h1M9 127.5h1M10 132.5h1M11 136.5h1M13 136.5h1M19 137.5h1M17 138.5h1M15 139.5h1M15 140.5h1M19 140.5h1M18 142.5h1"/><path stroke="#327cfc" d="M18 100.5h1M16 102.5h1M18 102.5h1M17 103.5h3M12 104.5h1M14 104.5h1M17 104.5h1M19 104.5h1M12 105.5h1M12 107.5h1M10 109.5h2M9 111.5h1M9 112.5h2M7 121.5h1M7 122.5h1M9 125.5h1M8 126.5h1M9 128.5h1M9 129.5h1M10 133.5h2M10 134.5h2M11 135.5h1M12 137.5h2M12 138.5h1M13 140.5h2M12 141.5h1M14 141.5h2M18 143.5h1M18 147.5h1"/><path stroke="#2f81fa" d="M14 100.5h1M17 100.5h1M14 101.5h1M18 101.5h2M15 104.5h1M12 106.5h1M10 107.5h2M7 112.5h1M9 113.5h1M8 114.5h1M7 116.5h1M8 118.5h1M7 119.5h1M7 120.5h2M8 122.5h1M7 123.5h1M7 125.5h1M9 130.5h1M10 135.5h1M11 138.5h1M19 138.5h1M12 139.5h1M12 140.5h1M17 140.5h1M17 141.5h1M15 142.5h2M15 143.5h1"/><path stroke="#2e87f7" d="M14 98.5h1M12 100.5h1M15 100.5h2M13 101.5h1M16 101.5h2M13 102.5h1M15 102.5h1M19 102.5h1M12 103.5h2M11 104.5h1M11 105.5h1M19 105.5h1M10 106.5h2M9 107.5h1M9 110.5h1M7 111.5h2M8 113.5h1M7 115.5h2M8 116.5h1M7 117.5h1M7 118.5h1M7 124.5h2M8 125.5h1M8 128.5h1M9 131.5h1M10 136.5h1M11 137.5h1M19 139.5h1M13 141.5h1M19 141.5h1M14 142.5h1M17 142.5h1M19 142.5h1M16 143.5h1M16 144.5h1M18 144.5h1M18 146.5h1"/><path stroke="#2d8cf3" d="M16 98.5h1M17 99.5h2M12 101.5h1M17 102.5h1M11 103.5h1M9 108.5h1M8 112.5h1M7 113.5h1M8 123.5h1M7 127.5h1M7 128.5h1M8 130.5h1M9 132.5h1M11 139.5h1M13 142.5h1M14 143.5h1M17 143.5h1M14 144.5h1M17 144.5h1M15 146.5h1"/><path stroke="#2b91ef" d="M12 96.5h1M18 96.5h1M18 97.5h1M13 98.5h1M15 98.5h1M18 98.5h1M13 99.5h4M15 101.5h1M10 102.5h1M12 102.5h1M10 104.5h1M9 105.5h2M9 106.5h1M7 109.5h1M9 109.5h1M8 110.5h1M7 114.5h1M7 126.5h1M8 127.5h1M8 129.5h1M8 131.5h1M8 133.5h1M9 134.5h1M9 135.5h1M10 137.5h1M10 139.5h1M12 142.5h1M13 143.5h1M19 143.5h1M15 144.5h1M19 144.5h1M13 145.5h3M18 145.5h1M13 146.5h1M18 148.5h1M18 149.5h1"/><path stroke="#2797eb" d="M16 94.5h1M18 94.5h1M16 95.5h3M14 96.5h1M16 96.5h1M19 96.5h1M13 97.5h5M19 97.5h1M17 98.5h1M19 98.5h1M12 99.5h1M19 99.5h1M13 100.5h1M19 100.5h1M10 101.5h1M11 102.5h1M10 103.5h1M7 104.5h1M7 105.5h1M7 107.5h1M7 110.5h1M6 113.5h1M6 120.5h1M6 124.5h1M6 125.5h1M7 129.5h1M7 131.5h1M9 133.5h1M7 134.5h2M8 137.5h2M10 138.5h1M9 139.5h1M12 143.5h1M13 144.5h1M17 145.5h1M19 145.5h1M14 146.5h1M16 146.5h2M13 147.5h1M15 147.5h1M19 147.5h1M14 148.5h1M17 148.5h1M19 148.5h1M14 149.5h1M18 150.5h1"/><path stroke="#259be8" d="M15 93.5h1M14 94.5h1M11 95.5h1M13 95.5h1M15 95.5h1M19 95.5h1M13 96.5h1M15 96.5h1M17 96.5h1M12 97.5h1M12 98.5h1M9 102.5h1M9 103.5h1M7 106.5h1M8 107.5h1M8 108.5h1M6 110.5h1M5 114.5h1M6 115.5h1M6 117.5h1M6 118.5h1M6 123.5h1M7 132.5h1M8 135.5h1M9 136.5h1M11 140.5h1M11 141.5h1M11 143.5h1M12 144.5h1M12 145.5h1M16 145.5h1M19 146.5h1M12 147.5h1M14 147.5h1M13 148.5h1M13 149.5h1M15 149.5h1M19 149.5h1M18 151.5h1"/><path stroke="#23a0e5" d="M19 88.5h1M13 89.5h1M18 91.5h1M11 92.5h1M15 92.5h2M18 92.5h2M13 93.5h1M18 93.5h2M12 94.5h2M15 94.5h1M14 95.5h1M11 96.5h1M11 97.5h1M9 99.5h3M10 100.5h2M9 101.5h1M11 101.5h1M7 103.5h1M9 104.5h1M8 105.5h1M7 108.5h1M8 109.5h1M6 112.5h1M6 114.5h1M6 116.5h1M6 122.5h1M5 123.5h1M5 125.5h1M6 127.5h1M6 128.5h1M7 130.5h1M8 132.5h1M7 133.5h1M7 135.5h1M7 136.5h1M7 138.5h1M10 142.5h2M10 143.5h1M11 144.5h1M11 145.5h1M16 147.5h1M15 148.5h2M16 149.5h1M14 150.5h3M16 151.5h1"/><path stroke="#20a5e3" d="M14 88.5h1M18 89.5h1M16 90.5h1M18 90.5h2M12 91.5h2M14 93.5h1M17 93.5h1M19 94.5h1M12 95.5h1M9 96.5h1M10 98.5h2M9 100.5h1M6 102.5h2M8 103.5h1M8 104.5h1M6 106.5h1M8 106.5h1M6 108.5h1M5 109.5h2M5 111.5h2M5 112.5h1M5 113.5h1M5 116.5h1M5 117.5h1M5 119.5h2M6 121.5h1M6 126.5h1M6 132.5h1M6 133.5h1M8 136.5h1M9 140.5h2M9 142.5h1M10 144.5h1M12 146.5h1M11 147.5h1M17 147.5h1M11 148.5h2M17 149.5h1M17 150.5h1M13 151.5h1M17 151.5h1M19 151.5h1M18 152.5h1M18 153.5h1M18 154.5h1"/><path stroke="#1ca9df" d="M19 80.5h1M19 82.5h1M19 84.5h1M12 85.5h1M18 85.5h1M12 87.5h1M18 88.5h1M10 89.5h1M14 89.5h2M19 89.5h1M12 90.5h2M15 90.5h1M16 91.5h2M19 91.5h1M12 92.5h1M14 92.5h1M17 92.5h1M12 93.5h1M16 93.5h1M9 94.5h1M11 94.5h1M17 94.5h1M10 96.5h1M8 97.5h1M10 97.5h1M7 98.5h1M9 98.5h1M7 100.5h1M7 101.5h1M8 102.5h1M5 108.5h1M3 110.5h2M4 111.5h1M4 113.5h1M4 114.5h1M5 115.5h1M3 116.5h2M4 117.5h1M4 119.5h1M5 120.5h1M5 121.5h1M5 124.5h1M6 129.5h1M6 130.5h1M6 131.5h1M7 137.5h1M9 138.5h1M7 139.5h2M7 140.5h1M9 141.5h2M9 143.5h1M9 145.5h1M10 146.5h1M11 149.5h1M12 150.5h1M19 150.5h1M14 151.5h2M19 152.5h1M15 153.5h1M18 155.5h1"/><path stroke="#18addb" d="M18 81.5h2M12 83.5h1M11 85.5h1M13 85.5h1M19 85.5h1M11 86.5h1M13 86.5h2M11 87.5h1M13 87.5h2M18 87.5h2M12 88.5h2M12 89.5h1M11 90.5h1M14 90.5h1M17 90.5h1M11 91.5h1M15 91.5h1M13 92.5h1M10 93.5h2M7 94.5h1M7 95.5h1M9 95.5h1M6 96.5h1M9 97.5h1M7 99.5h2M6 100.5h1M8 100.5h1M6 104.5h1M3 105.5h1M6 105.5h1M4 106.5h2M2 107.5h1M4 107.5h3M2 108.5h1M5 110.5h1M3 112.5h1M2 114.5h1M3 115.5h1M2 118.5h1M4 118.5h2M3 119.5h1M4 120.5h1M3 121.5h2M3 122.5h1M5 122.5h1M4 123.5h1M5 126.5h1M5 128.5h1M6 135.5h1M6 136.5h1M8 138.5h1M8 140.5h1M7 141.5h1M7 142.5h1M7 144.5h1M7 145.5h1M10 145.5h1M11 146.5h1M10 148.5h1M12 149.5h1M13 150.5h1M11 151.5h1M12 152.5h1M15 152.5h3M11 153.5h2M14 153.5h1M16 153.5h1M12 154.5h2M13 155.5h1M18 156.5h1"/><path stroke="#12b1d6" d="M15 20.5h1M7 21.5h1M13 37.5h1M13 39.5h1M13 40.5h1M12 60.5h1M7 67.5h1M11 70.5h1M11 73.5h1M11 75.5h1M11 76.5h1M11 77.5h1M10 78.5h1M10 79.5h2M10 80.5h3M9 82.5h5M18 82.5h1M10 83.5h1M18 83.5h1M9 84.5h1M11 84.5h2M14 84.5h1M18 84.5h1M9 85.5h1M12 86.5h1M15 86.5h2M18 86.5h2M10 87.5h1M15 87.5h3M11 88.5h1M16 88.5h1M9 89.5h1M11 89.5h1M16 89.5h2M9 90.5h2M9 91.5h2M14 91.5h1M7 92.5h1M10 92.5h1M10 94.5h1M8 95.5h1M10 95.5h1M7 96.5h2M6 97.5h1M6 98.5h1M8 98.5h1M5 103.5h1M4 104.5h2M2 105.5h1M4 105.5h1M2 106.5h2M3 107.5h1M4 109.5h1M2 110.5h1M3 111.5h1M2 112.5h1M4 112.5h1M2 113.5h2M3 114.5h1M2 115.5h1M4 115.5h1M2 116.5h1M2 119.5h1M2 120.5h2M2 121.5h1M2 122.5h1M4 122.5h1M3 124.5h1M3 125.5h2M3 126.5h1M4 127.5h2M4 128.5h1M4 129.5h1M2 130.5h1M4 130.5h1M5 134.5h2M6 138.5h1M6 142.5h1M8 142.5h1M6 143.5h1M9 144.5h1M6 145.5h1M8 145.5h1M7 147.5h1M9 147.5h1M9 148.5h1M11 150.5h1M7 152.5h1M11 152.5h1M13 152.5h2M7 153.5h1M13 153.5h1M19 153.5h1M14 154.5h2M17 154.5h1M19 154.5h1M11 155.5h1M14 155.5h1M19 156.5h1M18 157.5h1"/><path stroke="#08b5d0" d="M14 2.5h1M18 2.5h1M18 4.5h1M6 5.5h1M12 5.5h1M14 8.5h1M15 14.5h1M17 15.5h1M13 16.5h1M12 22.5h1M14 29.5h1M13 30.5h1M15 32.5h1M15 33.5h1M6 35.5h1M13 35.5h1M18 37.5h1M14 38.5h1M14 39.5h2M5 40.5h1M13 41.5h1M13 43.5h1M17 44.5h1M18 45.5h1M13 48.5h1M11 50.5h1M13 50.5h1M12 51.5h1M10 55.5h2M7 56.5h1M7 57.5h1M11 58.5h2M7 59.5h1M11 60.5h1M18 61.5h1M9 62.5h1M10 63.5h1M11 64.5h1M7 65.5h1M18 65.5h1M11 66.5h1M11 68.5h1M7 69.5h1M12 69.5h1M19 69.5h1M11 71.5h1M19 71.5h1M10 72.5h1M10 74.5h1M12 74.5h1M7 75.5h1M12 76.5h1M9 77.5h1M18 77.5h2M18 78.5h2M6 79.5h1M18 79.5h1M7 80.5h1M9 80.5h1M18 80.5h1M7 81.5h1M11 81.5h2M7 82.5h1M15 82.5h1M17 82.5h1M8 83.5h1M11 83.5h1M14 83.5h1M17 83.5h1M10 84.5h1M13 84.5h1M16 84.5h2M6 85.5h1M15 85.5h2M9 86.5h1M17 86.5h1M7 87.5h1M1 88.5h1M8 88.5h3M15 88.5h1M17 88.5h1M6 89.5h1M8 91.5h1M2 92.5h1M8 92.5h1M6 93.5h2M9 93.5h1M6 94.5h1M7 97.5h1M5 98.5h1M6 99.5h1M4 100.5h2M4 101.5h3M8 101.5h1M2 102.5h1M4 102.5h1M2 103.5h1M6 103.5h1M3 108.5h2M1 112.5h1M1 115.5h1M2 117.5h2M3 118.5h1M1 120.5h1M2 123.5h2M2 124.5h1M4 124.5h1M2 125.5h1M2 126.5h1M2 127.5h1M2 129.5h1M1 130.5h1M5 130.5h1M4 131.5h1M4 132.5h2M3 133.5h1M4 135.5h1M5 137.5h1M3 138.5h1M6 139.5h1M6 141.5h1M7 143.5h2M7 146.5h3M4 147.5h1M8 147.5h1M10 147.5h1M7 149.5h2M10 149.5h1M10 150.5h1M12 151.5h1M2 152.5h1M17 153.5h1M10 154.5h2M16 154.5h1M16 155.5h1M11 156.5h1M13 156.5h1M17 156.5h1M18 158.5h1"/><path stroke="#01b8ca" d="M6 .5h1M9 .5h1M11 .5h2M15 1.5h1M7 2.5h1M12 2.5h1M9 3.5h1M12 4.5h1M14 4.5h1M9 5.5h1M15 5.5h1M19 5.5h1M13 6.5h1M9 7.5h1M11 7.5h1M13 7.5h1M8 10.5h1M11 10.5h1M15 10.5h1M12 12.5h1M13 13.5h1M11 14.5h1M6 16.5h1M11 18.5h2M14 18.5h1M14 19.5h1M18 19.5h1M6 20.5h1M17 20.5h1M13 21.5h1M9 22.5h1M15 22.5h1M7 23.5h1M10 23.5h1M13 23.5h1M17 23.5h1M19 23.5h1M2 24.5h1M11 24.5h2M11 25.5h1M15 25.5h1M11 26.5h1M11 27.5h1M15 27.5h1M11 29.5h2M2 30.5h1M18 30.5h1M9 31.5h1M11 31.5h1M13 31.5h2M17 31.5h2M9 32.5h2M12 32.5h1M16 32.5h1M14 33.5h1M17 33.5h2M12 34.5h1M15 34.5h1M18 34.5h1M10 36.5h1M12 36.5h4M12 37.5h1M19 37.5h1M13 38.5h1M10 39.5h1M3 40.5h2M10 40.5h1M18 40.5h1M3 41.5h1M6 41.5h1M15 41.5h1M19 41.5h1M11 42.5h2M15 42.5h1M2 43.5h1M18 43.5h2M11 44.5h2M6 45.5h1M10 45.5h2M4 46.5h1M11 46.5h2M15 46.5h1M14 47.5h2M18 47.5h1M12 48.5h1M13 49.5h1M6 50.5h1M10 50.5h1M18 50.5h1M6 51.5h1M18 51.5h2M4 52.5h1M10 52.5h2M4 53.5h1M19 53.5h1M1 54.5h1M11 54.5h2M19 54.5h1M9 55.5h1M6 56.5h1M19 56.5h1M11 57.5h1M18 57.5h1M6 58.5h2M19 58.5h1M11 59.5h2M6 60.5h1M7 62.5h1M11 62.5h1M11 63.5h2M19 63.5h1M8 64.5h1M10 64.5h1M12 64.5h1M6 65.5h1M10 65.5h1M6 67.5h1M11 67.5h1M18 67.5h1M6 68.5h1M9 68.5h1M19 68.5h1M11 69.5h1M18 69.5h1M10 70.5h1M19 70.5h1M1 71.5h1M5 71.5h1M7 71.5h1M9 71.5h2M11 72.5h1M18 72.5h2M3 73.5h1M7 73.5h1M12 73.5h1M18 73.5h2M11 74.5h1M18 74.5h1M4 75.5h1M9 75.5h2M12 75.5h1M18 75.5h1M6 76.5h1M10 76.5h1M18 76.5h1M7 77.5h2M10 77.5h1M3 78.5h1M6 78.5h1M8 78.5h1M11 78.5h2M1 79.5h1M19 79.5h1M6 80.5h1M14 80.5h2M9 81.5h2M13 81.5h2M4 82.5h1M8 82.5h1M16 82.5h1M7 83.5h1M9 83.5h1M13 83.5h1M19 83.5h1M6 84.5h3M15 84.5h1M7 85.5h2M10 85.5h1M17 85.5h1M6 86.5h3M10 86.5h1M6 87.5h1M8 87.5h2M2 88.5h1M6 88.5h2M2 89.5h1M7 89.5h2M7 90.5h1M5 91.5h2M5 92.5h2M2 93.5h1M8 93.5h1M8 94.5h1M2 95.5h1M6 95.5h1M4 96.5h1M2 97.5h1M1 98.5h1M4 98.5h1M2 99.5h1M5 99.5h1M1 100.5h3M3 101.5h1M5 102.5h1M1 103.5h1M3 103.5h2M1 104.5h3M5 105.5h1M1 107.5h1M2 109.5h2M0 111.5h1M2 111.5h1M0 112.5h1M1 113.5h1M1 116.5h1M1 126.5h1M4 126.5h1M2 128.5h2M1 129.5h1M3 129.5h1M5 129.5h1M3 130.5h1M2 131.5h1M5 131.5h1M4 133.5h1M2 134.5h3M3 135.5h1M5 135.5h1M5 136.5h1M4 137.5h1M6 137.5h1M5 140.5h1M3 141.5h2M8 141.5h1M1 143.5h1M8 144.5h1M3 148.5h1M6 148.5h3M4 149.5h1M6 150.5h4M2 151.5h1M7 151.5h3M9 152.5h2M6 153.5h1M8 153.5h3M3 154.5h1M9 154.5h1M7 155.5h1M10 155.5h1M12 155.5h1M19 155.5h1M10 156.5h1M16 156.5h1M7 157.5h1M18 160.5h1M1 175.5h1"/><path stroke="#02bac3" d="M13 .5h2M17 .5h3M6 1.5h1M9 1.5h1M11 1.5h1M13 1.5h1M17 1.5h1M1 2.5h1M4 2.5h3M9 2.5h2M15 2.5h3M19 2.5h1M0 3.5h1M15 3.5h1M17 3.5h1M11 4.5h1M13 4.5h1M7 5.5h1M13 5.5h1M17 5.5h2M6 6.5h1M10 6.5h1M14 6.5h1M19 7.5h1M6 8.5h1M9 8.5h1M11 8.5h2M16 8.5h2M19 8.5h1M4 9.5h1M6 9.5h1M9 9.5h4M18 9.5h1M9 10.5h1M13 10.5h2M18 10.5h2M4 11.5h1M8 11.5h1M11 11.5h2M14 11.5h1M17 11.5h1M5 12.5h1M10 12.5h2M15 12.5h1M17 12.5h1M19 12.5h1M2 13.5h2M7 13.5h1M12 13.5h1M14 13.5h1M18 13.5h2M8 14.5h1M13 14.5h2M19 14.5h1M6 15.5h1M9 15.5h5M19 15.5h1M4 16.5h1M10 16.5h2M14 16.5h3M18 16.5h1M6 17.5h1M11 17.5h1M15 17.5h1M6 18.5h1M8 18.5h1M10 18.5h1M15 18.5h1M19 18.5h1M2 19.5h2M6 19.5h1M8 19.5h2M12 19.5h2M5 20.5h1M7 20.5h1M11 20.5h3M18 20.5h1M6 21.5h1M10 21.5h1M14 21.5h2M6 22.5h2M10 22.5h1M18 22.5h2M11 23.5h1M15 23.5h1M3 24.5h1M13 24.5h2M16 24.5h1M4 25.5h1M6 25.5h2M12 25.5h2M18 25.5h2M10 26.5h1M12 26.5h1M14 26.5h4M4 27.5h1M9 27.5h2M12 27.5h1M14 27.5h1M16 27.5h1M18 27.5h1M2 28.5h1M10 28.5h2M13 28.5h2M16 28.5h1M7 29.5h1M13 29.5h1M15 29.5h1M17 29.5h1M19 29.5h1M5 30.5h1M9 30.5h1M11 30.5h1M14 30.5h1M19 30.5h1M1 31.5h1M10 31.5h1M12 31.5h1M11 32.5h1M13 32.5h2M19 32.5h1M6 33.5h2M11 33.5h1M13 33.5h1M16 33.5h1M1 34.5h1M4 34.5h1M6 34.5h1M9 34.5h2M13 34.5h1M19 34.5h1M2 35.5h1M5 35.5h1M9 35.5h2M12 35.5h1M15 35.5h1M17 35.5h1M19 35.5h1M6 36.5h1M9 36.5h1M16 36.5h1M18 36.5h2M1 37.5h1M4 37.5h1M7 37.5h2M11 37.5h1M14 37.5h1M16 37.5h1M6 38.5h1M8 38.5h1M11 38.5h1M15 38.5h1M3 39.5h1M6 39.5h1M9 39.5h1M11 39.5h2M18 39.5h1M6 40.5h1M11 40.5h2M14 40.5h2M10 41.5h2M18 41.5h1M7 42.5h1M10 42.5h1M13 42.5h2M16 42.5h1M18 42.5h2M6 43.5h1M9 43.5h1M11 43.5h1M15 43.5h1M5 44.5h1M9 44.5h2M13 44.5h4M8 45.5h2M12 45.5h1M19 45.5h1M5 46.5h3M13 46.5h2M16 46.5h1M18 46.5h2M6 47.5h2M12 47.5h2M16 47.5h1M19 47.5h1M3 48.5h1M6 48.5h1M10 48.5h2M14 48.5h1M18 48.5h2M3 49.5h1M9 49.5h1M12 49.5h1M15 49.5h1M18 49.5h2M1 50.5h1M7 50.5h1M9 50.5h1M12 50.5h1M7 51.5h1M10 51.5h2M14 51.5h1M17 51.5h1M7 52.5h1M12 52.5h1M15 52.5h1M2 53.5h2M6 53.5h1M10 53.5h3M14 53.5h2M17 53.5h1M6 54.5h2M9 54.5h1M7 55.5h2M12 55.5h1M1 56.5h2M9 56.5h3M13 56.5h1M18 56.5h1M1 57.5h1M3 57.5h2M6 57.5h1M9 57.5h1M19 57.5h1M4 58.5h1M9 58.5h2M18 58.5h1M4 59.5h1M6 59.5h1M8 59.5h1M18 59.5h1M3 60.5h1M7 60.5h1M9 60.5h2M18 60.5h1M3 61.5h3M7 61.5h1M9 61.5h1M11 61.5h2M1 62.5h1M8 62.5h1M10 62.5h1M19 62.5h1M7 63.5h1M18 63.5h1M1 64.5h2M7 64.5h1M9 64.5h1M4 65.5h1M9 65.5h1M11 65.5h1M5 66.5h2M9 66.5h1M12 66.5h1M19 66.5h1M2 67.5h1M9 67.5h1M19 67.5h1M4 68.5h1M8 68.5h1M2 69.5h1M8 69.5h3M2 70.5h1M7 70.5h3M6 71.5h1M8 71.5h1M12 71.5h1M1 72.5h1M5 72.5h3M9 72.5h1M12 72.5h1M1 73.5h1M5 73.5h2M8 73.5h3M1 74.5h1M5 74.5h3M9 74.5h1M19 74.5h1M2 75.5h2M5 75.5h2M8 75.5h1M2 76.5h3M7 76.5h1M9 76.5h1M13 76.5h1M19 76.5h1M4 77.5h1M6 77.5h1M12 77.5h1M5 78.5h1M7 78.5h1M9 78.5h1M13 78.5h2M17 78.5h1M2 79.5h1M7 79.5h3M12 79.5h1M15 79.5h3M2 80.5h2M13 80.5h1M16 80.5h1M1 81.5h1M3 81.5h2M6 81.5h1M8 81.5h1M16 81.5h2M3 82.5h1M6 82.5h1M14 82.5h1M2 83.5h1M6 83.5h1M15 83.5h2M2 84.5h1M4 84.5h2M5 85.5h1M14 85.5h1M5 86.5h1M4 87.5h1M3 88.5h1M5 88.5h1M1 89.5h1M3 89.5h2M1 90.5h2M4 90.5h1M6 90.5h1M8 90.5h1M1 91.5h1M4 91.5h1M7 91.5h1M1 92.5h1M3 92.5h1M9 92.5h1M5 93.5h1M4 94.5h2M4 95.5h2M1 96.5h2M5 96.5h1M3 97.5h3M2 98.5h1M3 99.5h2M2 101.5h1M0 102.5h1M3 102.5h1M1 105.5h1M1 106.5h1M1 109.5h1M1 111.5h1M1 117.5h1M1 119.5h1M0 120.5h1M1 122.5h1M1 123.5h1M0 124.5h2M1 125.5h1M1 127.5h1M3 127.5h1M3 131.5h1M2 132.5h2M2 133.5h1M5 133.5h1M1 135.5h2M2 136.5h3M3 137.5h1M4 138.5h1M2 139.5h1M1 140.5h1M6 140.5h1M1 141.5h2M5 141.5h1M4 142.5h2M5 143.5h1M6 144.5h1M5 145.5h1M2 146.5h1M6 146.5h1M1 147.5h1M3 147.5h1M6 147.5h1M2 148.5h1M4 148.5h2M3 149.5h1M5 149.5h2M9 149.5h1M4 150.5h1M4 151.5h1M10 151.5h1M6 152.5h1M8 152.5h1M2 154.5h1M6 154.5h1M8 154.5h1M6 155.5h1M15 155.5h1M17 155.5h1M2 156.5h1M5 156.5h2M8 156.5h1M12 156.5h1M14 156.5h1M6 157.5h1M8 157.5h2M11 157.5h3M6 158.5h1M13 158.5h2M16 158.5h1M19 158.5h1M4 159.5h1M6 159.5h1M18 159.5h1M5 160.5h1M6 161.5h1M1 212.5h1"/><path stroke="#19bfb6" d="M1 .5h1M7 .5h2M10 .5h1M2 1.5h2M10 1.5h1M16 1.5h1M19 1.5h1M0 2.5h1M2 2.5h1M13 2.5h1M8 3.5h1M5 4.5h1M15 4.5h1M17 4.5h1M1 5.5h1M4 5.5h2M8 5.5h1M14 5.5h1M0 6.5h1M2 6.5h1M7 6.5h1M9 6.5h1M17 6.5h1M19 6.5h1M1 7.5h2M5 7.5h1M7 7.5h1M1 8.5h1M15 8.5h1M0 9.5h1M2 9.5h2M5 9.5h1M8 9.5h1M19 9.5h1M0 10.5h1M3 10.5h1M5 10.5h1M10 10.5h1M12 10.5h1M16 10.5h1M0 11.5h1M2 11.5h1M5 11.5h1M15 11.5h1M2 12.5h2M7 12.5h1M9 12.5h1M13 12.5h2M16 12.5h1M9 13.5h1M17 13.5h1M0 14.5h1M6 14.5h2M0 15.5h1M3 15.5h1M7 15.5h2M14 15.5h2M8 16.5h2M17 16.5h1M9 17.5h2M12 17.5h1M1 18.5h1M4 18.5h2M0 19.5h1M10 19.5h1M16 19.5h1M19 19.5h1M8 20.5h1M14 20.5h1M3 21.5h3M9 21.5h1M16 21.5h1M3 22.5h3M17 22.5h1M3 23.5h1M6 23.5h1M9 23.5h1M16 23.5h1M1 24.5h1M7 24.5h1M15 24.5h1M17 24.5h1M5 25.5h1M16 25.5h1M1 26.5h3M8 26.5h2M19 26.5h1M0 27.5h1M5 27.5h1M7 27.5h2M17 27.5h1M4 28.5h1M7 28.5h1M0 29.5h3M5 29.5h1M8 29.5h2M3 30.5h1M10 30.5h1M16 30.5h1M0 31.5h1M2 31.5h1M4 31.5h1M7 31.5h2M15 31.5h1M19 31.5h1M2 32.5h1M5 32.5h1M0 33.5h4M8 33.5h2M5 34.5h1M11 34.5h1M4 35.5h1M8 35.5h1M3 36.5h1M7 36.5h1M17 36.5h1M5 37.5h2M1 38.5h2M10 38.5h1M16 38.5h1M4 39.5h1M7 39.5h2M2 40.5h1M9 40.5h1M0 41.5h3M14 41.5h1M17 41.5h1M8 42.5h1M17 42.5h1M1 43.5h1M5 43.5h1M7 43.5h1M16 43.5h1M1 44.5h1M3 44.5h1M0 45.5h1M2 45.5h1M4 45.5h1M14 45.5h1M2 46.5h2M17 46.5h1M5 47.5h1M11 47.5h1M4 48.5h1M7 48.5h2M0 49.5h1M7 49.5h1M4 50.5h2M8 50.5h1M16 50.5h2M1 51.5h1M5 51.5h1M8 51.5h1M16 51.5h1M1 52.5h1M8 52.5h2M14 52.5h1M18 52.5h2M5 53.5h1M7 53.5h1M9 53.5h1M13 53.5h1M5 54.5h1M8 54.5h1M14 54.5h2M4 55.5h1M15 55.5h1M3 56.5h2M8 56.5h1M15 56.5h1M0 57.5h1M2 57.5h1M8 57.5h1M13 57.5h2M8 58.5h1M13 59.5h1M1 60.5h1M8 60.5h1M10 61.5h1M13 61.5h1M0 62.5h1M3 62.5h1M18 62.5h1M1 63.5h1M3 63.5h2M6 63.5h1M9 63.5h1M13 63.5h1M6 64.5h1M13 64.5h1M19 64.5h1M0 65.5h2M13 65.5h1M0 66.5h2M3 66.5h2M8 66.5h1M1 67.5h1M3 67.5h1M5 67.5h1M8 67.5h1M12 67.5h1M0 68.5h1M2 68.5h2M7 68.5h1M13 68.5h1M0 69.5h1M3 69.5h1M5 69.5h1M13 69.5h1M3 70.5h3M3 71.5h1M13 71.5h1M13 72.5h1M2 73.5h1M4 73.5h1M13 73.5h1M2 74.5h1M4 74.5h1M15 74.5h1M17 74.5h1M15 75.5h1M14 76.5h1M0 77.5h1M3 77.5h1M14 77.5h2M0 78.5h1M15 78.5h2M3 79.5h2M14 79.5h1M4 80.5h2M1 82.5h1M5 82.5h1M1 84.5h1M3 84.5h1M0 85.5h1M4 85.5h1M0 86.5h2M3 86.5h1M0 88.5h1M0 89.5h1M0 90.5h1M0 91.5h1M1 93.5h1M3 93.5h1M0 94.5h1M0 95.5h2M3 96.5h1M1 97.5h1M3 98.5h1M0 99.5h1M0 101.5h1M1 102.5h1M0 104.5h1M0 113.5h1M0 115.5h1M0 116.5h1M0 118.5h1M1 121.5h1M1 128.5h1M0 129.5h1M0 131.5h1M0 134.5h2M0 137.5h1M0 138.5h3M0 139.5h2M3 142.5h1M2 143.5h1M1 144.5h1M0 145.5h1M0 148.5h1M2 150.5h1M5 150.5h1M0 151.5h2M0 152.5h1M3 152.5h1M0 153.5h3M4 153.5h1M0 154.5h1M4 154.5h1M7 154.5h1M2 155.5h4M8 155.5h2M1 156.5h1M1 157.5h2M14 157.5h1M0 158.5h1M3 158.5h2M15 158.5h1M0 159.5h3M5 159.5h1M9 159.5h2M12 159.5h3M16 159.5h1M1 160.5h1M4 160.5h1M6 160.5h1M8 160.5h1M12 160.5h2M3 161.5h1M7 161.5h1M9 161.5h1M11 161.5h1M1 162.5h1M6 162.5h1M9 162.5h1M0 163.5h1M5 163.5h2M9 163.5h1M2 164.5h2M6 164.5h1M1 165.5h1M1 167.5h1M2 169.5h1M3 170.5h1M1 171.5h1M1 172.5h2M1 174.5h2M2 175.5h1M1 177.5h1M0 180.5h2M1 182.5h2M0 185.5h1M0 186.5h1M1 187.5h1M1 188.5h1M1 189.5h1M0 192.5h2M0 193.5h2M1 195.5h1M1 200.5h1M1 201.5h1M0 202.5h1M0 205.5h2M1 206.5h1M0 207.5h1M0 208.5h2M0 209.5h1M1 210.5h1M3 211.5h1M0 214.5h1M1 215.5h1M2 217.5h1M1 218.5h1M0 219.5h1M4 219.5h1M2 220.5h1M0 221.5h1M2 221.5h1M1 224.5h1M4 224.5h1M7 224.5h1M1 226.5h1M1 227.5h2M1 230.5h2M7 231.5h1M1 232.5h2M2 233.5h1M4 233.5h1M2 234.5h1M1 235.5h1M1 237.5h2M1 238.5h1M1 239.5h1M6 239.5h1"/><path stroke="#24c1ae" d="M0 1.5h1M5 1.5h1M8 2.5h1M2 3.5h1M4 3.5h1M16 3.5h1M0 4.5h1M3 4.5h1M8 4.5h1M0 5.5h1M3 5.5h1M10 5.5h1M5 6.5h1M16 6.5h1M0 7.5h1M3 7.5h1M8 7.5h1M18 7.5h1M0 8.5h1M2 8.5h4M7 9.5h1M1 11.5h1M16 11.5h1M1 12.5h1M8 12.5h1M0 13.5h1M4 13.5h2M8 13.5h1M3 14.5h1M9 14.5h1M5 15.5h1M2 16.5h2M5 16.5h1M1 17.5h1M5 17.5h1M8 17.5h1M16 17.5h1M0 18.5h1M2 18.5h2M16 18.5h1M1 19.5h1M1 20.5h1M9 20.5h1M0 21.5h1M2 21.5h1M2 23.5h1M0 24.5h1M8 24.5h1M19 24.5h1M0 25.5h1M3 25.5h1M4 26.5h1M1 27.5h1M3 27.5h1M0 28.5h2M3 28.5h1M18 29.5h1M0 30.5h1M7 30.5h2M0 32.5h2M17 32.5h1M4 33.5h2M0 34.5h1M7 34.5h1M0 35.5h1M0 36.5h1M4 36.5h2M8 36.5h1M5 38.5h1M7 38.5h1M0 40.5h1M4 41.5h1M7 41.5h1M0 42.5h1M2 42.5h1M4 42.5h1M0 43.5h1M17 43.5h1M0 46.5h1M0 47.5h2M3 47.5h1M17 48.5h1M1 49.5h1M5 49.5h1M0 50.5h1M3 50.5h1M6 52.5h1M0 53.5h1M0 54.5h1M17 54.5h1M0 55.5h3M17 55.5h1M5 56.5h1M16 56.5h1M15 57.5h1M17 57.5h1M0 58.5h1M2 58.5h1M5 58.5h1M13 58.5h1M0 59.5h1M15 59.5h3M4 60.5h2M13 60.5h1M14 61.5h1M16 61.5h1M2 62.5h1M5 62.5h1M13 62.5h1M0 63.5h1M14 63.5h1M15 64.5h1M17 64.5h1M3 65.5h1M2 66.5h1M13 66.5h1M13 67.5h2M0 70.5h1M13 70.5h1M15 70.5h1M17 70.5h1M0 71.5h1M14 71.5h1M0 72.5h1M14 72.5h1M17 72.5h1M0 73.5h1M14 73.5h1M13 74.5h1M14 75.5h1M0 76.5h1M15 76.5h3M1 77.5h1M16 77.5h1M1 78.5h2M0 80.5h1M15 81.5h1M0 82.5h1M2 82.5h1M3 83.5h1M0 87.5h1M2 87.5h2M0 96.5h1M0 98.5h1M0 100.5h1M0 107.5h1M0 108.5h1M0 110.5h1M0 123.5h1M0 128.5h1M0 132.5h1M0 136.5h1M0 141.5h1M0 142.5h1M0 143.5h1M0 146.5h1M0 147.5h1M1 148.5h1M0 149.5h1M2 149.5h1M5 153.5h1M1 154.5h1M0 156.5h1M0 157.5h1M4 157.5h1M1 158.5h1M8 158.5h1M11 159.5h1M0 160.5h1M3 160.5h1M7 160.5h1M10 160.5h2M17 160.5h1M0 161.5h1M2 161.5h1M4 161.5h2M13 161.5h1M18 161.5h2M0 162.5h1M5 162.5h1M11 162.5h1M19 162.5h1M2 163.5h3M8 163.5h1M10 163.5h2M1 164.5h1M5 164.5h1M7 164.5h1M2 165.5h3M1 166.5h1M4 166.5h1M3 167.5h4M0 168.5h1M3 168.5h2M7 168.5h1M4 169.5h2M0 170.5h3M4 170.5h1M6 170.5h1M2 171.5h1M0 172.5h1M4 172.5h1M0 173.5h1M0 174.5h1M2 177.5h1M0 178.5h2M1 181.5h1M3 181.5h1M1 183.5h2M2 184.5h1M1 185.5h1M2 187.5h1M4 187.5h1M0 189.5h1M0 190.5h1M4 190.5h1M0 194.5h2M0 196.5h1M3 196.5h1M1 199.5h1M2 201.5h1M1 202.5h2M0 203.5h1M0 206.5h1M4 206.5h1M1 207.5h2M2 208.5h1M1 209.5h1M2 210.5h1M6 210.5h1M1 211.5h2M2 212.5h1M1 213.5h1M4 213.5h1M0 215.5h1M2 215.5h1M0 216.5h2M0 218.5h1M2 218.5h1M6 219.5h1M1 220.5h1M1 221.5h1M6 221.5h1M0 222.5h1M2 222.5h1M2 223.5h1M4 223.5h1M6 223.5h1M4 225.5h1M7 226.5h1M1 228.5h1M4 228.5h1M8 228.5h1M0 229.5h2M6 229.5h1M0 231.5h1M6 232.5h1M7 233.5h1M0 234.5h2M6 234.5h1M0 235.5h1M2 235.5h1M9 235.5h1M7 236.5h1M13 236.5h1M18 236.5h1M0 237.5h1M11 238.5h1M7 239.5h1M12 239.5h2M19 239.5h1M1 240.5h1M8 240.5h1M13 240.5h1"/><path stroke="#2cc4a7" d="M0 12.5h1M16 14.5h1M0 16.5h1M0 17.5h1M17 19.5h1M0 20.5h1M16 20.5h1M0 22.5h1M0 23.5h1M5 23.5h1M0 26.5h1M3 31.5h1M3 35.5h1M0 37.5h1M4 38.5h1M0 39.5h1M0 44.5h1M0 51.5h1M3 51.5h2M0 52.5h1M16 52.5h1M16 54.5h1M16 55.5h1M0 56.5h1M17 56.5h1M16 57.5h1M14 58.5h2M17 58.5h1M5 59.5h1M14 59.5h1M2 60.5h1M15 60.5h1M0 61.5h1M17 61.5h1M14 62.5h2M15 63.5h1M14 64.5h1M16 64.5h1M14 65.5h1M0 67.5h1M15 68.5h1M14 69.5h1M14 70.5h1M15 73.5h1M17 73.5h1M0 74.5h1M16 74.5h1M0 75.5h1M17 75.5h1M17 77.5h1M0 83.5h1M0 92.5h1M0 135.5h1M0 150.5h1M5 152.5h1M0 155.5h1M10 157.5h1M15 160.5h2M19 160.5h1M8 161.5h1M10 161.5h1M14 161.5h2M17 161.5h1M8 162.5h1M12 162.5h1M18 163.5h1M0 164.5h1M4 164.5h1M8 164.5h1M6 165.5h3M6 166.5h1M2 168.5h1M6 168.5h1M0 169.5h1M3 169.5h1M5 170.5h1M7 170.5h1M0 171.5h1M3 171.5h2M2 173.5h2M4 174.5h1M0 175.5h1M0 176.5h5M0 177.5h1M2 178.5h1M0 179.5h1M2 179.5h1M3 180.5h1M6 180.5h1M2 181.5h1M0 182.5h1M0 183.5h1M6 183.5h1M0 184.5h2M3 184.5h1M2 186.5h1M4 186.5h1M0 187.5h1M2 188.5h2M2 189.5h1M2 190.5h1M0 191.5h1M2 191.5h1M2 193.5h1M4 194.5h1M0 195.5h1M2 195.5h1M1 196.5h1M2 197.5h1M0 198.5h1M2 198.5h1M0 199.5h1M2 199.5h1M5 199.5h1M2 200.5h1M4 202.5h1M1 203.5h2M4 203.5h1M1 204.5h1M6 204.5h1M3 206.5h1M5 206.5h1M3 207.5h1M2 209.5h1M4 209.5h1M6 209.5h1M0 210.5h1M4 210.5h2M5 211.5h1M0 213.5h1M2 213.5h1M5 213.5h1M1 214.5h1M5 214.5h1M5 215.5h2M3 216.5h2M0 217.5h1M4 217.5h1M6 217.5h1M3 218.5h2M3 219.5h1M7 219.5h1M0 220.5h1M3 220.5h2M6 220.5h1M3 221.5h1M0 223.5h1M0 224.5h1M6 224.5h1M2 225.5h2M6 225.5h1M4 226.5h3M9 226.5h1M0 227.5h1M3 227.5h1M6 227.5h1M0 228.5h1M2 228.5h1M6 228.5h2M4 229.5h2M7 229.5h1M13 229.5h1M0 230.5h1M7 230.5h1M2 231.5h1M13 231.5h2M19 231.5h1M0 232.5h1M4 232.5h1M7 232.5h1M0 233.5h2M6 235.5h2M12 235.5h1M0 236.5h1M3 236.5h1M5 236.5h2M9 236.5h1M11 236.5h1M19 236.5h1M4 237.5h1M6 237.5h1M8 237.5h4M13 237.5h1M18 237.5h2M4 238.5h1M7 238.5h1M10 238.5h1M15 238.5h1M19 238.5h1M0 239.5h1M8 239.5h1M11 239.5h1M14 239.5h1M16 239.5h3M2 240.5h2M7 240.5h1M9 240.5h1M11 240.5h1M14 240.5h2M17 240.5h1M19 240.5h1"/><path stroke="#31c69f" d="M0 .5h1M16 58.5h1M17 60.5h1M15 61.5h1M16 62.5h2M16 63.5h1M0 64.5h1M16 65.5h2M14 66.5h4M15 67.5h3M14 68.5h1M16 68.5h2M16 69.5h1M15 71.5h3M15 72.5h2M16 73.5h1M14 74.5h1M16 75.5h1M14 160.5h1M16 161.5h1M3 162.5h1M10 162.5h1M13 162.5h3M19 163.5h1M11 164.5h1M19 164.5h1M0 165.5h1M5 165.5h1M9 165.5h1M11 165.5h1M18 165.5h1M0 166.5h1M8 166.5h1M0 167.5h1M6 169.5h2M5 171.5h2M6 172.5h1M4 173.5h1M7 173.5h1M3 174.5h1M3 175.5h1M6 175.5h1M6 176.5h1M3 177.5h2M6 177.5h1M3 179.5h1M2 180.5h1M4 180.5h2M0 181.5h1M4 181.5h2M4 182.5h1M4 183.5h1M4 184.5h1M6 184.5h1M2 185.5h1M5 187.5h1M0 188.5h1M4 188.5h1M6 190.5h1M3 191.5h1M2 192.5h1M4 192.5h1M3 193.5h1M2 194.5h2M6 194.5h1M4 195.5h1M2 196.5h1M0 197.5h1M4 199.5h1M0 200.5h1M4 200.5h1M6 200.5h1M0 201.5h1M0 204.5h1M3 204.5h2M2 205.5h1M5 205.5h1M6 206.5h1M4 207.5h3M3 208.5h4M3 209.5h1M7 210.5h1M0 211.5h1M4 211.5h1M6 211.5h2M0 212.5h1M3 212.5h2M6 212.5h1M3 213.5h1M6 213.5h1M2 214.5h2M4 215.5h1M3 217.5h1M6 218.5h1M9 220.5h1M4 221.5h1M3 222.5h7M3 223.5h1M7 223.5h1M3 224.5h1M0 225.5h2M7 225.5h1M10 225.5h1M8 226.5h1M14 226.5h1M5 227.5h1M19 227.5h1M3 228.5h1M5 228.5h1M15 228.5h1M3 229.5h1M10 229.5h1M3 230.5h4M13 230.5h2M19 230.5h1M4 231.5h1M6 231.5h1M11 231.5h1M3 232.5h1M8 232.5h1M10 232.5h2M5 233.5h2M11 233.5h1M4 234.5h1M7 234.5h1M11 234.5h1M13 234.5h2M18 234.5h1M4 235.5h1M8 235.5h1M11 235.5h1M13 235.5h1M15 235.5h1M4 236.5h1M8 236.5h1M10 236.5h1M14 236.5h4M16 237.5h1M0 238.5h1M6 238.5h1M8 238.5h2M13 238.5h2M16 238.5h2M9 239.5h1M15 239.5h1M0 240.5h1M4 240.5h1M6 240.5h1M12 240.5h1M18 240.5h1"/><path stroke="#37c897" d="M16 60.5h1M17 63.5h1M15 65.5h1M15 69.5h1M17 69.5h1M16 70.5h1M16 162.5h1M12 163.5h1M10 165.5h1M19 165.5h1M5 166.5h1M7 166.5h1M19 166.5h1M8 167.5h1M5 168.5h1M7 171.5h1M3 172.5h1M5 173.5h2M5 174.5h1M4 175.5h1M5 176.5h1M5 177.5h1M3 178.5h2M6 178.5h1M4 179.5h2M3 183.5h1M7 184.5h1M3 185.5h2M3 186.5h1M3 187.5h1M6 188.5h1M4 189.5h2M3 190.5h1M5 191.5h1M3 192.5h1M6 192.5h1M4 193.5h1M6 193.5h1M3 195.5h1M6 195.5h1M5 196.5h1M3 197.5h1M6 197.5h1M3 198.5h4M3 199.5h1M6 199.5h1M3 200.5h1M4 201.5h1M6 201.5h1M6 202.5h1M3 203.5h1M6 203.5h1M3 205.5h2M7 207.5h1M5 209.5h1M7 209.5h1M3 210.5h1M7 212.5h1M4 214.5h1M6 214.5h1M9 214.5h1M3 215.5h1M6 216.5h2M5 217.5h1M9 217.5h1M5 218.5h1M8 218.5h1M2 219.5h1M11 219.5h1M5 220.5h1M7 220.5h1M11 220.5h1M5 221.5h1M7 221.5h1M5 223.5h1M8 223.5h1M11 223.5h1M5 224.5h1M5 225.5h1M8 225.5h1M3 226.5h1M4 227.5h1M7 227.5h6M17 227.5h1M10 228.5h4M18 228.5h2M8 229.5h1M12 229.5h1M19 229.5h1M9 230.5h2M18 230.5h1M3 231.5h1M9 231.5h2M12 231.5h1M16 231.5h1M5 232.5h1M9 232.5h1M12 232.5h3M8 233.5h2M12 233.5h2M18 233.5h1M3 234.5h1M5 234.5h1M8 234.5h1M10 234.5h1M12 234.5h1M17 234.5h1M3 235.5h1M16 235.5h1M18 235.5h2M12 236.5h1M3 237.5h1M5 237.5h1M7 237.5h1M12 237.5h1M14 237.5h2M17 237.5h1M3 238.5h1M12 238.5h1M18 238.5h1M3 239.5h2M10 239.5h1M5 240.5h1M10 240.5h1M16 240.5h1"/><path stroke="#3fca8e" d="M17 162.5h1M14 163.5h1M9 164.5h2M13 164.5h1M18 164.5h1M12 165.5h1M10 166.5h2M7 167.5h1M9 167.5h1M11 167.5h2M8 168.5h1M9 169.5h1M5 172.5h1M7 172.5h1M7 176.5h1M7 177.5h1M6 179.5h1M7 180.5h1M5 182.5h1M5 184.5h1M5 185.5h3M6 186.5h1M5 188.5h1M3 189.5h1M7 189.5h1M4 191.5h1M6 191.5h1M7 192.5h1M5 193.5h1M5 194.5h1M5 195.5h1M7 195.5h1M4 196.5h1M4 197.5h1M3 201.5h1M7 201.5h1M3 202.5h1M5 202.5h1M5 203.5h1M7 203.5h1M5 204.5h1M6 205.5h1M7 206.5h1M7 208.5h1M8 211.5h1M5 212.5h1M7 214.5h1M7 215.5h2M5 216.5h1M7 217.5h1M7 218.5h1M10 218.5h1M12 218.5h1M5 219.5h1M8 219.5h2M10 220.5h1M19 220.5h1M8 221.5h2M11 222.5h1M19 223.5h1M8 224.5h2M11 224.5h3M19 224.5h1M12 225.5h2M18 225.5h2M10 226.5h2M19 226.5h1M14 227.5h1M18 227.5h1M9 228.5h1M9 229.5h1M11 229.5h1M14 229.5h1M8 230.5h1M11 230.5h2M15 230.5h1M17 230.5h1M5 231.5h1M8 231.5h1M15 231.5h1M18 231.5h1M15 232.5h1M17 232.5h3M3 233.5h1M10 233.5h1M15 233.5h1M19 233.5h1M9 234.5h1M15 234.5h1M19 234.5h1M5 235.5h1M10 235.5h1M14 235.5h1M17 235.5h1M5 238.5h1M5 239.5h1"/><path stroke="#4acb84" d="M13 163.5h1M15 163.5h2M14 164.5h2M9 166.5h1M12 166.5h1M18 166.5h1M18 167.5h2M9 168.5h1M12 168.5h1M18 168.5h1M8 169.5h1M10 169.5h1M19 169.5h1M8 171.5h1M6 174.5h3M5 175.5h1M7 175.5h1M5 178.5h1M7 179.5h1M6 181.5h2M3 182.5h1M6 182.5h1M5 186.5h1M7 186.5h1M6 187.5h1M6 189.5h1M5 190.5h1M5 192.5h1M7 193.5h1M7 194.5h1M6 196.5h2M5 197.5h1M7 197.5h1M7 198.5h1M5 200.5h1M5 201.5h1M7 202.5h2M8 206.5h1M8 209.5h1M7 213.5h3M9 215.5h1M8 216.5h1M10 216.5h1M11 217.5h1M11 218.5h1M19 218.5h1M10 219.5h1M13 219.5h1M8 220.5h1M11 221.5h1M18 221.5h2M12 222.5h1M18 222.5h1M9 223.5h2M12 223.5h2M15 223.5h1M18 224.5h1M9 225.5h1M12 226.5h2M15 226.5h1M17 226.5h2M13 227.5h1M15 227.5h1M14 228.5h1M15 229.5h1M17 229.5h2M17 231.5h1M16 232.5h1M14 233.5h1M16 233.5h2M16 234.5h1"/><path stroke="#57cc7a" d="M17 163.5h1M12 164.5h1M16 164.5h1M14 165.5h2M13 166.5h1M10 168.5h1M11 169.5h1M8 170.5h3M18 170.5h1M9 171.5h1M9 172.5h1M8 173.5h1M7 182.5h1M5 183.5h1M7 183.5h1M7 187.5h1M7 188.5h1M7 191.5h1M7 199.5h1M8 201.5h1M7 204.5h1M7 205.5h2M9 206.5h1M8 207.5h2M8 208.5h1M8 210.5h2M9 211.5h1M8 214.5h1M11 215.5h1M9 216.5h1M8 217.5h1M10 217.5h1M9 218.5h1M18 219.5h2M12 220.5h1M10 221.5h1M12 221.5h1M10 222.5h1M13 222.5h1M18 223.5h1M15 224.5h1M11 225.5h1M14 225.5h2M17 225.5h1M16 228.5h2M16 229.5h1M16 230.5h1"/><path stroke="#64cd6f" d="M17 164.5h1M13 165.5h1M10 167.5h1M11 168.5h1M19 168.5h1M12 169.5h1M8 172.5h1M8 175.5h1M8 176.5h1M9 177.5h1M7 178.5h1M8 180.5h1M7 190.5h2M8 195.5h1M8 198.5h1M7 200.5h2M19 208.5h1M8 212.5h2M11 212.5h1M10 215.5h1M11 216.5h1M18 216.5h2M12 217.5h2M18 217.5h2M18 218.5h1M12 219.5h1M13 220.5h1M18 220.5h1M13 221.5h1M17 221.5h1M15 222.5h1M17 222.5h1M19 222.5h1M14 223.5h1M10 224.5h1M14 224.5h1M16 224.5h1M16 225.5h1M16 226.5h1M16 227.5h1"/><path stroke="#72cd64" d="M14 166.5h1M16 166.5h2M13 167.5h1M18 169.5h1M11 170.5h1M19 170.5h1M10 171.5h2M19 171.5h1M10 172.5h1M9 173.5h1M11 173.5h1M10 174.5h1M8 177.5h1M8 178.5h1M8 179.5h1M9 180.5h1M8 181.5h2M8 182.5h1M8 188.5h1M8 189.5h1M8 191.5h1M8 193.5h2M9 195.5h1M8 196.5h1M8 197.5h1M9 202.5h1M8 203.5h3M8 204.5h2M10 206.5h1M10 207.5h1M9 208.5h2M9 209.5h2M10 210.5h1M18 210.5h1M10 211.5h2M10 212.5h1M12 212.5h1M18 212.5h1M11 213.5h1M19 213.5h1M10 214.5h2M18 214.5h1M12 215.5h1M19 215.5h1M13 216.5h1M13 218.5h1M14 220.5h2M15 221.5h1M14 222.5h1M17 223.5h1M17 224.5h1"/><path stroke="#81cc59" d="M17 165.5h1M16 167.5h2M13 168.5h3M18 171.5h1M18 172.5h1M10 173.5h1M19 173.5h1M9 174.5h1M9 175.5h1M9 176.5h1M9 182.5h1M8 183.5h2M8 184.5h1M8 185.5h2M8 186.5h1M9 189.5h1M8 192.5h2M9 196.5h1M8 199.5h2M9 200.5h1M10 204.5h1M9 205.5h1M11 206.5h1M11 207.5h1M11 208.5h1M11 209.5h1M12 210.5h1M19 212.5h1M12 213.5h1M18 213.5h1M12 214.5h2M19 214.5h1M13 215.5h1M18 215.5h1M12 216.5h1M14 216.5h2M14 218.5h2M14 219.5h2M16 220.5h1M14 221.5h1M16 222.5h1M16 223.5h1"/><path stroke="#8fcb4e" d="M16 165.5h1M15 166.5h1M14 167.5h2M12 170.5h2M12 171.5h1M19 172.5h1M10 175.5h1M10 176.5h1M10 177.5h1M9 179.5h1M9 184.5h1M9 186.5h1M8 187.5h2M9 188.5h1M9 190.5h1M9 191.5h1M8 194.5h2M9 197.5h1M19 198.5h1M9 201.5h1M10 202.5h1M19 202.5h1M10 205.5h2M19 205.5h1M12 206.5h1M12 207.5h1M19 207.5h1M18 208.5h1M19 209.5h1M11 210.5h1M19 210.5h1M12 211.5h1M18 211.5h2M13 212.5h1M10 213.5h1M15 215.5h1M14 217.5h2M17 217.5h1M16 218.5h1M16 219.5h1M17 220.5h1M16 221.5h1"/><path stroke="#9dc943" d="M15 169.5h1M11 172.5h3M12 173.5h1M18 173.5h1M11 174.5h1M19 175.5h1M11 176.5h1M19 176.5h1M19 177.5h1M10 180.5h1M11 182.5h1M10 183.5h1M10 193.5h1M9 198.5h1M11 198.5h1M10 199.5h1M19 199.5h1M10 200.5h2M11 203.5h1M19 203.5h1M11 204.5h1M19 204.5h1M18 205.5h1M18 206.5h1M18 207.5h1M12 208.5h1M12 209.5h1M18 209.5h1M13 213.5h1M14 214.5h1M17 214.5h1M14 215.5h1M17 215.5h1M16 216.5h2M17 218.5h1M17 219.5h1"/><path stroke="#abc739" d="M16 168.5h2M13 169.5h2M14 170.5h2M17 170.5h1M13 171.5h1M13 173.5h1M12 174.5h1M18 174.5h2M11 175.5h1M18 175.5h1M18 176.5h1M9 178.5h3M18 178.5h2M10 179.5h1M10 185.5h1M10 186.5h1M10 189.5h1M19 189.5h1M11 190.5h1M10 191.5h1M10 192.5h1M10 194.5h1M11 195.5h1M19 195.5h1M10 196.5h1M19 196.5h1M10 197.5h1M19 197.5h1M19 200.5h1M19 201.5h1M12 204.5h1M18 204.5h1M19 206.5h1M13 209.5h1M13 211.5h1M15 213.5h1M15 214.5h1"/><path stroke="#b9c431" d="M16 169.5h1M16 170.5h1M12 175.5h1M11 177.5h1M18 177.5h1M19 179.5h1M11 180.5h1M19 180.5h1M10 181.5h1M18 181.5h1M19 182.5h1M19 183.5h1M10 184.5h2M11 185.5h1M11 187.5h1M10 188.5h2M18 189.5h1M19 190.5h1M11 191.5h1M11 193.5h1M10 195.5h1M11 196.5h1M11 197.5h1M10 198.5h1M18 198.5h1M11 199.5h1M10 201.5h2M11 202.5h1M12 203.5h1M18 203.5h1M17 210.5h1M14 211.5h1M14 212.5h1M17 213.5h1M16 215.5h1M16 217.5h1"/><path stroke="#c5c22a" d="M17 169.5h1M15 171.5h1M17 171.5h1M15 172.5h2M12 176.5h2M12 177.5h1M12 178.5h1M11 179.5h1M18 179.5h1M19 181.5h1M10 182.5h1M18 182.5h1M11 183.5h2M19 184.5h1M11 186.5h1M18 186.5h2M10 187.5h1M18 187.5h1M12 188.5h1M18 188.5h1M11 189.5h1M10 190.5h1M19 191.5h1M11 192.5h1M19 192.5h1M12 193.5h1M18 193.5h2M19 194.5h1M12 195.5h1M18 196.5h1M12 199.5h1M18 199.5h1M12 202.5h1M18 202.5h1M13 208.5h1M13 210.5h2M17 211.5h1M15 212.5h3M14 213.5h1M16 214.5h1"/><path stroke="#d1bf27" d="M14 171.5h1M13 174.5h1M13 175.5h1M12 179.5h1M12 180.5h1M18 180.5h1M11 181.5h2M12 182.5h1M18 183.5h1M18 185.5h1M12 186.5h1M12 187.5h1M19 187.5h1M19 188.5h1M12 190.5h1M12 192.5h1M11 194.5h1M12 196.5h1M12 197.5h1M18 197.5h1M12 198.5h1M12 200.5h1M18 200.5h1M12 201.5h1M18 201.5h1M12 205.5h2M14 209.5h2M16 210.5h1M15 211.5h2M16 213.5h1"/><path stroke="#dcbd29" d="M16 171.5h1M14 172.5h1M17 172.5h1M14 173.5h2M17 173.5h1M14 174.5h1M17 174.5h1M14 175.5h1M13 178.5h1M12 184.5h1M18 184.5h1M12 185.5h1M19 185.5h1M18 190.5h1M12 191.5h1M18 191.5h1M18 192.5h1M12 194.5h1M18 194.5h1M18 195.5h1M13 199.5h1M13 201.5h1M13 202.5h1M13 204.5h1M17 205.5h1M13 206.5h1M13 207.5h3M14 208.5h2M15 210.5h1"/><path stroke="#e6bb2d" d="M16 173.5h1M15 174.5h2M14 176.5h1M17 176.5h1M13 177.5h1M13 179.5h1M13 188.5h1M12 189.5h1M13 200.5h1M13 203.5h1M15 203.5h1M14 205.5h1M14 206.5h2M16 207.5h2M17 208.5h1M16 209.5h2"/><path stroke="#f0ba36" d="M15 175.5h1M14 178.5h1M13 181.5h1M13 185.5h1M13 189.5h1M13 190.5h1M13 191.5h1M13 193.5h1M13 194.5h1M13 195.5h1M13 197.5h1M13 198.5h2M17 200.5h1M17 203.5h1M14 204.5h1M16 206.5h2M16 208.5h1"/><path stroke="#f8ba3d" d="M16 175.5h2M15 176.5h1M14 177.5h1M17 179.5h1M13 180.5h1M13 182.5h1M13 184.5h1M13 196.5h1M15 197.5h1M15 199.5h1M14 200.5h1M14 201.5h2M17 201.5h1M14 202.5h1M14 203.5h1M16 204.5h1M15 205.5h2"/><path stroke="#febe3c" d="M16 176.5h1M15 177.5h1M15 178.5h1M14 179.5h2M14 180.5h1M14 182.5h1M13 183.5h1M15 183.5h1M13 186.5h1M13 187.5h1M14 188.5h1M13 192.5h1M14 193.5h1M14 196.5h1M15 198.5h1M15 202.5h3M15 204.5h1M17 204.5h1"/><path stroke="#fec338" d="M16 177.5h1M16 178.5h2M16 179.5h1M16 180.5h1M14 181.5h2M15 182.5h1M14 184.5h1M17 184.5h1M17 185.5h1M14 186.5h1M14 187.5h2M17 188.5h1M15 189.5h1M14 190.5h1M17 190.5h1M14 192.5h1M16 192.5h1M17 193.5h1M15 194.5h1M15 195.5h1M17 195.5h1M14 197.5h1M14 199.5h1M16 199.5h2M15 200.5h1M16 201.5h1M16 203.5h1"/><path stroke="#fec934" d="M17 177.5h1M15 180.5h1M17 180.5h1M16 182.5h1M14 183.5h1M16 183.5h2M15 184.5h2M15 186.5h2M17 187.5h1M15 188.5h1M17 189.5h1M15 190.5h2M14 191.5h1M17 191.5h1M15 192.5h1M17 192.5h1M15 193.5h1M14 194.5h1M14 195.5h1M15 196.5h2M16 197.5h2"/><path stroke="#fccf30" d="M16 181.5h2M17 182.5h1M14 185.5h3M14 189.5h1M15 191.5h1M16 193.5h1M16 194.5h1M17 196.5h1M16 198.5h2M16 200.5h1"/><path stroke="#fad62d" d="M17 186.5h1M16 187.5h1M16 189.5h1M16 191.5h1M17 194.5h1M16 195.5h1"/><path stroke="#f5e327" d="M16 188.5h1"/></svg><text x="1053.0" y="1144.6" font-size="32.50" fill="#262626" text-anchor="middle">-0.4</text><text x="1164.5" y="1144.6" font-size="32.50" fill="#262626" text-anchor="middle">-0.2</text><text x="1276.0" y="1144.6" font-size="32.50" fill="#262626" text-anchor="middle">0</text><text x="1387.5" y="1144.6" font-size="32.50" fill="#262626" text-anchor="middle">0.2</text><text x="1499.0" y="1144.6" font-size="32.50" fill="#262626" text-anchor="middle">0.4</text><text x="986.5" y="1113.5" font-size="32.50" fill="#262626" text-anchor="end">660</text><text x="986.5" y="1006.4" font-size="32.50" fill="#262626" text-anchor="end">670</text><text x="986.5" y="899.3" font-size="32.50" fill="#262626" text-anchor="end">680</text><text x="986.5" y="792.2" font-size="32.50" fill="#262626" text-anchor="end">690</text><text x="986.5" y="685.1" font-size="32.50" fill="#262626" text-anchor="end">700</text><rect x="997.10" y="618.00" width="557.60" height="482.00" fill="none" stroke="#000" stroke-width="2.7"/><text transform="translate(1276.3 1184.4) scale(0.987 1)" font-size="36.50" fill="#000" text-anchor="middle">Bottom gate (V)</text><text transform="translate(918.2 854.8) rotate(-90) scale(1.000 1)" font-size="36.50" fill="#000" text-anchor="middle">Wavelength (nm)</text><rect x="1573.3" y="618.6" width="41.0" height="481.1" fill="url(#pg)" stroke="#333" stroke-width="0.9"/><text transform="translate(1624.1 1076.7) scale(0.935 1)" font-size="31.50" fill="#262626" text-anchor="start">-600</text><path d="M1614.3 1064.5h-4.5" stroke="#262626" stroke-width="0.9"/><text transform="translate(1624.1 1008.2) scale(0.935 1)" font-size="31.50" fill="#262626" text-anchor="start">-400</text><path d="M1614.3 996.0h-4.5" stroke="#262626" stroke-width="0.9"/><text transform="translate(1624.1 939.7) scale(0.935 1)" font-size="31.50" fill="#262626" text-anchor="start">-200</text><path d="M1614.3 927.5h-4.5" stroke="#262626" stroke-width="0.9"/><text transform="translate(1624.1 871.2) scale(0.935 1)" font-size="31.50" fill="#262626" text-anchor="start">0</text><path d="M1614.3 859.0h-4.5" stroke="#262626" stroke-width="0.9"/><text transform="translate(1624.1 802.7) scale(0.935 1)" font-size="31.50" fill="#262626" text-anchor="start">200</text><path d="M1614.3 790.5h-4.5" stroke="#262626" stroke-width="0.9"/><text transform="translate(1624.1 734.2) scale(0.935 1)" font-size="31.50" fill="#262626" text-anchor="start">400</text><path d="M1614.3 722.0h-4.5" stroke="#262626" stroke-width="0.9"/><text transform="translate(1624.1 665.7) scale(0.935 1)" font-size="31.50" fill="#262626" text-anchor="start">600</text><path d="M1614.3 653.5h-4.5" stroke="#262626" stroke-width="0.9"/><text transform="translate(1694.6 847.8) rotate(90) scale(0.987 1)" font-size="36.50" fill="#000" text-anchor="middle">Intensity (arb. units)</text><path d="M1337.6 707.2V1073.1" stroke="#fff" stroke-width="3.3" stroke-dasharray="12 8.83" fill="none"/><text x="1010.6" y="665.8" font-size="47.20" fill="#ececec" text-anchor="start" font-weight="bold">d</text><text transform="translate(1211.3 656.4) scale(0.987 1)" font-size="36.50" fill="#fff" text-anchor="start">Reflectance</text></svg></body></html>
